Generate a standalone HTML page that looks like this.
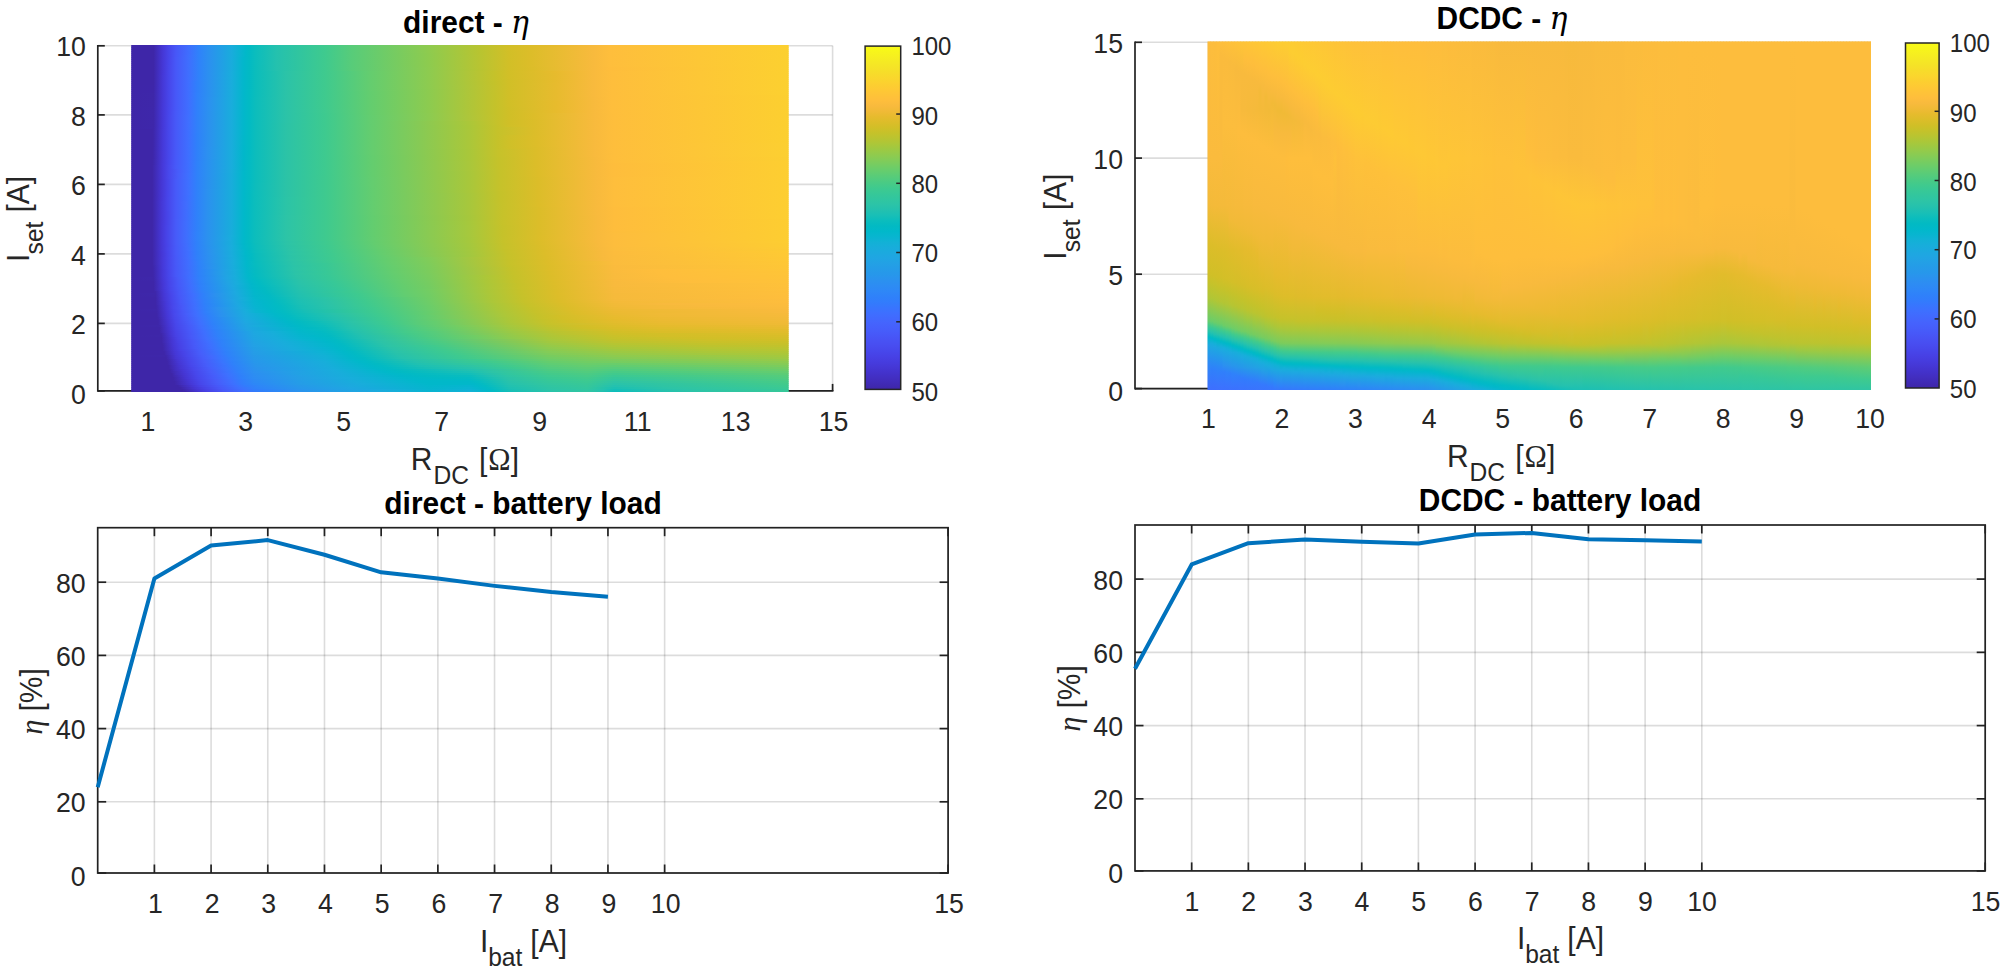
<!DOCTYPE html>
<html><head><meta charset="utf-8"><title>efficiency</title>
<style>html,body{margin:0;padding:0;background:#fff;overflow:hidden}svg{display:block}text{font-family:"Liberation Sans",Arial,Helvetica,sans-serif}.m{font-family:"DejaVu Serif","Liberation Serif",serif;font-style:italic;font-weight:normal}.s{font-family:"Liberation Serif","DejaVu Serif",serif}.mi{font-family:"Liberation Serif","DejaVu Serif",serif;font-style:italic}</style></head>
<body><svg width="2007" height="974" viewBox="0 0 2007 974">
<rect width="2007" height="974" fill="#fff"/>
<defs><linearGradient id="g1"><stop offset="0" stop-color="#3e26a8"/><stop offset=".034" stop-color="#3e26a8"/><stop offset=".048" stop-color="#4537d6"/><stop offset=".057" stop-color="#4745e9"/><stop offset=".068" stop-color="#4757f7"/><stop offset=".087" stop-color="#3f6dfe"/><stop offset=".103" stop-color="#2f82fa"/><stop offset=".119" stop-color="#2b91ef"/><stop offset=".153" stop-color="#19acdc"/><stop offset=".174" stop-color="#01b8c9"/><stop offset=".18" stop-color="#02bac4"/><stop offset=".189" stop-color="#0bbdbd"/><stop offset=".221" stop-color="#24c1ae"/><stop offset=".295" stop-color="#3fca8e"/><stop offset=".336" stop-color="#58cc79"/><stop offset=".454" stop-color="#8fcb4e"/><stop offset=".53" stop-color="#b8c431"/><stop offset=".571" stop-color="#d0bf27"/><stop offset=".605" stop-color="#dcbd29"/><stop offset=".642" stop-color="#e6bb2d"/><stop offset=".703" stop-color="#f8ba3d"/><stop offset=".728" stop-color="#febe3c"/><stop offset="1" stop-color="#fcd030"/></linearGradient>
<linearGradient id="g2"><stop offset="0" stop-color="#3e26a8"/><stop offset=".034" stop-color="#3e26a8"/><stop offset=".048" stop-color="#4537d6"/><stop offset=".057" stop-color="#4745e9"/><stop offset=".068" stop-color="#4757f7"/><stop offset=".087" stop-color="#3f6dfe"/><stop offset=".103" stop-color="#2f82fa"/><stop offset=".119" stop-color="#2b91ef"/><stop offset=".153" stop-color="#19acdc"/><stop offset=".174" stop-color="#01b8c9"/><stop offset=".18" stop-color="#02bac3"/><stop offset=".189" stop-color="#0bbdbd"/><stop offset=".221" stop-color="#24c1ae"/><stop offset=".295" stop-color="#3fca8e"/><stop offset=".336" stop-color="#58cc79"/><stop offset=".454" stop-color="#8fcb4e"/><stop offset=".532" stop-color="#b9c430"/><stop offset=".575" stop-color="#d3bf27"/><stop offset=".607" stop-color="#dcbd29"/><stop offset=".703" stop-color="#f8ba3d"/><stop offset=".728" stop-color="#febe3c"/><stop offset="1" stop-color="#fcd030"/></linearGradient>
<linearGradient id="g3"><stop offset="0" stop-color="#3e26a8"/><stop offset=".034" stop-color="#3e26a8"/><stop offset=".048" stop-color="#4537d6"/><stop offset=".057" stop-color="#4745e9"/><stop offset=".068" stop-color="#4757f7"/><stop offset=".087" stop-color="#3f6dfe"/><stop offset=".103" stop-color="#2f82fa"/><stop offset=".119" stop-color="#2b91ef"/><stop offset=".153" stop-color="#19acdc"/><stop offset=".174" stop-color="#01b8c9"/><stop offset=".18" stop-color="#02bac3"/><stop offset=".189" stop-color="#0bbdbd"/><stop offset=".221" stop-color="#24c1ae"/><stop offset=".295" stop-color="#3fca8e"/><stop offset=".336" stop-color="#58cc79"/><stop offset=".454" stop-color="#8fcb4e"/><stop offset=".532" stop-color="#b9c430"/><stop offset=".575" stop-color="#d3bf27"/><stop offset=".607" stop-color="#dcbd29"/><stop offset=".703" stop-color="#f8ba3d"/><stop offset=".728" stop-color="#febe3c"/><stop offset="1" stop-color="#fcd030"/></linearGradient>
<linearGradient id="g4"><stop offset="0" stop-color="#3e26a8"/><stop offset=".034" stop-color="#3e26a8"/><stop offset=".048" stop-color="#4537d6"/><stop offset=".057" stop-color="#4745e9"/><stop offset=".068" stop-color="#4757f7"/><stop offset=".087" stop-color="#3f6dfe"/><stop offset=".103" stop-color="#2f82fa"/><stop offset=".119" stop-color="#2b91ef"/><stop offset=".153" stop-color="#19acdc"/><stop offset=".174" stop-color="#01b8c9"/><stop offset=".18" stop-color="#02bac3"/><stop offset=".189" stop-color="#0bbdbd"/><stop offset=".221" stop-color="#24c1ae"/><stop offset=".295" stop-color="#3fca8e"/><stop offset=".336" stop-color="#58cc79"/><stop offset=".454" stop-color="#8fcb4e"/><stop offset=".532" stop-color="#b9c430"/><stop offset=".575" stop-color="#d2bf27"/><stop offset=".607" stop-color="#dcbd29"/><stop offset=".703" stop-color="#f8ba3d"/><stop offset=".728" stop-color="#febe3c"/><stop offset="1" stop-color="#fcd030"/></linearGradient>
<linearGradient id="g5"><stop offset="0" stop-color="#3e26a8"/><stop offset=".034" stop-color="#3e26a8"/><stop offset=".048" stop-color="#4537d6"/><stop offset=".057" stop-color="#4745e9"/><stop offset=".068" stop-color="#4757f8"/><stop offset=".087" stop-color="#3f6dfe"/><stop offset=".103" stop-color="#2f82fa"/><stop offset=".119" stop-color="#2b91ef"/><stop offset=".153" stop-color="#19acdc"/><stop offset=".174" stop-color="#01b8c9"/><stop offset=".18" stop-color="#02bac3"/><stop offset=".189" stop-color="#0bbdbd"/><stop offset=".221" stop-color="#24c1ae"/><stop offset=".295" stop-color="#3fca8e"/><stop offset=".336" stop-color="#58cc79"/><stop offset=".454" stop-color="#8ecb4e"/><stop offset=".532" stop-color="#b9c430"/><stop offset=".575" stop-color="#d2bf27"/><stop offset=".607" stop-color="#dcbd29"/><stop offset=".703" stop-color="#f8ba3d"/><stop offset=".728" stop-color="#febe3c"/><stop offset="1" stop-color="#fcd030"/></linearGradient>
<linearGradient id="g6"><stop offset="0" stop-color="#3e26a8"/><stop offset=".034" stop-color="#3e26a8"/><stop offset=".048" stop-color="#4537d6"/><stop offset=".057" stop-color="#4745e9"/><stop offset=".068" stop-color="#4757f8"/><stop offset=".087" stop-color="#3f6efe"/><stop offset=".103" stop-color="#2f82fa"/><stop offset=".119" stop-color="#2b91ef"/><stop offset=".153" stop-color="#19acdc"/><stop offset=".174" stop-color="#01b8c9"/><stop offset=".18" stop-color="#02bac3"/><stop offset=".189" stop-color="#0bbdbd"/><stop offset=".221" stop-color="#24c1ae"/><stop offset=".295" stop-color="#3fca8e"/><stop offset=".336" stop-color="#58cc79"/><stop offset=".454" stop-color="#8ecb4e"/><stop offset=".532" stop-color="#b9c431"/><stop offset=".575" stop-color="#d2bf27"/><stop offset=".607" stop-color="#dcbd29"/><stop offset=".703" stop-color="#f8ba3d"/><stop offset=".728" stop-color="#febe3c"/><stop offset="1" stop-color="#fcd030"/></linearGradient>
<linearGradient id="g7"><stop offset="0" stop-color="#3e26a8"/><stop offset=".034" stop-color="#3e26a8"/><stop offset=".048" stop-color="#4537d6"/><stop offset=".057" stop-color="#4745e9"/><stop offset=".068" stop-color="#4758f8"/><stop offset=".087" stop-color="#3f6efe"/><stop offset=".103" stop-color="#2f82fa"/><stop offset=".119" stop-color="#2b91ef"/><stop offset=".153" stop-color="#19acdc"/><stop offset=".171" stop-color="#02b7cb"/><stop offset=".18" stop-color="#02bac3"/><stop offset=".189" stop-color="#0bbdbd"/><stop offset=".221" stop-color="#24c1ae"/><stop offset=".295" stop-color="#3fca8e"/><stop offset=".336" stop-color="#58cc79"/><stop offset=".454" stop-color="#8ecb4e"/><stop offset=".532" stop-color="#b9c431"/><stop offset=".575" stop-color="#d2bf27"/><stop offset=".607" stop-color="#dcbd29"/><stop offset=".703" stop-color="#f8ba3d"/><stop offset=".728" stop-color="#febe3c"/><stop offset="1" stop-color="#fcd030"/></linearGradient>
<linearGradient id="g8"><stop offset="0" stop-color="#3e26a8"/><stop offset=".034" stop-color="#3e26a8"/><stop offset=".048" stop-color="#4537d6"/><stop offset=".057" stop-color="#4745ea"/><stop offset=".068" stop-color="#4758f8"/><stop offset=".087" stop-color="#3f6efe"/><stop offset=".103" stop-color="#2f82fa"/><stop offset=".119" stop-color="#2b91ef"/><stop offset=".153" stop-color="#19acdc"/><stop offset=".171" stop-color="#02b7cb"/><stop offset=".18" stop-color="#02bac3"/><stop offset=".189" stop-color="#0bbdbd"/><stop offset=".221" stop-color="#24c1ae"/><stop offset=".295" stop-color="#3fca8e"/><stop offset=".336" stop-color="#58cc79"/><stop offset=".454" stop-color="#8ecb4e"/><stop offset=".532" stop-color="#b9c431"/><stop offset=".575" stop-color="#d2bf27"/><stop offset=".607" stop-color="#dcbd29"/><stop offset=".703" stop-color="#f8ba3d"/><stop offset=".728" stop-color="#febe3c"/><stop offset="1" stop-color="#fcd030"/></linearGradient>
<linearGradient id="g9"><stop offset="0" stop-color="#3e26a8"/><stop offset=".034" stop-color="#3e26a8"/><stop offset=".048" stop-color="#4537d6"/><stop offset=".057" stop-color="#4745ea"/><stop offset=".068" stop-color="#4758f8"/><stop offset=".087" stop-color="#3f6efe"/><stop offset=".103" stop-color="#2f82fa"/><stop offset=".119" stop-color="#2b91ef"/><stop offset=".153" stop-color="#19acdc"/><stop offset=".171" stop-color="#02b7cb"/><stop offset=".18" stop-color="#02bac3"/><stop offset=".189" stop-color="#0bbdbd"/><stop offset=".221" stop-color="#24c1ae"/><stop offset=".295" stop-color="#3fca8e"/><stop offset=".336" stop-color="#58cc79"/><stop offset=".454" stop-color="#8ecb4e"/><stop offset=".532" stop-color="#b9c431"/><stop offset=".575" stop-color="#d2bf27"/><stop offset=".607" stop-color="#dcbd29"/><stop offset=".703" stop-color="#f8ba3d"/><stop offset=".728" stop-color="#febe3c"/><stop offset="1" stop-color="#fcd030"/></linearGradient>
<linearGradient id="g10"><stop offset="0" stop-color="#3e26a8"/><stop offset=".034" stop-color="#3e26a8"/><stop offset=".048" stop-color="#4537d6"/><stop offset=".057" stop-color="#4745ea"/><stop offset=".068" stop-color="#4758f8"/><stop offset=".087" stop-color="#3f6efe"/><stop offset=".103" stop-color="#2f82fa"/><stop offset=".119" stop-color="#2b91ef"/><stop offset=".153" stop-color="#19acdc"/><stop offset=".171" stop-color="#02b7cb"/><stop offset=".18" stop-color="#02bac3"/><stop offset=".189" stop-color="#0bbdbd"/><stop offset=".221" stop-color="#24c1ae"/><stop offset=".295" stop-color="#3fca8e"/><stop offset=".336" stop-color="#58cc79"/><stop offset=".454" stop-color="#8ecb4e"/><stop offset=".532" stop-color="#b9c431"/><stop offset=".575" stop-color="#d2bf27"/><stop offset=".607" stop-color="#dcbd29"/><stop offset=".703" stop-color="#f8ba3d"/><stop offset=".728" stop-color="#febe3c"/><stop offset="1" stop-color="#fcd030"/></linearGradient>
<linearGradient id="g11"><stop offset="0" stop-color="#3e26a8"/><stop offset=".034" stop-color="#3e26a8"/><stop offset=".048" stop-color="#4537d6"/><stop offset=".057" stop-color="#4746ea"/><stop offset=".068" stop-color="#4758f8"/><stop offset=".087" stop-color="#3f6efe"/><stop offset=".103" stop-color="#2f82fa"/><stop offset=".119" stop-color="#2b91ef"/><stop offset=".153" stop-color="#19acdc"/><stop offset=".171" stop-color="#02b7cb"/><stop offset=".18" stop-color="#02bac3"/><stop offset=".189" stop-color="#0bbdbc"/><stop offset=".221" stop-color="#24c1ae"/><stop offset=".295" stop-color="#3fca8e"/><stop offset=".336" stop-color="#58cc79"/><stop offset=".454" stop-color="#8ecb4e"/><stop offset=".532" stop-color="#b9c431"/><stop offset=".575" stop-color="#d2bf27"/><stop offset=".607" stop-color="#dcbd29"/><stop offset=".703" stop-color="#f8ba3d"/><stop offset=".728" stop-color="#febe3c"/><stop offset="1" stop-color="#fcd030"/></linearGradient>
<linearGradient id="g12"><stop offset="0" stop-color="#3e26a8"/><stop offset=".034" stop-color="#3e26a8"/><stop offset=".048" stop-color="#4537d6"/><stop offset=".057" stop-color="#4746ea"/><stop offset=".068" stop-color="#4758f8"/><stop offset=".087" stop-color="#3f6efe"/><stop offset=".103" stop-color="#2f82fa"/><stop offset=".119" stop-color="#2b91ef"/><stop offset=".153" stop-color="#19acdc"/><stop offset=".171" stop-color="#02b7cb"/><stop offset=".18" stop-color="#02bac3"/><stop offset=".189" stop-color="#0bbdbc"/><stop offset=".221" stop-color="#24c1ae"/><stop offset=".295" stop-color="#3fca8e"/><stop offset=".336" stop-color="#58cc79"/><stop offset=".454" stop-color="#8ecb4f"/><stop offset=".532" stop-color="#b9c431"/><stop offset=".575" stop-color="#d2bf27"/><stop offset=".61" stop-color="#dcbd29"/><stop offset=".703" stop-color="#f8ba3d"/><stop offset=".728" stop-color="#febd3c"/><stop offset="1" stop-color="#fcd030"/></linearGradient>
<linearGradient id="g13"><stop offset="0" stop-color="#3e26a8"/><stop offset=".034" stop-color="#3e26a8"/><stop offset=".048" stop-color="#4537d6"/><stop offset=".057" stop-color="#4746ea"/><stop offset=".068" stop-color="#4758f8"/><stop offset=".087" stop-color="#3f6efe"/><stop offset=".103" stop-color="#2f82fa"/><stop offset=".119" stop-color="#2b91ef"/><stop offset=".153" stop-color="#19acdc"/><stop offset=".171" stop-color="#02b7cb"/><stop offset=".18" stop-color="#02bac3"/><stop offset=".189" stop-color="#0bbdbc"/><stop offset=".221" stop-color="#24c1ae"/><stop offset=".295" stop-color="#3fca8e"/><stop offset=".336" stop-color="#58cc79"/><stop offset=".454" stop-color="#8ecb4f"/><stop offset=".532" stop-color="#b8c431"/><stop offset=".575" stop-color="#d2bf27"/><stop offset=".61" stop-color="#dcbd29"/><stop offset=".703" stop-color="#f8ba3d"/><stop offset=".728" stop-color="#febd3c"/><stop offset="1" stop-color="#fcd030"/></linearGradient>
<linearGradient id="g14"><stop offset="0" stop-color="#3e26a8"/><stop offset=".034" stop-color="#3e26a8"/><stop offset=".048" stop-color="#4537d6"/><stop offset=".057" stop-color="#4746ea"/><stop offset=".068" stop-color="#4758f8"/><stop offset=".087" stop-color="#3f6efe"/><stop offset=".103" stop-color="#2f82fa"/><stop offset=".119" stop-color="#2b91ef"/><stop offset=".153" stop-color="#19addc"/><stop offset=".171" stop-color="#02b7cb"/><stop offset=".18" stop-color="#02bac3"/><stop offset=".189" stop-color="#0bbdbc"/><stop offset=".235" stop-color="#2bc3a8"/><stop offset=".295" stop-color="#3fca8e"/><stop offset=".363" stop-color="#64cd6f"/><stop offset=".454" stop-color="#8ecb4f"/><stop offset=".553" stop-color="#c5c22a"/><stop offset=".575" stop-color="#d2bf27"/><stop offset=".644" stop-color="#e7bb2d"/><stop offset=".703" stop-color="#f8ba3d"/><stop offset=".731" stop-color="#febe3c"/><stop offset="1" stop-color="#fcd030"/></linearGradient>
<linearGradient id="g15"><stop offset="0" stop-color="#3e26a8"/><stop offset=".034" stop-color="#3e26a8"/><stop offset=".048" stop-color="#4537d7"/><stop offset=".057" stop-color="#4746ea"/><stop offset=".068" stop-color="#4758f8"/><stop offset=".087" stop-color="#3f6efe"/><stop offset=".103" stop-color="#2f82fa"/><stop offset=".119" stop-color="#2b91ef"/><stop offset=".153" stop-color="#19addc"/><stop offset=".171" stop-color="#02b7cb"/><stop offset=".18" stop-color="#02bac3"/><stop offset=".189" stop-color="#0bbdbc"/><stop offset=".235" stop-color="#2bc3a8"/><stop offset=".295" stop-color="#3fca8e"/><stop offset=".363" stop-color="#64cd6f"/><stop offset=".454" stop-color="#8ecb4f"/><stop offset=".553" stop-color="#c5c22a"/><stop offset=".575" stop-color="#d2bf27"/><stop offset=".644" stop-color="#e6bb2d"/><stop offset=".703" stop-color="#f8ba3d"/><stop offset=".731" stop-color="#febe3c"/><stop offset="1" stop-color="#fcd030"/></linearGradient>
<linearGradient id="g16"><stop offset="0" stop-color="#3e26a8"/><stop offset=".034" stop-color="#3e26a8"/><stop offset=".048" stop-color="#4538d7"/><stop offset=".057" stop-color="#4746ea"/><stop offset=".068" stop-color="#4758f8"/><stop offset=".087" stop-color="#3f6efe"/><stop offset=".103" stop-color="#2f82fa"/><stop offset=".119" stop-color="#2b91ef"/><stop offset=".153" stop-color="#19addc"/><stop offset=".171" stop-color="#02b7cb"/><stop offset=".18" stop-color="#02bac3"/><stop offset=".189" stop-color="#0bbdbc"/><stop offset=".235" stop-color="#2bc3a8"/><stop offset=".295" stop-color="#3fca8e"/><stop offset=".363" stop-color="#64cd6f"/><stop offset=".454" stop-color="#8ecb4f"/><stop offset=".553" stop-color="#c5c22a"/><stop offset=".575" stop-color="#d2bf27"/><stop offset=".644" stop-color="#e6bb2d"/><stop offset=".703" stop-color="#f8ba3d"/><stop offset=".731" stop-color="#febe3c"/><stop offset="1" stop-color="#fcd030"/></linearGradient>
<linearGradient id="g17"><stop offset="0" stop-color="#3e26a8"/><stop offset=".034" stop-color="#3e26a8"/><stop offset=".048" stop-color="#4538d7"/><stop offset=".057" stop-color="#4746ea"/><stop offset=".068" stop-color="#4758f8"/><stop offset=".087" stop-color="#3f6eff"/><stop offset=".103" stop-color="#2f82fa"/><stop offset=".119" stop-color="#2b91ef"/><stop offset=".153" stop-color="#19addc"/><stop offset=".171" stop-color="#02b7cb"/><stop offset=".18" stop-color="#02bac3"/><stop offset=".189" stop-color="#0bbdbc"/><stop offset=".235" stop-color="#2bc3a8"/><stop offset=".295" stop-color="#3fca8e"/><stop offset=".363" stop-color="#64cd6f"/><stop offset=".454" stop-color="#8ecb4f"/><stop offset=".553" stop-color="#c5c22a"/><stop offset=".575" stop-color="#d2bf27"/><stop offset=".644" stop-color="#e6bb2d"/><stop offset=".703" stop-color="#f8ba3d"/><stop offset=".731" stop-color="#febe3c"/><stop offset="1" stop-color="#fcd030"/></linearGradient>
<linearGradient id="g18"><stop offset="0" stop-color="#3e26a8"/><stop offset=".034" stop-color="#3e26a8"/><stop offset=".048" stop-color="#4538d7"/><stop offset=".057" stop-color="#4746ea"/><stop offset=".068" stop-color="#4758f8"/><stop offset=".087" stop-color="#3f6eff"/><stop offset=".103" stop-color="#2f82fa"/><stop offset=".119" stop-color="#2b91ef"/><stop offset=".153" stop-color="#19addc"/><stop offset=".171" stop-color="#02b7cb"/><stop offset=".18" stop-color="#02bac3"/><stop offset=".189" stop-color="#0bbdbc"/><stop offset=".235" stop-color="#2bc3a8"/><stop offset=".295" stop-color="#3fca8e"/><stop offset=".363" stop-color="#64cd6f"/><stop offset=".454" stop-color="#8ecb4f"/><stop offset=".553" stop-color="#c5c22a"/><stop offset=".575" stop-color="#d1bf27"/><stop offset=".644" stop-color="#e6bb2d"/><stop offset=".703" stop-color="#f8ba3d"/><stop offset=".731" stop-color="#febe3c"/><stop offset="1" stop-color="#fcd030"/></linearGradient>
<linearGradient id="g19"><stop offset="0" stop-color="#3e26a8"/><stop offset=".034" stop-color="#3e26a8"/><stop offset=".048" stop-color="#4538d7"/><stop offset=".057" stop-color="#4746ea"/><stop offset=".068" stop-color="#4758f8"/><stop offset=".087" stop-color="#3f6eff"/><stop offset=".1" stop-color="#307ffb"/><stop offset=".119" stop-color="#2b91ef"/><stop offset=".153" stop-color="#19addc"/><stop offset=".171" stop-color="#02b7cb"/><stop offset=".18" stop-color="#02bac3"/><stop offset=".189" stop-color="#0bbdbc"/><stop offset=".235" stop-color="#2bc3a8"/><stop offset=".295" stop-color="#3fca8e"/><stop offset=".363" stop-color="#64cd6f"/><stop offset=".454" stop-color="#8ecb4f"/><stop offset=".553" stop-color="#c4c22a"/><stop offset=".575" stop-color="#d1bf27"/><stop offset=".644" stop-color="#e6bb2d"/><stop offset=".703" stop-color="#f8ba3d"/><stop offset=".731" stop-color="#febe3c"/><stop offset="1" stop-color="#fcd030"/></linearGradient>
<linearGradient id="g20"><stop offset="0" stop-color="#3e26a8"/><stop offset=".034" stop-color="#3e26a8"/><stop offset=".048" stop-color="#4538d7"/><stop offset=".057" stop-color="#4746ea"/><stop offset=".068" stop-color="#4758f8"/><stop offset=".087" stop-color="#3f6eff"/><stop offset=".1" stop-color="#307ffb"/><stop offset=".119" stop-color="#2b91ef"/><stop offset=".153" stop-color="#19addc"/><stop offset=".171" stop-color="#02b7cb"/><stop offset=".18" stop-color="#02bac3"/><stop offset=".189" stop-color="#0bbdbc"/><stop offset=".235" stop-color="#2bc3a8"/><stop offset=".295" stop-color="#3fca8e"/><stop offset=".363" stop-color="#64cd6f"/><stop offset=".454" stop-color="#8ecb4f"/><stop offset=".553" stop-color="#c4c22a"/><stop offset=".575" stop-color="#d1bf27"/><stop offset=".646" stop-color="#e7bb2e"/><stop offset=".703" stop-color="#f8ba3d"/><stop offset=".731" stop-color="#febe3c"/><stop offset="1" stop-color="#fcd030"/></linearGradient>
<linearGradient id="g21"><stop offset="0" stop-color="#3e26a8"/><stop offset=".034" stop-color="#3e26a9"/><stop offset=".048" stop-color="#4538d7"/><stop offset=".057" stop-color="#4746ea"/><stop offset=".068" stop-color="#4758f8"/><stop offset=".087" stop-color="#3f6eff"/><stop offset=".1" stop-color="#307ffb"/><stop offset=".119" stop-color="#2b91ef"/><stop offset=".153" stop-color="#19addc"/><stop offset=".171" stop-color="#02b7cb"/><stop offset=".18" stop-color="#02bac3"/><stop offset=".189" stop-color="#0bbdbc"/><stop offset=".235" stop-color="#2bc3a8"/><stop offset=".295" stop-color="#3fca8e"/><stop offset=".363" stop-color="#64cd6f"/><stop offset=".454" stop-color="#8ecb4f"/><stop offset=".553" stop-color="#c4c22b"/><stop offset=".575" stop-color="#d1bf27"/><stop offset=".646" stop-color="#e7bb2e"/><stop offset=".703" stop-color="#f8ba3d"/><stop offset=".731" stop-color="#febe3c"/><stop offset="1" stop-color="#fcd030"/></linearGradient>
<linearGradient id="g22"><stop offset="0" stop-color="#3e26a8"/><stop offset=".034" stop-color="#3e26a9"/><stop offset=".048" stop-color="#4538d7"/><stop offset=".057" stop-color="#4746ea"/><stop offset=".068" stop-color="#4758f8"/><stop offset=".087" stop-color="#3f6eff"/><stop offset=".1" stop-color="#307ffb"/><stop offset=".119" stop-color="#2b91ef"/><stop offset=".153" stop-color="#19addc"/><stop offset=".171" stop-color="#02b7cb"/><stop offset=".18" stop-color="#02bac3"/><stop offset=".189" stop-color="#0bbdbc"/><stop offset=".235" stop-color="#2bc3a8"/><stop offset=".295" stop-color="#3fca8e"/><stop offset=".363" stop-color="#64cd6f"/><stop offset=".454" stop-color="#8ecb4f"/><stop offset=".553" stop-color="#c4c22b"/><stop offset=".575" stop-color="#d1bf27"/><stop offset=".646" stop-color="#e7bb2e"/><stop offset=".703" stop-color="#f8ba3d"/><stop offset=".731" stop-color="#febe3c"/><stop offset="1" stop-color="#fcd030"/></linearGradient>
<linearGradient id="g23"><stop offset="0" stop-color="#3e26a8"/><stop offset=".034" stop-color="#3e26a9"/><stop offset=".048" stop-color="#4538d7"/><stop offset=".057" stop-color="#4746ea"/><stop offset=".068" stop-color="#4758f8"/><stop offset=".087" stop-color="#3f6eff"/><stop offset=".1" stop-color="#307ffb"/><stop offset=".119" stop-color="#2b91ef"/><stop offset=".153" stop-color="#19addc"/><stop offset=".171" stop-color="#02b7cb"/><stop offset=".18" stop-color="#02bbc3"/><stop offset=".189" stop-color="#0bbdbc"/><stop offset=".235" stop-color="#2bc3a8"/><stop offset=".295" stop-color="#3fca8e"/><stop offset=".363" stop-color="#64cd6f"/><stop offset=".454" stop-color="#8dcb4f"/><stop offset=".553" stop-color="#c4c22b"/><stop offset=".575" stop-color="#d1bf27"/><stop offset=".646" stop-color="#e7bb2e"/><stop offset=".703" stop-color="#f8ba3d"/><stop offset=".731" stop-color="#febe3c"/><stop offset="1" stop-color="#fcd030"/></linearGradient>
<linearGradient id="g24"><stop offset="0" stop-color="#3e26a8"/><stop offset=".034" stop-color="#3e26a9"/><stop offset=".048" stop-color="#4538d7"/><stop offset=".057" stop-color="#4746ea"/><stop offset=".068" stop-color="#4758f8"/><stop offset=".087" stop-color="#3f6eff"/><stop offset=".1" stop-color="#307ffb"/><stop offset=".119" stop-color="#2b91ef"/><stop offset=".153" stop-color="#19addc"/><stop offset=".171" stop-color="#02b7cb"/><stop offset=".18" stop-color="#02bbc3"/><stop offset=".189" stop-color="#0bbdbc"/><stop offset=".235" stop-color="#2bc3a8"/><stop offset=".295" stop-color="#3fca8e"/><stop offset=".363" stop-color="#63cd6f"/><stop offset=".454" stop-color="#8dcb4f"/><stop offset=".553" stop-color="#c4c22b"/><stop offset=".575" stop-color="#d1bf27"/><stop offset=".646" stop-color="#e7bb2e"/><stop offset=".703" stop-color="#f8ba3d"/><stop offset=".731" stop-color="#febe3c"/><stop offset="1" stop-color="#fcd030"/></linearGradient>
<linearGradient id="g25"><stop offset="0" stop-color="#3e26a8"/><stop offset=".034" stop-color="#3e27a9"/><stop offset=".048" stop-color="#4538d7"/><stop offset=".057" stop-color="#4746ea"/><stop offset=".068" stop-color="#4758f8"/><stop offset=".087" stop-color="#3f6eff"/><stop offset=".1" stop-color="#3080fb"/><stop offset=".119" stop-color="#2b91ef"/><stop offset=".153" stop-color="#19addc"/><stop offset=".171" stop-color="#02b7cb"/><stop offset=".18" stop-color="#02bbc3"/><stop offset=".189" stop-color="#0bbdbc"/><stop offset=".235" stop-color="#2bc3a8"/><stop offset=".295" stop-color="#3fca8e"/><stop offset=".363" stop-color="#63cd6f"/><stop offset=".454" stop-color="#8dcb4f"/><stop offset=".555" stop-color="#c5c22a"/><stop offset=".575" stop-color="#d1bf27"/><stop offset=".646" stop-color="#e7bb2e"/><stop offset=".703" stop-color="#f8ba3d"/><stop offset=".731" stop-color="#febe3c"/><stop offset="1" stop-color="#fcd030"/></linearGradient>
<linearGradient id="g26"><stop offset="0" stop-color="#3e26a8"/><stop offset=".034" stop-color="#3e27a9"/><stop offset=".048" stop-color="#4538d7"/><stop offset=".057" stop-color="#4746ea"/><stop offset=".068" stop-color="#4758f8"/><stop offset=".087" stop-color="#3f6eff"/><stop offset=".1" stop-color="#3080fb"/><stop offset=".119" stop-color="#2b91ef"/><stop offset=".153" stop-color="#19addc"/><stop offset=".171" stop-color="#02b7cb"/><stop offset=".18" stop-color="#02bbc3"/><stop offset=".189" stop-color="#0bbdbc"/><stop offset=".235" stop-color="#2bc3a8"/><stop offset=".295" stop-color="#3fca8e"/><stop offset=".363" stop-color="#63cd6f"/><stop offset=".454" stop-color="#8dcb4f"/><stop offset=".555" stop-color="#c5c22a"/><stop offset=".575" stop-color="#d1bf27"/><stop offset=".646" stop-color="#e7bb2e"/><stop offset=".703" stop-color="#f8ba3d"/><stop offset=".731" stop-color="#febe3c"/><stop offset="1" stop-color="#fccf30"/></linearGradient>
<linearGradient id="g27"><stop offset="0" stop-color="#3e26a8"/><stop offset=".034" stop-color="#3e27a9"/><stop offset=".048" stop-color="#4538d7"/><stop offset=".057" stop-color="#4746ea"/><stop offset=".068" stop-color="#4758f8"/><stop offset=".087" stop-color="#3f6eff"/><stop offset=".1" stop-color="#3080fb"/><stop offset=".119" stop-color="#2b92ef"/><stop offset=".153" stop-color="#19addc"/><stop offset=".171" stop-color="#02b7cb"/><stop offset=".18" stop-color="#02bbc3"/><stop offset=".189" stop-color="#0cbdbc"/><stop offset=".235" stop-color="#2bc3a8"/><stop offset=".295" stop-color="#3fca8e"/><stop offset=".363" stop-color="#63cd6f"/><stop offset=".454" stop-color="#8dcb4f"/><stop offset=".555" stop-color="#c5c22a"/><stop offset=".575" stop-color="#d1bf27"/><stop offset=".646" stop-color="#e7bb2e"/><stop offset=".705" stop-color="#f8ba3d"/><stop offset=".731" stop-color="#febe3c"/><stop offset="1" stop-color="#fccf30"/></linearGradient>
<linearGradient id="g28"><stop offset="0" stop-color="#3e26a8"/><stop offset=".034" stop-color="#3e27a9"/><stop offset=".048" stop-color="#4538d7"/><stop offset=".057" stop-color="#4746ea"/><stop offset=".068" stop-color="#4758f8"/><stop offset=".087" stop-color="#3f6eff"/><stop offset=".1" stop-color="#3080fb"/><stop offset=".119" stop-color="#2b92ef"/><stop offset=".153" stop-color="#19addc"/><stop offset=".171" stop-color="#02b7cb"/><stop offset=".18" stop-color="#02bbc3"/><stop offset=".189" stop-color="#0cbdbc"/><stop offset=".235" stop-color="#2bc3a8"/><stop offset=".295" stop-color="#3fca8e"/><stop offset=".363" stop-color="#63cd6f"/><stop offset=".454" stop-color="#8dcb4f"/><stop offset=".555" stop-color="#c5c22a"/><stop offset=".575" stop-color="#d1bf27"/><stop offset=".646" stop-color="#e7bb2e"/><stop offset=".705" stop-color="#f8ba3d"/><stop offset=".731" stop-color="#febe3c"/><stop offset="1" stop-color="#fccf30"/></linearGradient>
<linearGradient id="g29"><stop offset="0" stop-color="#3e26a8"/><stop offset=".034" stop-color="#3e27a9"/><stop offset=".048" stop-color="#4538d7"/><stop offset=".057" stop-color="#4746ea"/><stop offset=".068" stop-color="#4758f8"/><stop offset=".087" stop-color="#3f6eff"/><stop offset=".1" stop-color="#3080fb"/><stop offset=".119" stop-color="#2b92ef"/><stop offset=".153" stop-color="#19addc"/><stop offset=".171" stop-color="#02b7cb"/><stop offset=".18" stop-color="#02bbc3"/><stop offset=".189" stop-color="#0cbdbc"/><stop offset=".235" stop-color="#2bc3a8"/><stop offset=".295" stop-color="#3fca8e"/><stop offset=".363" stop-color="#63cd6f"/><stop offset=".454" stop-color="#8dcb4f"/><stop offset=".555" stop-color="#c5c22a"/><stop offset=".575" stop-color="#d1bf27"/><stop offset=".646" stop-color="#e7bb2d"/><stop offset=".705" stop-color="#f8ba3d"/><stop offset=".731" stop-color="#febe3c"/><stop offset="1" stop-color="#fccf30"/></linearGradient>
<linearGradient id="g30"><stop offset="0" stop-color="#3e26a8"/><stop offset=".034" stop-color="#3e27a9"/><stop offset=".048" stop-color="#4538d8"/><stop offset=".057" stop-color="#4746ea"/><stop offset=".068" stop-color="#4758f8"/><stop offset=".087" stop-color="#3f6eff"/><stop offset=".1" stop-color="#3080fb"/><stop offset=".119" stop-color="#2b92ef"/><stop offset=".153" stop-color="#19addc"/><stop offset=".171" stop-color="#02b7cb"/><stop offset=".18" stop-color="#02bbc3"/><stop offset=".189" stop-color="#0cbdbc"/><stop offset=".235" stop-color="#2bc3a8"/><stop offset=".295" stop-color="#3fca8e"/><stop offset=".363" stop-color="#63cd6f"/><stop offset=".454" stop-color="#8dcb4f"/><stop offset=".555" stop-color="#c5c22a"/><stop offset=".575" stop-color="#d1bf27"/><stop offset=".646" stop-color="#e7bb2d"/><stop offset=".705" stop-color="#f8ba3d"/><stop offset=".731" stop-color="#febe3c"/><stop offset="1" stop-color="#fccf30"/></linearGradient>
<linearGradient id="g31"><stop offset="0" stop-color="#3e26a8"/><stop offset=".034" stop-color="#3e27a9"/><stop offset=".048" stop-color="#4538d8"/><stop offset=".057" stop-color="#4746ea"/><stop offset=".068" stop-color="#4758f8"/><stop offset=".087" stop-color="#3f6eff"/><stop offset=".1" stop-color="#3080fb"/><stop offset=".119" stop-color="#2b92ef"/><stop offset=".153" stop-color="#19addc"/><stop offset=".171" stop-color="#02b7cb"/><stop offset=".18" stop-color="#02bbc3"/><stop offset=".189" stop-color="#0cbdbc"/><stop offset=".235" stop-color="#2bc3a8"/><stop offset=".295" stop-color="#3fca8e"/><stop offset=".363" stop-color="#63cd6f"/><stop offset=".454" stop-color="#8dcb4f"/><stop offset=".555" stop-color="#c5c22a"/><stop offset=".575" stop-color="#d1bf27"/><stop offset=".646" stop-color="#e7bb2d"/><stop offset=".705" stop-color="#f8ba3d"/><stop offset=".731" stop-color="#febe3c"/><stop offset="1" stop-color="#fccf30"/></linearGradient>
<linearGradient id="g32"><stop offset="0" stop-color="#3e26a8"/><stop offset=".034" stop-color="#3e27aa"/><stop offset=".048" stop-color="#4538d8"/><stop offset=".057" stop-color="#4746eb"/><stop offset=".068" stop-color="#4758f8"/><stop offset=".087" stop-color="#3f6eff"/><stop offset=".1" stop-color="#3080fb"/><stop offset=".119" stop-color="#2b92ef"/><stop offset=".153" stop-color="#19addc"/><stop offset=".171" stop-color="#02b7cb"/><stop offset=".18" stop-color="#02bbc3"/><stop offset=".189" stop-color="#0cbdbc"/><stop offset=".235" stop-color="#2bc3a8"/><stop offset=".295" stop-color="#3fca8e"/><stop offset=".363" stop-color="#63cd6f"/><stop offset=".454" stop-color="#8dcb4f"/><stop offset=".555" stop-color="#c5c22a"/><stop offset=".575" stop-color="#d0bf27"/><stop offset=".646" stop-color="#e7bb2d"/><stop offset=".705" stop-color="#f8ba3d"/><stop offset=".731" stop-color="#febe3c"/><stop offset="1" stop-color="#fccf30"/></linearGradient>
<linearGradient id="g33"><stop offset="0" stop-color="#3e26a8"/><stop offset=".034" stop-color="#3e27aa"/><stop offset=".048" stop-color="#4538d8"/><stop offset=".057" stop-color="#4746eb"/><stop offset=".068" stop-color="#4758f8"/><stop offset=".087" stop-color="#3f6eff"/><stop offset=".1" stop-color="#3080fb"/><stop offset=".119" stop-color="#2b92ef"/><stop offset=".153" stop-color="#19addc"/><stop offset=".171" stop-color="#02b7cb"/><stop offset=".18" stop-color="#02bbc3"/><stop offset=".189" stop-color="#0cbdbc"/><stop offset=".235" stop-color="#2bc3a8"/><stop offset=".295" stop-color="#3fca8f"/><stop offset=".363" stop-color="#63cd6f"/><stop offset=".454" stop-color="#8dcb4f"/><stop offset=".555" stop-color="#c5c22a"/><stop offset=".575" stop-color="#d0bf27"/><stop offset=".646" stop-color="#e7bb2d"/><stop offset=".705" stop-color="#f8ba3d"/><stop offset=".731" stop-color="#febe3c"/><stop offset="1" stop-color="#fccf30"/></linearGradient>
<linearGradient id="g34"><stop offset="0" stop-color="#3e26a8"/><stop offset=".034" stop-color="#3e27aa"/><stop offset=".048" stop-color="#4538d8"/><stop offset=".057" stop-color="#4746eb"/><stop offset=".068" stop-color="#4759f8"/><stop offset=".087" stop-color="#3f6eff"/><stop offset=".1" stop-color="#3080fb"/><stop offset=".119" stop-color="#2b92ee"/><stop offset=".153" stop-color="#19addc"/><stop offset=".171" stop-color="#02b7cb"/><stop offset=".18" stop-color="#02bbc3"/><stop offset=".189" stop-color="#0cbdbc"/><stop offset=".235" stop-color="#2bc3a8"/><stop offset=".295" stop-color="#3fca8f"/><stop offset=".363" stop-color="#63cd6f"/><stop offset=".454" stop-color="#8dcb4f"/><stop offset=".555" stop-color="#c5c22a"/><stop offset=".575" stop-color="#d0bf27"/><stop offset=".646" stop-color="#e7bb2d"/><stop offset=".705" stop-color="#f8ba3d"/><stop offset=".731" stop-color="#febe3c"/><stop offset="1" stop-color="#fccf30"/></linearGradient>
<linearGradient id="g35"><stop offset="0" stop-color="#3e26a8"/><stop offset=".034" stop-color="#3e27aa"/><stop offset=".048" stop-color="#4538d8"/><stop offset=".057" stop-color="#4746eb"/><stop offset=".068" stop-color="#4759f8"/><stop offset=".087" stop-color="#3f6eff"/><stop offset=".1" stop-color="#3080fb"/><stop offset=".119" stop-color="#2b92ee"/><stop offset=".153" stop-color="#19addc"/><stop offset=".171" stop-color="#02b7cb"/><stop offset=".18" stop-color="#02bbc3"/><stop offset=".189" stop-color="#0cbdbc"/><stop offset=".235" stop-color="#2bc3a8"/><stop offset=".295" stop-color="#3eca8f"/><stop offset=".363" stop-color="#63cd6f"/><stop offset=".454" stop-color="#8dcb50"/><stop offset=".555" stop-color="#c5c22a"/><stop offset=".575" stop-color="#d0bf27"/><stop offset=".614" stop-color="#ddbd29"/><stop offset=".705" stop-color="#f8ba3d"/><stop offset=".733" stop-color="#febe3c"/><stop offset="1" stop-color="#fccf30"/></linearGradient>
<linearGradient id="g36"><stop offset="0" stop-color="#3e26a8"/><stop offset=".034" stop-color="#3e27aa"/><stop offset=".048" stop-color="#4538d8"/><stop offset=".057" stop-color="#4747eb"/><stop offset=".068" stop-color="#4759f8"/><stop offset=".087" stop-color="#3f6fff"/><stop offset=".1" stop-color="#3080fa"/><stop offset=".119" stop-color="#2b92ee"/><stop offset=".153" stop-color="#19addc"/><stop offset=".171" stop-color="#02b7cb"/><stop offset=".18" stop-color="#02bbc3"/><stop offset=".189" stop-color="#0cbdbc"/><stop offset=".235" stop-color="#2bc3a8"/><stop offset=".295" stop-color="#3eca8f"/><stop offset=".363" stop-color="#63cd70"/><stop offset=".454" stop-color="#8dcb50"/><stop offset=".557" stop-color="#c6c22a"/><stop offset=".575" stop-color="#d0bf27"/><stop offset=".614" stop-color="#ddbd29"/><stop offset=".705" stop-color="#f8ba3d"/><stop offset=".733" stop-color="#febe3c"/><stop offset="1" stop-color="#fccf30"/></linearGradient>
<linearGradient id="g37"><stop offset="0" stop-color="#3e26a8"/><stop offset=".034" stop-color="#3e27aa"/><stop offset=".048" stop-color="#4538d8"/><stop offset=".057" stop-color="#4747eb"/><stop offset=".068" stop-color="#4759f8"/><stop offset=".087" stop-color="#3f6fff"/><stop offset=".1" stop-color="#3080fa"/><stop offset=".119" stop-color="#2b92ee"/><stop offset=".153" stop-color="#19addc"/><stop offset=".171" stop-color="#02b7cb"/><stop offset=".18" stop-color="#02bbc3"/><stop offset=".189" stop-color="#0cbdbc"/><stop offset=".235" stop-color="#2bc3a8"/><stop offset=".295" stop-color="#3eca8f"/><stop offset=".363" stop-color="#63cd70"/><stop offset=".454" stop-color="#8dcb50"/><stop offset=".557" stop-color="#c6c22a"/><stop offset=".575" stop-color="#d0bf27"/><stop offset=".614" stop-color="#ddbd29"/><stop offset=".705" stop-color="#f8ba3d"/><stop offset=".733" stop-color="#febe3c"/><stop offset="1" stop-color="#fccf30"/></linearGradient>
<linearGradient id="g38"><stop offset="0" stop-color="#3e26a8"/><stop offset=".034" stop-color="#3e27aa"/><stop offset=".048" stop-color="#4538d8"/><stop offset=".057" stop-color="#4747eb"/><stop offset=".068" stop-color="#4759f8"/><stop offset=".087" stop-color="#3f6fff"/><stop offset=".1" stop-color="#3080fa"/><stop offset=".119" stop-color="#2b92ee"/><stop offset=".153" stop-color="#19addc"/><stop offset=".171" stop-color="#02b7cb"/><stop offset=".18" stop-color="#02bbc3"/><stop offset=".189" stop-color="#0cbdbc"/><stop offset=".235" stop-color="#2bc3a8"/><stop offset=".295" stop-color="#3eca8f"/><stop offset=".363" stop-color="#63cd70"/><stop offset=".454" stop-color="#8dcb50"/><stop offset=".557" stop-color="#c6c22a"/><stop offset=".575" stop-color="#d0bf27"/><stop offset=".614" stop-color="#dcbd29"/><stop offset=".705" stop-color="#f8ba3d"/><stop offset=".733" stop-color="#febe3c"/><stop offset="1" stop-color="#fccf30"/></linearGradient>
<linearGradient id="g39"><stop offset="0" stop-color="#3e26a8"/><stop offset=".034" stop-color="#3e27aa"/><stop offset=".048" stop-color="#4538d8"/><stop offset=".057" stop-color="#4747eb"/><stop offset=".068" stop-color="#4759f8"/><stop offset=".087" stop-color="#3f6fff"/><stop offset=".1" stop-color="#3080fa"/><stop offset=".119" stop-color="#2b92ee"/><stop offset=".153" stop-color="#19addc"/><stop offset=".171" stop-color="#02b7cb"/><stop offset=".18" stop-color="#02bbc3"/><stop offset=".189" stop-color="#0cbdbc"/><stop offset=".235" stop-color="#2bc3a8"/><stop offset=".295" stop-color="#3eca8f"/><stop offset=".363" stop-color="#63cd70"/><stop offset=".514" stop-color="#abc739"/><stop offset=".557" stop-color="#c6c22a"/><stop offset=".575" stop-color="#d0bf27"/><stop offset=".614" stop-color="#dcbd29"/><stop offset=".705" stop-color="#f8ba3d"/><stop offset=".733" stop-color="#febe3c"/><stop offset="1" stop-color="#fccf30"/></linearGradient>
<linearGradient id="g40"><stop offset="0" stop-color="#3e26a8"/><stop offset=".034" stop-color="#3e27aa"/><stop offset=".048" stop-color="#4538d8"/><stop offset=".057" stop-color="#4747eb"/><stop offset=".068" stop-color="#4759f8"/><stop offset=".087" stop-color="#3f6fff"/><stop offset=".1" stop-color="#3080fa"/><stop offset=".119" stop-color="#2b92ee"/><stop offset=".153" stop-color="#19addc"/><stop offset=".171" stop-color="#02b7cb"/><stop offset=".18" stop-color="#02bbc3"/><stop offset=".189" stop-color="#0cbdbc"/><stop offset=".235" stop-color="#2bc3a7"/><stop offset=".295" stop-color="#3eca8f"/><stop offset=".363" stop-color="#63cd70"/><stop offset=".514" stop-color="#abc739"/><stop offset=".557" stop-color="#c6c22a"/><stop offset=".575" stop-color="#d0bf27"/><stop offset=".614" stop-color="#dcbd29"/><stop offset=".705" stop-color="#f8ba3d"/><stop offset=".733" stop-color="#febe3c"/><stop offset="1" stop-color="#fccf30"/></linearGradient>
<linearGradient id="g41"><stop offset="0" stop-color="#3e26a8"/><stop offset=".034" stop-color="#3e27aa"/><stop offset=".048" stop-color="#4538d8"/><stop offset=".057" stop-color="#4747eb"/><stop offset=".068" stop-color="#4759f8"/><stop offset=".087" stop-color="#3f6fff"/><stop offset=".1" stop-color="#3080fa"/><stop offset=".119" stop-color="#2b92ee"/><stop offset=".153" stop-color="#19addc"/><stop offset=".171" stop-color="#02b7cb"/><stop offset=".18" stop-color="#02bbc3"/><stop offset=".189" stop-color="#0cbdbc"/><stop offset=".235" stop-color="#2bc3a7"/><stop offset=".295" stop-color="#3eca8f"/><stop offset=".363" stop-color="#63cd70"/><stop offset=".514" stop-color="#aac739"/><stop offset=".557" stop-color="#c5c22a"/><stop offset=".575" stop-color="#d0c027"/><stop offset=".614" stop-color="#dcbd29"/><stop offset=".705" stop-color="#f8ba3d"/><stop offset=".733" stop-color="#febe3c"/><stop offset="1" stop-color="#fccf30"/></linearGradient>
<linearGradient id="g42"><stop offset="0" stop-color="#3e26a8"/><stop offset=".034" stop-color="#3e27ab"/><stop offset=".048" stop-color="#4538d8"/><stop offset=".057" stop-color="#4747eb"/><stop offset=".068" stop-color="#4759f8"/><stop offset=".087" stop-color="#3f6fff"/><stop offset=".1" stop-color="#3080fa"/><stop offset=".119" stop-color="#2b92ee"/><stop offset=".153" stop-color="#19addc"/><stop offset=".171" stop-color="#02b7cb"/><stop offset=".18" stop-color="#02bbc3"/><stop offset=".189" stop-color="#0cbdbc"/><stop offset=".235" stop-color="#2bc3a7"/><stop offset=".295" stop-color="#3eca8f"/><stop offset=".365" stop-color="#64cd6f"/><stop offset=".514" stop-color="#aac739"/><stop offset=".557" stop-color="#c5c22a"/><stop offset=".614" stop-color="#dcbd29"/><stop offset=".705" stop-color="#f8ba3d"/><stop offset=".733" stop-color="#febe3c"/><stop offset="1" stop-color="#fccf30"/></linearGradient>
<linearGradient id="g43"><stop offset="0" stop-color="#3e26a8"/><stop offset=".032" stop-color="#3e26a8"/><stop offset=".034" stop-color="#3e27ab"/><stop offset=".048" stop-color="#4539d8"/><stop offset=".057" stop-color="#4747eb"/><stop offset=".068" stop-color="#4759f8"/><stop offset=".087" stop-color="#3e6fff"/><stop offset=".1" stop-color="#3080fa"/><stop offset=".119" stop-color="#2b92ee"/><stop offset=".153" stop-color="#19addc"/><stop offset=".171" stop-color="#02b7cb"/><stop offset=".18" stop-color="#02bbc3"/><stop offset=".189" stop-color="#0cbdbc"/><stop offset=".235" stop-color="#2bc3a7"/><stop offset=".295" stop-color="#3eca8f"/><stop offset=".365" stop-color="#64cd6f"/><stop offset=".514" stop-color="#aac73a"/><stop offset=".557" stop-color="#c5c22a"/><stop offset=".614" stop-color="#dcbd29"/><stop offset=".705" stop-color="#f8ba3d"/><stop offset=".733" stop-color="#febe3c"/><stop offset="1" stop-color="#fccf30"/></linearGradient>
<linearGradient id="g44"><stop offset="0" stop-color="#3e26a8"/><stop offset=".032" stop-color="#3e26a8"/><stop offset=".034" stop-color="#3e27ab"/><stop offset=".048" stop-color="#4539d8"/><stop offset=".057" stop-color="#4747eb"/><stop offset=".068" stop-color="#4759f8"/><stop offset=".087" stop-color="#3e6fff"/><stop offset=".1" stop-color="#3080fa"/><stop offset=".119" stop-color="#2b92ee"/><stop offset=".153" stop-color="#19addc"/><stop offset=".171" stop-color="#02b7cb"/><stop offset=".18" stop-color="#02bbc3"/><stop offset=".189" stop-color="#0cbdbc"/><stop offset=".235" stop-color="#2bc3a7"/><stop offset=".295" stop-color="#3eca8f"/><stop offset=".365" stop-color="#64cd6f"/><stop offset=".514" stop-color="#aac73a"/><stop offset=".557" stop-color="#c5c22a"/><stop offset=".614" stop-color="#dcbd29"/><stop offset=".705" stop-color="#f8ba3d"/><stop offset=".733" stop-color="#febe3c"/><stop offset="1" stop-color="#fccf30"/></linearGradient>
<linearGradient id="g45"><stop offset="0" stop-color="#3e26a8"/><stop offset=".032" stop-color="#3e26a8"/><stop offset=".034" stop-color="#3e27ab"/><stop offset=".048" stop-color="#4539d9"/><stop offset=".057" stop-color="#4747eb"/><stop offset=".068" stop-color="#4759f8"/><stop offset=".087" stop-color="#3e6fff"/><stop offset=".1" stop-color="#2f80fa"/><stop offset=".119" stop-color="#2b92ee"/><stop offset=".153" stop-color="#19addc"/><stop offset=".171" stop-color="#02b7cb"/><stop offset=".18" stop-color="#02bbc3"/><stop offset=".189" stop-color="#0cbdbc"/><stop offset=".235" stop-color="#2bc3a7"/><stop offset=".295" stop-color="#3eca8f"/><stop offset=".365" stop-color="#64cd6f"/><stop offset=".514" stop-color="#aac73a"/><stop offset=".557" stop-color="#c5c22a"/><stop offset=".614" stop-color="#dcbd29"/><stop offset=".705" stop-color="#f8ba3d"/><stop offset=".733" stop-color="#febe3c"/><stop offset="1" stop-color="#fccf30"/></linearGradient>
<linearGradient id="g46"><stop offset="0" stop-color="#3e26a8"/><stop offset=".032" stop-color="#3e26a8"/><stop offset=".034" stop-color="#3e27ab"/><stop offset=".048" stop-color="#4539d9"/><stop offset=".057" stop-color="#4747eb"/><stop offset=".068" stop-color="#4759f8"/><stop offset=".087" stop-color="#3e6fff"/><stop offset=".1" stop-color="#2f80fa"/><stop offset=".119" stop-color="#2b92ee"/><stop offset=".153" stop-color="#19addc"/><stop offset=".171" stop-color="#02b7ca"/><stop offset=".18" stop-color="#02bbc3"/><stop offset=".189" stop-color="#0cbdbc"/><stop offset=".235" stop-color="#2bc3a7"/><stop offset=".295" stop-color="#3eca8f"/><stop offset=".365" stop-color="#64cd6f"/><stop offset=".514" stop-color="#aac73a"/><stop offset=".557" stop-color="#c5c22a"/><stop offset=".575" stop-color="#cfc028"/><stop offset=".616" stop-color="#ddbd29"/><stop offset=".705" stop-color="#f8ba3d"/><stop offset=".733" stop-color="#febe3c"/><stop offset="1" stop-color="#fccf30"/></linearGradient>
<linearGradient id="g47"><stop offset="0" stop-color="#3e26a8"/><stop offset=".032" stop-color="#3e26a8"/><stop offset=".034" stop-color="#3e27ab"/><stop offset=".048" stop-color="#4539d9"/><stop offset=".057" stop-color="#4747eb"/><stop offset=".068" stop-color="#4759f8"/><stop offset=".087" stop-color="#3e6fff"/><stop offset=".1" stop-color="#2f80fa"/><stop offset=".119" stop-color="#2b92ee"/><stop offset=".153" stop-color="#19addc"/><stop offset=".171" stop-color="#02b7ca"/><stop offset=".18" stop-color="#02bbc3"/><stop offset=".189" stop-color="#0cbdbc"/><stop offset=".235" stop-color="#2bc3a7"/><stop offset=".295" stop-color="#3eca8f"/><stop offset=".365" stop-color="#64cd6f"/><stop offset=".514" stop-color="#aac73a"/><stop offset=".557" stop-color="#c5c22a"/><stop offset=".575" stop-color="#cfc028"/><stop offset=".616" stop-color="#ddbd29"/><stop offset=".705" stop-color="#f8ba3d"/><stop offset=".733" stop-color="#febe3c"/><stop offset="1" stop-color="#fccf30"/></linearGradient>
<linearGradient id="g48"><stop offset="0" stop-color="#3e26a8"/><stop offset=".032" stop-color="#3e26a8"/><stop offset=".034" stop-color="#3e27ab"/><stop offset=".048" stop-color="#4539d9"/><stop offset=".057" stop-color="#4747eb"/><stop offset=".068" stop-color="#4759f8"/><stop offset=".087" stop-color="#3e6fff"/><stop offset=".1" stop-color="#2f80fa"/><stop offset=".119" stop-color="#2b92ee"/><stop offset=".153" stop-color="#19addc"/><stop offset=".171" stop-color="#02b7ca"/><stop offset=".18" stop-color="#02bbc3"/><stop offset=".189" stop-color="#0cbdbc"/><stop offset=".235" stop-color="#2bc3a7"/><stop offset=".295" stop-color="#3eca8f"/><stop offset=".365" stop-color="#64cd6f"/><stop offset=".514" stop-color="#aac73a"/><stop offset=".557" stop-color="#c5c22a"/><stop offset=".575" stop-color="#cfc028"/><stop offset=".616" stop-color="#ddbd29"/><stop offset=".705" stop-color="#f8ba3d"/><stop offset=".733" stop-color="#febe3c"/><stop offset="1" stop-color="#fccf30"/></linearGradient>
<linearGradient id="g49"><stop offset="0" stop-color="#3e26a8"/><stop offset=".032" stop-color="#3e26a8"/><stop offset=".034" stop-color="#3e27ab"/><stop offset=".048" stop-color="#4539d9"/><stop offset=".057" stop-color="#4747eb"/><stop offset=".068" stop-color="#4759f8"/><stop offset=".087" stop-color="#3e6fff"/><stop offset=".1" stop-color="#2f80fa"/><stop offset=".119" stop-color="#2b92ee"/><stop offset=".153" stop-color="#19addc"/><stop offset=".171" stop-color="#02b7ca"/><stop offset=".18" stop-color="#02bbc3"/><stop offset=".189" stop-color="#0cbdbc"/><stop offset=".235" stop-color="#2bc3a7"/><stop offset=".295" stop-color="#3eca8f"/><stop offset=".365" stop-color="#64cd6f"/><stop offset=".514" stop-color="#aac73a"/><stop offset=".557" stop-color="#c5c22a"/><stop offset=".575" stop-color="#cfc028"/><stop offset=".616" stop-color="#ddbd29"/><stop offset=".705" stop-color="#f8ba3d"/><stop offset=".733" stop-color="#febe3c"/><stop offset="1" stop-color="#fccf30"/></linearGradient>
<linearGradient id="g50"><stop offset="0" stop-color="#3e26a8"/><stop offset=".032" stop-color="#3e26a8"/><stop offset=".034" stop-color="#3e27ab"/><stop offset=".048" stop-color="#4539d9"/><stop offset=".057" stop-color="#4747eb"/><stop offset=".068" stop-color="#4759f8"/><stop offset=".087" stop-color="#3e6fff"/><stop offset=".1" stop-color="#2f80fa"/><stop offset=".119" stop-color="#2b92ee"/><stop offset=".153" stop-color="#19addc"/><stop offset=".171" stop-color="#02b7ca"/><stop offset=".18" stop-color="#02bbc3"/><stop offset=".189" stop-color="#0cbdbc"/><stop offset=".235" stop-color="#2bc3a7"/><stop offset=".295" stop-color="#3eca8f"/><stop offset=".365" stop-color="#64cd6f"/><stop offset=".514" stop-color="#aac73a"/><stop offset=".557" stop-color="#c5c22a"/><stop offset=".575" stop-color="#cfc028"/><stop offset=".616" stop-color="#ddbd29"/><stop offset=".705" stop-color="#f8ba3d"/><stop offset=".733" stop-color="#febe3c"/><stop offset="1" stop-color="#fccf31"/></linearGradient>
<linearGradient id="g51"><stop offset="0" stop-color="#3e26a8"/><stop offset=".032" stop-color="#3e26a8"/><stop offset=".034" stop-color="#3e27ab"/><stop offset=".048" stop-color="#4539d9"/><stop offset=".057" stop-color="#4747eb"/><stop offset=".068" stop-color="#4759f8"/><stop offset=".087" stop-color="#3e6fff"/><stop offset=".1" stop-color="#2f80fa"/><stop offset=".119" stop-color="#2b92ee"/><stop offset=".153" stop-color="#19addc"/><stop offset=".171" stop-color="#01b7ca"/><stop offset=".18" stop-color="#02bbc3"/><stop offset=".189" stop-color="#0cbdbc"/><stop offset=".235" stop-color="#2bc3a7"/><stop offset=".295" stop-color="#3eca8f"/><stop offset=".365" stop-color="#64cd6f"/><stop offset=".514" stop-color="#aac73a"/><stop offset=".557" stop-color="#c5c22a"/><stop offset=".575" stop-color="#cfc028"/><stop offset=".616" stop-color="#ddbd29"/><stop offset=".705" stop-color="#f8ba3d"/><stop offset=".733" stop-color="#febe3c"/><stop offset="1" stop-color="#fccf31"/></linearGradient>
<linearGradient id="g52"><stop offset="0" stop-color="#3e26a8"/><stop offset=".032" stop-color="#3e26a8"/><stop offset=".034" stop-color="#3e27ac"/><stop offset=".048" stop-color="#4539d9"/><stop offset=".057" stop-color="#4747eb"/><stop offset=".068" stop-color="#4759f8"/><stop offset=".087" stop-color="#3e6fff"/><stop offset=".1" stop-color="#2f80fa"/><stop offset=".116" stop-color="#2c90f0"/><stop offset=".153" stop-color="#19addc"/><stop offset=".171" stop-color="#01b7ca"/><stop offset=".18" stop-color="#02bbc3"/><stop offset=".189" stop-color="#0cbdbc"/><stop offset=".235" stop-color="#2bc3a7"/><stop offset=".295" stop-color="#3eca8f"/><stop offset=".365" stop-color="#64cd6f"/><stop offset=".514" stop-color="#aac73a"/><stop offset=".557" stop-color="#c5c22a"/><stop offset=".575" stop-color="#cfc028"/><stop offset=".616" stop-color="#dcbd29"/><stop offset=".705" stop-color="#f8ba3d"/><stop offset=".733" stop-color="#febe3c"/><stop offset="1" stop-color="#fccf31"/></linearGradient>
<linearGradient id="g53"><stop offset="0" stop-color="#3e26a8"/><stop offset=".032" stop-color="#3e26a8"/><stop offset=".034" stop-color="#3e27ac"/><stop offset=".048" stop-color="#4539d9"/><stop offset=".057" stop-color="#4747eb"/><stop offset=".068" stop-color="#4759f8"/><stop offset=".087" stop-color="#3e6fff"/><stop offset=".1" stop-color="#2f80fa"/><stop offset=".116" stop-color="#2c90f0"/><stop offset=".153" stop-color="#19addc"/><stop offset=".171" stop-color="#01b7ca"/><stop offset=".18" stop-color="#02bbc3"/><stop offset=".189" stop-color="#0cbdbc"/><stop offset=".235" stop-color="#2bc3a7"/><stop offset=".295" stop-color="#3eca8f"/><stop offset=".365" stop-color="#64cd6f"/><stop offset=".514" stop-color="#a9c73a"/><stop offset=".559" stop-color="#c6c22a"/><stop offset=".616" stop-color="#dcbd29"/><stop offset=".705" stop-color="#f8ba3d"/><stop offset=".733" stop-color="#febe3c"/><stop offset="1" stop-color="#fccf31"/></linearGradient>
<linearGradient id="g54"><stop offset="0" stop-color="#3e26a8"/><stop offset=".032" stop-color="#3e26a8"/><stop offset=".034" stop-color="#3e27ac"/><stop offset=".048" stop-color="#4639d9"/><stop offset=".057" stop-color="#4747eb"/><stop offset=".068" stop-color="#4759f8"/><stop offset=".087" stop-color="#3e6fff"/><stop offset=".1" stop-color="#2f80fa"/><stop offset=".116" stop-color="#2c90f0"/><stop offset=".153" stop-color="#19addc"/><stop offset=".171" stop-color="#01b7ca"/><stop offset=".18" stop-color="#02bbc3"/><stop offset=".189" stop-color="#0cbdbc"/><stop offset=".235" stop-color="#2bc3a7"/><stop offset=".295" stop-color="#3eca8f"/><stop offset=".365" stop-color="#64cd6f"/><stop offset=".514" stop-color="#a9c73a"/><stop offset=".559" stop-color="#c6c22a"/><stop offset=".616" stop-color="#dcbd29"/><stop offset=".705" stop-color="#f8ba3d"/><stop offset=".733" stop-color="#febe3c"/><stop offset="1" stop-color="#fccf31"/></linearGradient>
<linearGradient id="g55"><stop offset="0" stop-color="#3e26a8"/><stop offset=".032" stop-color="#3e26a8"/><stop offset=".034" stop-color="#3e27ac"/><stop offset=".048" stop-color="#4639d9"/><stop offset=".057" stop-color="#4747eb"/><stop offset=".068" stop-color="#4759f8"/><stop offset=".087" stop-color="#3e6fff"/><stop offset=".1" stop-color="#2f80fa"/><stop offset=".116" stop-color="#2c90f0"/><stop offset=".153" stop-color="#19addc"/><stop offset=".171" stop-color="#01b7ca"/><stop offset=".18" stop-color="#02bbc3"/><stop offset=".189" stop-color="#0cbdbc"/><stop offset=".235" stop-color="#2bc3a7"/><stop offset=".295" stop-color="#3eca8f"/><stop offset=".365" stop-color="#64cd6f"/><stop offset=".514" stop-color="#a9c73a"/><stop offset=".559" stop-color="#c6c22a"/><stop offset=".616" stop-color="#dcbd29"/><stop offset=".705" stop-color="#f8ba3d"/><stop offset=".735" stop-color="#febe3c"/><stop offset="1" stop-color="#fccf31"/></linearGradient>
<linearGradient id="g56"><stop offset="0" stop-color="#3e26a8"/><stop offset=".032" stop-color="#3e26a8"/><stop offset=".034" stop-color="#3e27ac"/><stop offset=".048" stop-color="#4639d9"/><stop offset=".057" stop-color="#4747eb"/><stop offset=".068" stop-color="#4759f9"/><stop offset=".087" stop-color="#3e6fff"/><stop offset=".1" stop-color="#2f80fa"/><stop offset=".116" stop-color="#2c90f0"/><stop offset=".153" stop-color="#19addc"/><stop offset=".171" stop-color="#01b7ca"/><stop offset=".18" stop-color="#03bbc3"/><stop offset=".189" stop-color="#0cbdbc"/><stop offset=".235" stop-color="#2bc3a7"/><stop offset=".295" stop-color="#3eca8f"/><stop offset=".365" stop-color="#63cd6f"/><stop offset=".514" stop-color="#a9c73a"/><stop offset=".559" stop-color="#c6c22a"/><stop offset=".616" stop-color="#dcbd29"/><stop offset=".705" stop-color="#f8ba3d"/><stop offset=".733" stop-color="#febe3c"/><stop offset="1" stop-color="#fccf31"/></linearGradient>
<linearGradient id="g57"><stop offset="0" stop-color="#3e26a8"/><stop offset=".032" stop-color="#3e26a8"/><stop offset=".034" stop-color="#3e27ac"/><stop offset=".048" stop-color="#4639d9"/><stop offset=".057" stop-color="#4747eb"/><stop offset=".068" stop-color="#4759f9"/><stop offset=".087" stop-color="#3e6fff"/><stop offset=".1" stop-color="#2f80fa"/><stop offset=".116" stop-color="#2c90f0"/><stop offset=".153" stop-color="#19addc"/><stop offset=".171" stop-color="#01b7ca"/><stop offset=".18" stop-color="#03bbc3"/><stop offset=".189" stop-color="#0cbdbc"/><stop offset=".235" stop-color="#2bc3a7"/><stop offset=".295" stop-color="#3eca8f"/><stop offset=".365" stop-color="#63cd6f"/><stop offset=".514" stop-color="#a9c73a"/><stop offset=".559" stop-color="#c5c22a"/><stop offset=".616" stop-color="#dcbd29"/><stop offset=".708" stop-color="#f8ba3d"/><stop offset=".733" stop-color="#febe3c"/><stop offset="1" stop-color="#fcce31"/></linearGradient>
<linearGradient id="g58"><stop offset="0" stop-color="#3e26a8"/><stop offset=".032" stop-color="#3e26a8"/><stop offset=".034" stop-color="#3e28ac"/><stop offset=".048" stop-color="#4639d9"/><stop offset=".057" stop-color="#4747ec"/><stop offset=".068" stop-color="#4759f9"/><stop offset=".087" stop-color="#3e6fff"/><stop offset=".1" stop-color="#2f80fa"/><stop offset=".116" stop-color="#2b90f0"/><stop offset=".153" stop-color="#19addc"/><stop offset=".171" stop-color="#01b7ca"/><stop offset=".18" stop-color="#03bbc3"/><stop offset=".189" stop-color="#0cbdbc"/><stop offset=".235" stop-color="#2bc3a7"/><stop offset=".295" stop-color="#3eca8f"/><stop offset=".365" stop-color="#63cd6f"/><stop offset=".514" stop-color="#a9c73a"/><stop offset=".559" stop-color="#c5c22a"/><stop offset=".616" stop-color="#dcbd29"/><stop offset=".708" stop-color="#f8ba3d"/><stop offset=".733" stop-color="#febe3c"/><stop offset="1" stop-color="#fcce31"/></linearGradient>
<linearGradient id="g59"><stop offset="0" stop-color="#3e26a8"/><stop offset=".032" stop-color="#3e26a8"/><stop offset=".034" stop-color="#3e28ac"/><stop offset=".048" stop-color="#4639d9"/><stop offset=".057" stop-color="#4747ec"/><stop offset=".068" stop-color="#4759f9"/><stop offset=".087" stop-color="#3e6fff"/><stop offset=".1" stop-color="#2f81fa"/><stop offset=".116" stop-color="#2b90f0"/><stop offset=".153" stop-color="#19addc"/><stop offset=".171" stop-color="#01b7ca"/><stop offset=".18" stop-color="#03bbc3"/><stop offset=".189" stop-color="#0cbdbc"/><stop offset=".235" stop-color="#2bc3a7"/><stop offset=".295" stop-color="#3eca8f"/><stop offset=".365" stop-color="#63cd6f"/><stop offset=".514" stop-color="#a9c73b"/><stop offset=".559" stop-color="#c5c22a"/><stop offset=".616" stop-color="#dcbd29"/><stop offset=".708" stop-color="#f8ba3d"/><stop offset=".733" stop-color="#febe3c"/><stop offset="1" stop-color="#fdce31"/></linearGradient>
<linearGradient id="g60"><stop offset="0" stop-color="#3e26a8"/><stop offset=".032" stop-color="#3e26a8"/><stop offset=".034" stop-color="#3e28ac"/><stop offset=".048" stop-color="#4639da"/><stop offset=".057" stop-color="#4747ec"/><stop offset=".068" stop-color="#4759f9"/><stop offset=".087" stop-color="#3e6fff"/><stop offset=".1" stop-color="#2f81fa"/><stop offset=".116" stop-color="#2b90f0"/><stop offset=".153" stop-color="#19addc"/><stop offset=".171" stop-color="#01b7ca"/><stop offset=".18" stop-color="#03bbc3"/><stop offset=".189" stop-color="#0cbdbc"/><stop offset=".235" stop-color="#2bc3a7"/><stop offset=".295" stop-color="#3eca8f"/><stop offset=".365" stop-color="#63cd6f"/><stop offset=".514" stop-color="#a9c73b"/><stop offset=".559" stop-color="#c5c22a"/><stop offset=".616" stop-color="#dcbd29"/><stop offset=".708" stop-color="#f8ba3d"/><stop offset=".733" stop-color="#febd3c"/><stop offset="1" stop-color="#fdce31"/></linearGradient>
<linearGradient id="g61"><stop offset="0" stop-color="#3e26a8"/><stop offset=".032" stop-color="#3e26a8"/><stop offset=".048" stop-color="#4639da"/><stop offset=".057" stop-color="#4848ec"/><stop offset=".068" stop-color="#475af9"/><stop offset=".087" stop-color="#3e6fff"/><stop offset=".1" stop-color="#2f81fa"/><stop offset=".116" stop-color="#2b90f0"/><stop offset=".153" stop-color="#19addc"/><stop offset=".171" stop-color="#01b7ca"/><stop offset=".18" stop-color="#03bbc3"/><stop offset=".189" stop-color="#0cbdbc"/><stop offset=".235" stop-color="#2bc3a7"/><stop offset=".295" stop-color="#3eca8f"/><stop offset=".365" stop-color="#63cd6f"/><stop offset=".514" stop-color="#a9c73b"/><stop offset=".559" stop-color="#c5c22a"/><stop offset=".616" stop-color="#dcbd29"/><stop offset=".708" stop-color="#f8ba3d"/><stop offset=".733" stop-color="#febd3c"/><stop offset="1" stop-color="#fdce31"/></linearGradient>
<linearGradient id="g62"><stop offset="0" stop-color="#3e26a8"/><stop offset=".032" stop-color="#3e26a8"/><stop offset=".048" stop-color="#4639da"/><stop offset=".057" stop-color="#4848ec"/><stop offset=".068" stop-color="#475af9"/><stop offset=".087" stop-color="#3e6fff"/><stop offset=".1" stop-color="#2f81fa"/><stop offset=".116" stop-color="#2b90f0"/><stop offset=".153" stop-color="#19addc"/><stop offset=".171" stop-color="#01b7ca"/><stop offset=".18" stop-color="#03bbc3"/><stop offset=".189" stop-color="#0cbdbc"/><stop offset=".235" stop-color="#2bc3a7"/><stop offset=".295" stop-color="#3eca8f"/><stop offset=".365" stop-color="#63cd6f"/><stop offset=".514" stop-color="#a9c73b"/><stop offset=".559" stop-color="#c5c22a"/><stop offset=".616" stop-color="#dcbd29"/><stop offset=".708" stop-color="#f8ba3d"/><stop offset=".733" stop-color="#febd3c"/><stop offset="1" stop-color="#fdce31"/></linearGradient>
<linearGradient id="g63"><stop offset="0" stop-color="#3e26a8"/><stop offset=".032" stop-color="#3e26a8"/><stop offset=".048" stop-color="#4639da"/><stop offset=".057" stop-color="#4848ec"/><stop offset=".071" stop-color="#475cfa"/><stop offset=".087" stop-color="#3e6fff"/><stop offset=".1" stop-color="#2f81fa"/><stop offset=".116" stop-color="#2b90f0"/><stop offset=".153" stop-color="#19addb"/><stop offset=".171" stop-color="#01b7ca"/><stop offset=".18" stop-color="#03bbc3"/><stop offset=".189" stop-color="#0cbdbc"/><stop offset=".235" stop-color="#2bc3a7"/><stop offset=".295" stop-color="#3eca8f"/><stop offset=".365" stop-color="#63cd6f"/><stop offset=".514" stop-color="#a9c73b"/><stop offset=".562" stop-color="#c6c22a"/><stop offset=".619" stop-color="#ddbd29"/><stop offset=".708" stop-color="#f8ba3d"/><stop offset=".733" stop-color="#febd3c"/><stop offset="1" stop-color="#fdce31"/></linearGradient>
<linearGradient id="g64"><stop offset="0" stop-color="#3e26a8"/><stop offset=".032" stop-color="#3e26a8"/><stop offset=".048" stop-color="#4639da"/><stop offset=".057" stop-color="#4848ec"/><stop offset=".071" stop-color="#475cfa"/><stop offset=".087" stop-color="#3e6fff"/><stop offset=".1" stop-color="#2f81fa"/><stop offset=".116" stop-color="#2b90f0"/><stop offset=".153" stop-color="#19addb"/><stop offset=".171" stop-color="#01b8ca"/><stop offset=".18" stop-color="#03bbc3"/><stop offset=".189" stop-color="#0cbdbc"/><stop offset=".235" stop-color="#2bc3a7"/><stop offset=".295" stop-color="#3eca8f"/><stop offset=".365" stop-color="#63cd6f"/><stop offset=".514" stop-color="#a8c73b"/><stop offset=".562" stop-color="#c6c22a"/><stop offset=".619" stop-color="#ddbd29"/><stop offset=".708" stop-color="#f8ba3d"/><stop offset=".733" stop-color="#febd3c"/><stop offset="1" stop-color="#fdce31"/></linearGradient>
<linearGradient id="g65"><stop offset="0" stop-color="#3e26a8"/><stop offset=".032" stop-color="#3e26a8"/><stop offset=".048" stop-color="#4639da"/><stop offset=".057" stop-color="#4848ec"/><stop offset=".071" stop-color="#475dfa"/><stop offset=".087" stop-color="#3e70ff"/><stop offset=".1" stop-color="#2f81fa"/><stop offset=".116" stop-color="#2b90f0"/><stop offset=".153" stop-color="#18addb"/><stop offset=".171" stop-color="#01b8ca"/><stop offset=".18" stop-color="#03bbc3"/><stop offset=".189" stop-color="#0cbdbc"/><stop offset=".235" stop-color="#2bc3a7"/><stop offset=".295" stop-color="#3eca8f"/><stop offset=".365" stop-color="#63cd6f"/><stop offset=".514" stop-color="#a8c73b"/><stop offset=".562" stop-color="#c6c22a"/><stop offset=".619" stop-color="#ddbd29"/><stop offset=".708" stop-color="#f8ba3d"/><stop offset=".733" stop-color="#febd3c"/><stop offset="1" stop-color="#fdce31"/></linearGradient>
<linearGradient id="g66"><stop offset="0" stop-color="#3e26a8"/><stop offset=".032" stop-color="#3e26a8"/><stop offset=".048" stop-color="#4639da"/><stop offset=".057" stop-color="#4848ec"/><stop offset=".071" stop-color="#475dfa"/><stop offset=".087" stop-color="#3e70ff"/><stop offset=".1" stop-color="#2f81fa"/><stop offset=".116" stop-color="#2b90f0"/><stop offset=".153" stop-color="#18addb"/><stop offset=".171" stop-color="#01b8ca"/><stop offset=".18" stop-color="#03bbc3"/><stop offset=".189" stop-color="#0cbdbc"/><stop offset=".235" stop-color="#2bc3a7"/><stop offset=".297" stop-color="#3fca8e"/><stop offset=".365" stop-color="#63cd6f"/><stop offset=".514" stop-color="#a8c73b"/><stop offset=".562" stop-color="#c6c22a"/><stop offset=".619" stop-color="#ddbd29"/><stop offset=".708" stop-color="#f8ba3d"/><stop offset=".733" stop-color="#febd3c"/><stop offset="1" stop-color="#fdce31"/></linearGradient>
<linearGradient id="g67"><stop offset="0" stop-color="#3e26a8"/><stop offset=".032" stop-color="#3e26a8"/><stop offset=".048" stop-color="#4639da"/><stop offset=".057" stop-color="#4848ec"/><stop offset=".071" stop-color="#475dfa"/><stop offset=".087" stop-color="#3e70ff"/><stop offset=".1" stop-color="#2f81fa"/><stop offset=".116" stop-color="#2b90ef"/><stop offset=".153" stop-color="#18addb"/><stop offset=".171" stop-color="#01b8ca"/><stop offset=".18" stop-color="#03bbc3"/><stop offset=".189" stop-color="#0cbdbc"/><stop offset=".235" stop-color="#2bc3a7"/><stop offset=".297" stop-color="#3fca8e"/><stop offset=".365" stop-color="#63cd70"/><stop offset=".514" stop-color="#a8c73b"/><stop offset=".562" stop-color="#c6c22a"/><stop offset=".619" stop-color="#dcbd29"/><stop offset=".708" stop-color="#f8ba3d"/><stop offset=".735" stop-color="#febe3c"/><stop offset="1" stop-color="#fdce31"/></linearGradient>
<linearGradient id="g68"><stop offset="0" stop-color="#3e26a8"/><stop offset=".032" stop-color="#3e26a8"/><stop offset=".046" stop-color="#4536d4"/><stop offset=".055" stop-color="#4744e8"/><stop offset=".068" stop-color="#475af9"/><stop offset=".087" stop-color="#3e70ff"/><stop offset=".1" stop-color="#2f81fa"/><stop offset=".116" stop-color="#2b90ef"/><stop offset=".153" stop-color="#18addb"/><stop offset=".171" stop-color="#01b8ca"/><stop offset=".18" stop-color="#03bbc3"/><stop offset=".189" stop-color="#0cbdbc"/><stop offset=".235" stop-color="#2bc3a7"/><stop offset=".297" stop-color="#3fca8e"/><stop offset=".365" stop-color="#63cd70"/><stop offset=".514" stop-color="#a8c73b"/><stop offset=".562" stop-color="#c6c22a"/><stop offset=".619" stop-color="#dcbd29"/><stop offset=".708" stop-color="#f8ba3d"/><stop offset=".735" stop-color="#febe3c"/><stop offset="1" stop-color="#fdce31"/></linearGradient>
<linearGradient id="g69"><stop offset="0" stop-color="#3e26a8"/><stop offset=".032" stop-color="#3e26a8"/><stop offset=".046" stop-color="#4536d4"/><stop offset=".055" stop-color="#4744e8"/><stop offset=".068" stop-color="#475af9"/><stop offset=".087" stop-color="#3e70ff"/><stop offset=".1" stop-color="#2f81fa"/><stop offset=".116" stop-color="#2b90ef"/><stop offset=".153" stop-color="#18addb"/><stop offset=".171" stop-color="#01b8ca"/><stop offset=".18" stop-color="#03bbc3"/><stop offset=".189" stop-color="#0cbdbc"/><stop offset=".235" stop-color="#2bc3a7"/><stop offset=".297" stop-color="#3fca8e"/><stop offset=".365" stop-color="#63cd70"/><stop offset=".514" stop-color="#a8c73b"/><stop offset=".562" stop-color="#c6c22a"/><stop offset=".619" stop-color="#dcbd29"/><stop offset=".708" stop-color="#f8ba3d"/><stop offset=".735" stop-color="#febe3c"/><stop offset="1" stop-color="#fdce31"/></linearGradient>
<linearGradient id="g70"><stop offset="0" stop-color="#3e26a8"/><stop offset=".032" stop-color="#3e26a8"/><stop offset=".046" stop-color="#4536d4"/><stop offset=".055" stop-color="#4744e8"/><stop offset=".068" stop-color="#475af9"/><stop offset=".087" stop-color="#3e70ff"/><stop offset=".1" stop-color="#2f81fa"/><stop offset=".116" stop-color="#2b90ef"/><stop offset=".153" stop-color="#18addb"/><stop offset=".171" stop-color="#01b8ca"/><stop offset=".18" stop-color="#03bbc3"/><stop offset=".189" stop-color="#0dbdbc"/><stop offset=".235" stop-color="#2bc3a7"/><stop offset=".297" stop-color="#3fca8e"/><stop offset=".365" stop-color="#63cd70"/><stop offset=".514" stop-color="#a8c73b"/><stop offset=".562" stop-color="#c6c22a"/><stop offset=".619" stop-color="#dcbd29"/><stop offset=".708" stop-color="#f8ba3d"/><stop offset=".735" stop-color="#febe3c"/><stop offset="1" stop-color="#fdce31"/></linearGradient>
<linearGradient id="g71"><stop offset="0" stop-color="#3e26a8"/><stop offset=".032" stop-color="#3e26a8"/><stop offset=".046" stop-color="#4536d4"/><stop offset=".055" stop-color="#4744e8"/><stop offset=".068" stop-color="#475af9"/><stop offset=".087" stop-color="#3e70ff"/><stop offset=".1" stop-color="#2f81fa"/><stop offset=".116" stop-color="#2b90ef"/><stop offset=".153" stop-color="#18addb"/><stop offset=".171" stop-color="#01b8ca"/><stop offset=".18" stop-color="#03bbc3"/><stop offset=".189" stop-color="#0dbdbc"/><stop offset=".235" stop-color="#2bc3a7"/><stop offset=".297" stop-color="#3fca8e"/><stop offset=".365" stop-color="#63cd70"/><stop offset=".514" stop-color="#a8c73b"/><stop offset=".562" stop-color="#c6c22a"/><stop offset=".619" stop-color="#dcbd29"/><stop offset=".708" stop-color="#f8ba3d"/><stop offset=".735" stop-color="#febe3c"/><stop offset="1" stop-color="#fdce31"/></linearGradient>
<linearGradient id="g72"><stop offset="0" stop-color="#3e26a8"/><stop offset=".032" stop-color="#3e26a8"/><stop offset=".046" stop-color="#4536d4"/><stop offset=".055" stop-color="#4744e8"/><stop offset=".068" stop-color="#475af9"/><stop offset=".087" stop-color="#3e70ff"/><stop offset=".1" stop-color="#2f81fa"/><stop offset=".116" stop-color="#2b90ef"/><stop offset=".153" stop-color="#18addb"/><stop offset=".171" stop-color="#01b8ca"/><stop offset=".18" stop-color="#03bbc3"/><stop offset=".189" stop-color="#0dbdbc"/><stop offset=".235" stop-color="#2bc3a7"/><stop offset=".297" stop-color="#3fca8e"/><stop offset=".368" stop-color="#64cd6f"/><stop offset=".514" stop-color="#a8c73b"/><stop offset=".562" stop-color="#c6c22a"/><stop offset=".619" stop-color="#dcbd29"/><stop offset=".708" stop-color="#f8ba3d"/><stop offset=".735" stop-color="#febe3c"/><stop offset="1" stop-color="#fdce31"/></linearGradient>
<linearGradient id="g73"><stop offset="0" stop-color="#3e26a8"/><stop offset=".032" stop-color="#3e26a8"/><stop offset=".046" stop-color="#4536d4"/><stop offset=".055" stop-color="#4744e8"/><stop offset=".068" stop-color="#475af9"/><stop offset=".087" stop-color="#3e70ff"/><stop offset=".1" stop-color="#2f81fa"/><stop offset=".116" stop-color="#2b91ef"/><stop offset=".153" stop-color="#18addb"/><stop offset=".171" stop-color="#01b8ca"/><stop offset=".18" stop-color="#03bbc3"/><stop offset=".189" stop-color="#0dbdbc"/><stop offset=".235" stop-color="#2bc3a7"/><stop offset=".297" stop-color="#3fca8e"/><stop offset=".368" stop-color="#64cd6f"/><stop offset=".514" stop-color="#a8c73b"/><stop offset=".562" stop-color="#c6c22a"/><stop offset=".619" stop-color="#dcbd29"/><stop offset=".708" stop-color="#f8ba3d"/><stop offset=".735" stop-color="#febe3c"/><stop offset="1" stop-color="#fdce31"/></linearGradient>
<linearGradient id="g74"><stop offset="0" stop-color="#3e26a8"/><stop offset=".032" stop-color="#3e26a8"/><stop offset=".046" stop-color="#4536d4"/><stop offset=".055" stop-color="#4744e9"/><stop offset=".068" stop-color="#475af9"/><stop offset=".087" stop-color="#3e70ff"/><stop offset=".1" stop-color="#2f81fa"/><stop offset=".116" stop-color="#2b91ef"/><stop offset=".153" stop-color="#18addb"/><stop offset=".171" stop-color="#01b8ca"/><stop offset=".18" stop-color="#03bbc3"/><stop offset=".187" stop-color="#0bbdbd"/><stop offset=".235" stop-color="#2bc3a7"/><stop offset=".297" stop-color="#3fca8e"/><stop offset=".368" stop-color="#64cd6f"/><stop offset=".514" stop-color="#a8c73b"/><stop offset=".562" stop-color="#c5c22a"/><stop offset=".619" stop-color="#dcbd29"/><stop offset=".708" stop-color="#f8ba3d"/><stop offset=".735" stop-color="#febe3c"/><stop offset="1" stop-color="#fdce31"/></linearGradient>
<linearGradient id="g75"><stop offset="0" stop-color="#3e26a8"/><stop offset=".032" stop-color="#3e26a8"/><stop offset=".046" stop-color="#4536d4"/><stop offset=".055" stop-color="#4744e9"/><stop offset=".068" stop-color="#475af9"/><stop offset=".087" stop-color="#3e70ff"/><stop offset=".1" stop-color="#2f81fa"/><stop offset=".116" stop-color="#2b91ef"/><stop offset=".153" stop-color="#18addb"/><stop offset=".171" stop-color="#01b8ca"/><stop offset=".18" stop-color="#03bbc2"/><stop offset=".187" stop-color="#0bbdbd"/><stop offset=".235" stop-color="#2bc3a7"/><stop offset=".297" stop-color="#3fca8e"/><stop offset=".368" stop-color="#64cd6f"/><stop offset=".514" stop-color="#a7c73c"/><stop offset=".562" stop-color="#c5c22a"/><stop offset=".619" stop-color="#dcbd29"/><stop offset=".708" stop-color="#f8ba3d"/><stop offset=".735" stop-color="#febe3c"/><stop offset="1" stop-color="#fdce31"/></linearGradient>
<linearGradient id="g76"><stop offset="0" stop-color="#3e26a8"/><stop offset=".032" stop-color="#3e26a8"/><stop offset=".046" stop-color="#4536d4"/><stop offset=".055" stop-color="#4744e9"/><stop offset=".068" stop-color="#475af9"/><stop offset=".087" stop-color="#3d70ff"/><stop offset=".1" stop-color="#2f81fa"/><stop offset=".116" stop-color="#2b91ef"/><stop offset=".153" stop-color="#18addb"/><stop offset=".171" stop-color="#01b8ca"/><stop offset=".18" stop-color="#03bbc2"/><stop offset=".187" stop-color="#0bbdbd"/><stop offset=".235" stop-color="#2bc3a7"/><stop offset=".297" stop-color="#3fca8e"/><stop offset=".368" stop-color="#64cd6f"/><stop offset=".514" stop-color="#a7c73c"/><stop offset=".562" stop-color="#c5c22a"/><stop offset=".619" stop-color="#dcbd29"/><stop offset=".708" stop-color="#f8ba3d"/><stop offset=".735" stop-color="#febe3c"/><stop offset="1" stop-color="#fdce31"/></linearGradient>
<linearGradient id="g77"><stop offset="0" stop-color="#3e26a8"/><stop offset=".032" stop-color="#3e26a8"/><stop offset=".046" stop-color="#4536d5"/><stop offset=".055" stop-color="#4745e9"/><stop offset=".068" stop-color="#475af9"/><stop offset=".087" stop-color="#3d70ff"/><stop offset=".1" stop-color="#2f81fa"/><stop offset=".116" stop-color="#2b91ef"/><stop offset=".153" stop-color="#18addb"/><stop offset=".171" stop-color="#01b8ca"/><stop offset=".18" stop-color="#03bbc2"/><stop offset=".187" stop-color="#0bbdbd"/><stop offset=".235" stop-color="#2bc4a7"/><stop offset=".297" stop-color="#3fca8e"/><stop offset=".368" stop-color="#64cd6f"/><stop offset=".514" stop-color="#a7c73c"/><stop offset=".562" stop-color="#c5c22a"/><stop offset=".619" stop-color="#dcbd29"/><stop offset=".708" stop-color="#f8ba3d"/><stop offset=".735" stop-color="#febe3c"/><stop offset="1" stop-color="#fdce31"/></linearGradient>
<linearGradient id="g78"><stop offset="0" stop-color="#3e26a8"/><stop offset=".032" stop-color="#3e26a8"/><stop offset=".046" stop-color="#4536d5"/><stop offset=".055" stop-color="#4745e9"/><stop offset=".068" stop-color="#475af9"/><stop offset=".087" stop-color="#3d70ff"/><stop offset=".1" stop-color="#2f81fa"/><stop offset=".116" stop-color="#2b91ef"/><stop offset=".153" stop-color="#18addb"/><stop offset=".171" stop-color="#01b8ca"/><stop offset=".18" stop-color="#03bbc2"/><stop offset=".187" stop-color="#0bbdbd"/><stop offset=".235" stop-color="#2bc4a7"/><stop offset=".297" stop-color="#3fca8e"/><stop offset=".368" stop-color="#64cd6f"/><stop offset=".514" stop-color="#a7c73c"/><stop offset=".562" stop-color="#c5c22a"/><stop offset=".619" stop-color="#dcbd29"/><stop offset=".708" stop-color="#f8ba3d"/><stop offset=".735" stop-color="#febe3c"/><stop offset="1" stop-color="#fdce31"/></linearGradient>
<linearGradient id="g79"><stop offset="0" stop-color="#3e26a8"/><stop offset=".032" stop-color="#3e26a8"/><stop offset=".046" stop-color="#4537d5"/><stop offset=".055" stop-color="#4745e9"/><stop offset=".068" stop-color="#475af9"/><stop offset=".084" stop-color="#406dfe"/><stop offset=".1" stop-color="#2f81fa"/><stop offset=".116" stop-color="#2b91ef"/><stop offset=".153" stop-color="#18addb"/><stop offset=".171" stop-color="#01b8ca"/><stop offset=".18" stop-color="#03bbc2"/><stop offset=".187" stop-color="#0bbdbd"/><stop offset=".235" stop-color="#2bc4a7"/><stop offset=".297" stop-color="#3fca8e"/><stop offset=".368" stop-color="#64cd6f"/><stop offset=".514" stop-color="#a7c73c"/><stop offset=".562" stop-color="#c5c22a"/><stop offset=".619" stop-color="#dcbd29"/><stop offset=".708" stop-color="#f8ba3d"/><stop offset=".735" stop-color="#febe3c"/><stop offset="1" stop-color="#fdce31"/></linearGradient>
<linearGradient id="g80"><stop offset="0" stop-color="#3e26a8"/><stop offset=".032" stop-color="#3e26a8"/><stop offset=".046" stop-color="#4537d5"/><stop offset=".055" stop-color="#4745e9"/><stop offset=".068" stop-color="#475af9"/><stop offset=".084" stop-color="#406dfe"/><stop offset=".1" stop-color="#2f81fa"/><stop offset=".116" stop-color="#2b91ef"/><stop offset=".153" stop-color="#18addb"/><stop offset=".171" stop-color="#01b8ca"/><stop offset=".18" stop-color="#03bbc2"/><stop offset=".187" stop-color="#0bbdbd"/><stop offset=".235" stop-color="#2bc4a7"/><stop offset=".297" stop-color="#3fca8e"/><stop offset=".368" stop-color="#64cd6f"/><stop offset=".514" stop-color="#a7c73c"/><stop offset=".564" stop-color="#c6c22a"/><stop offset=".621" stop-color="#ddbd29"/><stop offset=".708" stop-color="#f8ba3d"/><stop offset=".735" stop-color="#febe3c"/><stop offset="1" stop-color="#fdce31"/></linearGradient>
<linearGradient id="g81"><stop offset="0" stop-color="#3e26a8"/><stop offset=".032" stop-color="#3e26a8"/><stop offset=".046" stop-color="#4537d5"/><stop offset=".055" stop-color="#4745e9"/><stop offset=".068" stop-color="#475af9"/><stop offset=".084" stop-color="#406dfe"/><stop offset=".1" stop-color="#2f81fa"/><stop offset=".116" stop-color="#2b91ef"/><stop offset=".153" stop-color="#18addb"/><stop offset=".171" stop-color="#01b8ca"/><stop offset=".18" stop-color="#03bbc2"/><stop offset=".187" stop-color="#0bbdbd"/><stop offset=".235" stop-color="#2bc4a7"/><stop offset=".297" stop-color="#3fca8e"/><stop offset=".368" stop-color="#64cd6f"/><stop offset=".514" stop-color="#a7c73c"/><stop offset=".564" stop-color="#c6c22a"/><stop offset=".621" stop-color="#ddbd29"/><stop offset=".708" stop-color="#f8ba3d"/><stop offset=".735" stop-color="#febe3c"/><stop offset="1" stop-color="#fdce31"/></linearGradient>
<linearGradient id="g82"><stop offset="0" stop-color="#3e26a8"/><stop offset=".032" stop-color="#3e26a8"/><stop offset=".046" stop-color="#4537d5"/><stop offset=".055" stop-color="#4745e9"/><stop offset=".068" stop-color="#475af9"/><stop offset=".084" stop-color="#406dfe"/><stop offset=".1" stop-color="#2f81fa"/><stop offset=".116" stop-color="#2b91ef"/><stop offset=".153" stop-color="#18addb"/><stop offset=".171" stop-color="#01b8ca"/><stop offset=".178" stop-color="#02bac4"/><stop offset=".187" stop-color="#0bbdbd"/><stop offset=".235" stop-color="#2bc4a7"/><stop offset=".297" stop-color="#3fca8e"/><stop offset=".368" stop-color="#64cd6f"/><stop offset=".514" stop-color="#a7c73c"/><stop offset=".564" stop-color="#c6c22a"/><stop offset=".621" stop-color="#dcbd29"/><stop offset=".708" stop-color="#f8ba3d"/><stop offset=".735" stop-color="#febd3c"/><stop offset="1" stop-color="#fdce31"/></linearGradient>
<linearGradient id="g83"><stop offset="0" stop-color="#3e26a8"/><stop offset=".032" stop-color="#3e26a8"/><stop offset=".046" stop-color="#4537d5"/><stop offset=".055" stop-color="#4745e9"/><stop offset=".068" stop-color="#475af9"/><stop offset=".084" stop-color="#3f6dfe"/><stop offset=".1" stop-color="#2f81fa"/><stop offset=".116" stop-color="#2b91ef"/><stop offset=".153" stop-color="#18addb"/><stop offset=".171" stop-color="#01b8ca"/><stop offset=".178" stop-color="#02bac4"/><stop offset=".187" stop-color="#0bbdbd"/><stop offset=".235" stop-color="#2bc4a7"/><stop offset=".297" stop-color="#3fca8e"/><stop offset=".368" stop-color="#64cd6f"/><stop offset=".514" stop-color="#a7c73c"/><stop offset=".564" stop-color="#c6c22a"/><stop offset=".621" stop-color="#dcbd29"/><stop offset=".708" stop-color="#f8ba3d"/><stop offset=".735" stop-color="#febd3c"/><stop offset="1" stop-color="#fdce31"/></linearGradient>
<linearGradient id="g84"><stop offset="0" stop-color="#3e26a8"/><stop offset=".032" stop-color="#3e26a8"/><stop offset=".046" stop-color="#4537d5"/><stop offset=".053" stop-color="#4741e5"/><stop offset=".068" stop-color="#475af9"/><stop offset=".084" stop-color="#3f6dfe"/><stop offset=".1" stop-color="#2f81fa"/><stop offset=".116" stop-color="#2b91ef"/><stop offset=".153" stop-color="#18addb"/><stop offset=".171" stop-color="#01b8ca"/><stop offset=".178" stop-color="#02bac4"/><stop offset=".187" stop-color="#0bbdbd"/><stop offset=".235" stop-color="#2bc4a7"/><stop offset=".297" stop-color="#3fca8e"/><stop offset=".368" stop-color="#64cd6f"/><stop offset=".514" stop-color="#a7c73c"/><stop offset=".564" stop-color="#c6c22a"/><stop offset=".621" stop-color="#dcbd29"/><stop offset=".708" stop-color="#f8ba3d"/><stop offset=".735" stop-color="#febd3c"/><stop offset="1" stop-color="#fdce31"/></linearGradient>
<linearGradient id="g85"><stop offset="0" stop-color="#3e26a8"/><stop offset=".032" stop-color="#3e26a8"/><stop offset=".046" stop-color="#4537d5"/><stop offset=".053" stop-color="#4741e5"/><stop offset=".068" stop-color="#475af9"/><stop offset=".084" stop-color="#3f6dfe"/><stop offset=".1" stop-color="#2f81fa"/><stop offset=".116" stop-color="#2b91ef"/><stop offset=".153" stop-color="#18addb"/><stop offset=".171" stop-color="#01b8ca"/><stop offset=".178" stop-color="#02bac4"/><stop offset=".187" stop-color="#0bbdbd"/><stop offset=".235" stop-color="#2bc4a7"/><stop offset=".297" stop-color="#3fca8e"/><stop offset=".368" stop-color="#64cd6f"/><stop offset=".514" stop-color="#a7c73c"/><stop offset=".564" stop-color="#c6c22a"/><stop offset=".621" stop-color="#dcbd29"/><stop offset=".708" stop-color="#f8ba3d"/><stop offset=".735" stop-color="#febd3c"/><stop offset="1" stop-color="#fdce31"/></linearGradient>
<linearGradient id="g86"><stop offset="0" stop-color="#3e26a8"/><stop offset=".032" stop-color="#3e26a8"/><stop offset=".046" stop-color="#4537d5"/><stop offset=".053" stop-color="#4741e5"/><stop offset=".068" stop-color="#475af9"/><stop offset=".084" stop-color="#3f6dfe"/><stop offset=".1" stop-color="#2f81fa"/><stop offset=".116" stop-color="#2b91ef"/><stop offset=".153" stop-color="#18addb"/><stop offset=".171" stop-color="#01b8ca"/><stop offset=".178" stop-color="#02bac4"/><stop offset=".187" stop-color="#0bbdbd"/><stop offset=".235" stop-color="#2cc4a7"/><stop offset=".297" stop-color="#3fca8e"/><stop offset=".368" stop-color="#63cd6f"/><stop offset=".514" stop-color="#a6c73c"/><stop offset=".564" stop-color="#c6c22a"/><stop offset=".621" stop-color="#dcbd29"/><stop offset=".71" stop-color="#f8ba3d"/><stop offset=".735" stop-color="#febd3c"/><stop offset="1" stop-color="#fdce31"/></linearGradient>
<linearGradient id="g87"><stop offset="0" stop-color="#3e26a8"/><stop offset=".032" stop-color="#3e26a8"/><stop offset=".046" stop-color="#4537d5"/><stop offset=".053" stop-color="#4741e5"/><stop offset=".068" stop-color="#475af9"/><stop offset=".084" stop-color="#3f6dfe"/><stop offset=".1" stop-color="#2f81fa"/><stop offset=".116" stop-color="#2b91ef"/><stop offset=".153" stop-color="#18addb"/><stop offset=".171" stop-color="#01b8ca"/><stop offset=".178" stop-color="#02bac4"/><stop offset=".187" stop-color="#0bbdbd"/><stop offset=".235" stop-color="#2cc4a7"/><stop offset=".297" stop-color="#3fca8e"/><stop offset=".368" stop-color="#63cd6f"/><stop offset=".514" stop-color="#a6c73c"/><stop offset=".564" stop-color="#c6c22a"/><stop offset=".621" stop-color="#dcbd29"/><stop offset=".71" stop-color="#f8ba3d"/><stop offset=".735" stop-color="#febd3c"/><stop offset="1" stop-color="#fdce31"/></linearGradient>
<linearGradient id="g88"><stop offset="0" stop-color="#3e26a8"/><stop offset=".032" stop-color="#3e26a8"/><stop offset=".046" stop-color="#4537d5"/><stop offset=".053" stop-color="#4741e5"/><stop offset=".068" stop-color="#475bf9"/><stop offset=".084" stop-color="#3f6dfe"/><stop offset=".1" stop-color="#2f81fa"/><stop offset=".116" stop-color="#2b91ef"/><stop offset=".153" stop-color="#18addb"/><stop offset=".171" stop-color="#01b8ca"/><stop offset=".178" stop-color="#02bac4"/><stop offset=".187" stop-color="#0bbdbd"/><stop offset=".235" stop-color="#2cc4a7"/><stop offset=".297" stop-color="#3fca8e"/><stop offset=".368" stop-color="#63cd6f"/><stop offset=".514" stop-color="#a6c73c"/><stop offset=".564" stop-color="#c6c22a"/><stop offset=".621" stop-color="#dcbd29"/><stop offset=".71" stop-color="#f8ba3d"/><stop offset=".735" stop-color="#febd3c"/><stop offset="1" stop-color="#fdcd31"/></linearGradient>
<linearGradient id="g89"><stop offset="0" stop-color="#3e26a8"/><stop offset=".032" stop-color="#3e26a8"/><stop offset=".046" stop-color="#4537d5"/><stop offset=".053" stop-color="#4741e5"/><stop offset=".068" stop-color="#475bf9"/><stop offset=".084" stop-color="#3f6efe"/><stop offset=".1" stop-color="#2f81fa"/><stop offset=".116" stop-color="#2b91ef"/><stop offset=".153" stop-color="#18addb"/><stop offset=".171" stop-color="#01b8ca"/><stop offset=".178" stop-color="#02bac4"/><stop offset=".187" stop-color="#0bbdbd"/><stop offset=".235" stop-color="#2cc4a7"/><stop offset=".297" stop-color="#3fca8e"/><stop offset=".368" stop-color="#63cd6f"/><stop offset=".514" stop-color="#a6c83c"/><stop offset=".564" stop-color="#c6c22a"/><stop offset=".621" stop-color="#dcbd29"/><stop offset=".71" stop-color="#f8ba3d"/><stop offset=".735" stop-color="#febd3c"/><stop offset="1" stop-color="#fdcd31"/></linearGradient>
<linearGradient id="g90"><stop offset="0" stop-color="#3e26a8"/><stop offset=".032" stop-color="#3e26a8"/><stop offset=".046" stop-color="#4537d6"/><stop offset=".053" stop-color="#4741e5"/><stop offset=".068" stop-color="#475bf9"/><stop offset=".084" stop-color="#3f6efe"/><stop offset=".1" stop-color="#2f81fa"/><stop offset=".116" stop-color="#2b91ef"/><stop offset=".153" stop-color="#18addb"/><stop offset=".171" stop-color="#01b8ca"/><stop offset=".178" stop-color="#02bac4"/><stop offset=".187" stop-color="#0bbdbd"/><stop offset=".235" stop-color="#2cc4a7"/><stop offset=".297" stop-color="#3fca8e"/><stop offset=".368" stop-color="#63cd6f"/><stop offset=".514" stop-color="#a6c83c"/><stop offset=".564" stop-color="#c6c22a"/><stop offset=".621" stop-color="#dcbd29"/><stop offset=".71" stop-color="#f8ba3d"/><stop offset=".735" stop-color="#febd3c"/><stop offset="1" stop-color="#fdcd31"/></linearGradient>
<linearGradient id="g91"><stop offset="0" stop-color="#3e26a8"/><stop offset=".032" stop-color="#3e26a8"/><stop offset=".046" stop-color="#4537d6"/><stop offset=".053" stop-color="#4742e6"/><stop offset=".068" stop-color="#475bf9"/><stop offset=".084" stop-color="#3f6efe"/><stop offset=".1" stop-color="#2f81fa"/><stop offset=".116" stop-color="#2b91ef"/><stop offset=".153" stop-color="#18addb"/><stop offset=".171" stop-color="#01b8ca"/><stop offset=".178" stop-color="#02bac4"/><stop offset=".187" stop-color="#0bbdbd"/><stop offset=".235" stop-color="#2cc4a7"/><stop offset=".297" stop-color="#3fca8e"/><stop offset=".368" stop-color="#63cd6f"/><stop offset=".514" stop-color="#a6c83d"/><stop offset=".564" stop-color="#c5c22a"/><stop offset=".621" stop-color="#dcbd29"/><stop offset=".71" stop-color="#f8ba3d"/><stop offset=".735" stop-color="#febd3c"/><stop offset="1" stop-color="#fdcd31"/></linearGradient>
<linearGradient id="g92"><stop offset="0" stop-color="#3e26a8"/><stop offset=".032" stop-color="#3e26a8"/><stop offset=".046" stop-color="#4537d6"/><stop offset=".053" stop-color="#4742e6"/><stop offset=".068" stop-color="#475bf9"/><stop offset=".084" stop-color="#3f6efe"/><stop offset=".1" stop-color="#2f81fa"/><stop offset=".116" stop-color="#2b91ef"/><stop offset=".153" stop-color="#18addb"/><stop offset=".171" stop-color="#01b8ca"/><stop offset=".178" stop-color="#02bac4"/><stop offset=".187" stop-color="#0bbdbd"/><stop offset=".235" stop-color="#2cc4a7"/><stop offset=".297" stop-color="#3fca8e"/><stop offset=".368" stop-color="#63cd6f"/><stop offset=".514" stop-color="#a6c83d"/><stop offset=".564" stop-color="#c5c22a"/><stop offset=".621" stop-color="#dcbd29"/><stop offset=".71" stop-color="#f8ba3d"/><stop offset=".735" stop-color="#febd3c"/><stop offset="1" stop-color="#fdcd31"/></linearGradient>
<linearGradient id="g93"><stop offset="0" stop-color="#3e26a8"/><stop offset=".032" stop-color="#3e26a8"/><stop offset=".046" stop-color="#4537d6"/><stop offset=".053" stop-color="#4742e6"/><stop offset=".068" stop-color="#475bf9"/><stop offset=".084" stop-color="#3f6efe"/><stop offset=".1" stop-color="#2f81fa"/><stop offset=".116" stop-color="#2b91ef"/><stop offset=".153" stop-color="#18addb"/><stop offset=".171" stop-color="#01b8ca"/><stop offset=".178" stop-color="#02bac4"/><stop offset=".187" stop-color="#0bbdbd"/><stop offset=".235" stop-color="#2cc4a7"/><stop offset=".297" stop-color="#3fca8e"/><stop offset=".368" stop-color="#63cd6f"/><stop offset=".514" stop-color="#a6c83d"/><stop offset=".564" stop-color="#c5c22a"/><stop offset=".621" stop-color="#dcbd29"/><stop offset=".71" stop-color="#f8ba3d"/><stop offset=".735" stop-color="#febd3c"/><stop offset="1" stop-color="#fdcd31"/></linearGradient>
<linearGradient id="g94"><stop offset="0" stop-color="#3e26a8"/><stop offset=".032" stop-color="#3e26a8"/><stop offset=".046" stop-color="#4537d6"/><stop offset=".053" stop-color="#4742e6"/><stop offset=".068" stop-color="#475bf9"/><stop offset=".084" stop-color="#3f6efe"/><stop offset=".1" stop-color="#2f82fa"/><stop offset=".116" stop-color="#2b91ef"/><stop offset=".153" stop-color="#18addb"/><stop offset=".171" stop-color="#01b8ca"/><stop offset=".178" stop-color="#02bac4"/><stop offset=".187" stop-color="#0bbdbd"/><stop offset=".235" stop-color="#2cc4a7"/><stop offset=".297" stop-color="#3fca8e"/><stop offset=".368" stop-color="#63cd6f"/><stop offset=".514" stop-color="#a6c83d"/><stop offset=".564" stop-color="#c5c22a"/><stop offset=".621" stop-color="#dcbd29"/><stop offset=".71" stop-color="#f8ba3d"/><stop offset=".735" stop-color="#fdbd3c"/><stop offset="1" stop-color="#fdcd31"/></linearGradient>
<linearGradient id="g95"><stop offset="0" stop-color="#3e26a8"/><stop offset=".032" stop-color="#3e26a8"/><stop offset=".046" stop-color="#4537d6"/><stop offset=".053" stop-color="#4742e6"/><stop offset=".068" stop-color="#475bf9"/><stop offset=".084" stop-color="#3f6efe"/><stop offset=".1" stop-color="#2f82fa"/><stop offset=".116" stop-color="#2b91ef"/><stop offset=".153" stop-color="#18addb"/><stop offset=".171" stop-color="#01b8ca"/><stop offset=".178" stop-color="#02bac4"/><stop offset=".187" stop-color="#0bbdbd"/><stop offset=".235" stop-color="#2cc4a7"/><stop offset=".297" stop-color="#3fca8e"/><stop offset=".368" stop-color="#63cd6f"/><stop offset=".514" stop-color="#a6c83d"/><stop offset=".564" stop-color="#c5c22a"/><stop offset=".621" stop-color="#dcbd29"/><stop offset=".71" stop-color="#f8ba3d"/><stop offset=".735" stop-color="#fdbd3d"/><stop offset="1" stop-color="#fdcd31"/></linearGradient>
<linearGradient id="g96"><stop offset="0" stop-color="#3e26a8"/><stop offset=".032" stop-color="#3e26a8"/><stop offset=".046" stop-color="#4537d6"/><stop offset=".053" stop-color="#4742e6"/><stop offset=".068" stop-color="#475bf9"/><stop offset=".084" stop-color="#3f6efe"/><stop offset=".1" stop-color="#2f82fa"/><stop offset=".116" stop-color="#2b91ef"/><stop offset=".153" stop-color="#18aedb"/><stop offset=".171" stop-color="#01b8ca"/><stop offset=".178" stop-color="#02bac4"/><stop offset=".187" stop-color="#0bbdbd"/><stop offset=".235" stop-color="#2cc4a7"/><stop offset=".297" stop-color="#3fca8e"/><stop offset=".368" stop-color="#63cd6f"/><stop offset=".514" stop-color="#a6c83d"/><stop offset=".564" stop-color="#c5c22a"/><stop offset=".623" stop-color="#ddbd29"/><stop offset=".71" stop-color="#f8ba3d"/><stop offset=".735" stop-color="#fdbd3d"/><stop offset="1" stop-color="#fdcd31"/></linearGradient>
<linearGradient id="g97"><stop offset="0" stop-color="#3e26a8"/><stop offset=".032" stop-color="#3e26a8"/><stop offset=".046" stop-color="#4537d6"/><stop offset=".053" stop-color="#4742e6"/><stop offset=".068" stop-color="#475bf9"/><stop offset=".084" stop-color="#3f6efe"/><stop offset=".1" stop-color="#2f82fa"/><stop offset=".116" stop-color="#2b91ef"/><stop offset=".151" stop-color="#1aacdd"/><stop offset=".171" stop-color="#01b8ca"/><stop offset=".178" stop-color="#02bac4"/><stop offset=".187" stop-color="#0bbdbd"/><stop offset=".235" stop-color="#2cc4a7"/><stop offset=".297" stop-color="#3fca8e"/><stop offset=".368" stop-color="#63cd70"/><stop offset=".514" stop-color="#a5c83d"/><stop offset=".566" stop-color="#c6c22a"/><stop offset=".623" stop-color="#ddbd29"/><stop offset=".71" stop-color="#f8ba3d"/><stop offset=".735" stop-color="#fdbd3d"/><stop offset="1" stop-color="#fdcd31"/></linearGradient>
<linearGradient id="g98"><stop offset="0" stop-color="#3e26a8"/><stop offset=".032" stop-color="#3e26a8"/><stop offset=".046" stop-color="#4537d6"/><stop offset=".053" stop-color="#4742e6"/><stop offset=".068" stop-color="#475bf9"/><stop offset=".084" stop-color="#3f6efe"/><stop offset=".1" stop-color="#2f82fa"/><stop offset=".116" stop-color="#2b91ef"/><stop offset=".151" stop-color="#1aacdd"/><stop offset=".171" stop-color="#01b8ca"/><stop offset=".178" stop-color="#02bac4"/><stop offset=".187" stop-color="#0bbdbd"/><stop offset=".235" stop-color="#2cc4a7"/><stop offset=".297" stop-color="#3fca8e"/><stop offset=".368" stop-color="#63cd70"/><stop offset=".514" stop-color="#a5c83d"/><stop offset=".566" stop-color="#c6c22a"/><stop offset=".623" stop-color="#ddbd29"/><stop offset=".71" stop-color="#f8ba3d"/><stop offset=".735" stop-color="#fdbd3d"/><stop offset="1" stop-color="#fdcd31"/></linearGradient>
<linearGradient id="g99"><stop offset="0" stop-color="#3e26a8"/><stop offset=".032" stop-color="#3e26a8"/><stop offset=".046" stop-color="#4537d6"/><stop offset=".053" stop-color="#4742e6"/><stop offset=".068" stop-color="#475bf9"/><stop offset=".084" stop-color="#3f6efe"/><stop offset=".1" stop-color="#2f81fa"/><stop offset=".116" stop-color="#2b91ef"/><stop offset=".153" stop-color="#18addb"/><stop offset=".171" stop-color="#01b8ca"/><stop offset=".18" stop-color="#03bbc2"/><stop offset=".187" stop-color="#0bbdbd"/><stop offset=".235" stop-color="#2bc3a8"/><stop offset=".297" stop-color="#3eca8f"/><stop offset=".37" stop-color="#63cd6f"/><stop offset=".514" stop-color="#a5c83d"/><stop offset=".566" stop-color="#c6c22a"/><stop offset=".623" stop-color="#dcbd29"/><stop offset=".71" stop-color="#f8ba3d"/><stop offset=".735" stop-color="#fdbd3d"/><stop offset="1" stop-color="#fdcd32"/></linearGradient>
<linearGradient id="g100"><stop offset="0" stop-color="#3e26a8"/><stop offset=".032" stop-color="#3e26a8"/><stop offset=".046" stop-color="#4537d6"/><stop offset=".053" stop-color="#4741e6"/><stop offset=".068" stop-color="#475bf9"/><stop offset=".084" stop-color="#3f6dfe"/><stop offset=".1" stop-color="#2f81fa"/><stop offset=".116" stop-color="#2b91ef"/><stop offset=".153" stop-color="#18addb"/><stop offset=".171" stop-color="#01b7ca"/><stop offset=".18" stop-color="#02bbc3"/><stop offset=".189" stop-color="#0cbdbc"/><stop offset=".237" stop-color="#2cc4a7"/><stop offset=".299" stop-color="#3fca8e"/><stop offset=".372" stop-color="#64cd6f"/><stop offset=".514" stop-color="#a4c83e"/><stop offset=".566" stop-color="#c5c22a"/><stop offset=".623" stop-color="#dcbd29"/><stop offset=".712" stop-color="#f8ba3d"/><stop offset=".735" stop-color="#fdbd3d"/><stop offset="1" stop-color="#fdcc32"/></linearGradient>
<linearGradient id="g101"><stop offset="0" stop-color="#3e26a8"/><stop offset=".032" stop-color="#3e26a8"/><stop offset=".046" stop-color="#4537d5"/><stop offset=".053" stop-color="#4741e5"/><stop offset=".068" stop-color="#475af9"/><stop offset=".084" stop-color="#406dfe"/><stop offset=".1" stop-color="#2f81fa"/><stop offset=".116" stop-color="#2b90ef"/><stop offset=".153" stop-color="#19addc"/><stop offset=".171" stop-color="#02b7cb"/><stop offset=".18" stop-color="#02bbc3"/><stop offset=".189" stop-color="#0bbdbd"/><stop offset=".237" stop-color="#2bc3a7"/><stop offset=".299" stop-color="#3eca8f"/><stop offset=".374" stop-color="#64cd6f"/><stop offset=".514" stop-color="#a4c83e"/><stop offset=".568" stop-color="#c6c22a"/><stop offset=".626" stop-color="#dcbd29"/><stop offset=".712" stop-color="#f8ba3d"/><stop offset=".735" stop-color="#fdbd3d"/><stop offset="1" stop-color="#fdcc32"/></linearGradient>
<linearGradient id="g102"><stop offset="0" stop-color="#3e26a8"/><stop offset=".032" stop-color="#3e26a8"/><stop offset=".046" stop-color="#4537d5"/><stop offset=".055" stop-color="#4745e9"/><stop offset=".068" stop-color="#475af9"/><stop offset=".087" stop-color="#3e70ff"/><stop offset=".1" stop-color="#2f81fa"/><stop offset=".116" stop-color="#2b90f0"/><stop offset=".153" stop-color="#19addc"/><stop offset=".171" stop-color="#02b7cb"/><stop offset=".18" stop-color="#02bac4"/><stop offset=".189" stop-color="#0bbdbd"/><stop offset=".237" stop-color="#2bc3a8"/><stop offset=".301" stop-color="#3fca8e"/><stop offset=".374" stop-color="#63cd70"/><stop offset=".514" stop-color="#a3c83e"/><stop offset=".568" stop-color="#c6c22a"/><stop offset=".626" stop-color="#dcbd29"/><stop offset=".715" stop-color="#f8ba3d"/><stop offset=".735" stop-color="#fcbd3d"/><stop offset="1" stop-color="#fdcb33"/></linearGradient>
<linearGradient id="g103"><stop offset="0" stop-color="#3e26a8"/><stop offset=".032" stop-color="#3e26a8"/><stop offset=".046" stop-color="#4537d5"/><stop offset=".055" stop-color="#4745e9"/><stop offset=".068" stop-color="#475af9"/><stop offset=".087" stop-color="#3e70ff"/><stop offset=".1" stop-color="#2f81fa"/><stop offset=".119" stop-color="#2b92ee"/><stop offset=".153" stop-color="#19addc"/><stop offset=".174" stop-color="#01b8c9"/><stop offset=".18" stop-color="#02bac4"/><stop offset=".189" stop-color="#0abdbd"/><stop offset=".24" stop-color="#2cc4a7"/><stop offset=".301" stop-color="#3eca8f"/><stop offset=".377" stop-color="#63cd6f"/><stop offset=".514" stop-color="#a3c83f"/><stop offset=".568" stop-color="#c5c22a"/><stop offset=".628" stop-color="#dcbd29"/><stop offset=".715" stop-color="#f8ba3d"/><stop offset=".735" stop-color="#fcbd3d"/><stop offset="1" stop-color="#fdca33"/></linearGradient>
<linearGradient id="g104"><stop offset="0" stop-color="#3e26a8"/><stop offset=".032" stop-color="#3e26a8"/><stop offset=".046" stop-color="#4536d5"/><stop offset=".055" stop-color="#4744e9"/><stop offset=".068" stop-color="#475af9"/><stop offset=".087" stop-color="#3e6fff"/><stop offset=".1" stop-color="#2f80fa"/><stop offset=".119" stop-color="#2b92ee"/><stop offset=".153" stop-color="#19acdc"/><stop offset=".174" stop-color="#01b8ca"/><stop offset=".18" stop-color="#02bac4"/><stop offset=".189" stop-color="#0abdbe"/><stop offset=".24" stop-color="#2bc3a8"/><stop offset=".304" stop-color="#3fca8e"/><stop offset=".379" stop-color="#63cd6f"/><stop offset=".514" stop-color="#a2c83f"/><stop offset=".571" stop-color="#c6c22a"/><stop offset=".628" stop-color="#dcbd29"/><stop offset=".717" stop-color="#f8ba3d"/><stop offset=".735" stop-color="#fcbc3d"/><stop offset="1" stop-color="#feca33"/></linearGradient>
<linearGradient id="g105"><stop offset="0" stop-color="#3e26a8"/><stop offset=".032" stop-color="#3e26a8"/><stop offset=".046" stop-color="#4536d4"/><stop offset=".055" stop-color="#4744e8"/><stop offset=".068" stop-color="#475af9"/><stop offset=".087" stop-color="#3e6fff"/><stop offset=".1" stop-color="#2f80fa"/><stop offset=".119" stop-color="#2b92ef"/><stop offset=".153" stop-color="#19acdc"/><stop offset=".174" stop-color="#01b8ca"/><stop offset=".183" stop-color="#02bbc3"/><stop offset=".189" stop-color="#09bcbe"/><stop offset=".242" stop-color="#2cc4a7"/><stop offset=".304" stop-color="#3eca8f"/><stop offset=".381" stop-color="#64cd6f"/><stop offset=".514" stop-color="#a2c840"/><stop offset=".571" stop-color="#c5c22a"/><stop offset=".63" stop-color="#ddbd29"/><stop offset=".717" stop-color="#f8ba3d"/><stop offset=".735" stop-color="#fcbc3d"/><stop offset="1" stop-color="#fec934"/></linearGradient>
<linearGradient id="g106"><stop offset="0" stop-color="#3e26a8"/><stop offset=".032" stop-color="#3e26a8"/><stop offset=".046" stop-color="#4536d4"/><stop offset=".055" stop-color="#4744e8"/><stop offset=".068" stop-color="#4759f9"/><stop offset=".087" stop-color="#3e6fff"/><stop offset=".1" stop-color="#3080fa"/><stop offset=".119" stop-color="#2b91ef"/><stop offset=".153" stop-color="#1aacdd"/><stop offset=".174" stop-color="#01b7ca"/><stop offset=".183" stop-color="#02bbc3"/><stop offset=".189" stop-color="#09bcbe"/><stop offset=".242" stop-color="#2bc3a7"/><stop offset=".306" stop-color="#3fca8e"/><stop offset=".384" stop-color="#64cd6f"/><stop offset=".514" stop-color="#a1c840"/><stop offset=".573" stop-color="#c6c22a"/><stop offset=".63" stop-color="#dcbd29"/><stop offset=".717" stop-color="#f8ba3d"/><stop offset=".735" stop-color="#fbbc3d"/><stop offset="1" stop-color="#fec934"/></linearGradient>
<linearGradient id="g107"><stop offset="0" stop-color="#3e26a8"/><stop offset=".032" stop-color="#3e26a8"/><stop offset=".048" stop-color="#4639da"/><stop offset=".057" stop-color="#4847ec"/><stop offset=".068" stop-color="#4759f8"/><stop offset=".087" stop-color="#3f6fff"/><stop offset=".1" stop-color="#3080fb"/><stop offset=".119" stop-color="#2b91ef"/><stop offset=".155" stop-color="#18addb"/><stop offset=".174" stop-color="#02b7cb"/><stop offset=".183" stop-color="#02bac3"/><stop offset=".189" stop-color="#08bcbf"/><stop offset=".242" stop-color="#2bc3a8"/><stop offset=".306" stop-color="#3eca8f"/><stop offset=".384" stop-color="#63cd70"/><stop offset=".454" stop-color="#82cc58"/><stop offset=".573" stop-color="#c6c22a"/><stop offset=".63" stop-color="#dcbd29"/><stop offset=".719" stop-color="#f8ba3d"/><stop offset=".735" stop-color="#fbbc3d"/><stop offset="1" stop-color="#fec834"/></linearGradient>
<linearGradient id="g108"><stop offset="0" stop-color="#3e26a8"/><stop offset=".032" stop-color="#3e26a8"/><stop offset=".048" stop-color="#4639da"/><stop offset=".057" stop-color="#4747eb"/><stop offset=".068" stop-color="#4759f8"/><stop offset=".087" stop-color="#3f6eff"/><stop offset=".1" stop-color="#307ffb"/><stop offset=".119" stop-color="#2b91ef"/><stop offset=".155" stop-color="#19addc"/><stop offset=".174" stop-color="#02b7cb"/><stop offset=".183" stop-color="#02bac4"/><stop offset=".189" stop-color="#08bcbf"/><stop offset=".244" stop-color="#2cc4a7"/><stop offset=".308" stop-color="#3fca8e"/><stop offset=".386" stop-color="#63cd6f"/><stop offset=".454" stop-color="#81cc59"/><stop offset=".573" stop-color="#c5c22a"/><stop offset=".632" stop-color="#dcbd29"/><stop offset=".719" stop-color="#f8ba3d"/><stop offset=".735" stop-color="#fbbc3d"/><stop offset="1" stop-color="#fec835"/></linearGradient>
<linearGradient id="g109"><stop offset="0" stop-color="#3e26a8"/><stop offset=".032" stop-color="#3e26a8"/><stop offset=".048" stop-color="#4639d9"/><stop offset=".057" stop-color="#4747eb"/><stop offset=".068" stop-color="#4759f8"/><stop offset=".087" stop-color="#3f6eff"/><stop offset=".103" stop-color="#2f82fa"/><stop offset=".119" stop-color="#2b91ef"/><stop offset=".155" stop-color="#19addc"/><stop offset=".176" stop-color="#01b8ca"/><stop offset=".189" stop-color="#07bcbf"/><stop offset=".244" stop-color="#2bc3a8"/><stop offset=".308" stop-color="#3eca8f"/><stop offset=".388" stop-color="#64cd6f"/><stop offset=".454" stop-color="#80cc59"/><stop offset=".575" stop-color="#c6c22a"/><stop offset=".632" stop-color="#dcbd29"/><stop offset=".735" stop-color="#fbbc3d"/><stop offset="1" stop-color="#fec735"/></linearGradient>
<linearGradient id="g110"><stop offset="0" stop-color="#3e26a8"/><stop offset=".032" stop-color="#3e26a8"/><stop offset=".048" stop-color="#4639d9"/><stop offset=".057" stop-color="#4747eb"/><stop offset=".068" stop-color="#4759f8"/><stop offset=".087" stop-color="#3f6eff"/><stop offset=".103" stop-color="#2f82fa"/><stop offset=".119" stop-color="#2b90ef"/><stop offset=".155" stop-color="#19addc"/><stop offset=".176" stop-color="#01b8ca"/><stop offset=".189" stop-color="#07bcc0"/><stop offset=".247" stop-color="#2cc4a7"/><stop offset=".295" stop-color="#38c896"/><stop offset=".39" stop-color="#64cd6f"/><stop offset=".454" stop-color="#7fcc5a"/><stop offset=".575" stop-color="#c6c22a"/><stop offset=".635" stop-color="#ddbd29"/><stop offset=".735" stop-color="#fbbc3d"/><stop offset="1" stop-color="#fec736"/></linearGradient>
<linearGradient id="g111"><stop offset="0" stop-color="#3e26a8"/><stop offset=".032" stop-color="#3e26a8"/><stop offset=".034" stop-color="#3e28ac"/><stop offset=".048" stop-color="#4539d9"/><stop offset=".057" stop-color="#4747eb"/><stop offset=".068" stop-color="#4758f8"/><stop offset=".087" stop-color="#3f6efe"/><stop offset=".103" stop-color="#2f81fa"/><stop offset=".119" stop-color="#2b90f0"/><stop offset=".155" stop-color="#19acdc"/><stop offset=".176" stop-color="#01b8ca"/><stop offset=".189" stop-color="#06bcc0"/><stop offset=".247" stop-color="#2bc3a8"/><stop offset=".295" stop-color="#38c896"/><stop offset=".39" stop-color="#63cd70"/><stop offset=".454" stop-color="#7ecc5b"/><stop offset=".575" stop-color="#c5c22a"/><stop offset=".635" stop-color="#dcbd29"/><stop offset=".735" stop-color="#fabb3d"/><stop offset="1" stop-color="#fec636"/></linearGradient>
<linearGradient id="g112"><stop offset="0" stop-color="#3e26a8"/><stop offset=".032" stop-color="#3e26a8"/><stop offset=".034" stop-color="#3e27ac"/><stop offset=".048" stop-color="#4539d9"/><stop offset=".057" stop-color="#4747eb"/><stop offset=".068" stop-color="#4758f8"/><stop offset=".087" stop-color="#3f6efe"/><stop offset=".103" stop-color="#2f81fa"/><stop offset=".119" stop-color="#2c90f0"/><stop offset=".155" stop-color="#19acdc"/><stop offset=".176" stop-color="#02b7cb"/><stop offset=".189" stop-color="#06bbc1"/><stop offset=".249" stop-color="#2cc4a7"/><stop offset=".295" stop-color="#37c897"/><stop offset=".393" stop-color="#63cd6f"/><stop offset=".454" stop-color="#7dcc5b"/><stop offset=".578" stop-color="#c5c22a"/><stop offset=".635" stop-color="#dcbd29"/><stop offset=".735" stop-color="#fabb3d"/><stop offset="1" stop-color="#fec636"/></linearGradient>
<linearGradient id="g113"><stop offset="0" stop-color="#3e26a8"/><stop offset=".032" stop-color="#3e26a8"/><stop offset=".034" stop-color="#3e27ac"/><stop offset=".048" stop-color="#4538d8"/><stop offset=".057" stop-color="#4746eb"/><stop offset=".068" stop-color="#4758f8"/><stop offset=".087" stop-color="#3f6dfe"/><stop offset=".103" stop-color="#2f81fa"/><stop offset=".144" stop-color="#20a4e3"/><stop offset=".158" stop-color="#18aedb"/><stop offset=".176" stop-color="#02b7cb"/><stop offset=".189" stop-color="#05bbc1"/><stop offset=".249" stop-color="#2cc4a7"/><stop offset=".297" stop-color="#38c896"/><stop offset=".395" stop-color="#63cd6f"/><stop offset=".454" stop-color="#7ccc5c"/><stop offset=".578" stop-color="#c5c22a"/><stop offset=".637" stop-color="#ddbd29"/><stop offset=".735" stop-color="#fabb3d"/><stop offset=".797" stop-color="#febe3c"/><stop offset="1" stop-color="#fec537"/></linearGradient>
<linearGradient id="g114"><stop offset="0" stop-color="#3e26a8"/><stop offset=".032" stop-color="#3e26a8"/><stop offset=".034" stop-color="#3e27ab"/><stop offset=".048" stop-color="#4538d8"/><stop offset=".057" stop-color="#4746ea"/><stop offset=".068" stop-color="#4758f8"/><stop offset=".087" stop-color="#406dfe"/><stop offset=".103" stop-color="#2f81fa"/><stop offset=".139" stop-color="#23a0e5"/><stop offset=".158" stop-color="#18addb"/><stop offset=".176" stop-color="#02b7cb"/><stop offset=".189" stop-color="#05bbc1"/><stop offset=".249" stop-color="#2bc3a8"/><stop offset=".297" stop-color="#37c897"/><stop offset=".397" stop-color="#64cd6f"/><stop offset=".454" stop-color="#7ccc5c"/><stop offset=".58" stop-color="#c5c22a"/><stop offset=".637" stop-color="#dcbd29"/><stop offset=".735" stop-color="#fabb3d"/><stop offset=".801" stop-color="#febe3c"/><stop offset="1" stop-color="#fec437"/></linearGradient>
<linearGradient id="g115"><stop offset="0" stop-color="#3e26a8"/><stop offset=".032" stop-color="#3e26a8"/><stop offset=".034" stop-color="#3e27ab"/><stop offset=".048" stop-color="#4538d8"/><stop offset=".057" stop-color="#4746ea"/><stop offset=".068" stop-color="#4758f8"/><stop offset=".087" stop-color="#406dfe"/><stop offset=".103" stop-color="#2f81fa"/><stop offset=".139" stop-color="#23a0e5"/><stop offset=".158" stop-color="#18addb"/><stop offset=".178" stop-color="#01b8ca"/><stop offset=".189" stop-color="#04bbc2"/><stop offset=".251" stop-color="#2cc4a7"/><stop offset=".299" stop-color="#38c896"/><stop offset=".397" stop-color="#63cd70"/><stop offset=".454" stop-color="#7bcc5d"/><stop offset=".58" stop-color="#c5c22a"/><stop offset=".639" stop-color="#ddbd29"/><stop offset=".735" stop-color="#f9bb3d"/><stop offset=".806" stop-color="#febe3c"/><stop offset="1" stop-color="#fec438"/></linearGradient>
<linearGradient id="g116"><stop offset="0" stop-color="#3e26a8"/><stop offset=".032" stop-color="#3e26a8"/><stop offset=".034" stop-color="#3e27ab"/><stop offset=".048" stop-color="#4538d8"/><stop offset=".057" stop-color="#4746ea"/><stop offset=".068" stop-color="#4758f8"/><stop offset=".089" stop-color="#3e6fff"/><stop offset=".103" stop-color="#2f80fa"/><stop offset=".146" stop-color="#20a5e2"/><stop offset=".158" stop-color="#19addc"/><stop offset=".178" stop-color="#01b8ca"/><stop offset=".189" stop-color="#04bbc2"/><stop offset=".251" stop-color="#2bc3a8"/><stop offset=".299" stop-color="#37c897"/><stop offset=".4" stop-color="#63cd6f"/><stop offset=".454" stop-color="#7acc5e"/><stop offset=".539" stop-color="#acc738"/><stop offset=".582" stop-color="#c5c22a"/><stop offset=".639" stop-color="#dcbd29"/><stop offset=".735" stop-color="#f9bb3d"/><stop offset=".813" stop-color="#febe3c"/><stop offset="1" stop-color="#fec338"/></linearGradient>
<linearGradient id="g117"><stop offset="0" stop-color="#3e26a8"/><stop offset=".034" stop-color="#3e27aa"/><stop offset=".048" stop-color="#4538d7"/><stop offset=".057" stop-color="#4745ea"/><stop offset=".071" stop-color="#475af9"/><stop offset=".089" stop-color="#3e6fff"/><stop offset=".103" stop-color="#3080fb"/><stop offset=".146" stop-color="#20a5e3"/><stop offset=".16" stop-color="#17aeda"/><stop offset=".178" stop-color="#02b7cb"/><stop offset=".189" stop-color="#02bbc3"/><stop offset=".253" stop-color="#2bc3a7"/><stop offset=".301" stop-color="#37c897"/><stop offset=".402" stop-color="#63cd6f"/><stop offset=".454" stop-color="#79cc5e"/><stop offset=".539" stop-color="#acc739"/><stop offset=".582" stop-color="#c5c22a"/><stop offset=".639" stop-color="#dcbd29"/><stop offset=".735" stop-color="#f9bb3d"/><stop offset=".824" stop-color="#febe3c"/><stop offset="1" stop-color="#fec338"/></linearGradient>
<linearGradient id="g118"><stop offset="0" stop-color="#3e26a8"/><stop offset=".034" stop-color="#3e27a9"/><stop offset=".048" stop-color="#4537d6"/><stop offset=".057" stop-color="#4745e9"/><stop offset=".071" stop-color="#4759f8"/><stop offset=".089" stop-color="#3f6eff"/><stop offset=".105" stop-color="#2f82fa"/><stop offset=".146" stop-color="#20a4e3"/><stop offset=".16" stop-color="#18addb"/><stop offset=".18" stop-color="#01b8ca"/><stop offset=".192" stop-color="#02bbc3"/><stop offset=".256" stop-color="#2bc3a8"/><stop offset=".306" stop-color="#38c896"/><stop offset=".404" stop-color="#63cd70"/><stop offset=".454" stop-color="#78cc5f"/><stop offset=".539" stop-color="#abc739"/><stop offset=".584" stop-color="#c5c22a"/><stop offset=".642" stop-color="#ddbd29"/><stop offset=".735" stop-color="#f9ba3d"/><stop offset=".836" stop-color="#febe3c"/><stop offset="1" stop-color="#fec239"/></linearGradient>
<linearGradient id="g119"><stop offset="0" stop-color="#3e26a8"/><stop offset=".034" stop-color="#3e26a8"/><stop offset=".048" stop-color="#4537d5"/><stop offset=".057" stop-color="#4744e8"/><stop offset=".071" stop-color="#4759f8"/><stop offset=".089" stop-color="#3f6efe"/><stop offset=".105" stop-color="#2f81fa"/><stop offset=".148" stop-color="#20a5e2"/><stop offset=".16" stop-color="#19addc"/><stop offset=".18" stop-color="#02b7cb"/><stop offset=".194" stop-color="#02bbc3"/><stop offset=".256" stop-color="#2ac3a9"/><stop offset=".308" stop-color="#37c897"/><stop offset=".406" stop-color="#63cd6f"/><stop offset=".454" stop-color="#77cc60"/><stop offset=".541" stop-color="#acc738"/><stop offset=".584" stop-color="#c5c22a"/><stop offset=".642" stop-color="#dcbd29"/><stop offset=".735" stop-color="#f8ba3d"/><stop offset=".847" stop-color="#febe3c"/><stop offset="1" stop-color="#fec239"/></linearGradient>
<linearGradient id="g120"><stop offset="0" stop-color="#3e26a8"/><stop offset=".034" stop-color="#3e26a8"/><stop offset=".048" stop-color="#4536d4"/><stop offset=".057" stop-color="#4744e8"/><stop offset=".071" stop-color="#4758f8"/><stop offset=".089" stop-color="#406dfe"/><stop offset=".105" stop-color="#2f80fa"/><stop offset=".148" stop-color="#20a4e3"/><stop offset=".162" stop-color="#18aedb"/><stop offset=".183" stop-color="#01b7ca"/><stop offset=".196" stop-color="#02bbc3"/><stop offset=".256" stop-color="#29c3aa"/><stop offset=".311" stop-color="#37c897"/><stop offset=".409" stop-color="#63cd6f"/><stop offset=".454" stop-color="#76cc60"/><stop offset=".541" stop-color="#abc739"/><stop offset=".587" stop-color="#c5c22a"/><stop offset=".644" stop-color="#ddbd29"/><stop offset=".735" stop-color="#f8ba3d"/><stop offset="1" stop-color="#fec13a"/></linearGradient>
<linearGradient id="g121"><stop offset="0" stop-color="#3e26a8"/><stop offset=".034" stop-color="#3e26a8"/><stop offset=".05" stop-color="#4639d9"/><stop offset=".059" stop-color="#4747eb"/><stop offset=".071" stop-color="#4758f8"/><stop offset=".091" stop-color="#3e6fff"/><stop offset=".105" stop-color="#3080fb"/><stop offset=".155" stop-color="#1da9e0"/><stop offset=".183" stop-color="#02b7cb"/><stop offset=".199" stop-color="#02bbc3"/><stop offset=".256" stop-color="#28c2ab"/><stop offset=".315" stop-color="#38c896"/><stop offset=".411" stop-color="#63cd6f"/><stop offset=".454" stop-color="#75cc61"/><stop offset=".541" stop-color="#abc739"/><stop offset=".587" stop-color="#c5c22a"/><stop offset=".644" stop-color="#dcbd29"/><stop offset=".735" stop-color="#f8ba3d"/><stop offset="1" stop-color="#fec13a"/></linearGradient>
<linearGradient id="g122"><stop offset="0" stop-color="#3e26a8"/><stop offset=".034" stop-color="#3e26a8"/><stop offset=".05" stop-color="#4539d9"/><stop offset=".059" stop-color="#4746ea"/><stop offset=".071" stop-color="#4757f7"/><stop offset=".091" stop-color="#3f6eff"/><stop offset=".107" stop-color="#2f81fa"/><stop offset=".155" stop-color="#1da8e0"/><stop offset=".185" stop-color="#01b7ca"/><stop offset=".201" stop-color="#02bac3"/><stop offset=".256" stop-color="#26c2ac"/><stop offset=".317" stop-color="#37c897"/><stop offset=".413" stop-color="#63cd6f"/><stop offset=".454" stop-color="#74cc62"/><stop offset=".543" stop-color="#acc739"/><stop offset=".589" stop-color="#c6c22a"/><stop offset=".644" stop-color="#dcbd29"/><stop offset=".735" stop-color="#f7ba3c"/><stop offset="1" stop-color="#fec03a"/></linearGradient>
<linearGradient id="g123"><stop offset="0" stop-color="#3e26a8"/><stop offset=".034" stop-color="#3e26a8"/><stop offset=".05" stop-color="#4538d8"/><stop offset=".059" stop-color="#4746ea"/><stop offset=".071" stop-color="#4756f7"/><stop offset=".091" stop-color="#3f6efe"/><stop offset=".107" stop-color="#2f81fa"/><stop offset=".158" stop-color="#1ca9df"/><stop offset=".187" stop-color="#01b8ca"/><stop offset=".203" stop-color="#02bac3"/><stop offset=".256" stop-color="#25c2ad"/><stop offset=".32" stop-color="#37c897"/><stop offset=".413" stop-color="#62cd70"/><stop offset=".454" stop-color="#74cd62"/><stop offset=".543" stop-color="#abc739"/><stop offset=".589" stop-color="#c5c22a"/><stop offset=".646" stop-color="#dcbd29"/><stop offset=".735" stop-color="#f7ba3c"/><stop offset="1" stop-color="#fec03b"/></linearGradient>
<linearGradient id="g124"><stop offset="0" stop-color="#3e26a8"/><stop offset=".034" stop-color="#3e26a8"/><stop offset=".037" stop-color="#3e27ab"/><stop offset=".05" stop-color="#4538d7"/><stop offset=".059" stop-color="#4745e9"/><stop offset=".073" stop-color="#4758f8"/><stop offset=".091" stop-color="#406dfe"/><stop offset=".107" stop-color="#3080fa"/><stop offset=".158" stop-color="#1da9e0"/><stop offset=".187" stop-color="#02b7cb"/><stop offset=".205" stop-color="#02bac3"/><stop offset=".256" stop-color="#24c1ae"/><stop offset=".342" stop-color="#3fca8e"/><stop offset=".413" stop-color="#62cd71"/><stop offset=".454" stop-color="#73cd63"/><stop offset=".543" stop-color="#abc739"/><stop offset=".591" stop-color="#c6c22a"/><stop offset=".646" stop-color="#dcbd29"/><stop offset=".735" stop-color="#f7ba3c"/><stop offset="1" stop-color="#febf3b"/></linearGradient>
<linearGradient id="g125"><stop offset="0" stop-color="#3e26a8"/><stop offset=".037" stop-color="#3e27aa"/><stop offset=".05" stop-color="#4537d6"/><stop offset=".062" stop-color="#4848ec"/><stop offset=".073" stop-color="#4758f8"/><stop offset=".094" stop-color="#3e6fff"/><stop offset=".11" stop-color="#2f81fa"/><stop offset=".128" stop-color="#2b91ef"/><stop offset=".16" stop-color="#1caadf"/><stop offset=".187" stop-color="#03b7cb"/><stop offset=".208" stop-color="#02bac3"/><stop offset=".256" stop-color="#22c1af"/><stop offset=".347" stop-color="#3fca8e"/><stop offset=".413" stop-color="#61cd72"/><stop offset=".454" stop-color="#72cd64"/><stop offset=".546" stop-color="#acc739"/><stop offset=".591" stop-color="#c5c22a"/><stop offset=".648" stop-color="#ddbd29"/><stop offset=".735" stop-color="#f6ba3b"/><stop offset="1" stop-color="#febf3c"/></linearGradient>
<linearGradient id="g126"><stop offset="0" stop-color="#3e26a8"/><stop offset=".037" stop-color="#3e27a9"/><stop offset=".05" stop-color="#4537d5"/><stop offset=".062" stop-color="#4747ec"/><stop offset=".073" stop-color="#4757f7"/><stop offset=".094" stop-color="#3f6eff"/><stop offset=".11" stop-color="#2f81fa"/><stop offset=".128" stop-color="#2b91ef"/><stop offset=".162" stop-color="#1baade"/><stop offset=".187" stop-color="#03b6cc"/><stop offset=".21" stop-color="#02bac4"/><stop offset=".256" stop-color="#21c1b0"/><stop offset=".349" stop-color="#3fca8e"/><stop offset=".413" stop-color="#60cd73"/><stop offset=".454" stop-color="#71cd64"/><stop offset=".546" stop-color="#abc739"/><stop offset=".594" stop-color="#c6c22a"/><stop offset=".648" stop-color="#dcbd29"/><stop offset=".735" stop-color="#f6ba3b"/><stop offset="1" stop-color="#febe3c"/></linearGradient>
<linearGradient id="g127"><stop offset="0" stop-color="#3e26a8"/><stop offset=".037" stop-color="#3e26a8"/><stop offset=".05" stop-color="#4536d4"/><stop offset=".062" stop-color="#4747eb"/><stop offset=".075" stop-color="#4759f8"/><stop offset=".094" stop-color="#3f6efe"/><stop offset=".107" stop-color="#317efb"/><stop offset=".142" stop-color="#259be8"/><stop offset=".167" stop-color="#19addc"/><stop offset=".189" stop-color="#03b7cc"/><stop offset=".212" stop-color="#02bac4"/><stop offset=".228" stop-color="#0abdbd"/><stop offset=".256" stop-color="#1fc0b1"/><stop offset=".295" stop-color="#2cc4a6"/><stop offset=".352" stop-color="#3fca8e"/><stop offset=".454" stop-color="#70cd65"/><stop offset=".546" stop-color="#abc739"/><stop offset=".594" stop-color="#c5c22a"/><stop offset=".648" stop-color="#dcbd29"/><stop offset=".735" stop-color="#f6ba3b"/><stop offset="1" stop-color="#febe3c"/></linearGradient>
<linearGradient id="g128"><stop offset="0" stop-color="#3e26a8"/><stop offset=".037" stop-color="#3e26a8"/><stop offset=".05" stop-color="#4536d3"/><stop offset=".062" stop-color="#4746eb"/><stop offset=".075" stop-color="#4758f8"/><stop offset=".096" stop-color="#3e70ff"/><stop offset=".112" stop-color="#2f81fa"/><stop offset=".155" stop-color="#20a5e3"/><stop offset=".174" stop-color="#13b0d7"/><stop offset=".185" stop-color="#07b5d0"/><stop offset=".196" stop-color="#02b7cb"/><stop offset=".215" stop-color="#02bac4"/><stop offset=".231" stop-color="#0abdbd"/><stop offset=".256" stop-color="#1dc0b3"/><stop offset=".295" stop-color="#2bc3a7"/><stop offset=".356" stop-color="#3fca8e"/><stop offset=".454" stop-color="#6fcd66"/><stop offset=".548" stop-color="#abc739"/><stop offset=".596" stop-color="#c6c22a"/><stop offset=".651" stop-color="#dcbd29"/><stop offset=".735" stop-color="#f5ba3b"/><stop offset="1" stop-color="#fdbd3d"/></linearGradient>
<linearGradient id="g129"><stop offset="0" stop-color="#3e26a8"/><stop offset=".037" stop-color="#3e26a8"/><stop offset=".053" stop-color="#4539d8"/><stop offset=".062" stop-color="#4746ea"/><stop offset=".075" stop-color="#4758f8"/><stop offset=".096" stop-color="#3e6fff"/><stop offset=".112" stop-color="#2f81fa"/><stop offset=".158" stop-color="#1fa6e2"/><stop offset=".187" stop-color="#06b5cf"/><stop offset=".199" stop-color="#02b7cb"/><stop offset=".217" stop-color="#02bac4"/><stop offset=".233" stop-color="#0abdbd"/><stop offset=".256" stop-color="#1cc0b4"/><stop offset=".297" stop-color="#2bc3a8"/><stop offset=".358" stop-color="#3fca8e"/><stop offset=".454" stop-color="#6ecd67"/><stop offset=".55" stop-color="#acc739"/><stop offset=".598" stop-color="#c6c22a"/><stop offset=".653" stop-color="#dcbd29"/><stop offset=".735" stop-color="#f4ba39"/><stop offset="1" stop-color="#fdbd3d"/></linearGradient>
<linearGradient id="g130"><stop offset="0" stop-color="#3e26a8"/><stop offset=".037" stop-color="#3e26a8"/><stop offset=".053" stop-color="#4538d8"/><stop offset=".062" stop-color="#4745e9"/><stop offset=".075" stop-color="#4757f7"/><stop offset=".096" stop-color="#3f6eff"/><stop offset=".112" stop-color="#2f80fa"/><stop offset=".162" stop-color="#1da8e0"/><stop offset=".187" stop-color="#07b5d0"/><stop offset=".203" stop-color="#01b8ca"/><stop offset=".221" stop-color="#02bbc3"/><stop offset=".237" stop-color="#0bbdbc"/><stop offset=".256" stop-color="#1ac0b5"/><stop offset=".299" stop-color="#2bc3a8"/><stop offset=".361" stop-color="#3fca8e"/><stop offset=".454" stop-color="#6dcd68"/><stop offset=".553" stop-color="#abc739"/><stop offset=".6" stop-color="#c5c22a"/><stop offset=".658" stop-color="#dcbd29"/><stop offset=".735" stop-color="#f2ba38"/><stop offset=".811" stop-color="#f8ba3d"/><stop offset="1" stop-color="#fcbc3d"/></linearGradient>
<linearGradient id="g131"><stop offset="0" stop-color="#3e26a8"/><stop offset=".037" stop-color="#3e26a8"/><stop offset=".039" stop-color="#3e27ac"/><stop offset=".053" stop-color="#4538d7"/><stop offset=".064" stop-color="#4848ec"/><stop offset=".078" stop-color="#4759f8"/><stop offset=".096" stop-color="#3f6efe"/><stop offset=".112" stop-color="#307ffb"/><stop offset=".164" stop-color="#1ca9e0"/><stop offset=".187" stop-color="#08b4d1"/><stop offset=".205" stop-color="#01b8ca"/><stop offset=".224" stop-color="#02bbc3"/><stop offset=".24" stop-color="#0bbdbc"/><stop offset=".258" stop-color="#19bfb5"/><stop offset=".299" stop-color="#2ac3a9"/><stop offset=".363" stop-color="#3fca8e"/><stop offset=".454" stop-color="#6bcd69"/><stop offset=".555" stop-color="#abc739"/><stop offset=".605" stop-color="#c6c22a"/><stop offset=".662" stop-color="#dcbd29"/><stop offset=".735" stop-color="#f1ba37"/><stop offset=".863" stop-color="#f8ba3d"/><stop offset="1" stop-color="#fbbc3d"/></linearGradient>
<linearGradient id="g132"><stop offset="0" stop-color="#3e26a8"/><stop offset=".037" stop-color="#3e26a8"/><stop offset=".039" stop-color="#3e27ab"/><stop offset=".053" stop-color="#4537d6"/><stop offset=".064" stop-color="#4848ec"/><stop offset=".078" stop-color="#4759f8"/><stop offset=".098" stop-color="#3e70ff"/><stop offset=".114" stop-color="#2f81fa"/><stop offset=".132" stop-color="#2b91ef"/><stop offset=".167" stop-color="#1caadf"/><stop offset=".189" stop-color="#08b4d1"/><stop offset=".208" stop-color="#01b8ca"/><stop offset=".226" stop-color="#02bbc3"/><stop offset=".242" stop-color="#0bbdbc"/><stop offset=".26" stop-color="#19bfb5"/><stop offset=".301" stop-color="#29c3a9"/><stop offset=".368" stop-color="#3fca8e"/><stop offset=".454" stop-color="#6acd6a"/><stop offset=".557" stop-color="#abc739"/><stop offset=".607" stop-color="#c5c22a"/><stop offset=".667" stop-color="#dcbd29"/><stop offset=".735" stop-color="#efba35"/><stop offset=".806" stop-color="#f5ba3a"/><stop offset="1" stop-color="#fabb3d"/></linearGradient>
<linearGradient id="g133"><stop offset="0" stop-color="#3e26a8"/><stop offset=".039" stop-color="#3e27aa"/><stop offset=".053" stop-color="#4537d5"/><stop offset=".064" stop-color="#4747eb"/><stop offset=".078" stop-color="#4758f8"/><stop offset=".098" stop-color="#3e6fff"/><stop offset=".114" stop-color="#2f80fa"/><stop offset=".132" stop-color="#2c90f0"/><stop offset=".174" stop-color="#18aedb"/><stop offset=".189" stop-color="#0ab4d1"/><stop offset=".21" stop-color="#01b8ca"/><stop offset=".228" stop-color="#02bbc3"/><stop offset=".244" stop-color="#0bbdbd"/><stop offset=".265" stop-color="#19bfb5"/><stop offset=".37" stop-color="#3fca8e"/><stop offset=".454" stop-color="#69cd6b"/><stop offset=".559" stop-color="#abc739"/><stop offset=".61" stop-color="#c5c22a"/><stop offset=".669" stop-color="#dcbd29"/><stop offset=".735" stop-color="#edba34"/><stop offset="1" stop-color="#f9ba3d"/></linearGradient>
<linearGradient id="g134"><stop offset="0" stop-color="#3e26a8"/><stop offset=".039" stop-color="#3e26a9"/><stop offset=".053" stop-color="#4536d4"/><stop offset=".064" stop-color="#4746eb"/><stop offset=".078" stop-color="#4757f7"/><stop offset=".098" stop-color="#3f6eff"/><stop offset=".114" stop-color="#3080fb"/><stop offset=".135" stop-color="#2b91ef"/><stop offset=".174" stop-color="#19addc"/><stop offset=".189" stop-color="#0bb3d2"/><stop offset=".212" stop-color="#01b8ca"/><stop offset=".231" stop-color="#02bbc3"/><stop offset=".247" stop-color="#0bbdbd"/><stop offset=".269" stop-color="#19bfb5"/><stop offset=".372" stop-color="#3fca8e"/><stop offset=".454" stop-color="#67cd6c"/><stop offset=".562" stop-color="#abc739"/><stop offset=".614" stop-color="#c6c22a"/><stop offset=".674" stop-color="#dcbd29"/><stop offset=".735" stop-color="#ecba32"/><stop offset="1" stop-color="#f8ba3d"/></linearGradient>
<linearGradient id="g135"><stop offset="0" stop-color="#3e26a8"/><stop offset=".039" stop-color="#3e26a8"/><stop offset=".055" stop-color="#4538d8"/><stop offset=".066" stop-color="#4849ed"/><stop offset=".084" stop-color="#465efb"/><stop offset=".1" stop-color="#3e70ff"/><stop offset=".116" stop-color="#2f80fa"/><stop offset=".135" stop-color="#2b90f0"/><stop offset=".174" stop-color="#1aacdd"/><stop offset=".217" stop-color="#01b8ca"/><stop offset=".235" stop-color="#02bbc3"/><stop offset=".251" stop-color="#0bbdbd"/><stop offset=".308" stop-color="#28c2ab"/><stop offset=".374" stop-color="#3eca8f"/><stop offset=".447" stop-color="#63cd6f"/><stop offset=".566" stop-color="#acc739"/><stop offset=".616" stop-color="#c5c22a"/><stop offset=".678" stop-color="#dcbd29"/><stop offset=".735" stop-color="#eaba31"/><stop offset=".806" stop-color="#f0ba36"/><stop offset="1" stop-color="#f6ba3b"/></linearGradient>
<linearGradient id="g136"><stop offset="0" stop-color="#3e26a8"/><stop offset=".039" stop-color="#3e26a8"/><stop offset=".055" stop-color="#4537d7"/><stop offset=".066" stop-color="#4848ec"/><stop offset=".082" stop-color="#475af9"/><stop offset=".1" stop-color="#3f6fff"/><stop offset=".119" stop-color="#2f81fa"/><stop offset=".137" stop-color="#2b91ef"/><stop offset=".174" stop-color="#1babde"/><stop offset=".221" stop-color="#01b8ca"/><stop offset=".24" stop-color="#02bbc3"/><stop offset=".253" stop-color="#0abdbe"/><stop offset=".308" stop-color="#25c2ad"/><stop offset=".379" stop-color="#3fca8e"/><stop offset=".452" stop-color="#64cd6f"/><stop offset=".568" stop-color="#acc739"/><stop offset=".619" stop-color="#c5c22a"/><stop offset=".651" stop-color="#d2bf27"/><stop offset=".735" stop-color="#e8bb2f"/><stop offset=".806" stop-color="#efba35"/><stop offset="1" stop-color="#f5ba3a"/></linearGradient>
<linearGradient id="g137"><stop offset="0" stop-color="#3e26a8"/><stop offset=".039" stop-color="#3e26a8"/><stop offset=".041" stop-color="#3e27ab"/><stop offset=".055" stop-color="#4537d5"/><stop offset=".066" stop-color="#4747eb"/><stop offset=".082" stop-color="#4759f8"/><stop offset=".103" stop-color="#3e70ff"/><stop offset=".119" stop-color="#3080fa"/><stop offset=".174" stop-color="#1caadf"/><stop offset=".226" stop-color="#01b7ca"/><stop offset=".244" stop-color="#02bbc3"/><stop offset=".253" stop-color="#07bcbf"/><stop offset=".311" stop-color="#24c1ae"/><stop offset=".384" stop-color="#3fca8e"/><stop offset=".447" stop-color="#61cd72"/><stop offset=".571" stop-color="#abc739"/><stop offset=".623" stop-color="#c6c22a"/><stop offset=".655" stop-color="#d2bf27"/><stop offset=".735" stop-color="#e7bb2d"/><stop offset=".806" stop-color="#edba33"/><stop offset="1" stop-color="#f3ba39"/></linearGradient>
<linearGradient id="g138"><stop offset="0" stop-color="#3e26a8"/><stop offset=".041" stop-color="#3e26a9"/><stop offset=".055" stop-color="#4536d3"/><stop offset=".066" stop-color="#4746ea"/><stop offset=".082" stop-color="#4758f8"/><stop offset=".103" stop-color="#3f6fff"/><stop offset=".121" stop-color="#2f81fa"/><stop offset=".174" stop-color="#1da9e0"/><stop offset=".231" stop-color="#01b7ca"/><stop offset=".253" stop-color="#04bbc1"/><stop offset=".313" stop-color="#23c1af"/><stop offset=".386" stop-color="#3fca8e"/><stop offset=".441" stop-color="#5dcc75"/><stop offset=".479" stop-color="#70cd65"/><stop offset=".573" stop-color="#abc739"/><stop offset=".626" stop-color="#c5c22a"/><stop offset=".66" stop-color="#d2bf27"/><stop offset=".735" stop-color="#e5bb2c"/><stop offset=".806" stop-color="#ecba32"/><stop offset="1" stop-color="#f2ba38"/></linearGradient>
<linearGradient id="g139"><stop offset="0" stop-color="#3e26a8"/><stop offset=".041" stop-color="#3e26a8"/><stop offset=".057" stop-color="#4538d7"/><stop offset=".068" stop-color="#4848ec"/><stop offset=".089" stop-color="#465efb"/><stop offset=".105" stop-color="#3e70ff"/><stop offset=".123" stop-color="#2f81fa"/><stop offset=".174" stop-color="#1ea8e1"/><stop offset=".235" stop-color="#01b7ca"/><stop offset=".253" stop-color="#02bac3"/><stop offset=".279" stop-color="#0bbdbc"/><stop offset=".313" stop-color="#1fc1b1"/><stop offset=".336" stop-color="#2cc4a7"/><stop offset=".388" stop-color="#3eca8f"/><stop offset=".436" stop-color="#59cc78"/><stop offset=".461" stop-color="#64cd6f"/><stop offset=".575" stop-color="#abc739"/><stop offset=".63" stop-color="#c6c22a"/><stop offset=".664" stop-color="#d2bf27"/><stop offset=".735" stop-color="#e3bc2c"/><stop offset=".806" stop-color="#eaba31"/><stop offset="1" stop-color="#f1ba36"/></linearGradient>
<linearGradient id="g140"><stop offset="0" stop-color="#3e26a8"/><stop offset=".041" stop-color="#3e26a8"/><stop offset=".057" stop-color="#4537d5"/><stop offset=".068" stop-color="#4747eb"/><stop offset=".089" stop-color="#465dfa"/><stop offset=".105" stop-color="#3f6fff"/><stop offset=".123" stop-color="#2f80fa"/><stop offset=".174" stop-color="#1fa6e1"/><stop offset=".24" stop-color="#01b7ca"/><stop offset=".256" stop-color="#02bac4"/><stop offset=".285" stop-color="#0bbdbd"/><stop offset=".313" stop-color="#1cc0b3"/><stop offset=".336" stop-color="#2ac3a9"/><stop offset=".393" stop-color="#3fca8e"/><stop offset=".436" stop-color="#58cc79"/><stop offset=".463" stop-color="#64cd6f"/><stop offset=".575" stop-color="#a8c73b"/><stop offset=".635" stop-color="#c6c22a"/><stop offset=".735" stop-color="#e0bc2b"/><stop offset=".806" stop-color="#e8bb2f"/><stop offset="1" stop-color="#efba35"/></linearGradient>
<linearGradient id="g141"><stop offset="0" stop-color="#3e26a8"/><stop offset=".043" stop-color="#3e27aa"/><stop offset=".057" stop-color="#4536d4"/><stop offset=".068" stop-color="#4746ea"/><stop offset=".087" stop-color="#4759f8"/><stop offset=".105" stop-color="#406dfe"/><stop offset=".126" stop-color="#2f81fa"/><stop offset=".174" stop-color="#1fa5e2"/><stop offset=".189" stop-color="#19acdc"/><stop offset=".244" stop-color="#01b7ca"/><stop offset=".256" stop-color="#01b9c6"/><stop offset=".292" stop-color="#0bbdbd"/><stop offset=".333" stop-color="#27c2ac"/><stop offset=".381" stop-color="#38c896"/><stop offset=".441" stop-color="#57cc7a"/><stop offset=".493" stop-color="#72cd64"/><stop offset=".575" stop-color="#a5c83e"/><stop offset=".635" stop-color="#c2c22c"/><stop offset=".683" stop-color="#d1bf27"/><stop offset=".735" stop-color="#ddbd29"/><stop offset=".806" stop-color="#e5bb2c"/><stop offset="1" stop-color="#ebba32"/></linearGradient>
<linearGradient id="g142"><stop offset="0" stop-color="#3e26a8"/><stop offset=".043" stop-color="#3e26a8"/><stop offset=".057" stop-color="#4435d2"/><stop offset=".068" stop-color="#4745e9"/><stop offset=".087" stop-color="#4758f8"/><stop offset=".107" stop-color="#3f6eff"/><stop offset=".128" stop-color="#2f82fa"/><stop offset=".176" stop-color="#1fa5e2"/><stop offset=".256" stop-color="#01b9c8"/><stop offset=".274" stop-color="#02bac3"/><stop offset=".295" stop-color="#09bcbe"/><stop offset=".333" stop-color="#24c2ae"/><stop offset=".384" stop-color="#37c897"/><stop offset=".445" stop-color="#56cc7b"/><stop offset=".498" stop-color="#71cd64"/><stop offset=".575" stop-color="#a1c840"/><stop offset=".635" stop-color="#bec32e"/><stop offset=".694" stop-color="#d1bf27"/><stop offset=".737" stop-color="#dabd28"/><stop offset=".806" stop-color="#e1bc2b"/><stop offset="1" stop-color="#e8bb2f"/></linearGradient>
<linearGradient id="g143"><stop offset="0" stop-color="#3e26a8"/><stop offset=".043" stop-color="#3e26a8"/><stop offset=".059" stop-color="#4537d6"/><stop offset=".068" stop-color="#4744e8"/><stop offset=".089" stop-color="#4759f9"/><stop offset=".11" stop-color="#3e6fff"/><stop offset=".128" stop-color="#2f80fa"/><stop offset=".178" stop-color="#1fa5e2"/><stop offset=".256" stop-color="#01b8ca"/><stop offset=".295" stop-color="#06bcc0"/><stop offset=".338" stop-color="#24c2ae"/><stop offset=".388" stop-color="#37c897"/><stop offset=".438" stop-color="#50cc7f"/><stop offset=".482" stop-color="#65cd6e"/><stop offset=".575" stop-color="#9dc943"/><stop offset=".635" stop-color="#bac430"/><stop offset=".671" stop-color="#c6c22a"/><stop offset=".735" stop-color="#d6be28"/><stop offset=".806" stop-color="#ddbd29"/><stop offset="1" stop-color="#e4bb2c"/></linearGradient>
<linearGradient id="g144"><stop offset="0" stop-color="#3e26a8"/><stop offset=".043" stop-color="#3e26a8"/><stop offset=".059" stop-color="#4536d4"/><stop offset=".068" stop-color="#4743e7"/><stop offset=".089" stop-color="#4758f8"/><stop offset=".11" stop-color="#3f6eff"/><stop offset=".13" stop-color="#2f81fa"/><stop offset=".187" stop-color="#1da8e0"/><stop offset=".217" stop-color="#15afd9"/><stop offset=".256" stop-color="#03b7cb"/><stop offset=".288" stop-color="#02bac4"/><stop offset=".308" stop-color="#0abdbd"/><stop offset=".342" stop-color="#24c1ae"/><stop offset=".42" stop-color="#45cb89"/><stop offset=".461" stop-color="#57cc7a"/><stop offset=".575" stop-color="#99c946"/><stop offset=".642" stop-color="#b8c431"/><stop offset=".735" stop-color="#d2bf27"/><stop offset=".806" stop-color="#dabd28"/><stop offset="1" stop-color="#e1bc2b"/></linearGradient>
<linearGradient id="g145"><stop offset="0" stop-color="#3e26a8"/><stop offset=".043" stop-color="#3e26a8"/><stop offset=".046" stop-color="#3e27ab"/><stop offset=".059" stop-color="#4536d3"/><stop offset=".068" stop-color="#4742e6"/><stop offset=".089" stop-color="#4757f7"/><stop offset=".112" stop-color="#3e6fff"/><stop offset=".13" stop-color="#3080fa"/><stop offset=".187" stop-color="#1ea7e1"/><stop offset=".217" stop-color="#17aeda"/><stop offset=".256" stop-color="#04b6cd"/><stop offset=".295" stop-color="#02bac4"/><stop offset=".315" stop-color="#0cbdbc"/><stop offset=".347" stop-color="#24c1ae"/><stop offset=".42" stop-color="#42ca8b"/><stop offset=".466" stop-color="#57cc7a"/><stop offset=".591" stop-color="#9dc943"/><stop offset=".655" stop-color="#b9c431"/><stop offset=".735" stop-color="#cec028"/><stop offset=".763" stop-color="#d1bf27"/><stop offset="1" stop-color="#ddbd29"/></linearGradient>
<linearGradient id="g146"><stop offset="0" stop-color="#3e26a8"/><stop offset=".046" stop-color="#3e27a9"/><stop offset=".059" stop-color="#4435d1"/><stop offset=".068" stop-color="#4741e5"/><stop offset=".091" stop-color="#4759f8"/><stop offset=".112" stop-color="#3f6efe"/><stop offset=".132" stop-color="#2f81fa"/><stop offset=".187" stop-color="#1fa6e1"/><stop offset=".217" stop-color="#18addb"/><stop offset=".256" stop-color="#06b5cf"/><stop offset=".276" stop-color="#01b8ca"/><stop offset=".301" stop-color="#02bac3"/><stop offset=".352" stop-color="#24c1ae"/><stop offset=".443" stop-color="#4acb84"/><stop offset=".523" stop-color="#71cd64"/><stop offset=".575" stop-color="#91ca4c"/><stop offset=".635" stop-color="#aec637"/><stop offset=".735" stop-color="#cac129"/><stop offset=".806" stop-color="#d2bf27"/><stop offset="1" stop-color="#d9bd28"/></linearGradient>
<linearGradient id="g147"><stop offset="0" stop-color="#3e26a8"/><stop offset=".046" stop-color="#3e26a8"/><stop offset=".062" stop-color="#4537d6"/><stop offset=".071" stop-color="#4743e7"/><stop offset=".091" stop-color="#4758f8"/><stop offset=".114" stop-color="#3f6fff"/><stop offset=".135" stop-color="#2f82fa"/><stop offset=".187" stop-color="#1fa5e2"/><stop offset=".221" stop-color="#18addb"/><stop offset=".258" stop-color="#07b5d0"/><stop offset=".285" stop-color="#01b8ca"/><stop offset=".306" stop-color="#02bac4"/><stop offset=".356" stop-color="#24c1ae"/><stop offset=".45" stop-color="#4acb84"/><stop offset=".53" stop-color="#72cd64"/><stop offset=".575" stop-color="#8dcb4f"/><stop offset=".639" stop-color="#abc739"/><stop offset=".735" stop-color="#c6c22a"/><stop offset=".861" stop-color="#d1bf27"/><stop offset="1" stop-color="#d5be28"/></linearGradient>
<linearGradient id="g148"><stop offset="0" stop-color="#3e26a8"/><stop offset=".046" stop-color="#3e26a8"/><stop offset=".062" stop-color="#4536d4"/><stop offset=".071" stop-color="#4742e6"/><stop offset=".094" stop-color="#4759f8"/><stop offset=".116" stop-color="#3e70ff"/><stop offset=".135" stop-color="#2f80fa"/><stop offset=".187" stop-color="#20a4e3"/><stop offset=".226" stop-color="#18addb"/><stop offset=".265" stop-color="#08b5d0"/><stop offset=".292" stop-color="#01b8ca"/><stop offset=".311" stop-color="#02bac4"/><stop offset=".374" stop-color="#2bc3a8"/><stop offset=".457" stop-color="#4acb85"/><stop offset=".635" stop-color="#a6c83d"/><stop offset=".735" stop-color="#c2c22c"/><stop offset=".879" stop-color="#cec028"/><stop offset="1" stop-color="#d1bf27"/></linearGradient>
<linearGradient id="g149"><stop offset="0" stop-color="#3e26a8"/><stop offset=".046" stop-color="#3e26a8"/><stop offset=".062" stop-color="#4536d3"/><stop offset=".071" stop-color="#4741e5"/><stop offset=".094" stop-color="#4758f8"/><stop offset=".116" stop-color="#3f6eff"/><stop offset=".137" stop-color="#2f81fa"/><stop offset=".187" stop-color="#21a3e3"/><stop offset=".231" stop-color="#18addb"/><stop offset=".297" stop-color="#01b7ca"/><stop offset=".315" stop-color="#02bac4"/><stop offset=".379" stop-color="#2bc3a8"/><stop offset=".466" stop-color="#4acb84"/><stop offset=".635" stop-color="#a1c840"/><stop offset=".735" stop-color="#bdc32f"/><stop offset=".879" stop-color="#c9c129"/><stop offset="1" stop-color="#ccc028"/></linearGradient>
<linearGradient id="g150"><stop offset="0" stop-color="#3e26a8"/><stop offset=".046" stop-color="#3e26a8"/><stop offset=".048" stop-color="#3e27aa"/><stop offset=".064" stop-color="#4538d7"/><stop offset=".073" stop-color="#4742e6"/><stop offset=".096" stop-color="#475af9"/><stop offset=".119" stop-color="#3e6fff"/><stop offset=".137" stop-color="#3080fa"/><stop offset=".187" stop-color="#22a2e4"/><stop offset=".235" stop-color="#18addb"/><stop offset=".304" stop-color="#01b8ca"/><stop offset=".32" stop-color="#02bac4"/><stop offset=".384" stop-color="#2bc3a8"/><stop offset=".475" stop-color="#4acb84"/><stop offset=".635" stop-color="#9bc945"/><stop offset=".735" stop-color="#b6c532"/><stop offset=".879" stop-color="#c3c22b"/><stop offset="1" stop-color="#c7c12a"/></linearGradient>
<linearGradient id="g151"><stop offset="0" stop-color="#3e26a8"/><stop offset=".048" stop-color="#3e26a9"/><stop offset=".064" stop-color="#4537d6"/><stop offset=".073" stop-color="#4741e5"/><stop offset=".096" stop-color="#4759f8"/><stop offset=".119" stop-color="#3f6eff"/><stop offset=".139" stop-color="#2f81fa"/><stop offset=".187" stop-color="#23a1e5"/><stop offset=".24" stop-color="#18addb"/><stop offset=".308" stop-color="#01b8ca"/><stop offset=".324" stop-color="#02bac4"/><stop offset=".39" stop-color="#2cc4a7"/><stop offset=".459" stop-color="#3fca8e"/><stop offset=".635" stop-color="#95ca49"/><stop offset=".735" stop-color="#b0c636"/><stop offset=".879" stop-color="#bdc32e"/><stop offset="1" stop-color="#c2c22c"/></linearGradient>
<linearGradient id="g152"><stop offset="0" stop-color="#3e26a8"/><stop offset=".048" stop-color="#3e26a8"/><stop offset=".064" stop-color="#4536d4"/><stop offset=".073" stop-color="#4741e4"/><stop offset=".096" stop-color="#4758f8"/><stop offset=".121" stop-color="#3e6fff"/><stop offset=".142" stop-color="#2f81fa"/><stop offset=".187" stop-color="#239fe5"/><stop offset=".244" stop-color="#18addb"/><stop offset=".292" stop-color="#08b4d1"/><stop offset=".313" stop-color="#01b8ca"/><stop offset=".329" stop-color="#02bac4"/><stop offset=".395" stop-color="#2bc3a8"/><stop offset=".468" stop-color="#3fca8e"/><stop offset=".635" stop-color="#8fcb4e"/><stop offset=".735" stop-color="#a9c73a"/><stop offset=".879" stop-color="#b7c532"/><stop offset="1" stop-color="#bcc42f"/></linearGradient>
<linearGradient id="g153"><stop offset="0" stop-color="#3e26a8"/><stop offset=".048" stop-color="#3e26a8"/><stop offset=".066" stop-color="#4538d7"/><stop offset=".075" stop-color="#4741e6"/><stop offset=".103" stop-color="#465dfa"/><stop offset=".128" stop-color="#3a74fe"/><stop offset=".144" stop-color="#2f82fa"/><stop offset=".187" stop-color="#249ee6"/><stop offset=".249" stop-color="#18addb"/><stop offset=".292" stop-color="#0bb3d2"/><stop offset=".317" stop-color="#01b8ca"/><stop offset=".333" stop-color="#02bac3"/><stop offset=".4" stop-color="#2bc3a8"/><stop offset=".477" stop-color="#3fca8e"/><stop offset=".635" stop-color="#89cb52"/><stop offset=".735" stop-color="#a2c83f"/><stop offset=".879" stop-color="#b1c635"/><stop offset="1" stop-color="#b7c532"/></linearGradient>
<linearGradient id="g154"><stop offset="0" stop-color="#3e26a8"/><stop offset=".05" stop-color="#3e26a9"/><stop offset=".066" stop-color="#4537d5"/><stop offset=".078" stop-color="#4742e6"/><stop offset=".105" stop-color="#465efb"/><stop offset=".13" stop-color="#3974fe"/><stop offset=".144" stop-color="#2f80fa"/><stop offset=".187" stop-color="#259de7"/><stop offset=".292" stop-color="#0db3d4"/><stop offset=".322" stop-color="#01b8ca"/><stop offset=".338" stop-color="#02bac4"/><stop offset=".402" stop-color="#29c3aa"/><stop offset=".484" stop-color="#3fca8e"/><stop offset=".635" stop-color="#84cc57"/><stop offset=".735" stop-color="#9bc944"/><stop offset=".881" stop-color="#abc739"/><stop offset="1" stop-color="#b1c635"/></linearGradient>
<linearGradient id="g155"><stop offset="0" stop-color="#3e26a8"/><stop offset=".05" stop-color="#3e26a8"/><stop offset=".068" stop-color="#4538d8"/><stop offset=".08" stop-color="#4743e7"/><stop offset=".105" stop-color="#475dfa"/><stop offset=".132" stop-color="#3975fe"/><stop offset=".146" stop-color="#2f81fa"/><stop offset=".187" stop-color="#259ce7"/><stop offset=".292" stop-color="#10b2d5"/><stop offset=".326" stop-color="#01b8ca"/><stop offset=".342" stop-color="#02bac4"/><stop offset=".404" stop-color="#27c2ab"/><stop offset=".493" stop-color="#3fca8e"/><stop offset=".635" stop-color="#7ecc5b"/><stop offset=".735" stop-color="#94ca4a"/><stop offset=".881" stop-color="#a4c83e"/><stop offset="1" stop-color="#abc739"/></linearGradient>
<linearGradient id="g156"><stop offset="0" stop-color="#3e26a8"/><stop offset=".053" stop-color="#3e27aa"/><stop offset=".068" stop-color="#4537d5"/><stop offset=".084" stop-color="#4746eb"/><stop offset=".107" stop-color="#465dfa"/><stop offset=".121" stop-color="#4269fe"/><stop offset=".135" stop-color="#3875fe"/><stop offset=".148" stop-color="#2f81fa"/><stop offset=".187" stop-color="#269ae8"/><stop offset=".295" stop-color="#12b1d6"/><stop offset=".331" stop-color="#01b8ca"/><stop offset=".347" stop-color="#02bac4"/><stop offset=".409" stop-color="#27c2ac"/><stop offset=".502" stop-color="#3fca8e"/><stop offset=".635" stop-color="#77cc5f"/><stop offset=".735" stop-color="#8dcb4f"/><stop offset="1" stop-color="#a5c83d"/></linearGradient>
<linearGradient id="g157"><stop offset="0" stop-color="#3e26a8"/><stop offset=".053" stop-color="#3e26a8"/><stop offset=".068" stop-color="#4536d3"/><stop offset=".087" stop-color="#4747eb"/><stop offset=".11" stop-color="#465efb"/><stop offset=".123" stop-color="#4269fe"/><stop offset=".137" stop-color="#3876fe"/><stop offset=".151" stop-color="#2f81fa"/><stop offset=".187" stop-color="#2699e9"/><stop offset=".295" stop-color="#13b0d7"/><stop offset=".333" stop-color="#02b7ca"/><stop offset=".354" stop-color="#02bac3"/><stop offset=".411" stop-color="#25c2ae"/><stop offset=".509" stop-color="#3fca8e"/><stop offset=".635" stop-color="#71cd64"/><stop offset=".735" stop-color="#86cb55"/><stop offset="1" stop-color="#9fc942"/></linearGradient>
<linearGradient id="g158"><stop offset="0" stop-color="#3e26a8"/><stop offset=".053" stop-color="#3e26a8"/><stop offset=".055" stop-color="#3e27aa"/><stop offset=".071" stop-color="#4537d5"/><stop offset=".087" stop-color="#4746ea"/><stop offset=".11" stop-color="#475cfa"/><stop offset=".137" stop-color="#3974fe"/><stop offset=".153" stop-color="#2f82fa"/><stop offset=".187" stop-color="#2798ea"/><stop offset=".295" stop-color="#15afd9"/><stop offset=".34" stop-color="#01b8ca"/><stop offset=".358" stop-color="#02bac4"/><stop offset=".418" stop-color="#23c1af"/><stop offset=".53" stop-color="#3fca8e"/><stop offset=".635" stop-color="#6bcd69"/><stop offset=".696" stop-color="#78cc5f"/><stop offset="1" stop-color="#97ca48"/></linearGradient>
<linearGradient id="g159"><stop offset="0" stop-color="#3e26a8"/><stop offset=".055" stop-color="#3e26a8"/><stop offset=".071" stop-color="#4536d2"/><stop offset=".089" stop-color="#4747eb"/><stop offset=".112" stop-color="#475dfa"/><stop offset=".139" stop-color="#3975fe"/><stop offset=".153" stop-color="#2f80fa"/><stop offset=".187" stop-color="#2797eb"/><stop offset=".295" stop-color="#17aeda"/><stop offset=".347" stop-color="#01b8ca"/><stop offset=".365" stop-color="#02bac4"/><stop offset=".432" stop-color="#24c1ae"/><stop offset=".546" stop-color="#3fca8e"/><stop offset=".635" stop-color="#64cd6e"/><stop offset=".694" stop-color="#71cd64"/><stop offset="1" stop-color="#8ecb4e"/></linearGradient>
<linearGradient id="g160"><stop offset="0" stop-color="#3e26a8"/><stop offset=".055" stop-color="#3e26a8"/><stop offset=".073" stop-color="#4536d4"/><stop offset=".091" stop-color="#4848ec"/><stop offset=".114" stop-color="#465dfa"/><stop offset=".142" stop-color="#3975fe"/><stop offset=".155" stop-color="#2f81fa"/><stop offset=".189" stop-color="#2896eb"/><stop offset=".295" stop-color="#18addb"/><stop offset=".354" stop-color="#01b8ca"/><stop offset=".374" stop-color="#02bac3"/><stop offset=".436" stop-color="#20c1b1"/><stop offset=".539" stop-color="#38c897"/><stop offset=".635" stop-color="#5ecd74"/><stop offset=".694" stop-color="#6acd6a"/><stop offset=".735" stop-color="#69cd6b"/><stop offset="1" stop-color="#86cb55"/></linearGradient>
<linearGradient id="g161"><stop offset="0" stop-color="#3e26a8"/><stop offset=".057" stop-color="#3e26a8"/><stop offset=".071" stop-color="#4433cd"/><stop offset=".091" stop-color="#4746eb"/><stop offset=".116" stop-color="#465efb"/><stop offset=".144" stop-color="#3875fe"/><stop offset=".158" stop-color="#2f81fa"/><stop offset=".189" stop-color="#2995ec"/><stop offset=".299" stop-color="#18addb"/><stop offset=".361" stop-color="#01b8ca"/><stop offset=".381" stop-color="#02bac4"/><stop offset=".441" stop-color="#1cc0b4"/><stop offset=".516" stop-color="#2ec4a4"/><stop offset=".573" stop-color="#3fca8e"/><stop offset=".635" stop-color="#59cc79"/><stop offset=".694" stop-color="#64cd6f"/><stop offset=".735" stop-color="#60cd72"/><stop offset="1" stop-color="#7dcc5b"/></linearGradient>
<linearGradient id="g162"><stop offset="0" stop-color="#3e26a8"/><stop offset=".057" stop-color="#3e26a8"/><stop offset=".075" stop-color="#4536d3"/><stop offset=".094" stop-color="#4747eb"/><stop offset=".119" stop-color="#465efb"/><stop offset=".144" stop-color="#3a74fe"/><stop offset=".16" stop-color="#2f81fa"/><stop offset=".189" stop-color="#2a93ed"/><stop offset=".304" stop-color="#18addb"/><stop offset=".368" stop-color="#01b8ca"/><stop offset=".39" stop-color="#02bac4"/><stop offset=".45" stop-color="#19bfb5"/><stop offset=".514" stop-color="#28c3aa"/><stop offset=".587" stop-color="#3fca8e"/><stop offset=".635" stop-color="#53cc7e"/><stop offset=".694" stop-color="#5ecc74"/><stop offset=".735" stop-color="#58cc7a"/><stop offset="1" stop-color="#74cc62"/></linearGradient>
<linearGradient id="g163"><stop offset="0" stop-color="#3e26a8"/><stop offset=".059" stop-color="#3e26a8"/><stop offset=".068" stop-color="#422fc2"/><stop offset=".078" stop-color="#4536d4"/><stop offset=".096" stop-color="#4848ec"/><stop offset=".119" stop-color="#475cfa"/><stop offset=".146" stop-color="#3a74fe"/><stop offset=".162" stop-color="#2f81fa"/><stop offset=".187" stop-color="#2b91ef"/><stop offset=".205" stop-color="#2797eb"/><stop offset=".308" stop-color="#19addc"/><stop offset=".377" stop-color="#01b8ca"/><stop offset=".402" stop-color="#02bac3"/><stop offset=".514" stop-color="#22c1b0"/><stop offset=".635" stop-color="#4dcb82"/><stop offset=".694" stop-color="#58cc79"/><stop offset=".735" stop-color="#4fcc80"/><stop offset="1" stop-color="#6ccd68"/></linearGradient>
<linearGradient id="g164"><stop offset="0" stop-color="#3e26a8"/><stop offset=".059" stop-color="#3e26a8"/><stop offset=".08" stop-color="#4537d5"/><stop offset=".096" stop-color="#4746ea"/><stop offset=".121" stop-color="#475dfa"/><stop offset=".148" stop-color="#3974fe"/><stop offset=".164" stop-color="#2f82fa"/><stop offset=".187" stop-color="#2c90f0"/><stop offset=".247" stop-color="#23a0e5"/><stop offset=".315" stop-color="#18addb"/><stop offset=".386" stop-color="#01b8ca"/><stop offset=".413" stop-color="#02bac3"/><stop offset=".514" stop-color="#1ac0b5"/><stop offset=".548" stop-color="#2cc4a7"/><stop offset=".635" stop-color="#47cb87"/><stop offset=".694" stop-color="#52cc7e"/><stop offset=".735" stop-color="#47cb87"/><stop offset="1" stop-color="#64cd6f"/></linearGradient>
<linearGradient id="g165"><stop offset="0" stop-color="#3e26a8"/><stop offset=".062" stop-color="#3e26a8"/><stop offset=".068" stop-color="#412dbb"/><stop offset=".08" stop-color="#4535d2"/><stop offset=".098" stop-color="#4747eb"/><stop offset=".123" stop-color="#465dfa"/><stop offset=".146" stop-color="#3d71ff"/><stop offset=".164" stop-color="#3080fa"/><stop offset=".187" stop-color="#2c8ef1"/><stop offset=".253" stop-color="#22a1e4"/><stop offset=".32" stop-color="#18addb"/><stop offset=".397" stop-color="#01b8ca"/><stop offset=".429" stop-color="#02bac4"/><stop offset=".514" stop-color="#11beba"/><stop offset=".541" stop-color="#24c1ae"/><stop offset=".573" stop-color="#31c6a0"/><stop offset=".635" stop-color="#42ca8b"/><stop offset=".694" stop-color="#4ccb83"/><stop offset=".735" stop-color="#40ca8d"/><stop offset="1" stop-color="#5ccc75"/></linearGradient>
<linearGradient id="g166"><stop offset="0" stop-color="#3e26a8"/><stop offset=".062" stop-color="#3e26a8"/><stop offset=".082" stop-color="#4536d3"/><stop offset=".1" stop-color="#4747ec"/><stop offset=".126" stop-color="#465dfb"/><stop offset=".148" stop-color="#3d71ff"/><stop offset=".167" stop-color="#2f80fa"/><stop offset=".187" stop-color="#2d8df2"/><stop offset=".256" stop-color="#23a0e5"/><stop offset=".324" stop-color="#18addb"/><stop offset=".409" stop-color="#01b7ca"/><stop offset=".447" stop-color="#02bac3"/><stop offset=".514" stop-color="#09bcbe"/><stop offset=".55" stop-color="#24c1af"/><stop offset=".573" stop-color="#2ec5a4"/><stop offset=".635" stop-color="#3eca90"/><stop offset=".694" stop-color="#47cb87"/><stop offset=".735" stop-color="#3ac994"/><stop offset="1" stop-color="#55cc7b"/></linearGradient>
<linearGradient id="g167"><stop offset="0" stop-color="#3e26a8"/><stop offset=".064" stop-color="#3e26a8"/><stop offset=".084" stop-color="#4536d5"/><stop offset=".1" stop-color="#4746ea"/><stop offset=".121" stop-color="#4758f8"/><stop offset=".148" stop-color="#3e6fff"/><stop offset=".169" stop-color="#2f81fa"/><stop offset=".187" stop-color="#2d8cf3"/><stop offset=".256" stop-color="#249fe5"/><stop offset=".329" stop-color="#19addc"/><stop offset=".42" stop-color="#01b8ca"/><stop offset=".475" stop-color="#02bac3"/><stop offset=".514" stop-color="#04bbc2"/><stop offset=".571" stop-color="#2bc3a8"/><stop offset=".635" stop-color="#3ac993"/><stop offset=".694" stop-color="#42ca8b"/><stop offset=".735" stop-color="#35c79a"/><stop offset="1" stop-color="#50cc7f"/></linearGradient>
<linearGradient id="g168"><stop offset="0" stop-color="#3e26a8"/><stop offset=".064" stop-color="#3e26a8"/><stop offset=".087" stop-color="#4537d6"/><stop offset=".103" stop-color="#4747eb"/><stop offset=".128" stop-color="#475cfa"/><stop offset=".151" stop-color="#3e6fff"/><stop offset=".167" stop-color="#317dfc"/><stop offset=".187" stop-color="#2d8af4"/><stop offset=".256" stop-color="#249ee6"/><stop offset=".336" stop-color="#18addb"/><stop offset=".432" stop-color="#01b8ca"/><stop offset=".514" stop-color="#01bac5"/><stop offset=".532" stop-color="#0abdbd"/><stop offset=".575" stop-color="#2bc3a8"/><stop offset=".635" stop-color="#37c897"/><stop offset=".694" stop-color="#3eca8f"/><stop offset=".735" stop-color="#32c69f"/><stop offset="1" stop-color="#4bcb84"/></linearGradient>
<linearGradient id="g169"><stop offset="0" stop-color="#3e26a8"/><stop offset=".066" stop-color="#3e26a8"/><stop offset=".089" stop-color="#4538d7"/><stop offset=".105" stop-color="#4747eb"/><stop offset=".13" stop-color="#475dfa"/><stop offset=".153" stop-color="#3e70ff"/><stop offset=".167" stop-color="#327cfc"/><stop offset=".187" stop-color="#2d89f5"/><stop offset=".256" stop-color="#249de7"/><stop offset=".342" stop-color="#18addb"/><stop offset=".441" stop-color="#01b8ca"/><stop offset=".514" stop-color="#01b8c8"/><stop offset=".527" stop-color="#03bbc3"/><stop offset=".575" stop-color="#28c2ab"/><stop offset=".635" stop-color="#35c79a"/><stop offset=".694" stop-color="#3bc992"/><stop offset=".735" stop-color="#2ec4a5"/><stop offset="1" stop-color="#46cb87"/></linearGradient>
<linearGradient id="g170"><stop offset="0" stop-color="#3e26a8"/><stop offset=".066" stop-color="#3e26a8"/><stop offset=".089" stop-color="#4536d4"/><stop offset=".105" stop-color="#4746ea"/><stop offset=".132" stop-color="#465dfa"/><stop offset=".155" stop-color="#3d70ff"/><stop offset=".169" stop-color="#327cfc"/><stop offset=".187" stop-color="#2d87f7"/><stop offset=".256" stop-color="#259ce7"/><stop offset=".352" stop-color="#18addb"/><stop offset=".452" stop-color="#01b8ca"/><stop offset=".521" stop-color="#01b8c9"/><stop offset=".534" stop-color="#03bbc2"/><stop offset=".575" stop-color="#25c2ae"/><stop offset=".635" stop-color="#33c69e"/><stop offset=".694" stop-color="#38c896"/><stop offset=".735" stop-color="#29c3aa"/><stop offset="1" stop-color="#42ca8b"/></linearGradient>
<linearGradient id="g171"><stop offset="0" stop-color="#3e26a8"/><stop offset=".071" stop-color="#3e26a8"/><stop offset=".094" stop-color="#4537d6"/><stop offset=".105" stop-color="#4742e6"/><stop offset=".13" stop-color="#4757f8"/><stop offset=".16" stop-color="#3d70ff"/><stop offset=".174" stop-color="#327cfc"/><stop offset=".194" stop-color="#2e86f7"/><stop offset=".256" stop-color="#2699e9"/><stop offset=".333" stop-color="#1ca9df"/><stop offset=".454" stop-color="#03b7cc"/><stop offset=".514" stop-color="#06b5cf"/><stop offset=".525" stop-color="#01b8ca"/><stop offset=".539" stop-color="#02bbc3"/><stop offset=".575" stop-color="#21c1b0"/><stop offset=".635" stop-color="#30c5a1"/><stop offset=".694" stop-color="#36c799"/><stop offset=".735" stop-color="#24c1af"/><stop offset=".806" stop-color="#2ec4a4"/><stop offset="1" stop-color="#3eca8f"/></linearGradient>
<linearGradient id="g172"><stop offset="0" stop-color="#3e26a8"/><stop offset=".075" stop-color="#3e26a8"/><stop offset=".096" stop-color="#4536d3"/><stop offset=".11" stop-color="#4742e6"/><stop offset=".135" stop-color="#4758f8"/><stop offset=".164" stop-color="#3d70ff"/><stop offset=".189" stop-color="#2f82fa"/><stop offset=".256" stop-color="#2797eb"/><stop offset=".333" stop-color="#1ea7e1"/><stop offset=".454" stop-color="#05b6cd"/><stop offset=".514" stop-color="#0ab4d2"/><stop offset=".532" stop-color="#01b8ca"/><stop offset=".546" stop-color="#03bbc3"/><stop offset=".575" stop-color="#1dc0b3"/><stop offset=".635" stop-color="#2ec4a4"/><stop offset=".694" stop-color="#33c79c"/><stop offset=".735" stop-color="#1cc0b3"/><stop offset=".817" stop-color="#2cc4a7"/><stop offset="1" stop-color="#3bc993"/></linearGradient>
<linearGradient id="g173"><stop offset="0" stop-color="#3e26a8"/><stop offset=".078" stop-color="#3e26a8"/><stop offset=".1" stop-color="#4536d4"/><stop offset=".114" stop-color="#4742e6"/><stop offset=".139" stop-color="#4758f8"/><stop offset=".169" stop-color="#3d70ff"/><stop offset=".185" stop-color="#327cfc"/><stop offset=".199" stop-color="#2f81fa"/><stop offset=".256" stop-color="#2994ed"/><stop offset=".333" stop-color="#1fa5e2"/><stop offset=".386" stop-color="#18addb"/><stop offset=".454" stop-color="#07b5cf"/><stop offset=".514" stop-color="#0fb2d5"/><stop offset=".539" stop-color="#01b8c9"/><stop offset=".55" stop-color="#02bbc3"/><stop offset=".575" stop-color="#19bfb5"/><stop offset=".635" stop-color="#2cc4a7"/><stop offset=".694" stop-color="#31c6a0"/><stop offset=".717" stop-color="#25c2ae"/><stop offset=".735" stop-color="#13beb8"/><stop offset=".795" stop-color="#24c1ae"/><stop offset=".845" stop-color="#2cc4a7"/><stop offset="1" stop-color="#37c897"/></linearGradient>
<linearGradient id="g174"><stop offset="0" stop-color="#3e26a8"/><stop offset=".082" stop-color="#3e26a9"/><stop offset=".103" stop-color="#4536d3"/><stop offset=".116" stop-color="#4741e5"/><stop offset=".144" stop-color="#4759f8"/><stop offset=".171" stop-color="#3e6fff"/><stop offset=".189" stop-color="#327bfc"/><stop offset=".205" stop-color="#2f81fa"/><stop offset=".256" stop-color="#2a92ee"/><stop offset=".336" stop-color="#20a4e3"/><stop offset=".393" stop-color="#18addb"/><stop offset=".454" stop-color="#08b4d1"/><stop offset=".514" stop-color="#13b1d7"/><stop offset=".543" stop-color="#01b8c9"/><stop offset=".555" stop-color="#03bbc3"/><stop offset=".582" stop-color="#18bfb6"/><stop offset=".653" stop-color="#2cc4a7"/><stop offset=".694" stop-color="#30c5a2"/><stop offset=".715" stop-color="#23c1af"/><stop offset=".735" stop-color="#0cbdbc"/><stop offset=".813" stop-color="#24c1ae"/><stop offset=".881" stop-color="#2ec4a5"/><stop offset="1" stop-color="#36c799"/></linearGradient>
<linearGradient id="g175" x2="0" y2="1"><stop offset="0.0000" stop-color="#f9fb15"/><stop offset="0.0159" stop-color="#f7f51b"/><stop offset="0.0317" stop-color="#f6ef20"/><stop offset="0.0476" stop-color="#f5e924"/><stop offset="0.0635" stop-color="#f5e327"/><stop offset="0.0794" stop-color="#f7dc2a"/><stop offset="0.0952" stop-color="#fad62d"/><stop offset="0.1111" stop-color="#fccf30"/><stop offset="0.1270" stop-color="#fec934"/><stop offset="0.1429" stop-color="#fec338"/><stop offset="0.1587" stop-color="#febe3c"/><stop offset="0.1746" stop-color="#f8ba3d"/><stop offset="0.1905" stop-color="#f0ba36"/><stop offset="0.2063" stop-color="#e6bb2d"/><stop offset="0.2222" stop-color="#dcbd29"/><stop offset="0.2381" stop-color="#d1bf27"/><stop offset="0.2540" stop-color="#c5c22a"/><stop offset="0.2698" stop-color="#b9c431"/><stop offset="0.2857" stop-color="#abc739"/><stop offset="0.3016" stop-color="#9dc943"/><stop offset="0.3175" stop-color="#8fcb4e"/><stop offset="0.3333" stop-color="#81cc59"/><stop offset="0.3492" stop-color="#72cd64"/><stop offset="0.3651" stop-color="#64cd6f"/><stop offset="0.3810" stop-color="#57cc7a"/><stop offset="0.3968" stop-color="#4acb84"/><stop offset="0.4127" stop-color="#3fca8e"/><stop offset="0.4286" stop-color="#37c897"/><stop offset="0.4444" stop-color="#31c69f"/><stop offset="0.4603" stop-color="#2cc4a7"/><stop offset="0.4762" stop-color="#24c1ae"/><stop offset="0.4921" stop-color="#19bfb6"/><stop offset="0.5079" stop-color="#0bbdbd"/><stop offset="0.5238" stop-color="#02bac3"/><stop offset="0.5397" stop-color="#01b8ca"/><stop offset="0.5556" stop-color="#08b5d0"/><stop offset="0.5714" stop-color="#12b1d6"/><stop offset="0.5873" stop-color="#18addb"/><stop offset="0.6032" stop-color="#1ca9df"/><stop offset="0.6190" stop-color="#20a5e3"/><stop offset="0.6349" stop-color="#23a0e5"/><stop offset="0.6508" stop-color="#259be8"/><stop offset="0.6667" stop-color="#2797eb"/><stop offset="0.6825" stop-color="#2b91ef"/><stop offset="0.6984" stop-color="#2d8cf3"/><stop offset="0.7143" stop-color="#2e87f7"/><stop offset="0.7302" stop-color="#2f81fa"/><stop offset="0.7460" stop-color="#327cfc"/><stop offset="0.7619" stop-color="#3875fe"/><stop offset="0.7778" stop-color="#3e6fff"/><stop offset="0.7937" stop-color="#4269fe"/><stop offset="0.8095" stop-color="#4563fd"/><stop offset="0.8254" stop-color="#465efb"/><stop offset="0.8413" stop-color="#4758f8"/><stop offset="0.8571" stop-color="#4852f4"/><stop offset="0.8730" stop-color="#484df0"/><stop offset="0.8889" stop-color="#4747eb"/><stop offset="0.9048" stop-color="#4741e5"/><stop offset="0.9206" stop-color="#463cde"/><stop offset="0.9365" stop-color="#4537d5"/><stop offset="0.9524" stop-color="#4332cb"/><stop offset="0.9683" stop-color="#422ec0"/><stop offset="0.9841" stop-color="#402ab4"/><stop offset="1.0000" stop-color="#3e26a8"/></linearGradient>
<linearGradient id="g176" x2="0" y2="1"><stop offset="0" stop-color="#fcbc3d"/><stop offset=".332" stop-color="#fabb3d"/><stop offset=".466" stop-color="#f3ba39"/><stop offset=".578" stop-color="#ddbd29"/><stop offset=".668" stop-color="#d0bf27"/><stop offset=".694" stop-color="#c4c22b"/><stop offset=".737" stop-color="#aec637"/><stop offset=".802" stop-color="#67cd6c"/><stop offset=".815" stop-color="#43ca8b"/><stop offset=".832" stop-color="#27c2ab"/><stop offset=".845" stop-color="#06bcc0"/><stop offset=".849" stop-color="#01b9c7"/><stop offset=".871" stop-color="#1da9e0"/><stop offset=".927" stop-color="#2e87f7"/><stop offset="1" stop-color="#3f6fff"/></linearGradient>
<linearGradient id="g177" x2="0" y2="1"><stop offset="0" stop-color="#fdbd3d"/><stop offset=".336" stop-color="#fabb3d"/><stop offset=".47" stop-color="#f3ba39"/><stop offset=".586" stop-color="#dcbd29"/><stop offset=".668" stop-color="#d1bf27"/><stop offset=".694" stop-color="#c6c22a"/><stop offset=".737" stop-color="#b1c635"/><stop offset=".802" stop-color="#6ccd68"/><stop offset=".819" stop-color="#3fca8e"/><stop offset=".836" stop-color="#25c2ae"/><stop offset=".849" stop-color="#03bbc2"/><stop offset=".853" stop-color="#01b8c9"/><stop offset=".866" stop-color="#17aeda"/><stop offset=".879" stop-color="#1fa6e2"/><stop offset=".94" stop-color="#2f80fa"/><stop offset="1" stop-color="#3e6fff"/></linearGradient>
<linearGradient id="g178" x2="0" y2="1"><stop offset="0" stop-color="#fdbd3c"/><stop offset=".336" stop-color="#fabb3d"/><stop offset=".47" stop-color="#f4ba39"/><stop offset=".591" stop-color="#dcbd29"/><stop offset=".672" stop-color="#d1bf27"/><stop offset=".698" stop-color="#c6c22a"/><stop offset=".741" stop-color="#b1c635"/><stop offset=".806" stop-color="#6bcd69"/><stop offset=".823" stop-color="#3dc991"/><stop offset=".841" stop-color="#22c1b0"/><stop offset=".853" stop-color="#02bac4"/><stop offset=".858" stop-color="#02b7cb"/><stop offset=".866" stop-color="#12b1d6"/><stop offset=".875" stop-color="#1caadf"/><stop offset=".94" stop-color="#2f81fa"/><stop offset="1" stop-color="#3e6fff"/></linearGradient>
<linearGradient id="g179" x2="0" y2="1"><stop offset="0" stop-color="#febe3c"/><stop offset=".336" stop-color="#fabb3d"/><stop offset=".47" stop-color="#f4ba39"/><stop offset=".595" stop-color="#dcbd29"/><stop offset=".677" stop-color="#d1bf27"/><stop offset=".703" stop-color="#c6c22a"/><stop offset=".746" stop-color="#b0c636"/><stop offset=".806" stop-color="#6ecd66"/><stop offset=".81" stop-color="#68cd6b"/><stop offset=".823" stop-color="#43ca8a"/><stop offset=".841" stop-color="#28c2ab"/><stop offset=".853" stop-color="#07bcc0"/><stop offset=".858" stop-color="#01b9c6"/><stop offset=".879" stop-color="#1ca9df"/><stop offset=".94" stop-color="#2e83f9"/><stop offset="1" stop-color="#3e70ff"/></linearGradient>
<linearGradient id="g180" x2="0" y2="1"><stop offset="0" stop-color="#febf3c"/><stop offset=".039" stop-color="#fabb3d"/><stop offset=".336" stop-color="#fabb3d"/><stop offset=".47" stop-color="#f4ba3a"/><stop offset=".599" stop-color="#dcbd29"/><stop offset=".677" stop-color="#d2bf27"/><stop offset=".707" stop-color="#c6c22a"/><stop offset=".746" stop-color="#b4c534"/><stop offset=".81" stop-color="#6dcd67"/><stop offset=".828" stop-color="#40ca8d"/><stop offset=".845" stop-color="#25c2ad"/><stop offset=".858" stop-color="#04bbc2"/><stop offset=".862" stop-color="#01b8c8"/><stop offset=".875" stop-color="#16afd9"/><stop offset=".884" stop-color="#1da9e0"/><stop offset=".948" stop-color="#307ffb"/><stop offset="1" stop-color="#3e70ff"/></linearGradient>
<linearGradient id="g181" x2="0" y2="1"><stop offset="0" stop-color="#febf3b"/><stop offset=".047" stop-color="#fabb3d"/><stop offset=".233" stop-color="#fcbd3d"/><stop offset=".47" stop-color="#f4ba3a"/><stop offset=".603" stop-color="#dcbd29"/><stop offset=".681" stop-color="#d3bf27"/><stop offset=".711" stop-color="#c5c22a"/><stop offset=".75" stop-color="#b3c534"/><stop offset=".815" stop-color="#6ccd68"/><stop offset=".832" stop-color="#3dc990"/><stop offset=".849" stop-color="#22c1b0"/><stop offset=".862" stop-color="#02bac4"/><stop offset=".866" stop-color="#01b7ca"/><stop offset=".879" stop-color="#18aedb"/><stop offset=".884" stop-color="#1babde"/><stop offset=".931" stop-color="#2c8ff1"/><stop offset=".948" stop-color="#307ffb"/><stop offset="1" stop-color="#3d70ff"/></linearGradient>
<linearGradient id="g182" x2="0" y2="1"><stop offset="0" stop-color="#fec03b"/><stop offset=".052" stop-color="#fabb3d"/><stop offset=".237" stop-color="#fcbd3d"/><stop offset=".47" stop-color="#f5ba3a"/><stop offset=".603" stop-color="#ddbd29"/><stop offset=".681" stop-color="#d4bf27"/><stop offset=".716" stop-color="#c5c22a"/><stop offset=".754" stop-color="#b2c635"/><stop offset=".815" stop-color="#70cd65"/><stop offset=".819" stop-color="#69cd6b"/><stop offset=".832" stop-color="#44cb8a"/><stop offset=".849" stop-color="#28c3ab"/><stop offset=".862" stop-color="#07bcbf"/><stop offset=".866" stop-color="#01b9c6"/><stop offset=".871" stop-color="#03b7cc"/><stop offset=".879" stop-color="#13b0d7"/><stop offset=".888" stop-color="#1baade"/><stop offset=".931" stop-color="#2b91ef"/><stop offset=".948" stop-color="#2f82fa"/><stop offset="1" stop-color="#3d70ff"/></linearGradient>
<linearGradient id="g183" x2="0" y2="1"><stop offset="0" stop-color="#fec13a"/><stop offset=".06" stop-color="#f9bb3d"/><stop offset=".241" stop-color="#fcbd3d"/><stop offset=".47" stop-color="#f5ba3a"/><stop offset=".509" stop-color="#f2ba38"/><stop offset=".599" stop-color="#dfbc2a"/><stop offset=".685" stop-color="#d4bf28"/><stop offset=".72" stop-color="#c5c22a"/><stop offset=".754" stop-color="#b6c533"/><stop offset=".819" stop-color="#6fcd66"/><stop offset=".836" stop-color="#40ca8d"/><stop offset=".853" stop-color="#26c2ad"/><stop offset=".866" stop-color="#04bbc1"/><stop offset=".871" stop-color="#01b9c8"/><stop offset=".884" stop-color="#15afd9"/><stop offset=".892" stop-color="#1caadf"/><stop offset=".931" stop-color="#2a93ed"/><stop offset=".953" stop-color="#307ffb"/><stop offset="1" stop-color="#3d71ff"/></linearGradient>
<linearGradient id="g184" x2="0" y2="1"><stop offset="0" stop-color="#fec139"/><stop offset=".069" stop-color="#f9bb3d"/><stop offset=".246" stop-color="#fcbd3d"/><stop offset=".47" stop-color="#f5ba3b"/><stop offset=".513" stop-color="#f2ba38"/><stop offset=".599" stop-color="#e0bc2a"/><stop offset=".69" stop-color="#d4bf28"/><stop offset=".724" stop-color="#c5c22a"/><stop offset=".759" stop-color="#b5c533"/><stop offset=".823" stop-color="#6ecd67"/><stop offset=".841" stop-color="#3eca90"/><stop offset=".858" stop-color="#23c1af"/><stop offset=".871" stop-color="#02bac3"/><stop offset=".875" stop-color="#01b8ca"/><stop offset=".892" stop-color="#1aabdd"/><stop offset=".931" stop-color="#2895ec"/><stop offset=".953" stop-color="#2f82fa"/><stop offset="1" stop-color="#3c71ff"/></linearGradient>
<linearGradient id="g185" x2="0" y2="1"><stop offset="0" stop-color="#fec239"/><stop offset=".078" stop-color="#f8ba3d"/><stop offset=".254" stop-color="#fcbd3d"/><stop offset=".47" stop-color="#f6ba3b"/><stop offset=".517" stop-color="#f2ba38"/><stop offset=".599" stop-color="#e1bc2b"/><stop offset=".69" stop-color="#d5be28"/><stop offset=".728" stop-color="#c5c22a"/><stop offset=".759" stop-color="#b8c431"/><stop offset=".823" stop-color="#72cd64"/><stop offset=".828" stop-color="#6acd6a"/><stop offset=".841" stop-color="#44cb89"/><stop offset=".858" stop-color="#28c3aa"/><stop offset=".871" stop-color="#08bcbf"/><stop offset=".875" stop-color="#01bac5"/><stop offset=".879" stop-color="#02b7cb"/><stop offset=".892" stop-color="#18addb"/><stop offset=".935" stop-color="#2994ed"/><stop offset=".957" stop-color="#3080fb"/><stop offset="1" stop-color="#3c71ff"/></linearGradient>
<linearGradient id="g186" x2="0" y2="1"><stop offset="0" stop-color="#fec338"/><stop offset=".086" stop-color="#f8ba3d"/><stop offset=".259" stop-color="#fdbd3d"/><stop offset=".47" stop-color="#f6ba3b"/><stop offset=".526" stop-color="#f1ba37"/><stop offset=".599" stop-color="#e2bc2b"/><stop offset=".694" stop-color="#d5be28"/><stop offset=".733" stop-color="#c5c22a"/><stop offset=".763" stop-color="#b8c431"/><stop offset=".828" stop-color="#71cd64"/><stop offset=".845" stop-color="#41ca8c"/><stop offset=".862" stop-color="#26c2ad"/><stop offset=".875" stop-color="#05bbc1"/><stop offset=".879" stop-color="#01b9c7"/><stop offset=".884" stop-color="#04b6cd"/><stop offset=".892" stop-color="#14b0d8"/><stop offset=".901" stop-color="#1baade"/><stop offset=".935" stop-color="#2796eb"/><stop offset=".961" stop-color="#317efb"/><stop offset="1" stop-color="#3c72ff"/></linearGradient>
<linearGradient id="g187" x2="0" y2="1"><stop offset="0" stop-color="#fec438"/><stop offset=".091" stop-color="#f8ba3d"/><stop offset=".198" stop-color="#f7ba3c"/><stop offset=".263" stop-color="#fdbd3d"/><stop offset=".47" stop-color="#f6ba3b"/><stop offset=".53" stop-color="#f1ba37"/><stop offset=".599" stop-color="#e3bb2c"/><stop offset=".668" stop-color="#dbbd29"/><stop offset=".698" stop-color="#d5be28"/><stop offset=".737" stop-color="#c5c22a"/><stop offset=".767" stop-color="#b7c532"/><stop offset=".828" stop-color="#75cc62"/><stop offset=".832" stop-color="#6fcd66"/><stop offset=".849" stop-color="#3eca8f"/><stop offset=".866" stop-color="#23c1af"/><stop offset=".879" stop-color="#03bbc2"/><stop offset=".884" stop-color="#01b8c9"/><stop offset=".897" stop-color="#16afd9"/><stop offset=".905" stop-color="#1caadf"/><stop offset=".935" stop-color="#2698ea"/><stop offset=".966" stop-color="#327cfc"/><stop offset="1" stop-color="#3b72ff"/></linearGradient>
<linearGradient id="g188" x2="0" y2="1"><stop offset="0" stop-color="#fec437"/><stop offset=".052" stop-color="#febe3c"/><stop offset=".095" stop-color="#f8ba3d"/><stop offset=".198" stop-color="#f7ba3c"/><stop offset=".267" stop-color="#fdbd3d"/><stop offset=".47" stop-color="#f7ba3c"/><stop offset=".534" stop-color="#f1ba37"/><stop offset=".591" stop-color="#e6bb2d"/><stop offset=".668" stop-color="#dcbd29"/><stop offset=".703" stop-color="#d5be28"/><stop offset=".741" stop-color="#c5c22a"/><stop offset=".767" stop-color="#bac430"/><stop offset=".793" stop-color="#a0c841"/><stop offset=".832" stop-color="#73cd62"/><stop offset=".849" stop-color="#45cb89"/><stop offset=".866" stop-color="#29c3aa"/><stop offset=".884" stop-color="#02bac4"/><stop offset=".888" stop-color="#01b7ca"/><stop offset=".901" stop-color="#17aedb"/><stop offset=".935" stop-color="#269ae8"/><stop offset=".961" stop-color="#2f82f9"/><stop offset=".97" stop-color="#327bfc"/><stop offset="1" stop-color="#3b72fe"/></linearGradient>
<linearGradient id="g189" x2="0" y2="1"><stop offset="0" stop-color="#fec537"/><stop offset=".056" stop-color="#febe3c"/><stop offset=".099" stop-color="#f8ba3d"/><stop offset=".198" stop-color="#f6ba3b"/><stop offset=".276" stop-color="#fdbd3d"/><stop offset=".47" stop-color="#f7ba3c"/><stop offset=".539" stop-color="#f1ba37"/><stop offset=".595" stop-color="#e6bb2d"/><stop offset=".672" stop-color="#dcbd29"/><stop offset=".703" stop-color="#d7be28"/><stop offset=".746" stop-color="#c5c22a"/><stop offset=".772" stop-color="#bac430"/><stop offset=".797" stop-color="#9fc941"/><stop offset=".836" stop-color="#72cd63"/><stop offset=".853" stop-color="#41ca8c"/><stop offset=".871" stop-color="#27c2ac"/><stop offset=".884" stop-color="#07bcc0"/><stop offset=".888" stop-color="#01b9c6"/><stop offset=".892" stop-color="#03b7cc"/><stop offset=".905" stop-color="#18addb"/><stop offset=".935" stop-color="#259ce7"/><stop offset=".97" stop-color="#327cfc"/><stop offset="1" stop-color="#3b73fe"/></linearGradient>
<linearGradient id="g190" x2="0" y2="1"><stop offset="0" stop-color="#fec636"/><stop offset=".06" stop-color="#febe3c"/><stop offset=".108" stop-color="#f8ba3d"/><stop offset=".203" stop-color="#f6ba3b"/><stop offset=".28" stop-color="#fdbd3d"/><stop offset=".47" stop-color="#f7ba3c"/><stop offset=".543" stop-color="#f1ba37"/><stop offset=".599" stop-color="#e6bb2d"/><stop offset=".677" stop-color="#ddbd29"/><stop offset=".707" stop-color="#d7be28"/><stop offset=".75" stop-color="#c5c22a"/><stop offset=".776" stop-color="#b9c431"/><stop offset=".836" stop-color="#76cc60"/><stop offset=".841" stop-color="#6fcd66"/><stop offset=".858" stop-color="#3eca8f"/><stop offset=".875" stop-color="#24c2ae"/><stop offset=".888" stop-color="#04bbc2"/><stop offset=".892" stop-color="#01b9c8"/><stop offset=".909" stop-color="#19addc"/><stop offset=".935" stop-color="#249ee6"/><stop offset=".974" stop-color="#337bfd"/><stop offset="1" stop-color="#3a73fe"/></linearGradient>
<linearGradient id="g191" x2="0" y2="1"><stop offset="0" stop-color="#fec736"/><stop offset=".069" stop-color="#febd3c"/><stop offset=".112" stop-color="#f8ba3d"/><stop offset=".203" stop-color="#f5ba3b"/><stop offset=".284" stop-color="#fdbd3d"/><stop offset=".47" stop-color="#f8ba3d"/><stop offset=".552" stop-color="#f1ba37"/><stop offset=".603" stop-color="#e7bb2e"/><stop offset=".685" stop-color="#dcbd29"/><stop offset=".711" stop-color="#d7be28"/><stop offset=".754" stop-color="#c5c22a"/><stop offset=".776" stop-color="#bcc42f"/><stop offset=".802" stop-color="#a2c83f"/><stop offset=".841" stop-color="#75cc61"/><stop offset=".858" stop-color="#45cb88"/><stop offset=".879" stop-color="#22c1b0"/><stop offset=".892" stop-color="#02bac3"/><stop offset=".897" stop-color="#01b8ca"/><stop offset=".909" stop-color="#16aeda"/><stop offset=".914" stop-color="#19acdc"/><stop offset=".935" stop-color="#23a0e5"/><stop offset=".974" stop-color="#327cfc"/><stop offset="1" stop-color="#3a73fe"/></linearGradient>
<linearGradient id="g192" x2="0" y2="1"><stop offset="0" stop-color="#fec735"/><stop offset=".073" stop-color="#febe3c"/><stop offset=".116" stop-color="#f8ba3d"/><stop offset=".198" stop-color="#f5ba3a"/><stop offset=".289" stop-color="#fdbd3d"/><stop offset=".47" stop-color="#f8ba3d"/><stop offset=".556" stop-color="#f1ba37"/><stop offset=".612" stop-color="#e7bb2d"/><stop offset=".69" stop-color="#dcbd29"/><stop offset=".711" stop-color="#d8be28"/><stop offset=".759" stop-color="#c5c22a"/><stop offset=".78" stop-color="#bbc42f"/><stop offset=".806" stop-color="#a1c840"/><stop offset=".845" stop-color="#74cc62"/><stop offset=".862" stop-color="#42ca8b"/><stop offset=".879" stop-color="#28c2ab"/><stop offset=".892" stop-color="#08bcbf"/><stop offset=".897" stop-color="#01bac5"/><stop offset=".901" stop-color="#02b7cb"/><stop offset=".909" stop-color="#12b1d7"/><stop offset=".918" stop-color="#1aacdd"/><stop offset=".935" stop-color="#22a2e4"/><stop offset=".978" stop-color="#347afd"/><stop offset="1" stop-color="#3a74fe"/></linearGradient>
<linearGradient id="g193" x2="0" y2="1"><stop offset="0" stop-color="#fec835"/><stop offset=".078" stop-color="#febe3c"/><stop offset=".121" stop-color="#f8ba3d"/><stop offset=".142" stop-color="#f4ba39"/><stop offset=".198" stop-color="#f4ba39"/><stop offset=".297" stop-color="#fdbd3d"/><stop offset=".47" stop-color="#f8ba3d"/><stop offset=".56" stop-color="#f1ba37"/><stop offset=".668" stop-color="#e1bc2b"/><stop offset=".716" stop-color="#d8be28"/><stop offset=".763" stop-color="#c5c22a"/><stop offset=".784" stop-color="#bbc430"/><stop offset=".845" stop-color="#78cc5f"/><stop offset=".849" stop-color="#70cd65"/><stop offset=".866" stop-color="#3fca8e"/><stop offset=".884" stop-color="#25c2ad"/><stop offset=".897" stop-color="#05bbc1"/><stop offset=".901" stop-color="#01b9c7"/><stop offset=".918" stop-color="#18aedb"/><stop offset=".935" stop-color="#20a4e3"/><stop offset=".983" stop-color="#3579fd"/><stop offset="1" stop-color="#3a74fe"/></linearGradient>
<linearGradient id="g194" x2="0" y2="1"><stop offset="0" stop-color="#fec934"/><stop offset=".082" stop-color="#febe3c"/><stop offset=".129" stop-color="#f7ba3d"/><stop offset=".203" stop-color="#f4ba39"/><stop offset=".302" stop-color="#fdbd3d"/><stop offset=".474" stop-color="#f8ba3d"/><stop offset=".565" stop-color="#f1ba37"/><stop offset=".668" stop-color="#e2bc2b"/><stop offset=".716" stop-color="#d9bd28"/><stop offset=".767" stop-color="#c5c22a"/><stop offset=".789" stop-color="#bac430"/><stop offset=".849" stop-color="#77cc60"/><stop offset=".866" stop-color="#46cb88"/><stop offset=".888" stop-color="#23c1af"/><stop offset=".901" stop-color="#03bbc3"/><stop offset=".905" stop-color="#01b8c9"/><stop offset=".922" stop-color="#19addc"/><stop offset=".944" stop-color="#249fe6"/><stop offset=".983" stop-color="#347afd"/><stop offset="1" stop-color="#3974fe"/></linearGradient>
<linearGradient id="g195" x2="0" y2="1"><stop offset="0" stop-color="#fec934"/><stop offset=".086" stop-color="#febe3c"/><stop offset=".134" stop-color="#f8ba3d"/><stop offset=".159" stop-color="#f3ba38"/><stop offset=".203" stop-color="#f3ba39"/><stop offset=".306" stop-color="#fdbd3d"/><stop offset=".478" stop-color="#f8ba3d"/><stop offset=".573" stop-color="#f0ba36"/><stop offset=".703" stop-color="#ddbd29"/><stop offset=".776" stop-color="#c4c22b"/><stop offset=".789" stop-color="#bdc32e"/><stop offset=".806" stop-color="#acc738"/><stop offset=".853" stop-color="#75cc61"/><stop offset=".871" stop-color="#43ca8b"/><stop offset=".888" stop-color="#29c3aa"/><stop offset=".905" stop-color="#02bac4"/><stop offset=".909" stop-color="#02b7ca"/><stop offset=".918" stop-color="#11b1d6"/><stop offset=".927" stop-color="#19addc"/><stop offset=".953" stop-color="#2699e9"/><stop offset=".987" stop-color="#3578fd"/><stop offset="1" stop-color="#3975fe"/></linearGradient>
<linearGradient id="g196" x2="0" y2="1"><stop offset="0" stop-color="#feca33"/><stop offset=".095" stop-color="#febe3c"/><stop offset=".138" stop-color="#f8ba3d"/><stop offset=".198" stop-color="#f2ba38"/><stop offset=".31" stop-color="#fdbd3d"/><stop offset=".483" stop-color="#f8ba3d"/><stop offset=".578" stop-color="#f0ba36"/><stop offset=".711" stop-color="#dcbd29"/><stop offset=".78" stop-color="#c4c22b"/><stop offset=".789" stop-color="#c0c32d"/><stop offset=".81" stop-color="#abc739"/><stop offset=".853" stop-color="#7acc5e"/><stop offset=".875" stop-color="#40ca8d"/><stop offset=".892" stop-color="#26c2ac"/><stop offset=".905" stop-color="#07bcc0"/><stop offset=".909" stop-color="#01b9c6"/><stop offset=".914" stop-color="#03b7cc"/><stop offset=".922" stop-color="#13b0d7"/><stop offset=".931" stop-color="#1aacdd"/><stop offset=".978" stop-color="#2e83f9"/><stop offset=".991" stop-color="#3678fe"/><stop offset="1" stop-color="#3975fe"/></linearGradient>
<linearGradient id="g197" x2="0" y2="1"><stop offset="0" stop-color="#fdcb33"/><stop offset=".099" stop-color="#febe3c"/><stop offset=".142" stop-color="#f8ba3d"/><stop offset=".177" stop-color="#f2ba37"/><stop offset=".319" stop-color="#fdbd3d"/><stop offset=".487" stop-color="#f8ba3d"/><stop offset=".582" stop-color="#f0ba36"/><stop offset=".716" stop-color="#dcbd29"/><stop offset=".784" stop-color="#c4c22b"/><stop offset=".793" stop-color="#c0c32d"/><stop offset=".815" stop-color="#aac73a"/><stop offset=".858" stop-color="#79cc5f"/><stop offset=".879" stop-color="#3dca90"/><stop offset=".897" stop-color="#24c2ae"/><stop offset=".909" stop-color="#04bbc2"/><stop offset=".914" stop-color="#01b9c8"/><stop offset=".927" stop-color="#14b0d8"/><stop offset=".94" stop-color="#1da8e0"/><stop offset=".991" stop-color="#3578fd"/><stop offset="1" stop-color="#3875fe"/></linearGradient>
<linearGradient id="g198" x2="0" y2="1"><stop offset="0" stop-color="#fdcc32"/><stop offset=".103" stop-color="#febe3c"/><stop offset=".147" stop-color="#f8ba3d"/><stop offset=".185" stop-color="#f1ba37"/><stop offset=".259" stop-color="#f8ba3d"/><stop offset=".323" stop-color="#fdbd3d"/><stop offset=".491" stop-color="#f8ba3d"/><stop offset=".668" stop-color="#e6bb2d"/><stop offset=".728" stop-color="#dbbd29"/><stop offset=".789" stop-color="#c4c22b"/><stop offset=".815" stop-color="#aec637"/><stop offset=".858" stop-color="#7dcc5c"/><stop offset=".862" stop-color="#76cc61"/><stop offset=".879" stop-color="#44cb89"/><stop offset=".901" stop-color="#22c1b0"/><stop offset=".914" stop-color="#02bac3"/><stop offset=".918" stop-color="#01b8ca"/><stop offset=".927" stop-color="#10b2d5"/><stop offset=".944" stop-color="#1fa6e1"/><stop offset=".983" stop-color="#2e84f9"/><stop offset="1" stop-color="#3876fe"/></linearGradient>
<linearGradient id="g199" x2="0" y2="1"><stop offset="0" stop-color="#fdcd32"/><stop offset=".108" stop-color="#febe3c"/><stop offset=".155" stop-color="#f8ba3d"/><stop offset=".198" stop-color="#f1ba36"/><stop offset=".263" stop-color="#f8ba3d"/><stop offset=".328" stop-color="#fdbd3d"/><stop offset=".496" stop-color="#f8ba3d"/><stop offset=".672" stop-color="#e6bb2d"/><stop offset=".728" stop-color="#dcbd29"/><stop offset=".793" stop-color="#c4c22a"/><stop offset=".819" stop-color="#adc738"/><stop offset=".862" stop-color="#7ccc5c"/><stop offset=".884" stop-color="#41ca8c"/><stop offset=".901" stop-color="#28c2ab"/><stop offset=".914" stop-color="#08bcbf"/><stop offset=".918" stop-color="#01bac5"/><stop offset=".922" stop-color="#02b7cb"/><stop offset=".931" stop-color="#12b1d6"/><stop offset=".944" stop-color="#1da8e0"/><stop offset="1" stop-color="#3876fe"/></linearGradient>
<linearGradient id="g200" x2="0" y2="1"><stop offset="0" stop-color="#fdcd31"/><stop offset=".112" stop-color="#febe3c"/><stop offset=".159" stop-color="#f8ba3d"/><stop offset=".198" stop-color="#f0ba36"/><stop offset=".267" stop-color="#f8ba3d"/><stop offset=".332" stop-color="#fdbd3d"/><stop offset=".496" stop-color="#f8ba3d"/><stop offset=".677" stop-color="#e6bb2d"/><stop offset=".733" stop-color="#dcbd29"/><stop offset=".797" stop-color="#c5c22a"/><stop offset=".823" stop-color="#acc739"/><stop offset=".866" stop-color="#7acc5d"/><stop offset=".888" stop-color="#3fca8f"/><stop offset=".905" stop-color="#25c2ad"/><stop offset=".918" stop-color="#05bbc1"/><stop offset=".922" stop-color="#01b9c7"/><stop offset=".944" stop-color="#1caadf"/><stop offset=".974" stop-color="#2b90f0"/><stop offset=".991" stop-color="#3080fb"/><stop offset="1" stop-color="#3776fe"/></linearGradient>
<linearGradient id="g201" x2="0" y2="1"><stop offset="0" stop-color="#fdcd31"/><stop offset=".121" stop-color="#febe3c"/><stop offset=".164" stop-color="#f8ba3d"/><stop offset=".207" stop-color="#f1ba36"/><stop offset=".267" stop-color="#f8ba3d"/><stop offset=".336" stop-color="#fdbd3d"/><stop offset=".5" stop-color="#f8ba3d"/><stop offset=".681" stop-color="#e6bb2d"/><stop offset=".733" stop-color="#ddbd29"/><stop offset=".797" stop-color="#c5c22a"/><stop offset=".823" stop-color="#adc638"/><stop offset=".866" stop-color="#7ccc5c"/><stop offset=".888" stop-color="#42ca8c"/><stop offset=".905" stop-color="#28c2ab"/><stop offset=".918" stop-color="#08bcbf"/><stop offset=".922" stop-color="#01bac5"/><stop offset=".927" stop-color="#02b7cb"/><stop offset=".935" stop-color="#12b1d6"/><stop offset=".944" stop-color="#1babde"/><stop offset="1" stop-color="#3677fe"/></linearGradient>
<linearGradient id="g202" x2="0" y2="1"><stop offset="0" stop-color="#fdcd32"/><stop offset=".129" stop-color="#febe3c"/><stop offset=".172" stop-color="#f8ba3d"/><stop offset=".211" stop-color="#f1ba37"/><stop offset=".267" stop-color="#f8ba3d"/><stop offset=".336" stop-color="#febd3c"/><stop offset=".504" stop-color="#f8ba3d"/><stop offset=".681" stop-color="#e6bb2d"/><stop offset=".733" stop-color="#ddbd29"/><stop offset=".797" stop-color="#c6c22a"/><stop offset=".828" stop-color="#a9c73b"/><stop offset=".866" stop-color="#7dcc5c"/><stop offset=".888" stop-color="#43ca8b"/><stop offset=".905" stop-color="#29c3aa"/><stop offset=".922" stop-color="#02bac4"/><stop offset=".927" stop-color="#02b7cb"/><stop offset=".94" stop-color="#17aeda"/><stop offset=".948" stop-color="#1da8e0"/><stop offset="1" stop-color="#3678fd"/></linearGradient>
<linearGradient id="g203" x2="0" y2="1"><stop offset="0" stop-color="#fdcc32"/><stop offset=".026" stop-color="#fdcd31"/><stop offset=".138" stop-color="#febe3c"/><stop offset=".181" stop-color="#f8ba3d"/><stop offset=".216" stop-color="#f2ba38"/><stop offset=".267" stop-color="#f8ba3d"/><stop offset=".336" stop-color="#febe3c"/><stop offset=".509" stop-color="#f8ba3d"/><stop offset=".603" stop-color="#f0ba36"/><stop offset=".733" stop-color="#debd29"/><stop offset=".797" stop-color="#c6c22a"/><stop offset=".828" stop-color="#a9c73a"/><stop offset=".866" stop-color="#7dcc5b"/><stop offset=".888" stop-color="#44cb8a"/><stop offset=".909" stop-color="#21c1b0"/><stop offset=".922" stop-color="#02bac4"/><stop offset=".927" stop-color="#01b8ca"/><stop offset=".94" stop-color="#16afd9"/><stop offset=".948" stop-color="#1da8e0"/><stop offset="1" stop-color="#3578fd"/></linearGradient>
<linearGradient id="g204" x2="0" y2="1"><stop offset="0" stop-color="#fdcc32"/><stop offset=".034" stop-color="#fdcd32"/><stop offset=".142" stop-color="#febe3c"/><stop offset=".19" stop-color="#f8ba3d"/><stop offset=".224" stop-color="#f3ba39"/><stop offset=".336" stop-color="#febe3c"/><stop offset=".513" stop-color="#f8ba3d"/><stop offset=".603" stop-color="#f1ba37"/><stop offset=".733" stop-color="#debd29"/><stop offset=".797" stop-color="#c6c22a"/><stop offset=".828" stop-color="#aac73a"/><stop offset=".866" stop-color="#7ecc5b"/><stop offset=".888" stop-color="#45cb89"/><stop offset=".909" stop-color="#22c1b0"/><stop offset=".922" stop-color="#02bbc3"/><stop offset=".927" stop-color="#01b8c9"/><stop offset=".94" stop-color="#15afd9"/><stop offset=".948" stop-color="#1da9e0"/><stop offset="1" stop-color="#3579fd"/></linearGradient>
<linearGradient id="g205" x2="0" y2="1"><stop offset="0" stop-color="#fdcb33"/><stop offset=".039" stop-color="#fdcd31"/><stop offset=".151" stop-color="#febe3c"/><stop offset=".198" stop-color="#f8ba3d"/><stop offset=".228" stop-color="#f4ba3a"/><stop offset=".336" stop-color="#febe3c"/><stop offset=".522" stop-color="#f8ba3d"/><stop offset=".603" stop-color="#f1ba37"/><stop offset=".733" stop-color="#debc2a"/><stop offset=".802" stop-color="#c4c22b"/><stop offset=".828" stop-color="#aac73a"/><stop offset=".866" stop-color="#7ecc5b"/><stop offset=".892" stop-color="#3dc991"/><stop offset=".909" stop-color="#23c1af"/><stop offset=".922" stop-color="#03bbc2"/><stop offset=".927" stop-color="#01b8c9"/><stop offset=".948" stop-color="#1da9e0"/><stop offset="1" stop-color="#3479fd"/></linearGradient>
<linearGradient id="g206" x2="0" y2="1"><stop offset="0" stop-color="#fdca33"/><stop offset=".047" stop-color="#fdcd31"/><stop offset=".159" stop-color="#febe3c"/><stop offset=".203" stop-color="#f8ba3d"/><stop offset=".233" stop-color="#f5ba3a"/><stop offset=".336" stop-color="#febe3c"/><stop offset=".526" stop-color="#f8ba3d"/><stop offset=".603" stop-color="#f1ba37"/><stop offset=".733" stop-color="#dfbc2a"/><stop offset=".802" stop-color="#c5c22a"/><stop offset=".828" stop-color="#aac739"/><stop offset=".866" stop-color="#7ecc5a"/><stop offset=".892" stop-color="#3dca90"/><stop offset=".909" stop-color="#24c2ae"/><stop offset=".922" stop-color="#04bbc2"/><stop offset=".927" stop-color="#01b9c8"/><stop offset=".931" stop-color="#05b6ce"/><stop offset=".94" stop-color="#14b0d8"/><stop offset=".948" stop-color="#1ca9df"/><stop offset="1" stop-color="#347afd"/></linearGradient>
<linearGradient id="g207" x2="0" y2="1"><stop offset="0" stop-color="#feca33"/><stop offset=".056" stop-color="#fdcd31"/><stop offset=".168" stop-color="#febe3c"/><stop offset=".216" stop-color="#f8ba3d"/><stop offset=".237" stop-color="#f6ba3b"/><stop offset=".336" stop-color="#febe3c"/><stop offset=".53" stop-color="#f8ba3d"/><stop offset=".733" stop-color="#dfbc2a"/><stop offset=".802" stop-color="#c5c22a"/><stop offset=".828" stop-color="#abc739"/><stop offset=".866" stop-color="#7fcc5a"/><stop offset=".892" stop-color="#3eca8f"/><stop offset=".909" stop-color="#25c2ad"/><stop offset=".922" stop-color="#05bbc1"/><stop offset=".927" stop-color="#01b9c7"/><stop offset=".948" stop-color="#1caadf"/><stop offset="1" stop-color="#337afd"/></linearGradient>
<linearGradient id="g208" x2="0" y2="1"><stop offset="0" stop-color="#fec934"/><stop offset=".065" stop-color="#fdcd32"/><stop offset=".177" stop-color="#febe3c"/><stop offset=".228" stop-color="#f8ba3d"/><stop offset=".336" stop-color="#febe3c"/><stop offset=".534" stop-color="#f8ba3d"/><stop offset=".733" stop-color="#dfbc2a"/><stop offset=".802" stop-color="#c5c22a"/><stop offset=".828" stop-color="#abc739"/><stop offset=".866" stop-color="#7fcc5a"/><stop offset=".892" stop-color="#3fca8e"/><stop offset=".909" stop-color="#26c2ad"/><stop offset=".922" stop-color="#06bcc0"/><stop offset=".927" stop-color="#01b9c7"/><stop offset=".931" stop-color="#04b6cd"/><stop offset=".944" stop-color="#18aedb"/><stop offset=".953" stop-color="#1ea7e1"/><stop offset="1" stop-color="#337bfd"/></linearGradient>
<linearGradient id="g209" x2="0" y2="1"><stop offset="0" stop-color="#fec934"/><stop offset=".073" stop-color="#fdcd32"/><stop offset=".181" stop-color="#febe3c"/><stop offset=".241" stop-color="#f8ba3d"/><stop offset=".336" stop-color="#febe3c"/><stop offset=".539" stop-color="#f8ba3d"/><stop offset=".733" stop-color="#e0bc2a"/><stop offset=".802" stop-color="#c5c22a"/><stop offset=".828" stop-color="#acc739"/><stop offset=".866" stop-color="#80cc59"/><stop offset=".892" stop-color="#40ca8d"/><stop offset=".909" stop-color="#27c2ac"/><stop offset=".922" stop-color="#07bcc0"/><stop offset=".927" stop-color="#01b9c6"/><stop offset=".931" stop-color="#03b7cc"/><stop offset=".944" stop-color="#17aedb"/><stop offset=".953" stop-color="#1ea7e1"/><stop offset="1" stop-color="#327bfc"/></linearGradient>
<linearGradient id="g210" x2="0" y2="1"><stop offset="0" stop-color="#fec834"/><stop offset=".082" stop-color="#fdcd32"/><stop offset=".19" stop-color="#febe3c"/><stop offset=".254" stop-color="#f8ba3d"/><stop offset=".336" stop-color="#febe3c"/><stop offset=".543" stop-color="#f8ba3d"/><stop offset=".733" stop-color="#e0bc2a"/><stop offset=".802" stop-color="#c6c22a"/><stop offset=".828" stop-color="#acc738"/><stop offset=".866" stop-color="#80cc59"/><stop offset=".892" stop-color="#41ca8c"/><stop offset=".909" stop-color="#28c2ab"/><stop offset=".922" stop-color="#08bcbf"/><stop offset=".927" stop-color="#01bac5"/><stop offset=".931" stop-color="#02b7cb"/><stop offset=".944" stop-color="#17aeda"/><stop offset=".953" stop-color="#1ea7e1"/><stop offset="1" stop-color="#327cfc"/></linearGradient>
<linearGradient id="g211" x2="0" y2="1"><stop offset="0" stop-color="#fec835"/><stop offset=".086" stop-color="#fdcd32"/><stop offset=".198" stop-color="#febe3c"/><stop offset=".259" stop-color="#f9bb3d"/><stop offset=".375" stop-color="#febe3c"/><stop offset=".547" stop-color="#f8ba3d"/><stop offset=".733" stop-color="#e1bc2b"/><stop offset=".802" stop-color="#c6c22a"/><stop offset=".828" stop-color="#acc738"/><stop offset=".866" stop-color="#81cc59"/><stop offset=".892" stop-color="#41ca8c"/><stop offset=".909" stop-color="#28c3aa"/><stop offset=".927" stop-color="#02bac4"/><stop offset=".931" stop-color="#02b7cb"/><stop offset=".944" stop-color="#16afd9"/><stop offset=".953" stop-color="#1da8e0"/><stop offset="1" stop-color="#327cfc"/></linearGradient>
<linearGradient id="g212" x2="0" y2="1"><stop offset="0" stop-color="#fec735"/><stop offset=".095" stop-color="#fdcd32"/><stop offset=".211" stop-color="#febe3c"/><stop offset=".263" stop-color="#fabb3d"/><stop offset=".379" stop-color="#febe3c"/><stop offset=".552" stop-color="#f8ba3d"/><stop offset=".733" stop-color="#e1bc2b"/><stop offset=".772" stop-color="#d2bf27"/><stop offset=".802" stop-color="#c6c22a"/><stop offset=".832" stop-color="#a8c73b"/><stop offset=".866" stop-color="#81cc58"/><stop offset=".892" stop-color="#42ca8c"/><stop offset=".909" stop-color="#29c3a9"/><stop offset=".927" stop-color="#02bac4"/><stop offset=".931" stop-color="#01b8ca"/><stop offset=".944" stop-color="#15afd9"/><stop offset=".953" stop-color="#1da8e0"/><stop offset="1" stop-color="#317dfc"/></linearGradient>
<linearGradient id="g213" x2="0" y2="1"><stop offset="0" stop-color="#fec736"/><stop offset=".103" stop-color="#fdcd32"/><stop offset=".267" stop-color="#fabb3d"/><stop offset=".384" stop-color="#febe3c"/><stop offset=".556" stop-color="#f8ba3d"/><stop offset=".733" stop-color="#e1bc2b"/><stop offset=".772" stop-color="#d2bf27"/><stop offset=".802" stop-color="#c6c22a"/><stop offset=".832" stop-color="#a9c73b"/><stop offset=".866" stop-color="#82cc58"/><stop offset=".892" stop-color="#42ca8b"/><stop offset=".914" stop-color="#22c1b0"/><stop offset=".927" stop-color="#02bbc3"/><stop offset=".931" stop-color="#01b8c9"/><stop offset=".944" stop-color="#15afd8"/><stop offset=".957" stop-color="#1fa5e2"/><stop offset="1" stop-color="#317dfc"/></linearGradient>
<linearGradient id="g214" x2="0" y2="1"><stop offset="0" stop-color="#fec636"/><stop offset=".112" stop-color="#fdcd32"/><stop offset=".276" stop-color="#fbbc3d"/><stop offset=".392" stop-color="#febe3c"/><stop offset=".56" stop-color="#f8ba3d"/><stop offset=".733" stop-color="#e2bc2b"/><stop offset=".772" stop-color="#d2bf27"/><stop offset=".802" stop-color="#c7c12a"/><stop offset=".832" stop-color="#a9c73b"/><stop offset=".866" stop-color="#82cc58"/><stop offset=".892" stop-color="#42ca8b"/><stop offset=".914" stop-color="#23c1af"/><stop offset=".927" stop-color="#03bbc2"/><stop offset=".931" stop-color="#01b8c9"/><stop offset=".948" stop-color="#19addc"/><stop offset=".961" stop-color="#22a2e4"/><stop offset="1" stop-color="#317dfb"/></linearGradient>
<linearGradient id="g215" x2="0" y2="1"><stop offset="0" stop-color="#fec636"/><stop offset=".121" stop-color="#fdcd32"/><stop offset=".28" stop-color="#fbbc3d"/><stop offset=".397" stop-color="#febe3c"/><stop offset=".565" stop-color="#f8ba3d"/><stop offset=".733" stop-color="#e2bc2b"/><stop offset=".776" stop-color="#d1bf27"/><stop offset=".802" stop-color="#c7c12a"/><stop offset=".832" stop-color="#a9c73a"/><stop offset=".866" stop-color="#83cc57"/><stop offset=".892" stop-color="#43ca8b"/><stop offset=".914" stop-color="#24c1ae"/><stop offset=".927" stop-color="#04bbc2"/><stop offset=".931" stop-color="#01b9c8"/><stop offset=".935" stop-color="#05b6ce"/><stop offset=".953" stop-color="#1caadf"/><stop offset="1" stop-color="#317efb"/></linearGradient>
<linearGradient id="g216" x2="0" y2="1"><stop offset="0" stop-color="#fec537"/><stop offset=".129" stop-color="#fdcd32"/><stop offset=".284" stop-color="#fcbc3d"/><stop offset=".401" stop-color="#febe3c"/><stop offset=".569" stop-color="#f8ba3d"/><stop offset=".733" stop-color="#e2bc2b"/><stop offset=".776" stop-color="#d1bf27"/><stop offset=".802" stop-color="#c7c12a"/><stop offset=".832" stop-color="#a9c73a"/><stop offset=".866" stop-color="#83cc57"/><stop offset=".892" stop-color="#43ca8a"/><stop offset=".914" stop-color="#25c2ad"/><stop offset=".927" stop-color="#05bbc1"/><stop offset=".931" stop-color="#01b9c7"/><stop offset=".948" stop-color="#18aedb"/><stop offset=".957" stop-color="#1ea7e1"/><stop offset="1" stop-color="#307efb"/></linearGradient>
<linearGradient id="g217" x2="0" y2="1"><stop offset="0" stop-color="#fec537"/><stop offset=".138" stop-color="#fdcc32"/><stop offset=".289" stop-color="#fdbd3d"/><stop offset=".409" stop-color="#febe3c"/><stop offset=".573" stop-color="#f8ba3d"/><stop offset=".733" stop-color="#e3bc2c"/><stop offset=".776" stop-color="#d2bf27"/><stop offset=".802" stop-color="#c7c12a"/><stop offset=".832" stop-color="#aac73a"/><stop offset=".866" stop-color="#83cc57"/><stop offset=".892" stop-color="#43ca8a"/><stop offset=".914" stop-color="#26c2ad"/><stop offset=".927" stop-color="#06bcc0"/><stop offset=".931" stop-color="#01b9c7"/><stop offset=".957" stop-color="#1ea7e1"/><stop offset="1" stop-color="#307ffb"/></linearGradient>
<linearGradient id="g218" x2="0" y2="1"><stop offset="0" stop-color="#fec437"/><stop offset=".147" stop-color="#fdcc32"/><stop offset=".297" stop-color="#fdbd3d"/><stop offset=".336" stop-color="#fec03b"/><stop offset=".578" stop-color="#f8ba3d"/><stop offset=".733" stop-color="#e3bc2c"/><stop offset=".776" stop-color="#d2bf27"/><stop offset=".802" stop-color="#c7c129"/><stop offset=".832" stop-color="#aac73a"/><stop offset=".866" stop-color="#84cc56"/><stop offset=".892" stop-color="#44cb8a"/><stop offset=".914" stop-color="#26c2ac"/><stop offset=".927" stop-color="#07bcc0"/><stop offset=".931" stop-color="#01b9c6"/><stop offset=".935" stop-color="#03b7cc"/><stop offset=".948" stop-color="#17aeda"/><stop offset=".957" stop-color="#1ea7e1"/><stop offset="1" stop-color="#307ffb"/></linearGradient>
<linearGradient id="g219" x2="0" y2="1"><stop offset="0" stop-color="#fec438"/><stop offset=".155" stop-color="#fdcc32"/><stop offset=".302" stop-color="#febd3c"/><stop offset=".582" stop-color="#f8ba3d"/><stop offset=".733" stop-color="#e3bb2c"/><stop offset=".776" stop-color="#d2bf27"/><stop offset=".802" stop-color="#c8c129"/><stop offset=".832" stop-color="#aac73a"/><stop offset=".866" stop-color="#84cb56"/><stop offset=".892" stop-color="#44cb8a"/><stop offset=".914" stop-color="#27c2ac"/><stop offset=".927" stop-color="#08bcbf"/><stop offset=".931" stop-color="#01bac5"/><stop offset=".935" stop-color="#02b7cb"/><stop offset=".948" stop-color="#16afd9"/><stop offset=".957" stop-color="#1da8e0"/><stop offset="1" stop-color="#3080fb"/></linearGradient>
<linearGradient id="g220" x2="0" y2="1"><stop offset="0" stop-color="#fec338"/><stop offset=".159" stop-color="#fdcc32"/><stop offset=".306" stop-color="#febe3c"/><stop offset=".586" stop-color="#f8ba3d"/><stop offset=".733" stop-color="#e4bb2c"/><stop offset=".78" stop-color="#d1bf27"/><stop offset=".802" stop-color="#c8c129"/><stop offset=".832" stop-color="#abc739"/><stop offset=".866" stop-color="#85cb56"/><stop offset=".892" stop-color="#44cb89"/><stop offset=".914" stop-color="#27c2ac"/><stop offset=".931" stop-color="#02bac5"/><stop offset=".935" stop-color="#02b7ca"/><stop offset=".948" stop-color="#15afd9"/><stop offset=".957" stop-color="#1da8e0"/><stop offset=".983" stop-color="#2b91ef"/><stop offset="1" stop-color="#2f80fa"/></linearGradient>
<linearGradient id="g221" x2="0" y2="1"><stop offset="0" stop-color="#fec339"/><stop offset=".168" stop-color="#fdcc32"/><stop offset=".315" stop-color="#febf3c"/><stop offset=".591" stop-color="#f8ba3d"/><stop offset=".733" stop-color="#e4bb2c"/><stop offset=".78" stop-color="#d1bf27"/><stop offset=".802" stop-color="#c8c129"/><stop offset=".832" stop-color="#abc739"/><stop offset=".866" stop-color="#85cb55"/><stop offset=".892" stop-color="#45cb89"/><stop offset=".914" stop-color="#27c2ac"/><stop offset=".931" stop-color="#02bac4"/><stop offset=".935" stop-color="#01b8ca"/><stop offset=".957" stop-color="#1da9e0"/><stop offset=".983" stop-color="#2b92ef"/><stop offset="1" stop-color="#2f81fa"/></linearGradient>
<linearGradient id="g222" x2="0" y2="1"><stop offset="0" stop-color="#fec239"/><stop offset=".177" stop-color="#fdcc32"/><stop offset=".319" stop-color="#febf3b"/><stop offset=".595" stop-color="#f8ba3d"/><stop offset=".733" stop-color="#e5bb2c"/><stop offset=".802" stop-color="#c8c129"/><stop offset=".832" stop-color="#abc739"/><stop offset=".866" stop-color="#86cb55"/><stop offset=".892" stop-color="#45cb89"/><stop offset=".914" stop-color="#27c2ab"/><stop offset=".931" stop-color="#02bac3"/><stop offset=".935" stop-color="#01b8c9"/><stop offset=".953" stop-color="#19addc"/><stop offset=".961" stop-color="#1fa6e2"/><stop offset="1" stop-color="#2f81fa"/></linearGradient>
<linearGradient id="g223" x2="0" y2="1"><stop offset="0" stop-color="#fec239"/><stop offset=".185" stop-color="#fdcc32"/><stop offset=".323" stop-color="#fec03b"/><stop offset=".599" stop-color="#f8ba3d"/><stop offset=".733" stop-color="#e5bb2d"/><stop offset=".802" stop-color="#c9c129"/><stop offset=".832" stop-color="#abc739"/><stop offset=".866" stop-color="#86cb55"/><stop offset=".892" stop-color="#45cb88"/><stop offset=".914" stop-color="#28c2ab"/><stop offset=".931" stop-color="#03bbc3"/><stop offset=".935" stop-color="#01b8c8"/><stop offset=".953" stop-color="#18addb"/><stop offset=".966" stop-color="#21a2e4"/><stop offset="1" stop-color="#2f82fa"/></linearGradient>
<linearGradient id="g224" x2="0" y2="1"><stop offset="0" stop-color="#fec13a"/><stop offset=".194" stop-color="#fdcc32"/><stop offset=".328" stop-color="#fec03a"/><stop offset=".599" stop-color="#f8ba3d"/><stop offset=".733" stop-color="#e5bb2d"/><stop offset=".802" stop-color="#c9c129"/><stop offset=".832" stop-color="#acc739"/><stop offset=".866" stop-color="#87cb54"/><stop offset=".892" stop-color="#46cb88"/><stop offset=".914" stop-color="#28c2ab"/><stop offset=".931" stop-color="#04bbc2"/><stop offset=".94" stop-color="#04b6cd"/><stop offset=".953" stop-color="#18aedb"/><stop offset=".966" stop-color="#21a3e3"/><stop offset="1" stop-color="#2f82fa"/></linearGradient>
<linearGradient id="g225" x2="0" y2="1"><stop offset="0" stop-color="#fec13a"/><stop offset=".203" stop-color="#fdcc32"/><stop offset=".336" stop-color="#fec13a"/><stop offset=".603" stop-color="#f8ba3d"/><stop offset=".733" stop-color="#e6bb2d"/><stop offset=".802" stop-color="#c9c129"/><stop offset=".832" stop-color="#acc738"/><stop offset=".866" stop-color="#87cb54"/><stop offset=".892" stop-color="#46cb88"/><stop offset=".901" stop-color="#37c897"/><stop offset=".914" stop-color="#28c3ab"/><stop offset=".931" stop-color="#04bbc2"/><stop offset=".94" stop-color="#04b6cc"/><stop offset=".953" stop-color="#17aeda"/><stop offset=".966" stop-color="#21a3e3"/><stop offset="1" stop-color="#2f82f9"/></linearGradient>
<linearGradient id="g226" x2="0" y2="1"><stop offset="0" stop-color="#fec13a"/><stop offset=".207" stop-color="#fdcc32"/><stop offset=".341" stop-color="#fec13a"/><stop offset=".603" stop-color="#f8ba3d"/><stop offset=".733" stop-color="#e6bb2d"/><stop offset=".802" stop-color="#cac129"/><stop offset=".832" stop-color="#adc638"/><stop offset=".866" stop-color="#88cb53"/><stop offset=".897" stop-color="#3eca8f"/><stop offset=".914" stop-color="#29c3aa"/><stop offset=".931" stop-color="#05bbc1"/><stop offset=".94" stop-color="#03b7cc"/><stop offset=".957" stop-color="#1babde"/><stop offset=".987" stop-color="#2c90f0"/><stop offset="1" stop-color="#2e83f9"/></linearGradient>
<linearGradient id="g227" x2="0" y2="1"><stop offset="0" stop-color="#fec03a"/><stop offset=".211" stop-color="#fdcb32"/><stop offset=".345" stop-color="#fec13a"/><stop offset=".603" stop-color="#f8ba3d"/><stop offset=".733" stop-color="#e6bb2d"/><stop offset=".802" stop-color="#cac129"/><stop offset=".832" stop-color="#adc638"/><stop offset=".866" stop-color="#88cb53"/><stop offset=".897" stop-color="#3fca8e"/><stop offset=".914" stop-color="#29c3a9"/><stop offset=".931" stop-color="#05bbc1"/><stop offset=".935" stop-color="#01b9c6"/><stop offset=".94" stop-color="#02b7cb"/><stop offset=".953" stop-color="#16afd9"/><stop offset=".961" stop-color="#1da8e0"/><stop offset="1" stop-color="#2e84f9"/></linearGradient>
<linearGradient id="g228" x2="0" y2="1"><stop offset="0" stop-color="#fec03a"/><stop offset=".22" stop-color="#fdcb33"/><stop offset=".353" stop-color="#fec03a"/><stop offset=".603" stop-color="#f9ba3d"/><stop offset=".733" stop-color="#e7bb2e"/><stop offset=".802" stop-color="#cac129"/><stop offset=".832" stop-color="#aec637"/><stop offset=".866" stop-color="#89cb52"/><stop offset=".897" stop-color="#40ca8d"/><stop offset=".918" stop-color="#23c1af"/><stop offset=".931" stop-color="#06bcc0"/><stop offset=".935" stop-color="#01bac6"/><stop offset=".94" stop-color="#02b7cb"/><stop offset=".953" stop-color="#15afd9"/><stop offset=".961" stop-color="#1da8e0"/><stop offset="1" stop-color="#2e84f8"/></linearGradient>
<linearGradient id="g229" x2="0" y2="1"><stop offset="0" stop-color="#fec03b"/><stop offset=".224" stop-color="#fdcb33"/><stop offset=".358" stop-color="#fec03a"/><stop offset=".599" stop-color="#f9bb3d"/><stop offset=".733" stop-color="#e7bb2e"/><stop offset=".802" stop-color="#cbc129"/><stop offset=".832" stop-color="#aec637"/><stop offset=".866" stop-color="#8acb52"/><stop offset=".897" stop-color="#40ca8d"/><stop offset=".918" stop-color="#24c1ae"/><stop offset=".931" stop-color="#07bcc0"/><stop offset=".935" stop-color="#01bac5"/><stop offset=".94" stop-color="#01b8ca"/><stop offset=".961" stop-color="#1da9e0"/><stop offset="1" stop-color="#2e85f8"/></linearGradient>
<linearGradient id="g230" x2="0" y2="1"><stop offset="0" stop-color="#fec03b"/><stop offset=".228" stop-color="#fdcb33"/><stop offset=".362" stop-color="#fec03a"/><stop offset=".599" stop-color="#f9bb3d"/><stop offset=".733" stop-color="#e7bb2e"/><stop offset=".763" stop-color="#dcbd29"/><stop offset=".802" stop-color="#cbc129"/><stop offset=".832" stop-color="#afc637"/><stop offset=".866" stop-color="#8acb51"/><stop offset=".897" stop-color="#41ca8c"/><stop offset=".918" stop-color="#25c2ae"/><stop offset=".935" stop-color="#02bac5"/><stop offset=".94" stop-color="#01b8ca"/><stop offset=".961" stop-color="#1ca9df"/><stop offset="1" stop-color="#2e85f8"/></linearGradient>
<linearGradient id="g231" x2="0" y2="1"><stop offset="0" stop-color="#fec03b"/><stop offset=".233" stop-color="#fdcb33"/><stop offset=".366" stop-color="#fec03a"/><stop offset=".599" stop-color="#f9bb3d"/><stop offset=".733" stop-color="#e8bb2e"/><stop offset=".763" stop-color="#dcbd29"/><stop offset=".802" stop-color="#cbc029"/><stop offset=".836" stop-color="#abc739"/><stop offset=".866" stop-color="#8bcb51"/><stop offset=".897" stop-color="#42ca8b"/><stop offset=".918" stop-color="#25c2ad"/><stop offset=".935" stop-color="#02bac4"/><stop offset=".944" stop-color="#05b6ce"/><stop offset=".961" stop-color="#1caadf"/><stop offset="1" stop-color="#2e86f7"/></linearGradient>
<linearGradient id="g232" x2="0" y2="1"><stop offset="0" stop-color="#fec03b"/><stop offset=".241" stop-color="#fdcb33"/><stop offset=".375" stop-color="#fec03a"/><stop offset=".599" stop-color="#f9bb3d"/><stop offset=".733" stop-color="#e8bb2f"/><stop offset=".763" stop-color="#ddbd29"/><stop offset=".802" stop-color="#ccc028"/><stop offset=".836" stop-color="#acc738"/><stop offset=".866" stop-color="#8ccb50"/><stop offset=".897" stop-color="#43ca8a"/><stop offset=".918" stop-color="#26c2ad"/><stop offset=".935" stop-color="#02bac4"/><stop offset=".944" stop-color="#05b6ce"/><stop offset=".957" stop-color="#18aedb"/><stop offset=".966" stop-color="#1ea7e1"/><stop offset="1" stop-color="#2e86f7"/></linearGradient>
<linearGradient id="g233" x2="0" y2="1"><stop offset="0" stop-color="#fec03b"/><stop offset=".246" stop-color="#fdca33"/><stop offset=".379" stop-color="#fec03a"/><stop offset=".599" stop-color="#fabb3d"/><stop offset=".733" stop-color="#e8bb2f"/><stop offset=".767" stop-color="#dbbd29"/><stop offset=".802" stop-color="#ccc028"/><stop offset=".828" stop-color="#b5c533"/><stop offset=".866" stop-color="#8ccb50"/><stop offset=".897" stop-color="#44cb8a"/><stop offset=".918" stop-color="#26c2ac"/><stop offset=".935" stop-color="#02bbc3"/><stop offset=".944" stop-color="#04b6cd"/><stop offset=".957" stop-color="#17aeda"/><stop offset=".966" stop-color="#1ea7e1"/><stop offset="1" stop-color="#2e87f7"/></linearGradient>
<linearGradient id="g234" x2="0" y2="1"><stop offset="0" stop-color="#febf3b"/><stop offset=".25" stop-color="#feca33"/><stop offset=".384" stop-color="#fec03a"/><stop offset=".599" stop-color="#fabb3d"/><stop offset=".733" stop-color="#e9bb2f"/><stop offset=".767" stop-color="#dbbd29"/><stop offset=".802" stop-color="#cdc028"/><stop offset=".828" stop-color="#b6c532"/><stop offset=".866" stop-color="#8dcb4f"/><stop offset=".897" stop-color="#45cb89"/><stop offset=".918" stop-color="#27c2ac"/><stop offset=".935" stop-color="#03bbc3"/><stop offset=".944" stop-color="#04b6cd"/><stop offset=".957" stop-color="#17aeda"/><stop offset=".966" stop-color="#1ea8e1"/><stop offset="1" stop-color="#2d87f6"/></linearGradient>
<linearGradient id="g235" x2="0" y2="1"><stop offset="0" stop-color="#febf3b"/><stop offset=".254" stop-color="#feca33"/><stop offset=".388" stop-color="#fec03a"/><stop offset=".599" stop-color="#fabb3d"/><stop offset=".733" stop-color="#e9bb30"/><stop offset=".767" stop-color="#dcbd29"/><stop offset=".802" stop-color="#cdc028"/><stop offset=".828" stop-color="#b6c532"/><stop offset=".866" stop-color="#8ecb4f"/><stop offset=".897" stop-color="#46cb88"/><stop offset=".918" stop-color="#28c2ab"/><stop offset=".935" stop-color="#04bbc2"/><stop offset=".944" stop-color="#03b7cc"/><stop offset=".961" stop-color="#1aabdd"/><stop offset="1" stop-color="#2d88f6"/></linearGradient>
<linearGradient id="g236" x2="0" y2="1"><stop offset="0" stop-color="#febf3b"/><stop offset=".263" stop-color="#feca33"/><stop offset=".397" stop-color="#fec03b"/><stop offset=".599" stop-color="#fabb3d"/><stop offset=".733" stop-color="#e9bb30"/><stop offset=".767" stop-color="#dcbd29"/><stop offset=".802" stop-color="#cdc028"/><stop offset=".832" stop-color="#b3c534"/><stop offset=".866" stop-color="#8ecb4e"/><stop offset=".897" stop-color="#46cb88"/><stop offset=".918" stop-color="#28c3aa"/><stop offset=".935" stop-color="#04bbc1"/><stop offset=".944" stop-color="#03b7cc"/><stop offset=".961" stop-color="#1aacdd"/><stop offset="1" stop-color="#2d89f6"/></linearGradient>
<linearGradient id="g237" x2="0" y2="1"><stop offset="0" stop-color="#febf3b"/><stop offset=".267" stop-color="#feca33"/><stop offset=".401" stop-color="#fec03b"/><stop offset=".599" stop-color="#fabb3d"/><stop offset=".733" stop-color="#eabb30"/><stop offset=".767" stop-color="#dcbd29"/><stop offset=".802" stop-color="#cec028"/><stop offset=".832" stop-color="#b3c534"/><stop offset=".866" stop-color="#8fcb4e"/><stop offset=".901" stop-color="#3eca8f"/><stop offset=".918" stop-color="#29c3aa"/><stop offset=".935" stop-color="#05bbc1"/><stop offset=".94" stop-color="#01b9c6"/><stop offset=".944" stop-color="#02b7cb"/><stop offset=".961" stop-color="#19acdc"/><stop offset="1" stop-color="#2d89f5"/></linearGradient>
<linearGradient id="g238" x2="0" y2="1"><stop offset="0" stop-color="#febf3c"/><stop offset=".272" stop-color="#fec934"/><stop offset=".405" stop-color="#fec03b"/><stop offset=".599" stop-color="#fabb3d"/><stop offset=".733" stop-color="#eaba31"/><stop offset=".767" stop-color="#ddbd29"/><stop offset=".802" stop-color="#cec028"/><stop offset=".836" stop-color="#b0c636"/><stop offset=".866" stop-color="#90ca4d"/><stop offset=".901" stop-color="#3fca8e"/><stop offset=".918" stop-color="#29c3a9"/><stop offset=".935" stop-color="#06bcc0"/><stop offset=".94" stop-color="#01b9c6"/><stop offset=".944" stop-color="#02b7cb"/><stop offset=".966" stop-color="#1ca9df"/><stop offset="1" stop-color="#2d8af5"/></linearGradient>
<linearGradient id="g239" x2="0" y2="1"><stop offset="0" stop-color="#febf3c"/><stop offset=".28" stop-color="#fec934"/><stop offset=".414" stop-color="#fec03b"/><stop offset=".599" stop-color="#fabc3d"/><stop offset=".733" stop-color="#eaba31"/><stop offset=".772" stop-color="#dbbd29"/><stop offset=".802" stop-color="#cec028"/><stop offset=".836" stop-color="#b0c636"/><stop offset=".866" stop-color="#90ca4d"/><stop offset=".901" stop-color="#3fca8e"/><stop offset=".922" stop-color="#23c1af"/><stop offset=".935" stop-color="#06bcc0"/><stop offset=".94" stop-color="#01bac5"/><stop offset=".944" stop-color="#01b8ca"/><stop offset=".966" stop-color="#1caadf"/><stop offset="1" stop-color="#2d8af4"/></linearGradient>
<linearGradient id="g240" x2="0" y2="1"><stop offset="0" stop-color="#febe3c"/><stop offset=".284" stop-color="#fec934"/><stop offset=".418" stop-color="#fec03b"/><stop offset=".599" stop-color="#fbbc3d"/><stop offset=".733" stop-color="#ebba31"/><stop offset=".772" stop-color="#dcbd29"/><stop offset=".802" stop-color="#cfc028"/><stop offset=".828" stop-color="#b8c431"/><stop offset=".866" stop-color="#91ca4c"/><stop offset=".901" stop-color="#40ca8d"/><stop offset=".922" stop-color="#24c1ae"/><stop offset=".935" stop-color="#07bcbf"/><stop offset=".94" stop-color="#02bac5"/><stop offset=".944" stop-color="#01b8ca"/><stop offset=".966" stop-color="#1caadf"/><stop offset="1" stop-color="#2d8bf4"/></linearGradient>
<linearGradient id="g241" x2="0" y2="1"><stop offset="0" stop-color="#febe3c"/><stop offset=".289" stop-color="#fec934"/><stop offset=".422" stop-color="#fec03b"/><stop offset=".599" stop-color="#fbbc3d"/><stop offset=".733" stop-color="#ebba31"/><stop offset=".772" stop-color="#dcbd29"/><stop offset=".802" stop-color="#cfc028"/><stop offset=".828" stop-color="#b9c431"/><stop offset=".866" stop-color="#92ca4c"/><stop offset=".901" stop-color="#40ca8d"/><stop offset=".922" stop-color="#25c2ae"/><stop offset=".94" stop-color="#02bac4"/><stop offset=".944" stop-color="#01b8c9"/><stop offset=".966" stop-color="#1baade"/><stop offset="1" stop-color="#2d8bf3"/></linearGradient>
<linearGradient id="g242" x2="0" y2="1"><stop offset="0" stop-color="#febe3c"/><stop offset=".293" stop-color="#fec934"/><stop offset=".427" stop-color="#fec03b"/><stop offset=".599" stop-color="#fbbc3d"/><stop offset=".634" stop-color="#f8ba3d"/><stop offset=".733" stop-color="#ebba32"/><stop offset=".772" stop-color="#ddbd29"/><stop offset=".802" stop-color="#cfc028"/><stop offset=".828" stop-color="#b9c430"/><stop offset=".866" stop-color="#92ca4b"/><stop offset=".901" stop-color="#41ca8c"/><stop offset=".922" stop-color="#25c2ad"/><stop offset=".94" stop-color="#02bac4"/><stop offset=".948" stop-color="#05b6ce"/><stop offset=".966" stop-color="#1babde"/><stop offset="1" stop-color="#2d8cf3"/></linearGradient>
<linearGradient id="g243" x2="0" y2="1"><stop offset="0" stop-color="#febe3c"/><stop offset=".302" stop-color="#fec834"/><stop offset=".435" stop-color="#fec03b"/><stop offset=".599" stop-color="#fbbc3d"/><stop offset=".634" stop-color="#f8ba3d"/><stop offset=".733" stop-color="#ecba32"/><stop offset=".772" stop-color="#ddbd29"/><stop offset=".802" stop-color="#d0bf27"/><stop offset=".832" stop-color="#b6c533"/><stop offset=".866" stop-color="#93ca4b"/><stop offset=".901" stop-color="#41ca8c"/><stop offset=".922" stop-color="#26c2ac"/><stop offset=".94" stop-color="#02bbc3"/><stop offset=".948" stop-color="#04b6cd"/><stop offset=".966" stop-color="#1babde"/><stop offset="1" stop-color="#2d8cf3"/></linearGradient>
<linearGradient id="g244" x2="0" y2="1"><stop offset="0" stop-color="#febe3c"/><stop offset=".306" stop-color="#fec834"/><stop offset=".44" stop-color="#fec03b"/><stop offset=".599" stop-color="#fbbc3d"/><stop offset=".638" stop-color="#f8ba3d"/><stop offset=".733" stop-color="#ecba32"/><stop offset=".802" stop-color="#d0bf27"/><stop offset=".832" stop-color="#b6c532"/><stop offset=".866" stop-color="#94ca4a"/><stop offset=".901" stop-color="#42ca8c"/><stop offset=".922" stop-color="#27c2ac"/><stop offset=".94" stop-color="#03bbc3"/><stop offset=".948" stop-color="#04b6cd"/><stop offset=".966" stop-color="#1aabdd"/><stop offset="1" stop-color="#2d8df2"/></linearGradient>
<linearGradient id="g245" x2="0" y2="1"><stop offset="0" stop-color="#febe3c"/><stop offset=".31" stop-color="#fec835"/><stop offset=".444" stop-color="#fec03b"/><stop offset=".599" stop-color="#fbbc3d"/><stop offset=".638" stop-color="#f8ba3d"/><stop offset=".733" stop-color="#ecba33"/><stop offset=".802" stop-color="#d1bf27"/><stop offset=".832" stop-color="#b7c532"/><stop offset=".866" stop-color="#94ca4a"/><stop offset=".901" stop-color="#42ca8b"/><stop offset=".922" stop-color="#27c2ab"/><stop offset=".94" stop-color="#04bbc2"/><stop offset=".948" stop-color="#03b7cc"/><stop offset=".966" stop-color="#1aabdd"/><stop offset="1" stop-color="#2c8ef2"/></linearGradient>
<linearGradient id="g246" x2="0" y2="1"><stop offset="0" stop-color="#febe3c"/><stop offset=".315" stop-color="#fec835"/><stop offset=".599" stop-color="#fcbc3d"/><stop offset=".642" stop-color="#f8ba3d"/><stop offset=".733" stop-color="#edba33"/><stop offset=".802" stop-color="#d1bf27"/><stop offset=".832" stop-color="#b7c532"/><stop offset=".866" stop-color="#95ca49"/><stop offset=".901" stop-color="#43ca8b"/><stop offset=".922" stop-color="#28c2ab"/><stop offset=".94" stop-color="#04bbc1"/><stop offset=".948" stop-color="#03b7cc"/><stop offset=".966" stop-color="#1aacdd"/><stop offset="1" stop-color="#2c8ef1"/></linearGradient>
<linearGradient id="g247" x2="0" y2="1"><stop offset="0" stop-color="#febd3c"/><stop offset=".323" stop-color="#fec835"/><stop offset=".599" stop-color="#fcbc3d"/><stop offset=".642" stop-color="#f8ba3d"/><stop offset=".733" stop-color="#edba33"/><stop offset=".802" stop-color="#d1bf27"/><stop offset=".832" stop-color="#b7c532"/><stop offset=".866" stop-color="#96ca49"/><stop offset=".901" stop-color="#43ca8a"/><stop offset=".922" stop-color="#28c3ab"/><stop offset=".94" stop-color="#05bbc1"/><stop offset=".948" stop-color="#02b7cb"/><stop offset=".966" stop-color="#1aacdd"/><stop offset="1" stop-color="#2c8ff1"/></linearGradient>
<linearGradient id="g248" x2="0" y2="1"><stop offset="0" stop-color="#febd3c"/><stop offset=".328" stop-color="#fec835"/><stop offset=".599" stop-color="#fcbc3d"/><stop offset=".642" stop-color="#f8ba3d"/><stop offset=".733" stop-color="#edba34"/><stop offset=".776" stop-color="#ddbd29"/><stop offset=".806" stop-color="#cec028"/><stop offset=".832" stop-color="#b8c431"/><stop offset=".866" stop-color="#96ca48"/><stop offset=".901" stop-color="#44cb8a"/><stop offset=".922" stop-color="#28c3aa"/><stop offset=".94" stop-color="#06bcc0"/><stop offset=".944" stop-color="#01b9c6"/><stop offset=".948" stop-color="#02b7cb"/><stop offset=".966" stop-color="#19acdc"/><stop offset="1" stop-color="#2c8ff0"/></linearGradient>
<linearGradient id="g249" x2="0" y2="1"><stop offset="0" stop-color="#fdbd3d"/><stop offset=".332" stop-color="#fec735"/><stop offset=".599" stop-color="#fcbc3d"/><stop offset=".647" stop-color="#f8ba3d"/><stop offset=".733" stop-color="#eeba34"/><stop offset=".776" stop-color="#ddbd29"/><stop offset=".806" stop-color="#cec028"/><stop offset=".832" stop-color="#b8c431"/><stop offset=".866" stop-color="#97ca48"/><stop offset=".901" stop-color="#44cb89"/><stop offset=".927" stop-color="#22c1b0"/><stop offset=".94" stop-color="#06bcc0"/><stop offset=".944" stop-color="#01bac5"/><stop offset=".948" stop-color="#01b8ca"/><stop offset=".966" stop-color="#19addc"/><stop offset="1" stop-color="#2c90f0"/></linearGradient>
<linearGradient id="g250" x2="0" y2="1"><stop offset="0" stop-color="#fdbd3d"/><stop offset=".336" stop-color="#fec735"/><stop offset=".603" stop-color="#fcbc3d"/><stop offset=".647" stop-color="#f8ba3d"/><stop offset=".733" stop-color="#eeba34"/><stop offset=".78" stop-color="#dcbd29"/><stop offset=".806" stop-color="#cfc028"/><stop offset=".832" stop-color="#b9c430"/><stop offset=".866" stop-color="#98c947"/><stop offset=".901" stop-color="#46cb88"/><stop offset=".927" stop-color="#24c1af"/><stop offset=".944" stop-color="#02bac3"/><stop offset=".953" stop-color="#05b6cd"/><stop offset=".97" stop-color="#1babde"/><stop offset="1" stop-color="#2b91ef"/></linearGradient>
<linearGradient id="g251" x2="0" y2="1"><stop offset="0" stop-color="#fdbd3d"/><stop offset=".341" stop-color="#fec735"/><stop offset=".603" stop-color="#fcbc3d"/><stop offset=".651" stop-color="#f8ba3d"/><stop offset=".737" stop-color="#edba34"/><stop offset=".806" stop-color="#d1bf27"/><stop offset=".832" stop-color="#bac430"/><stop offset=".866" stop-color="#9ac946"/><stop offset=".888" stop-color="#66cd6d"/><stop offset=".905" stop-color="#40ca8d"/><stop offset=".927" stop-color="#25c2ad"/><stop offset=".944" stop-color="#05bbc1"/><stop offset=".953" stop-color="#02b7cb"/><stop offset=".97" stop-color="#19acdd"/><stop offset="1" stop-color="#2a93ee"/></linearGradient>
<linearGradient id="g252" x2="0" y2="1"><stop offset="0" stop-color="#fdbd3d"/><stop offset=".349" stop-color="#fec736"/><stop offset=".608" stop-color="#fcbc3d"/><stop offset=".655" stop-color="#f8ba3d"/><stop offset=".737" stop-color="#eeba34"/><stop offset=".78" stop-color="#debd29"/><stop offset=".81" stop-color="#cec028"/><stop offset=".836" stop-color="#b8c431"/><stop offset=".866" stop-color="#9bc944"/><stop offset=".875" stop-color="#8bcb51"/><stop offset=".905" stop-color="#42ca8b"/><stop offset=".927" stop-color="#27c2ac"/><stop offset=".948" stop-color="#02bac4"/><stop offset=".957" stop-color="#05b6ce"/><stop offset=".97" stop-color="#18aedb"/><stop offset="1" stop-color="#2995ec"/></linearGradient>
<linearGradient id="g253" x2="0" y2="1"><stop offset="0" stop-color="#fdbd3d"/><stop offset=".353" stop-color="#fec636"/><stop offset=".608" stop-color="#fcbd3d"/><stop offset=".655" stop-color="#f8ba3d"/><stop offset=".737" stop-color="#eeba34"/><stop offset=".784" stop-color="#ddbd29"/><stop offset=".81" stop-color="#cfc028"/><stop offset=".836" stop-color="#b9c430"/><stop offset=".866" stop-color="#9cc943"/><stop offset=".875" stop-color="#8ccb50"/><stop offset=".905" stop-color="#44cb89"/><stop offset=".931" stop-color="#22c1b0"/><stop offset=".948" stop-color="#04bbc1"/><stop offset=".957" stop-color="#03b7cb"/><stop offset=".974" stop-color="#1aacdd"/><stop offset="1" stop-color="#2796eb"/></linearGradient>
<linearGradient id="g254" x2="0" y2="1"><stop offset="0" stop-color="#fcbd3d"/><stop offset=".358" stop-color="#fec636"/><stop offset=".612" stop-color="#fcbc3d"/><stop offset=".659" stop-color="#f8ba3d"/><stop offset=".737" stop-color="#eeba34"/><stop offset=".784" stop-color="#ddbd29"/><stop offset=".815" stop-color="#cdc028"/><stop offset=".836" stop-color="#bbc430"/><stop offset=".866" stop-color="#9ec942"/><stop offset=".879" stop-color="#85cb55"/><stop offset=".909" stop-color="#3eca8f"/><stop offset=".931" stop-color="#24c1ae"/><stop offset=".953" stop-color="#02bac4"/><stop offset=".961" stop-color="#05b6ce"/><stop offset=".974" stop-color="#18addb"/><stop offset="1" stop-color="#2798ea"/></linearGradient>
<linearGradient id="g255" x2="0" y2="1"><stop offset="0" stop-color="#fcbd3d"/><stop offset=".362" stop-color="#fec636"/><stop offset=".616" stop-color="#fcbc3d"/><stop offset=".659" stop-color="#f8ba3d"/><stop offset=".737" stop-color="#efba35"/><stop offset=".789" stop-color="#dcbd29"/><stop offset=".815" stop-color="#cec028"/><stop offset=".841" stop-color="#b8c431"/><stop offset=".866" stop-color="#9fc941"/><stop offset=".884" stop-color="#7dcc5b"/><stop offset=".909" stop-color="#40ca8d"/><stop offset=".931" stop-color="#26c2ad"/><stop offset=".953" stop-color="#04bbc2"/><stop offset=".961" stop-color="#03b7cc"/><stop offset=".978" stop-color="#1aacdd"/><stop offset="1" stop-color="#269ae9"/></linearGradient>
<linearGradient id="g256" x2="0" y2="1"><stop offset="0" stop-color="#fcbc3d"/><stop offset=".336" stop-color="#fec636"/><stop offset=".616" stop-color="#fcbd3d"/><stop offset=".664" stop-color="#f8ba3d"/><stop offset=".737" stop-color="#efba35"/><stop offset=".789" stop-color="#ddbd29"/><stop offset=".819" stop-color="#ccc028"/><stop offset=".866" stop-color="#a1c840"/><stop offset=".884" stop-color="#7fcc5a"/><stop offset=".909" stop-color="#43ca8b"/><stop offset=".931" stop-color="#27c2ab"/><stop offset=".957" stop-color="#02bac4"/><stop offset=".961" stop-color="#01b8ca"/><stop offset=".978" stop-color="#18addb"/><stop offset="1" stop-color="#259ce7"/></linearGradient>
<linearGradient id="g257" x2="0" y2="1"><stop offset="0" stop-color="#fcbc3d"/><stop offset=".336" stop-color="#fec537"/><stop offset=".621" stop-color="#fcbc3d"/><stop offset=".668" stop-color="#f8ba3d"/><stop offset=".737" stop-color="#efba35"/><stop offset=".793" stop-color="#dcbd29"/><stop offset=".819" stop-color="#cdc028"/><stop offset=".841" stop-color="#bbc430"/><stop offset=".866" stop-color="#a2c83f"/><stop offset=".888" stop-color="#77cc60"/><stop offset=".914" stop-color="#3dc990"/><stop offset=".935" stop-color="#23c1af"/><stop offset=".957" stop-color="#03bbc2"/><stop offset=".966" stop-color="#03b7cc"/><stop offset=".978" stop-color="#16afda"/><stop offset="1" stop-color="#249de6"/></linearGradient>
<linearGradient id="g258" x2="0" y2="1"><stop offset="0" stop-color="#fcbc3d"/><stop offset=".336" stop-color="#fec537"/><stop offset=".625" stop-color="#fcbc3d"/><stop offset=".668" stop-color="#f8ba3d"/><stop offset=".737" stop-color="#f0ba36"/><stop offset=".793" stop-color="#dcbd29"/><stop offset=".823" stop-color="#cbc129"/><stop offset=".866" stop-color="#a4c83e"/><stop offset=".892" stop-color="#6fcd66"/><stop offset=".914" stop-color="#3fca8e"/><stop offset=".935" stop-color="#25c2ad"/><stop offset=".961" stop-color="#02bac5"/><stop offset=".966" stop-color="#01b8ca"/><stop offset=".983" stop-color="#19addc"/><stop offset="1" stop-color="#249fe5"/></linearGradient>
<linearGradient id="g259" x2="0" y2="1"><stop offset="0" stop-color="#fbbc3d"/><stop offset=".336" stop-color="#fec537"/><stop offset=".625" stop-color="#fcbc3d"/><stop offset=".672" stop-color="#f8ba3d"/><stop offset=".741" stop-color="#efba35"/><stop offset=".797" stop-color="#dbbd29"/><stop offset=".828" stop-color="#c8c129"/><stop offset=".866" stop-color="#a5c83d"/><stop offset=".892" stop-color="#71cd64"/><stop offset=".914" stop-color="#41ca8c"/><stop offset=".935" stop-color="#27c2ac"/><stop offset=".961" stop-color="#03bbc2"/><stop offset=".97" stop-color="#04b6cd"/><stop offset=".983" stop-color="#17aeda"/><stop offset="1" stop-color="#23a1e4"/></linearGradient>
<linearGradient id="g260" x2="0" y2="1"><stop offset="0" stop-color="#fbbc3d"/><stop offset=".336" stop-color="#fec437"/><stop offset=".629" stop-color="#fcbc3d"/><stop offset=".677" stop-color="#f8ba3d"/><stop offset=".741" stop-color="#efba35"/><stop offset=".797" stop-color="#dcbd29"/><stop offset=".828" stop-color="#c9c129"/><stop offset=".866" stop-color="#a7c73c"/><stop offset=".897" stop-color="#6acd6a"/><stop offset=".914" stop-color="#43ca8a"/><stop offset=".935" stop-color="#28c3aa"/><stop offset=".961" stop-color="#05bbc1"/><stop offset=".97" stop-color="#01b7ca"/><stop offset=".987" stop-color="#19addc"/><stop offset="1" stop-color="#21a2e4"/></linearGradient>
<linearGradient id="g261" x2="0" y2="1"><stop offset="0" stop-color="#fbbc3d"/><stop offset=".336" stop-color="#fec437"/><stop offset=".634" stop-color="#fcbc3d"/><stop offset=".677" stop-color="#f8ba3d"/><stop offset=".763" stop-color="#eaba30"/><stop offset=".802" stop-color="#dbbd28"/><stop offset=".832" stop-color="#c7c12a"/><stop offset=".866" stop-color="#a8c73b"/><stop offset=".897" stop-color="#6ccd69"/><stop offset=".918" stop-color="#3dca90"/><stop offset=".935" stop-color="#2ac3a9"/><stop offset=".966" stop-color="#02bbc3"/><stop offset=".974" stop-color="#04b6cd"/><stop offset=".987" stop-color="#17aeda"/><stop offset="1" stop-color="#20a4e3"/></linearGradient>
<linearGradient id="g262" x2="0" y2="1"><stop offset="0" stop-color="#fbbc3d"/><stop offset=".336" stop-color="#fec438"/><stop offset=".634" stop-color="#fcbc3d"/><stop offset=".681" stop-color="#f8ba3d"/><stop offset=".767" stop-color="#e9bb30"/><stop offset=".802" stop-color="#dbbd29"/><stop offset=".832" stop-color="#c8c129"/><stop offset=".866" stop-color="#a9c73a"/><stop offset=".897" stop-color="#6dcd67"/><stop offset=".918" stop-color="#3fca8e"/><stop offset=".935" stop-color="#2cc4a7"/><stop offset=".966" stop-color="#04bbc2"/><stop offset=".974" stop-color="#02b7cb"/><stop offset=".987" stop-color="#15b0d8"/><stop offset="1" stop-color="#1fa6e2"/></linearGradient>
<linearGradient id="g263" x2="0" y2="1"><stop offset="0" stop-color="#fbbc3d"/><stop offset=".336" stop-color="#fec438"/><stop offset=".638" stop-color="#fcbc3d"/><stop offset=".685" stop-color="#f8ba3d"/><stop offset=".772" stop-color="#e8bb2f"/><stop offset=".819" stop-color="#d1bf27"/><stop offset=".836" stop-color="#c6c22a"/><stop offset=".866" stop-color="#abc739"/><stop offset=".897" stop-color="#6ecd66"/><stop offset=".918" stop-color="#41ca8c"/><stop offset=".935" stop-color="#2dc4a6"/><stop offset=".944" stop-color="#25c2ae"/><stop offset=".966" stop-color="#06bcc0"/><stop offset=".974" stop-color="#01b8c8"/><stop offset=".991" stop-color="#17aeda"/><stop offset="1" stop-color="#1ea7e1"/></linearGradient>
<linearGradient id="g264" x2="0" y2="1"><stop offset="0" stop-color="#fabb3d"/><stop offset=".336" stop-color="#fec338"/><stop offset=".638" stop-color="#fcbd3d"/><stop offset=".685" stop-color="#f8ba3d"/><stop offset=".772" stop-color="#e9bb2f"/><stop offset=".802" stop-color="#ddbd29"/><stop offset=".836" stop-color="#c7c12a"/><stop offset=".866" stop-color="#acc738"/><stop offset=".897" stop-color="#70cd65"/><stop offset=".922" stop-color="#3cc991"/><stop offset=".935" stop-color="#2ec4a4"/><stop offset=".948" stop-color="#22c1b0"/><stop offset=".97" stop-color="#03bbc2"/><stop offset=".978" stop-color="#02b7cb"/><stop offset="1" stop-color="#1da9e0"/></linearGradient>
<linearGradient id="g265" x2="0" y2="1"><stop offset="0" stop-color="#fabb3d"/><stop offset=".336" stop-color="#fec338"/><stop offset=".608" stop-color="#febe3c"/><stop offset=".685" stop-color="#f8ba3d"/><stop offset=".737" stop-color="#f2ba38"/><stop offset=".78" stop-color="#e6bb2d"/><stop offset=".823" stop-color="#d0bf27"/><stop offset=".841" stop-color="#c5c22a"/><stop offset=".866" stop-color="#aec637"/><stop offset=".897" stop-color="#71cd64"/><stop offset=".922" stop-color="#3eca8f"/><stop offset=".935" stop-color="#2fc5a3"/><stop offset=".948" stop-color="#24c1af"/><stop offset=".97" stop-color="#05bbc1"/><stop offset=".978" stop-color="#01b8c9"/><stop offset="1" stop-color="#1babde"/></linearGradient>
<linearGradient id="g266" x2="0" y2="1"><stop offset="0" stop-color="#fabb3d"/><stop offset=".336" stop-color="#fec338"/><stop offset=".608" stop-color="#febe3c"/><stop offset=".69" stop-color="#f8ba3d"/><stop offset=".737" stop-color="#f2ba38"/><stop offset=".78" stop-color="#e7bb2e"/><stop offset=".823" stop-color="#d1bf27"/><stop offset=".841" stop-color="#c5c22a"/><stop offset=".866" stop-color="#afc637"/><stop offset=".897" stop-color="#73cd63"/><stop offset=".922" stop-color="#40ca8d"/><stop offset=".935" stop-color="#30c5a1"/><stop offset=".948" stop-color="#25c2ad"/><stop offset=".974" stop-color="#02bbc3"/><stop offset=".983" stop-color="#02b7cb"/><stop offset="1" stop-color="#1aacdd"/></linearGradient>
<linearGradient id="g267" x2="0" y2="1"><stop offset="0" stop-color="#fabb3d"/><stop offset=".336" stop-color="#fec339"/><stop offset=".612" stop-color="#febe3c"/><stop offset=".694" stop-color="#f8ba3d"/><stop offset=".737" stop-color="#f2ba38"/><stop offset=".784" stop-color="#e6bb2d"/><stop offset=".823" stop-color="#d2bf27"/><stop offset=".845" stop-color="#c3c22b"/><stop offset=".866" stop-color="#b0c636"/><stop offset=".897" stop-color="#74cc62"/><stop offset=".927" stop-color="#3bc993"/><stop offset=".935" stop-color="#31c69f"/><stop offset=".953" stop-color="#23c1af"/><stop offset=".974" stop-color="#04bbc2"/><stop offset=".983" stop-color="#01b8c9"/><stop offset="1" stop-color="#18addb"/></linearGradient>
<linearGradient id="g268" x2="0" y2="1"><stop offset="0" stop-color="#fabb3d"/><stop offset=".336" stop-color="#fec239"/><stop offset=".616" stop-color="#febe3c"/><stop offset=".694" stop-color="#f8ba3d"/><stop offset=".737" stop-color="#f3ba38"/><stop offset=".784" stop-color="#e7bb2d"/><stop offset=".823" stop-color="#d2bf27"/><stop offset=".845" stop-color="#c4c22b"/><stop offset=".866" stop-color="#b2c635"/><stop offset=".901" stop-color="#6dcd67"/><stop offset=".931" stop-color="#37c898"/><stop offset=".953" stop-color="#25c2ae"/><stop offset=".978" stop-color="#02bac4"/><stop offset=".987" stop-color="#03b7cc"/><stop offset="1" stop-color="#16afd9"/></linearGradient>
<linearGradient id="g269" x2="0" y2="1"><stop offset="0" stop-color="#f9bb3d"/><stop offset=".336" stop-color="#fec239"/><stop offset=".616" stop-color="#febe3c"/><stop offset=".698" stop-color="#f8ba3d"/><stop offset=".737" stop-color="#f3ba39"/><stop offset=".789" stop-color="#e6bb2d"/><stop offset=".823" stop-color="#d3bf27"/><stop offset=".845" stop-color="#c5c22a"/><stop offset=".866" stop-color="#b3c534"/><stop offset=".901" stop-color="#6fcd66"/><stop offset=".931" stop-color="#38c896"/><stop offset=".953" stop-color="#26c2ac"/><stop offset=".978" stop-color="#03bbc3"/><stop offset=".987" stop-color="#01b8ca"/><stop offset="1" stop-color="#13b0d7"/></linearGradient>
<linearGradient id="g270" x2="0" y2="1"><stop offset="0" stop-color="#f9bb3d"/><stop offset=".336" stop-color="#fec239"/><stop offset=".621" stop-color="#febe3c"/><stop offset=".737" stop-color="#f3ba39"/><stop offset=".793" stop-color="#e5bb2c"/><stop offset=".828" stop-color="#d1bf27"/><stop offset=".866" stop-color="#b4c533"/><stop offset=".901" stop-color="#70cd65"/><stop offset=".931" stop-color="#3ac994"/><stop offset=".957" stop-color="#23c1af"/><stop offset=".974" stop-color="#0abdbe"/><stop offset=".983" stop-color="#02bac5"/><stop offset=".991" stop-color="#03b7cc"/><stop offset="1" stop-color="#10b2d5"/></linearGradient>
<linearGradient id="g271" x2="0" y2="1"><stop offset="0" stop-color="#f9bb3d"/><stop offset=".336" stop-color="#fec139"/><stop offset=".625" stop-color="#febe3c"/><stop offset=".737" stop-color="#f4ba39"/><stop offset=".793" stop-color="#e5bb2d"/><stop offset=".828" stop-color="#d2bf27"/><stop offset=".866" stop-color="#b6c532"/><stop offset=".901" stop-color="#71cd64"/><stop offset=".931" stop-color="#3bc992"/><stop offset=".957" stop-color="#25c2ad"/><stop offset=".983" stop-color="#02bac3"/><stop offset=".991" stop-color="#01b7ca"/><stop offset="1" stop-color="#0db3d3"/></linearGradient>
<linearGradient id="g272" x2="0" y2="1"><stop offset="0" stop-color="#f9ba3d"/><stop offset=".336" stop-color="#fec13a"/><stop offset=".625" stop-color="#febe3c"/><stop offset=".737" stop-color="#f4ba39"/><stop offset=".802" stop-color="#e2bc2b"/><stop offset=".832" stop-color="#d0bf27"/><stop offset=".866" stop-color="#b7c532"/><stop offset=".901" stop-color="#73cd63"/><stop offset=".922" stop-color="#4acb84"/><stop offset=".935" stop-color="#37c897"/><stop offset=".957" stop-color="#27c2ac"/><stop offset=".983" stop-color="#04bbc2"/><stop offset=".991" stop-color="#01b8c9"/><stop offset="1" stop-color="#09b4d1"/></linearGradient>
<linearGradient id="g273" x2="0" y2="1"><stop offset="0" stop-color="#f8ba3d"/><stop offset=".336" stop-color="#fec13a"/><stop offset=".629" stop-color="#febe3c"/><stop offset=".737" stop-color="#f4ba3a"/><stop offset=".802" stop-color="#e3bc2c"/><stop offset=".832" stop-color="#d1bf27"/><stop offset=".866" stop-color="#b9c431"/><stop offset=".901" stop-color="#74cc62"/><stop offset=".931" stop-color="#3eca8f"/><stop offset=".961" stop-color="#24c2ae"/><stop offset=".987" stop-color="#02bac4"/><stop offset="1" stop-color="#06b5cf"/></linearGradient>
<linearGradient id="g274" x2="0" y2="1"><stop offset="0" stop-color="#f8ba3d"/><stop offset=".336" stop-color="#fec13a"/><stop offset=".629" stop-color="#febe3c"/><stop offset=".711" stop-color="#f8ba3d"/><stop offset=".754" stop-color="#f0ba36"/><stop offset=".802" stop-color="#e4bb2c"/><stop offset=".832" stop-color="#d1bf27"/><stop offset=".866" stop-color="#bac430"/><stop offset=".879" stop-color="#a2c83f"/><stop offset=".901" stop-color="#76cc61"/><stop offset=".931" stop-color="#3fca8e"/><stop offset=".961" stop-color="#26c2ad"/><stop offset=".987" stop-color="#02bbc3"/><stop offset="1" stop-color="#04b6cd"/></linearGradient>
<linearGradient id="g275" x2="0" y2="1"><stop offset="0" stop-color="#f8ba3d"/><stop offset=".345" stop-color="#fec13a"/><stop offset=".629" stop-color="#febe3c"/><stop offset=".711" stop-color="#f8ba3d"/><stop offset=".754" stop-color="#f0ba36"/><stop offset=".802" stop-color="#e4bb2c"/><stop offset=".832" stop-color="#d2bf27"/><stop offset=".866" stop-color="#bac430"/><stop offset=".879" stop-color="#a3c83f"/><stop offset=".901" stop-color="#76cc60"/><stop offset=".931" stop-color="#3fca8e"/><stop offset=".961" stop-color="#27c2ac"/><stop offset=".987" stop-color="#04bbc2"/><stop offset="1" stop-color="#03b7cc"/></linearGradient>
<linearGradient id="g276" x2="0" y2="1"><stop offset="0" stop-color="#f8ba3d"/><stop offset=".349" stop-color="#fec13a"/><stop offset=".625" stop-color="#febe3c"/><stop offset=".707" stop-color="#f8ba3d"/><stop offset=".754" stop-color="#f0ba36"/><stop offset=".806" stop-color="#e2bc2b"/><stop offset=".836" stop-color="#d0bf27"/><stop offset=".866" stop-color="#bbc430"/><stop offset=".901" stop-color="#77cc60"/><stop offset=".931" stop-color="#40ca8d"/><stop offset=".966" stop-color="#24c1ae"/><stop offset=".987" stop-color="#05bbc1"/><stop offset="1" stop-color="#02b7cb"/></linearGradient>
<linearGradient id="g277" x2="0" y2="1"><stop offset="0" stop-color="#f8ba3d"/><stop offset=".353" stop-color="#fec13a"/><stop offset=".621" stop-color="#febe3c"/><stop offset=".707" stop-color="#f8ba3d"/><stop offset=".759" stop-color="#efba35"/><stop offset=".81" stop-color="#e0bc2b"/><stop offset=".836" stop-color="#d0bf27"/><stop offset=".866" stop-color="#bbc42f"/><stop offset=".901" stop-color="#77cc60"/><stop offset=".931" stop-color="#40ca8d"/><stop offset=".966" stop-color="#25c2ad"/><stop offset=".991" stop-color="#02bac3"/><stop offset="1" stop-color="#01b7ca"/></linearGradient>
<linearGradient id="g278" x2="0" y2="1"><stop offset="0" stop-color="#f8ba3d"/><stop offset=".358" stop-color="#fec239"/><stop offset=".621" stop-color="#febe3c"/><stop offset=".707" stop-color="#f8ba3d"/><stop offset=".759" stop-color="#efba35"/><stop offset=".81" stop-color="#e0bc2b"/><stop offset=".836" stop-color="#d1bf27"/><stop offset=".866" stop-color="#bcc42f"/><stop offset=".901" stop-color="#77cc5f"/><stop offset=".931" stop-color="#40ca8d"/><stop offset=".961" stop-color="#2bc3a8"/><stop offset=".991" stop-color="#03bbc2"/><stop offset="1" stop-color="#01b8c9"/></linearGradient>
<linearGradient id="g279" x2="0" y2="1"><stop offset="0" stop-color="#f8ba3d"/><stop offset=".366" stop-color="#fec239"/><stop offset=".616" stop-color="#febe3c"/><stop offset=".703" stop-color="#f8ba3d"/><stop offset=".759" stop-color="#efba35"/><stop offset=".815" stop-color="#dfbc2a"/><stop offset=".836" stop-color="#d2bf27"/><stop offset=".866" stop-color="#bdc32f"/><stop offset=".875" stop-color="#adc638"/><stop offset=".901" stop-color="#78cc5f"/><stop offset=".931" stop-color="#40ca8d"/><stop offset=".961" stop-color="#2cc4a7"/><stop offset=".991" stop-color="#05bbc1"/><stop offset="1" stop-color="#01b8c8"/></linearGradient>
<linearGradient id="g280" x2="0" y2="1"><stop offset="0" stop-color="#f8ba3d"/><stop offset=".371" stop-color="#fec239"/><stop offset=".616" stop-color="#febe3c"/><stop offset=".703" stop-color="#f8ba3d"/><stop offset=".759" stop-color="#efba35"/><stop offset=".819" stop-color="#ddbd29"/><stop offset=".841" stop-color="#cfc028"/><stop offset=".866" stop-color="#bdc32e"/><stop offset=".879" stop-color="#a5c83d"/><stop offset=".901" stop-color="#78cc5f"/><stop offset=".931" stop-color="#41ca8c"/><stop offset=".966" stop-color="#29c3aa"/><stop offset=".987" stop-color="#0bbdbd"/><stop offset="1" stop-color="#01b9c7"/></linearGradient>
<linearGradient id="g281" x2="0" y2="1"><stop offset="0" stop-color="#f8ba3d"/><stop offset=".375" stop-color="#fec239"/><stop offset=".616" stop-color="#febe3c"/><stop offset=".698" stop-color="#f8ba3d"/><stop offset=".759" stop-color="#efba35"/><stop offset=".819" stop-color="#ddbd29"/><stop offset=".841" stop-color="#d0bf27"/><stop offset=".866" stop-color="#bec32e"/><stop offset=".879" stop-color="#a6c83d"/><stop offset=".901" stop-color="#79cc5f"/><stop offset=".931" stop-color="#41ca8c"/><stop offset=".966" stop-color="#2ac3a9"/><stop offset=".991" stop-color="#07bcbf"/><stop offset="1" stop-color="#01b9c6"/></linearGradient>
<linearGradient id="g282" x2="0" y2="1"><stop offset="0" stop-color="#f8ba3d"/><stop offset=".306" stop-color="#febe3c"/><stop offset=".379" stop-color="#fec239"/><stop offset=".616" stop-color="#febe3c"/><stop offset=".698" stop-color="#f8ba3d"/><stop offset=".759" stop-color="#efba35"/><stop offset=".823" stop-color="#dbbd29"/><stop offset=".841" stop-color="#d1bf27"/><stop offset=".866" stop-color="#bfc32d"/><stop offset=".879" stop-color="#a6c73c"/><stop offset=".901" stop-color="#79cc5e"/><stop offset=".931" stop-color="#41ca8c"/><stop offset=".966" stop-color="#2bc3a7"/><stop offset=".991" stop-color="#09bcbe"/><stop offset="1" stop-color="#01bac5"/></linearGradient>
<linearGradient id="g283" x2="0" y2="1"><stop offset="0" stop-color="#f8ba3d"/><stop offset=".319" stop-color="#febe3c"/><stop offset=".388" stop-color="#fec339"/><stop offset=".616" stop-color="#febe3c"/><stop offset=".698" stop-color="#f8ba3d"/><stop offset=".763" stop-color="#eeba34"/><stop offset=".823" stop-color="#dbbd29"/><stop offset=".841" stop-color="#d1bf27"/><stop offset=".866" stop-color="#bfc32d"/><stop offset=".879" stop-color="#a7c73c"/><stop offset=".901" stop-color="#79cc5e"/><stop offset=".931" stop-color="#42ca8c"/><stop offset=".97" stop-color="#28c3aa"/><stop offset="1" stop-color="#02bac4"/></linearGradient>
<linearGradient id="g284" x2="0" y2="1"><stop offset="0" stop-color="#f8ba3d"/><stop offset=".328" stop-color="#febe3c"/><stop offset=".392" stop-color="#fec338"/><stop offset=".616" stop-color="#febe3c"/><stop offset=".694" stop-color="#f8ba3d"/><stop offset=".763" stop-color="#eeba34"/><stop offset=".828" stop-color="#dabd28"/><stop offset=".866" stop-color="#c0c32d"/><stop offset=".879" stop-color="#a8c73b"/><stop offset=".901" stop-color="#7acc5e"/><stop offset=".931" stop-color="#42ca8b"/><stop offset=".97" stop-color="#2ac3a9"/><stop offset="1" stop-color="#02bbc3"/></linearGradient>
<linearGradient id="g285" x2="0" y2="1"><stop offset="0" stop-color="#f8ba3d"/><stop offset=".332" stop-color="#febd3c"/><stop offset=".397" stop-color="#fec338"/><stop offset=".616" stop-color="#febe3c"/><stop offset=".694" stop-color="#f8ba3d"/><stop offset=".767" stop-color="#edba33"/><stop offset=".832" stop-color="#d8be28"/><stop offset=".866" stop-color="#c1c32c"/><stop offset=".879" stop-color="#a9c73b"/><stop offset=".901" stop-color="#7acc5e"/><stop offset=".931" stop-color="#42ca8b"/><stop offset=".97" stop-color="#2bc3a8"/><stop offset="1" stop-color="#03bbc2"/></linearGradient>
<linearGradient id="g286" x2="0" y2="1"><stop offset="0" stop-color="#f8ba3d"/><stop offset=".332" stop-color="#fdbd3d"/><stop offset=".401" stop-color="#fec338"/><stop offset=".616" stop-color="#febe3c"/><stop offset=".69" stop-color="#f8ba3d"/><stop offset=".767" stop-color="#edba33"/><stop offset=".832" stop-color="#d8be28"/><stop offset=".866" stop-color="#c1c32c"/><stop offset=".879" stop-color="#a9c73a"/><stop offset=".901" stop-color="#7acc5d"/><stop offset=".931" stop-color="#42ca8b"/><stop offset=".97" stop-color="#2cc4a7"/><stop offset="1" stop-color="#05bbc1"/></linearGradient>
<linearGradient id="g287" x2="0" y2="1"><stop offset="0" stop-color="#f8ba3d"/><stop offset=".332" stop-color="#fdbd3d"/><stop offset=".409" stop-color="#fec338"/><stop offset=".616" stop-color="#febe3c"/><stop offset=".69" stop-color="#f8ba3d"/><stop offset=".772" stop-color="#ecba32"/><stop offset=".836" stop-color="#d6be28"/><stop offset=".866" stop-color="#c2c22c"/><stop offset=".879" stop-color="#aac73a"/><stop offset=".901" stop-color="#7bcc5d"/><stop offset=".931" stop-color="#43ca8b"/><stop offset=".974" stop-color="#29c3aa"/><stop offset="1" stop-color="#06bcc0"/></linearGradient>
<linearGradient id="g288" x2="0" y2="1"><stop offset="0" stop-color="#f8ba3d"/><stop offset=".332" stop-color="#fdbd3d"/><stop offset=".414" stop-color="#fec438"/><stop offset=".621" stop-color="#febe3c"/><stop offset=".69" stop-color="#f8ba3d"/><stop offset=".776" stop-color="#ebba31"/><stop offset=".836" stop-color="#d6be28"/><stop offset=".866" stop-color="#c3c22b"/><stop offset=".879" stop-color="#abc739"/><stop offset=".901" stop-color="#7ccc5c"/><stop offset=".931" stop-color="#43ca8a"/><stop offset=".944" stop-color="#38c896"/><stop offset=".974" stop-color="#2ac3a8"/><stop offset="1" stop-color="#08bcbf"/></linearGradient>
<linearGradient id="g289" x2="0" y2="1"><stop offset="0" stop-color="#f8ba3d"/><stop offset=".332" stop-color="#fcbd3d"/><stop offset=".418" stop-color="#fec438"/><stop offset=".621" stop-color="#febe3c"/><stop offset=".685" stop-color="#f8ba3d"/><stop offset=".776" stop-color="#ebba31"/><stop offset=".841" stop-color="#d4bf28"/><stop offset=".866" stop-color="#c3c22b"/><stop offset=".879" stop-color="#abc739"/><stop offset=".901" stop-color="#7dcc5c"/><stop offset=".931" stop-color="#43ca8a"/><stop offset=".944" stop-color="#39c895"/><stop offset=".974" stop-color="#2bc3a8"/><stop offset=".983" stop-color="#23c1af"/><stop offset="1" stop-color="#09bcbe"/></linearGradient>
<linearGradient id="g290" x2="0" y2="1"><stop offset="0" stop-color="#f8ba3d"/><stop offset=".332" stop-color="#fcbd3d"/><stop offset=".422" stop-color="#fec438"/><stop offset=".621" stop-color="#febe3c"/><stop offset=".685" stop-color="#f8ba3d"/><stop offset=".78" stop-color="#eabb30"/><stop offset=".845" stop-color="#d2bf27"/><stop offset=".866" stop-color="#c4c22b"/><stop offset=".884" stop-color="#a3c83f"/><stop offset=".909" stop-color="#6acd69"/><stop offset=".931" stop-color="#44ca8a"/><stop offset=".944" stop-color="#39c895"/><stop offset=".978" stop-color="#29c3aa"/><stop offset="1" stop-color="#0bbdbd"/></linearGradient>
<linearGradient id="g291" x2="0" y2="1"><stop offset="0" stop-color="#f8ba3d"/><stop offset=".332" stop-color="#fcbc3d"/><stop offset=".431" stop-color="#fec437"/><stop offset=".621" stop-color="#febe3c"/><stop offset=".685" stop-color="#f8ba3d"/><stop offset=".78" stop-color="#eabb30"/><stop offset=".823" stop-color="#dbbd29"/><stop offset=".866" stop-color="#c5c22a"/><stop offset=".884" stop-color="#a4c83e"/><stop offset=".914" stop-color="#62cd70"/><stop offset=".931" stop-color="#44cb8a"/><stop offset=".944" stop-color="#39c895"/><stop offset=".983" stop-color="#26c2ad"/><stop offset="1" stop-color="#0cbdbc"/></linearGradient>
<linearGradient id="g292" x2="0" y2="1"><stop offset="0" stop-color="#f8ba3d"/><stop offset=".332" stop-color="#fcbc3d"/><stop offset=".435" stop-color="#fec537"/><stop offset=".621" stop-color="#febe3c"/><stop offset=".681" stop-color="#f8ba3d"/><stop offset=".784" stop-color="#e9bb2f"/><stop offset=".823" stop-color="#dbbd29"/><stop offset=".866" stop-color="#c5c22a"/><stop offset=".884" stop-color="#a4c83e"/><stop offset=".914" stop-color="#63cd70"/><stop offset=".931" stop-color="#44cb89"/><stop offset=".944" stop-color="#39c995"/><stop offset=".983" stop-color="#27c2ac"/><stop offset="1" stop-color="#0fbebb"/></linearGradient>
<linearGradient id="g293" x2="0" y2="1"><stop offset="0" stop-color="#f8ba3d"/><stop offset=".332" stop-color="#fbbc3d"/><stop offset=".44" stop-color="#fec537"/><stop offset=".621" stop-color="#febe3c"/><stop offset=".681" stop-color="#f8ba3d"/><stop offset=".789" stop-color="#e7bb2e"/><stop offset=".845" stop-color="#d2bf27"/><stop offset=".866" stop-color="#c6c22a"/><stop offset=".884" stop-color="#a5c83d"/><stop offset=".914" stop-color="#64cd6f"/><stop offset=".931" stop-color="#44cb89"/><stop offset=".948" stop-color="#37c897"/><stop offset=".987" stop-color="#24c1ae"/><stop offset="1" stop-color="#11beba"/></linearGradient>
<linearGradient id="g294" x2="0" y2="1"><stop offset="0" stop-color="#f8ba3d"/><stop offset=".332" stop-color="#fbbc3d"/><stop offset=".448" stop-color="#fec537"/><stop offset=".621" stop-color="#febe3c"/><stop offset=".677" stop-color="#f8ba3d"/><stop offset=".789" stop-color="#e7bb2e"/><stop offset=".845" stop-color="#d2bf27"/><stop offset=".866" stop-color="#c6c12a"/><stop offset=".884" stop-color="#a6c83d"/><stop offset=".914" stop-color="#64cd6f"/><stop offset=".935" stop-color="#3fca8e"/><stop offset=".987" stop-color="#24c2ae"/><stop offset="1" stop-color="#13beb9"/></linearGradient>
<linearGradient id="g295" x2="0" y2="1"><stop offset="0" stop-color="#f7ba3d"/><stop offset=".332" stop-color="#fbbc3d"/><stop offset=".453" stop-color="#fec537"/><stop offset=".621" stop-color="#febe3c"/><stop offset=".677" stop-color="#f8ba3d"/><stop offset=".793" stop-color="#e6bb2d"/><stop offset=".845" stop-color="#d2bf27"/><stop offset=".866" stop-color="#c7c12a"/><stop offset=".884" stop-color="#a7c73c"/><stop offset=".914" stop-color="#65cd6e"/><stop offset=".935" stop-color="#3fca8e"/><stop offset=".987" stop-color="#25c2ae"/><stop offset="1" stop-color="#15bfb8"/></linearGradient>
<linearGradient id="g296" x2="0" y2="1"><stop offset="0" stop-color="#f7ba3c"/><stop offset=".332" stop-color="#fabb3d"/><stop offset=".457" stop-color="#fec537"/><stop offset=".621" stop-color="#febe3c"/><stop offset=".677" stop-color="#f8ba3d"/><stop offset=".793" stop-color="#e6bb2d"/><stop offset=".858" stop-color="#cdc028"/><stop offset=".871" stop-color="#c1c32c"/><stop offset=".884" stop-color="#a7c73c"/><stop offset=".905" stop-color="#78cc5f"/><stop offset=".927" stop-color="#4dcb82"/><stop offset=".935" stop-color="#3fca8e"/><stop offset=".987" stop-color="#25c2ae"/><stop offset="1" stop-color="#17bfb6"/></linearGradient>
<linearGradient id="g297" x2="0" y2="1"><stop offset="0" stop-color="#f7ba3c"/><stop offset=".332" stop-color="#fabb3d"/><stop offset=".461" stop-color="#fec636"/><stop offset=".625" stop-color="#febe3c"/><stop offset=".672" stop-color="#f8ba3d"/><stop offset=".797" stop-color="#e5bb2d"/><stop offset=".862" stop-color="#cbc129"/><stop offset=".871" stop-color="#c2c22c"/><stop offset=".884" stop-color="#a8c73b"/><stop offset=".905" stop-color="#79cc5e"/><stop offset=".935" stop-color="#40ca8d"/><stop offset=".987" stop-color="#25c2ad"/><stop offset="1" stop-color="#19bfb5"/></linearGradient>
<linearGradient id="g298" x2="0" y2="1"><stop offset="0" stop-color="#f7ba3c"/><stop offset=".332" stop-color="#fabb3d"/><stop offset=".466" stop-color="#fec636"/><stop offset=".625" stop-color="#febe3c"/><stop offset=".672" stop-color="#f8ba3d"/><stop offset=".797" stop-color="#e5bb2d"/><stop offset=".845" stop-color="#d2bf27"/><stop offset=".866" stop-color="#c9c129"/><stop offset=".871" stop-color="#c2c22c"/><stop offset=".884" stop-color="#a9c73b"/><stop offset=".905" stop-color="#7acc5e"/><stop offset=".935" stop-color="#40ca8d"/><stop offset=".978" stop-color="#2ac3a8"/><stop offset="1" stop-color="#1bc0b4"/></linearGradient>
<linearGradient id="g299" x2="0" y2="1"><stop offset="0" stop-color="#f7ba3d"/><stop offset=".336" stop-color="#fabb3d"/><stop offset=".47" stop-color="#fec636"/><stop offset=".621" stop-color="#febe3c"/><stop offset=".668" stop-color="#f8ba3d"/><stop offset=".802" stop-color="#e4bb2c"/><stop offset=".845" stop-color="#d2bf27"/><stop offset=".866" stop-color="#c9c129"/><stop offset=".871" stop-color="#c3c22b"/><stop offset=".884" stop-color="#a9c73a"/><stop offset=".905" stop-color="#7acc5d"/><stop offset=".935" stop-color="#40ca8d"/><stop offset=".978" stop-color="#2bc3a8"/><stop offset="1" stop-color="#1bc0b4"/></linearGradient>
<linearGradient id="g300" x2="0" y2="1"><stop offset="0" stop-color="#f8ba3d"/><stop offset=".341" stop-color="#fabb3d"/><stop offset=".47" stop-color="#fec537"/><stop offset=".621" stop-color="#febe3c"/><stop offset=".668" stop-color="#f8ba3d"/><stop offset=".802" stop-color="#e3bc2c"/><stop offset=".845" stop-color="#d2bf27"/><stop offset=".871" stop-color="#c3c22b"/><stop offset=".884" stop-color="#aac73a"/><stop offset=".905" stop-color="#7bcc5d"/><stop offset=".935" stop-color="#40ca8d"/><stop offset=".978" stop-color="#2bc3a8"/><stop offset="1" stop-color="#1cc0b4"/></linearGradient>
<linearGradient id="g301" x2="0" y2="1"><stop offset="0" stop-color="#f8ba3d"/><stop offset=".349" stop-color="#fbbc3d"/><stop offset=".47" stop-color="#fec537"/><stop offset=".621" stop-color="#febe3c"/><stop offset=".664" stop-color="#f8ba3d"/><stop offset=".802" stop-color="#e3bc2c"/><stop offset=".845" stop-color="#d2bf27"/><stop offset=".866" stop-color="#c8c129"/><stop offset=".871" stop-color="#c3c22b"/><stop offset=".884" stop-color="#aac73a"/><stop offset=".905" stop-color="#7bcc5d"/><stop offset=".935" stop-color="#41ca8c"/><stop offset="1" stop-color="#1cc0b3"/></linearGradient>
<linearGradient id="g302" x2="0" y2="1"><stop offset="0" stop-color="#f8ba3d"/><stop offset=".353" stop-color="#fbbc3d"/><stop offset=".47" stop-color="#fec537"/><stop offset=".616" stop-color="#febe3c"/><stop offset=".664" stop-color="#f8ba3d"/><stop offset=".802" stop-color="#e2bc2b"/><stop offset=".845" stop-color="#d1bf27"/><stop offset=".866" stop-color="#c8c129"/><stop offset=".871" stop-color="#c2c22c"/><stop offset=".884" stop-color="#aac73a"/><stop offset=".905" stop-color="#7ccc5c"/><stop offset=".935" stop-color="#41ca8c"/><stop offset="1" stop-color="#1cc0b3"/></linearGradient>
<linearGradient id="g303" x2="0" y2="1"><stop offset="0" stop-color="#f8ba3d"/><stop offset=".358" stop-color="#fbbc3d"/><stop offset=".47" stop-color="#fec537"/><stop offset=".616" stop-color="#febe3c"/><stop offset=".659" stop-color="#f8ba3d"/><stop offset=".802" stop-color="#e2bc2b"/><stop offset=".845" stop-color="#d1bf27"/><stop offset=".866" stop-color="#c7c129"/><stop offset=".871" stop-color="#c2c22c"/><stop offset=".888" stop-color="#a2c840"/><stop offset=".918" stop-color="#60cd72"/><stop offset=".935" stop-color="#41ca8c"/><stop offset="1" stop-color="#1dc0b3"/></linearGradient>
<linearGradient id="g304" x2="0" y2="1"><stop offset="0" stop-color="#f9ba3d"/><stop offset=".362" stop-color="#fbbc3d"/><stop offset=".47" stop-color="#fec537"/><stop offset=".612" stop-color="#febe3c"/><stop offset=".659" stop-color="#f8ba3d"/><stop offset=".802" stop-color="#e2bc2b"/><stop offset=".845" stop-color="#d1bf27"/><stop offset=".866" stop-color="#c7c12a"/><stop offset=".871" stop-color="#c2c32c"/><stop offset=".884" stop-color="#abc739"/><stop offset=".918" stop-color="#61cd72"/><stop offset=".935" stop-color="#42ca8c"/><stop offset="1" stop-color="#1dc0b3"/></linearGradient>
<linearGradient id="g305" x2="0" y2="1"><stop offset="0" stop-color="#f9bb3d"/><stop offset=".371" stop-color="#fcbc3d"/><stop offset=".47" stop-color="#fec437"/><stop offset=".612" stop-color="#febe3c"/><stop offset=".659" stop-color="#f8ba3d"/><stop offset=".802" stop-color="#e1bc2b"/><stop offset=".845" stop-color="#d0bf27"/><stop offset=".866" stop-color="#c7c12a"/><stop offset=".871" stop-color="#c1c32c"/><stop offset=".888" stop-color="#a2c83f"/><stop offset=".918" stop-color="#61cd71"/><stop offset=".935" stop-color="#42ca8b"/><stop offset="1" stop-color="#1ec0b2"/></linearGradient>
<linearGradient id="g306" x2="0" y2="1"><stop offset="0" stop-color="#f9bb3d"/><stop offset=".375" stop-color="#fcbc3d"/><stop offset=".47" stop-color="#fec437"/><stop offset=".608" stop-color="#febe3c"/><stop offset=".655" stop-color="#f8ba3d"/><stop offset=".802" stop-color="#e1bc2b"/><stop offset=".841" stop-color="#d2bf27"/><stop offset=".866" stop-color="#c7c12a"/><stop offset=".871" stop-color="#c1c32c"/><stop offset=".888" stop-color="#a3c83f"/><stop offset=".918" stop-color="#61cd71"/><stop offset=".935" stop-color="#42ca8b"/><stop offset="1" stop-color="#1ec0b2"/></linearGradient>
<linearGradient id="g307" x2="0" y2="1"><stop offset="0" stop-color="#f9bb3d"/><stop offset=".379" stop-color="#fcbd3d"/><stop offset=".47" stop-color="#fec438"/><stop offset=".608" stop-color="#febe3c"/><stop offset=".655" stop-color="#f8ba3d"/><stop offset=".802" stop-color="#e1bc2b"/><stop offset=".841" stop-color="#d2bf27"/><stop offset=".866" stop-color="#c6c22a"/><stop offset=".871" stop-color="#c1c32d"/><stop offset=".892" stop-color="#9ac945"/><stop offset=".918" stop-color="#62cd71"/><stop offset=".935" stop-color="#42ca8b"/><stop offset="1" stop-color="#1fc0b2"/></linearGradient>
<linearGradient id="g308" x2="0" y2="1"><stop offset="0" stop-color="#f9bb3d"/><stop offset=".384" stop-color="#fdbd3d"/><stop offset=".47" stop-color="#fec438"/><stop offset=".603" stop-color="#febe3c"/><stop offset=".651" stop-color="#f8ba3d"/><stop offset=".797" stop-color="#e1bc2b"/><stop offset=".841" stop-color="#d1bf27"/><stop offset=".866" stop-color="#c6c22a"/><stop offset=".871" stop-color="#c0c32d"/><stop offset=".892" stop-color="#9ac945"/><stop offset=".918" stop-color="#62cd71"/><stop offset=".935" stop-color="#43ca8b"/><stop offset="1" stop-color="#1fc1b1"/></linearGradient>
<linearGradient id="g309" x2="0" y2="1"><stop offset="0" stop-color="#f9bb3d"/><stop offset=".392" stop-color="#fdbd3d"/><stop offset=".47" stop-color="#fec338"/><stop offset=".599" stop-color="#febe3c"/><stop offset=".651" stop-color="#f8ba3d"/><stop offset=".797" stop-color="#e1bc2b"/><stop offset=".841" stop-color="#d1bf27"/><stop offset=".866" stop-color="#c6c22a"/><stop offset=".892" stop-color="#99c946"/><stop offset=".918" stop-color="#62cd70"/><stop offset=".935" stop-color="#43ca8a"/><stop offset="1" stop-color="#20c1b1"/></linearGradient>
<linearGradient id="g310" x2="0" y2="1"><stop offset="0" stop-color="#fabb3d"/><stop offset=".397" stop-color="#fdbd3d"/><stop offset=".47" stop-color="#fec338"/><stop offset=".595" stop-color="#febe3c"/><stop offset=".647" stop-color="#f8ba3d"/><stop offset=".797" stop-color="#e0bc2b"/><stop offset=".841" stop-color="#d1bf27"/><stop offset=".866" stop-color="#c5c22a"/><stop offset=".892" stop-color="#99c946"/><stop offset=".918" stop-color="#63cd70"/><stop offset=".935" stop-color="#43ca8a"/><stop offset="1" stop-color="#20c1b1"/></linearGradient>
<linearGradient id="g311" x2="0" y2="1"><stop offset="0" stop-color="#fabb3d"/><stop offset=".401" stop-color="#fdbd3d"/><stop offset=".47" stop-color="#fec338"/><stop offset=".586" stop-color="#febe3c"/><stop offset=".647" stop-color="#f8ba3d"/><stop offset=".797" stop-color="#e0bc2a"/><stop offset=".866" stop-color="#c5c22a"/><stop offset=".888" stop-color="#a1c840"/><stop offset=".914" stop-color="#6ccd68"/><stop offset=".935" stop-color="#44ca8a"/><stop offset="1" stop-color="#21c1b0"/></linearGradient>
<linearGradient id="g312" x2="0" y2="1"><stop offset="0" stop-color="#fabb3d"/><stop offset=".336" stop-color="#fcbc3d"/><stop offset=".47" stop-color="#fec338"/><stop offset=".582" stop-color="#febd3c"/><stop offset=".647" stop-color="#f8ba3d"/><stop offset=".797" stop-color="#e0bc2a"/><stop offset=".836" stop-color="#d2bf27"/><stop offset=".866" stop-color="#c5c22a"/><stop offset=".888" stop-color="#a0c841"/><stop offset=".914" stop-color="#6ccd68"/><stop offset=".935" stop-color="#44cb8a"/><stop offset="1" stop-color="#21c1b0"/></linearGradient>
<linearGradient id="g313" x2="0" y2="1"><stop offset="0" stop-color="#fabb3d"/><stop offset=".336" stop-color="#fcbc3d"/><stop offset=".47" stop-color="#fec339"/><stop offset=".573" stop-color="#febe3c"/><stop offset=".642" stop-color="#f8ba3d"/><stop offset=".797" stop-color="#dfbc2a"/><stop offset=".836" stop-color="#d2bf27"/><stop offset=".866" stop-color="#c4c22b"/><stop offset=".888" stop-color="#a0c841"/><stop offset=".914" stop-color="#6dcd68"/><stop offset=".935" stop-color="#44cb89"/><stop offset="1" stop-color="#22c1b0"/></linearGradient>
<linearGradient id="g314" x2="0" y2="1"><stop offset="0" stop-color="#fabb3d"/><stop offset=".336" stop-color="#fcbd3d"/><stop offset=".47" stop-color="#fec239"/><stop offset=".565" stop-color="#febe3c"/><stop offset=".642" stop-color="#f8ba3d"/><stop offset=".797" stop-color="#dfbc2a"/><stop offset=".836" stop-color="#d1bf27"/><stop offset=".866" stop-color="#c4c22b"/><stop offset=".888" stop-color="#a0c841"/><stop offset=".914" stop-color="#6dcd67"/><stop offset=".935" stop-color="#44cb89"/><stop offset="1" stop-color="#22c1b0"/></linearGradient>
<linearGradient id="g315" x2="0" y2="1"><stop offset="0" stop-color="#fbbc3d"/><stop offset=".336" stop-color="#fcbd3d"/><stop offset=".47" stop-color="#fec239"/><stop offset=".556" stop-color="#febe3c"/><stop offset=".638" stop-color="#f8ba3d"/><stop offset=".797" stop-color="#dfbc2a"/><stop offset=".836" stop-color="#d1bf27"/><stop offset=".866" stop-color="#c4c22b"/><stop offset=".888" stop-color="#9fc941"/><stop offset=".935" stop-color="#45cb89"/><stop offset="1" stop-color="#23c1af"/></linearGradient>
<linearGradient id="g316" x2="0" y2="1"><stop offset="0" stop-color="#fbbc3d"/><stop offset=".336" stop-color="#fcbd3d"/><stop offset=".47" stop-color="#fec239"/><stop offset=".552" stop-color="#febe3c"/><stop offset=".634" stop-color="#f8ba3d"/><stop offset=".797" stop-color="#debc2a"/><stop offset=".836" stop-color="#d0bf27"/><stop offset=".866" stop-color="#c3c22b"/><stop offset=".888" stop-color="#9fc942"/><stop offset=".935" stop-color="#45cb89"/><stop offset="1" stop-color="#23c1af"/></linearGradient>
<linearGradient id="g317" x2="0" y2="1"><stop offset="0" stop-color="#fbbc3d"/><stop offset=".336" stop-color="#fdbd3d"/><stop offset=".47" stop-color="#fec239"/><stop offset=".547" stop-color="#febe3c"/><stop offset=".634" stop-color="#f8ba3d"/><stop offset=".797" stop-color="#debd29"/><stop offset=".832" stop-color="#d2bf27"/><stop offset=".866" stop-color="#c3c22b"/><stop offset=".888" stop-color="#9fc942"/><stop offset=".935" stop-color="#45cb88"/><stop offset="1" stop-color="#23c1af"/></linearGradient>
<linearGradient id="g318" x2="0" y2="1"><stop offset="0" stop-color="#fbbc3d"/><stop offset=".336" stop-color="#fdbd3d"/><stop offset=".47" stop-color="#fec239"/><stop offset=".547" stop-color="#febd3c"/><stop offset=".629" stop-color="#f8ba3d"/><stop offset=".797" stop-color="#debd29"/><stop offset=".832" stop-color="#d1bf27"/><stop offset=".866" stop-color="#c3c22b"/><stop offset=".888" stop-color="#9ec942"/><stop offset=".935" stop-color="#46cb88"/><stop offset="1" stop-color="#24c1ae"/></linearGradient>
<linearGradient id="g319" x2="0" y2="1"><stop offset="0" stop-color="#fbbc3d"/><stop offset=".47" stop-color="#fec13a"/><stop offset=".543" stop-color="#febd3c"/><stop offset=".629" stop-color="#f8ba3d"/><stop offset=".797" stop-color="#ddbd29"/><stop offset=".832" stop-color="#d1bf27"/><stop offset=".866" stop-color="#c2c22c"/><stop offset=".888" stop-color="#9ec942"/><stop offset=".935" stop-color="#46cb88"/><stop offset="1" stop-color="#24c1ae"/></linearGradient>
<linearGradient id="g320" x2="0" y2="1"><stop offset="0" stop-color="#fbbc3d"/><stop offset=".47" stop-color="#fec13a"/><stop offset=".539" stop-color="#febe3c"/><stop offset=".625" stop-color="#f8ba3d"/><stop offset=".797" stop-color="#ddbd29"/><stop offset=".832" stop-color="#d0bf27"/><stop offset=".866" stop-color="#c2c22c"/><stop offset=".888" stop-color="#9ec943"/><stop offset=".935" stop-color="#46cb88"/><stop offset="1" stop-color="#25c2ae"/></linearGradient>
<linearGradient id="g321" x2="0" y2="1"><stop offset="0" stop-color="#fcbc3d"/><stop offset=".47" stop-color="#fec13a"/><stop offset=".534" stop-color="#febe3c"/><stop offset=".621" stop-color="#f8ba3d"/><stop offset=".797" stop-color="#dcbd29"/><stop offset=".866" stop-color="#c2c22c"/><stop offset=".888" stop-color="#9dc943"/><stop offset=".935" stop-color="#46cb87"/><stop offset="1" stop-color="#25c2ae"/></linearGradient>
<linearGradient id="g322" x2="0" y2="1"><stop offset="0" stop-color="#fcbc3d"/><stop offset=".47" stop-color="#fec13a"/><stop offset=".53" stop-color="#febe3c"/><stop offset=".621" stop-color="#f8ba3d"/><stop offset=".797" stop-color="#dcbd29"/><stop offset=".866" stop-color="#c1c32c"/><stop offset=".888" stop-color="#9dc943"/><stop offset=".935" stop-color="#47cb87"/><stop offset="1" stop-color="#25c2ad"/></linearGradient>
<linearGradient id="g323" x2="0" y2="1"><stop offset="0" stop-color="#fcbc3d"/><stop offset=".466" stop-color="#fec13a"/><stop offset=".526" stop-color="#febe3c"/><stop offset=".616" stop-color="#f8ba3d"/><stop offset=".797" stop-color="#dcbd29"/><stop offset=".828" stop-color="#d1bf27"/><stop offset=".866" stop-color="#c1c32c"/><stop offset=".884" stop-color="#a4c83e"/><stop offset=".918" stop-color="#63cd70"/><stop offset=".935" stop-color="#47cb87"/><stop offset=".957" stop-color="#39c895"/><stop offset="1" stop-color="#25c2ad"/></linearGradient>
<linearGradient id="g324" x2="0" y2="1"><stop offset="0" stop-color="#fcbc3d"/><stop offset=".466" stop-color="#fec03a"/><stop offset=".526" stop-color="#febe3c"/><stop offset=".612" stop-color="#f8ba3d"/><stop offset=".797" stop-color="#dbbd29"/><stop offset=".828" stop-color="#d0bf27"/><stop offset=".871" stop-color="#bbc42f"/><stop offset=".905" stop-color="#7bcc5d"/><stop offset=".935" stop-color="#47cb87"/><stop offset="1" stop-color="#26c2ad"/></linearGradient>
<linearGradient id="g325" x2="0" y2="1"><stop offset="0" stop-color="#fcbc3d"/><stop offset=".522" stop-color="#febe3c"/><stop offset=".608" stop-color="#f8ba3d"/><stop offset=".797" stop-color="#dbbd28"/><stop offset=".849" stop-color="#c6c22a"/><stop offset=".871" stop-color="#bac430"/><stop offset=".905" stop-color="#7bcc5d"/><stop offset=".935" stop-color="#47cb87"/><stop offset="1" stop-color="#26c2ad"/></linearGradient>
<linearGradient id="g326" x2="0" y2="1"><stop offset="0" stop-color="#fcbd3d"/><stop offset=".522" stop-color="#febe3c"/><stop offset=".608" stop-color="#f8ba3d"/><stop offset=".797" stop-color="#dabd28"/><stop offset=".849" stop-color="#c5c22a"/><stop offset=".871" stop-color="#b9c430"/><stop offset=".884" stop-color="#a3c83e"/><stop offset=".909" stop-color="#72cd64"/><stop offset=".935" stop-color="#46cb88"/><stop offset="1" stop-color="#26c2ac"/></linearGradient>
<linearGradient id="g327" x2="0" y2="1"><stop offset="0" stop-color="#fcbd3d"/><stop offset=".522" stop-color="#febd3c"/><stop offset=".608" stop-color="#f8ba3d"/><stop offset=".724" stop-color="#e6bb2d"/><stop offset=".797" stop-color="#dabd28"/><stop offset=".845" stop-color="#c6c22a"/><stop offset=".871" stop-color="#b8c431"/><stop offset=".884" stop-color="#a3c83f"/><stop offset=".909" stop-color="#71cd64"/><stop offset=".935" stop-color="#46cb88"/><stop offset="1" stop-color="#26c2ac"/></linearGradient>
<linearGradient id="g328" x2="0" y2="1"><stop offset="0" stop-color="#fcbd3d"/><stop offset=".517" stop-color="#febe3c"/><stop offset=".608" stop-color="#f8ba3d"/><stop offset=".716" stop-color="#e7bb2e"/><stop offset=".797" stop-color="#d9bd28"/><stop offset=".845" stop-color="#c5c22a"/><stop offset=".871" stop-color="#b7c532"/><stop offset=".884" stop-color="#a3c83f"/><stop offset=".909" stop-color="#71cd64"/><stop offset=".935" stop-color="#46cb88"/><stop offset="1" stop-color="#27c2ac"/></linearGradient>
<linearGradient id="g329" x2="0" y2="1"><stop offset="0" stop-color="#fcbd3d"/><stop offset=".517" stop-color="#febe3c"/><stop offset=".608" stop-color="#f8ba3d"/><stop offset=".711" stop-color="#e7bb2e"/><stop offset=".797" stop-color="#d9be28"/><stop offset=".866" stop-color="#bbc42f"/><stop offset=".884" stop-color="#a2c83f"/><stop offset=".918" stop-color="#61cd71"/><stop offset=".935" stop-color="#46cb88"/><stop offset="1" stop-color="#27c2ac"/></linearGradient>
<linearGradient id="g330" x2="0" y2="1"><stop offset="0" stop-color="#fcbd3d"/><stop offset=".517" stop-color="#febd3c"/><stop offset=".603" stop-color="#f9ba3d"/><stop offset=".707" stop-color="#e7bb2e"/><stop offset=".797" stop-color="#d8be28"/><stop offset=".841" stop-color="#c5c22a"/><stop offset=".866" stop-color="#bac430"/><stop offset=".888" stop-color="#9ac945"/><stop offset=".914" stop-color="#68cd6b"/><stop offset=".935" stop-color="#45cb89"/><stop offset="1" stop-color="#27c2ac"/></linearGradient>
<linearGradient id="g331" x2="0" y2="1"><stop offset="0" stop-color="#fcbd3d"/><stop offset=".513" stop-color="#febe3c"/><stop offset=".603" stop-color="#f9ba3d"/><stop offset=".703" stop-color="#e7bb2d"/><stop offset=".797" stop-color="#d8be28"/><stop offset=".836" stop-color="#c6c22a"/><stop offset=".866" stop-color="#b9c430"/><stop offset=".888" stop-color="#99c946"/><stop offset=".918" stop-color="#60cd72"/><stop offset=".935" stop-color="#45cb89"/><stop offset="1" stop-color="#27c2ab"/></linearGradient>
<linearGradient id="g332" x2="0" y2="1"><stop offset="0" stop-color="#fcbd3d"/><stop offset=".517" stop-color="#febd3c"/><stop offset=".603" stop-color="#f8ba3d"/><stop offset=".698" stop-color="#e7bb2d"/><stop offset=".797" stop-color="#d8be28"/><stop offset=".836" stop-color="#c5c22a"/><stop offset=".866" stop-color="#b8c431"/><stop offset=".892" stop-color="#91ca4c"/><stop offset=".914" stop-color="#67cd6c"/><stop offset=".935" stop-color="#45cb89"/><stop offset="1" stop-color="#27c2ab"/></linearGradient>
<linearGradient id="g333" x2="0" y2="1"><stop offset="0" stop-color="#fdbd3d"/><stop offset=".522" stop-color="#fdbd3d"/><stop offset=".603" stop-color="#f8ba3d"/><stop offset=".694" stop-color="#e6bb2d"/><stop offset=".797" stop-color="#d7be28"/><stop offset=".832" stop-color="#c6c22a"/><stop offset=".866" stop-color="#b7c532"/><stop offset=".892" stop-color="#90ca4d"/><stop offset=".918" stop-color="#60cd73"/><stop offset=".935" stop-color="#44cb89"/><stop offset="1" stop-color="#28c2ab"/></linearGradient>
<linearGradient id="g334" x2="0" y2="1"><stop offset="0" stop-color="#fdbd3d"/><stop offset=".526" stop-color="#fdbd3d"/><stop offset=".603" stop-color="#f8ba3d"/><stop offset=".69" stop-color="#e7bb2d"/><stop offset=".797" stop-color="#d7be28"/><stop offset=".866" stop-color="#b6c532"/><stop offset=".897" stop-color="#88cb53"/><stop offset=".935" stop-color="#44cb8a"/><stop offset="1" stop-color="#28c2ab"/></linearGradient>
<linearGradient id="g335" x2="0" y2="1"><stop offset="0" stop-color="#fdbd3d"/><stop offset=".534" stop-color="#fcbd3d"/><stop offset=".603" stop-color="#f8ba3d"/><stop offset=".685" stop-color="#e7bb2d"/><stop offset=".797" stop-color="#d6be28"/><stop offset=".828" stop-color="#c7c12a"/><stop offset=".866" stop-color="#b5c533"/><stop offset=".897" stop-color="#86cb54"/><stop offset=".935" stop-color="#44cb8a"/><stop offset="1" stop-color="#28c3ab"/></linearGradient>
<linearGradient id="g336" x2="0" y2="1"><stop offset="0" stop-color="#fdbd3d"/><stop offset=".539" stop-color="#fcbc3d"/><stop offset=".603" stop-color="#f8ba3d"/><stop offset=".681" stop-color="#e7bb2d"/><stop offset=".797" stop-color="#d6be28"/><stop offset=".828" stop-color="#c6c22a"/><stop offset=".866" stop-color="#b4c534"/><stop offset=".888" stop-color="#94ca4a"/><stop offset=".935" stop-color="#44ca8a"/><stop offset="1" stop-color="#28c3ab"/></linearGradient>
<linearGradient id="g337" x2="0" y2="1"><stop offset="0" stop-color="#fdbd3d"/><stop offset=".543" stop-color="#fcbc3d"/><stop offset=".603" stop-color="#f8ba3d"/><stop offset=".677" stop-color="#e7bb2d"/><stop offset=".797" stop-color="#d5be28"/><stop offset=".828" stop-color="#c6c22a"/><stop offset=".866" stop-color="#b3c534"/><stop offset=".905" stop-color="#76cc61"/><stop offset=".935" stop-color="#43ca8a"/><stop offset="1" stop-color="#28c3aa"/></linearGradient>
<linearGradient id="g338" x2="0" y2="1"><stop offset="0" stop-color="#fdbd3d"/><stop offset=".552" stop-color="#fbbc3d"/><stop offset=".603" stop-color="#f8ba3d"/><stop offset=".677" stop-color="#e6bb2d"/><stop offset=".797" stop-color="#d5be28"/><stop offset=".828" stop-color="#c5c22a"/><stop offset=".866" stop-color="#b2c635"/><stop offset=".905" stop-color="#75cc62"/><stop offset=".935" stop-color="#43ca8b"/><stop offset="1" stop-color="#29c3aa"/></linearGradient>
<linearGradient id="g339" x2="0" y2="1"><stop offset="0" stop-color="#fdbd3d"/><stop offset=".556" stop-color="#fbbc3d"/><stop offset=".603" stop-color="#f8ba3d"/><stop offset=".672" stop-color="#e6bb2d"/><stop offset=".797" stop-color="#d4bf28"/><stop offset=".828" stop-color="#c5c22a"/><stop offset=".866" stop-color="#b1c635"/><stop offset=".905" stop-color="#73cd62"/><stop offset=".935" stop-color="#43ca8b"/><stop offset="1" stop-color="#29c3aa"/></linearGradient>
<linearGradient id="g340" x2="0" y2="1"><stop offset="0" stop-color="#fdbd3d"/><stop offset=".478" stop-color="#febe3c"/><stop offset=".56" stop-color="#fabc3d"/><stop offset=".603" stop-color="#f8ba3d"/><stop offset=".668" stop-color="#e6bb2d"/><stop offset=".797" stop-color="#d4bf28"/><stop offset=".828" stop-color="#c4c22a"/><stop offset=".866" stop-color="#b0c636"/><stop offset=".905" stop-color="#72cd63"/><stop offset=".935" stop-color="#42ca8b"/><stop offset="1" stop-color="#29c3aa"/></linearGradient>
<linearGradient id="g341" x2="0" y2="1"><stop offset="0" stop-color="#fdbd3d"/><stop offset=".478" stop-color="#febe3c"/><stop offset=".569" stop-color="#fabb3d"/><stop offset=".603" stop-color="#f7ba3d"/><stop offset=".664" stop-color="#e6bb2d"/><stop offset=".797" stop-color="#d3bf27"/><stop offset=".823" stop-color="#c6c22a"/><stop offset=".866" stop-color="#afc637"/><stop offset=".905" stop-color="#71cd64"/><stop offset=".935" stop-color="#42ca8b"/><stop offset="1" stop-color="#29c3aa"/></linearGradient>
<linearGradient id="g342" x2="0" y2="1"><stop offset="0" stop-color="#fdbd3d"/><stop offset=".474" stop-color="#febe3c"/><stop offset=".573" stop-color="#fabb3d"/><stop offset=".603" stop-color="#f7ba3c"/><stop offset=".659" stop-color="#e6bb2d"/><stop offset=".797" stop-color="#d3bf27"/><stop offset=".823" stop-color="#c6c22a"/><stop offset=".866" stop-color="#aec637"/><stop offset=".905" stop-color="#70cd65"/><stop offset=".935" stop-color="#42ca8c"/><stop offset="1" stop-color="#29c3a9"/></linearGradient>
<linearGradient id="g343" x2="0" y2="1"><stop offset="0" stop-color="#fdbd3d"/><stop offset=".47" stop-color="#febe3c"/><stop offset=".578" stop-color="#f9bb3d"/><stop offset=".603" stop-color="#f7ba3c"/><stop offset=".659" stop-color="#e6bb2d"/><stop offset=".797" stop-color="#d3bf27"/><stop offset=".823" stop-color="#c5c22a"/><stop offset=".866" stop-color="#adc638"/><stop offset=".905" stop-color="#6fcd66"/><stop offset=".935" stop-color="#42ca8c"/><stop offset="1" stop-color="#2ac3a9"/></linearGradient>
<linearGradient id="g344" x2="0" y2="1"><stop offset="0" stop-color="#fdbd3d"/><stop offset=".47" stop-color="#febe3c"/><stop offset=".586" stop-color="#f9ba3d"/><stop offset=".603" stop-color="#f7ba3c"/><stop offset=".659" stop-color="#e5bb2d"/><stop offset=".797" stop-color="#d2bf27"/><stop offset=".823" stop-color="#c5c22a"/><stop offset=".866" stop-color="#acc739"/><stop offset=".901" stop-color="#75cc61"/><stop offset=".935" stop-color="#41ca8c"/><stop offset="1" stop-color="#2ac3a9"/></linearGradient>
<linearGradient id="g345" x2="0" y2="1"><stop offset="0" stop-color="#fdbd3d"/><stop offset=".47" stop-color="#febd3c"/><stop offset=".591" stop-color="#f8ba3d"/><stop offset=".664" stop-color="#e4bb2c"/><stop offset=".797" stop-color="#d2bf27"/><stop offset=".823" stop-color="#c4c22a"/><stop offset=".866" stop-color="#abc739"/><stop offset=".901" stop-color="#74cd62"/><stop offset=".935" stop-color="#41ca8c"/><stop offset="1" stop-color="#2ac3a9"/></linearGradient>
<linearGradient id="g346" x2="0" y2="1"><stop offset="0" stop-color="#fdbd3d"/><stop offset=".47" stop-color="#febd3c"/><stop offset=".595" stop-color="#f8ba3d"/><stop offset=".664" stop-color="#e3bc2c"/><stop offset=".797" stop-color="#d1bf27"/><stop offset=".823" stop-color="#c4c22b"/><stop offset=".866" stop-color="#aac73a"/><stop offset=".901" stop-color="#73cd63"/><stop offset=".935" stop-color="#41ca8d"/><stop offset="1" stop-color="#2ac3a9"/></linearGradient>
<linearGradient id="g347" x2="0" y2="1"><stop offset="0" stop-color="#fdbd3d"/><stop offset=".47" stop-color="#fdbd3d"/><stop offset=".591" stop-color="#f8ba3d"/><stop offset=".668" stop-color="#e2bc2b"/><stop offset=".802" stop-color="#d0c028"/><stop offset=".866" stop-color="#a9c73b"/><stop offset=".901" stop-color="#71cd64"/><stop offset=".935" stop-color="#40ca8d"/><stop offset="1" stop-color="#2ac3a8"/></linearGradient>
<linearGradient id="g348" x2="0" y2="1"><stop offset="0" stop-color="#fdbd3d"/><stop offset=".466" stop-color="#fdbd3d"/><stop offset=".591" stop-color="#f8ba3d"/><stop offset=".668" stop-color="#e2bc2b"/><stop offset=".802" stop-color="#d0c028"/><stop offset=".866" stop-color="#a9c73b"/><stop offset=".901" stop-color="#72cd64"/><stop offset=".935" stop-color="#41ca8d"/><stop offset="1" stop-color="#2ac3a8"/></linearGradient>
<linearGradient id="g349" x2="0" y2="1"><stop offset="0" stop-color="#fdbd3d"/><stop offset=".466" stop-color="#fdbd3d"/><stop offset=".595" stop-color="#f8ba3d"/><stop offset=".668" stop-color="#e3bc2c"/><stop offset=".802" stop-color="#d0bf27"/><stop offset=".823" stop-color="#c4c22b"/><stop offset=".866" stop-color="#aac73a"/><stop offset=".901" stop-color="#72cd63"/><stop offset=".935" stop-color="#41ca8c"/><stop offset="1" stop-color="#2bc3a8"/></linearGradient>
<linearGradient id="g350" x2="0" y2="1"><stop offset="0" stop-color="#fdbd3d"/><stop offset=".466" stop-color="#fdbd3d"/><stop offset=".595" stop-color="#f8ba3d"/><stop offset=".668" stop-color="#e4bb2c"/><stop offset=".802" stop-color="#d0bf27"/><stop offset=".823" stop-color="#c5c22a"/><stop offset=".866" stop-color="#aac73a"/><stop offset=".901" stop-color="#73cd63"/><stop offset=".935" stop-color="#42ca8c"/><stop offset="1" stop-color="#2bc3a8"/></linearGradient>
<linearGradient id="g351" x2="0" y2="1"><stop offset="0" stop-color="#fdbd3d"/><stop offset=".466" stop-color="#fdbd3d"/><stop offset=".599" stop-color="#f8ba3d"/><stop offset=".668" stop-color="#e5bb2c"/><stop offset=".802" stop-color="#d1bf27"/><stop offset=".823" stop-color="#c6c22a"/><stop offset=".866" stop-color="#abc739"/><stop offset=".901" stop-color="#74cc62"/><stop offset=".935" stop-color="#42ca8b"/><stop offset="1" stop-color="#2bc3a8"/></linearGradient>
<linearGradient id="g352" x2="0" y2="1"><stop offset="0" stop-color="#fdbd3d"/><stop offset=".466" stop-color="#fdbd3d"/><stop offset=".599" stop-color="#f8ba3d"/><stop offset=".668" stop-color="#e6bb2d"/><stop offset=".802" stop-color="#d1bf27"/><stop offset=".828" stop-color="#c4c22b"/><stop offset=".866" stop-color="#acc739"/><stop offset=".901" stop-color="#75cc62"/><stop offset=".935" stop-color="#43ca8b"/><stop offset="1" stop-color="#2bc3a8"/></linearGradient>
<linearGradient id="g353" x2="0" y2="1"><stop offset="0" stop-color="#fdbd3d"/><stop offset=".466" stop-color="#fdbd3d"/><stop offset=".599" stop-color="#f8ba3d"/><stop offset=".616" stop-color="#f7ba3c"/><stop offset=".668" stop-color="#e6bb2d"/><stop offset=".802" stop-color="#d1bf27"/><stop offset=".828" stop-color="#c4c22b"/><stop offset=".866" stop-color="#acc738"/><stop offset=".901" stop-color="#75cc61"/><stop offset=".935" stop-color="#43ca8a"/><stop offset=".961" stop-color="#37c898"/><stop offset="1" stop-color="#2bc3a7"/></linearGradient>
<linearGradient id="g354" x2="0" y2="1"><stop offset="0" stop-color="#fdbd3d"/><stop offset=".466" stop-color="#fdbd3d"/><stop offset=".603" stop-color="#f8ba3d"/><stop offset=".672" stop-color="#e6bb2d"/><stop offset=".802" stop-color="#d1bf27"/><stop offset=".828" stop-color="#c5c22a"/><stop offset=".866" stop-color="#adc638"/><stop offset=".905" stop-color="#6fcd66"/><stop offset=".935" stop-color="#44cb8a"/><stop offset=".961" stop-color="#37c897"/><stop offset="1" stop-color="#2cc4a7"/></linearGradient>
<linearGradient id="g355" x2="0" y2="1"><stop offset="0" stop-color="#fdbd3d"/><stop offset=".466" stop-color="#fdbd3d"/><stop offset=".603" stop-color="#f8ba3d"/><stop offset=".677" stop-color="#e6bb2d"/><stop offset=".802" stop-color="#d2bf27"/><stop offset=".828" stop-color="#c6c22a"/><stop offset=".866" stop-color="#aec637"/><stop offset=".905" stop-color="#70cd65"/><stop offset=".935" stop-color="#45cb89"/><stop offset=".961" stop-color="#37c897"/><stop offset="1" stop-color="#2cc4a7"/></linearGradient>
<linearGradient id="g356" x2="0" y2="1"><stop offset="0" stop-color="#fdbd3d"/><stop offset=".466" stop-color="#fdbd3d"/><stop offset=".603" stop-color="#f8ba3d"/><stop offset=".625" stop-color="#f6ba3c"/><stop offset=".681" stop-color="#e6bb2d"/><stop offset=".802" stop-color="#d2bf27"/><stop offset=".828" stop-color="#c6c22a"/><stop offset=".866" stop-color="#aec637"/><stop offset=".905" stop-color="#70cd65"/><stop offset=".935" stop-color="#45cb89"/><stop offset=".961" stop-color="#37c897"/><stop offset="1" stop-color="#2cc4a7"/></linearGradient>
<linearGradient id="g357" x2="0" y2="1"><stop offset="0" stop-color="#fdbd3d"/><stop offset=".466" stop-color="#fdbd3d"/><stop offset=".603" stop-color="#f8ba3d"/><stop offset=".629" stop-color="#f6ba3b"/><stop offset=".685" stop-color="#e6bb2d"/><stop offset=".802" stop-color="#d2bf27"/><stop offset=".832" stop-color="#c4c22b"/><stop offset=".866" stop-color="#afc636"/><stop offset=".905" stop-color="#71cd64"/><stop offset=".935" stop-color="#46cb88"/><stop offset=".961" stop-color="#37c897"/><stop offset="1" stop-color="#2cc4a7"/></linearGradient>
<linearGradient id="g358" x2="0" y2="1"><stop offset="0" stop-color="#fdbd3d"/><stop offset=".466" stop-color="#fdbd3d"/><stop offset=".603" stop-color="#f8ba3d"/><stop offset=".629" stop-color="#f6ba3c"/><stop offset=".69" stop-color="#e6bb2d"/><stop offset=".802" stop-color="#d3bf27"/><stop offset=".832" stop-color="#c5c22a"/><stop offset=".866" stop-color="#b0c636"/><stop offset=".905" stop-color="#72cd63"/><stop offset=".935" stop-color="#46cb88"/><stop offset=".961" stop-color="#38c896"/><stop offset="1" stop-color="#2cc4a6"/></linearGradient>
<linearGradient id="g359" x2="0" y2="1"><stop offset="0" stop-color="#fdbd3d"/><stop offset=".466" stop-color="#fdbd3d"/><stop offset=".634" stop-color="#f6ba3b"/><stop offset=".698" stop-color="#e5bb2d"/><stop offset=".802" stop-color="#d3bf27"/><stop offset=".832" stop-color="#c5c22a"/><stop offset=".866" stop-color="#b1c636"/><stop offset=".905" stop-color="#73cd63"/><stop offset=".935" stop-color="#47cb87"/><stop offset=".966" stop-color="#36c898"/><stop offset="1" stop-color="#2cc4a6"/></linearGradient>
<linearGradient id="g360" x2="0" y2="1"><stop offset="0" stop-color="#fdbd3d"/><stop offset=".47" stop-color="#fdbd3d"/><stop offset=".638" stop-color="#f5ba3b"/><stop offset=".694" stop-color="#e7bb2d"/><stop offset=".75" stop-color="#dcbd29"/><stop offset=".802" stop-color="#d3bf27"/><stop offset=".836" stop-color="#c4c22b"/><stop offset=".871" stop-color="#acc739"/><stop offset=".905" stop-color="#73cd62"/><stop offset=".935" stop-color="#47cb87"/><stop offset=".966" stop-color="#37c898"/><stop offset="1" stop-color="#2dc4a6"/></linearGradient>
<linearGradient id="g361" x2="0" y2="1"><stop offset="0" stop-color="#fdbd3d"/><stop offset=".466" stop-color="#fdbd3d"/><stop offset=".638" stop-color="#f6ba3b"/><stop offset=".698" stop-color="#e7bb2d"/><stop offset=".75" stop-color="#ddbd29"/><stop offset=".802" stop-color="#d3bf27"/><stop offset=".841" stop-color="#c2c22c"/><stop offset=".871" stop-color="#acc738"/><stop offset=".905" stop-color="#74cc62"/><stop offset=".935" stop-color="#48cb86"/><stop offset=".966" stop-color="#37c897"/><stop offset="1" stop-color="#2dc4a6"/></linearGradient>
<linearGradient id="g362" x2="0" y2="1"><stop offset="0" stop-color="#fdbd3d"/><stop offset=".47" stop-color="#fdbd3d"/><stop offset=".642" stop-color="#f6ba3b"/><stop offset=".703" stop-color="#e6bb2d"/><stop offset=".754" stop-color="#dcbd29"/><stop offset=".802" stop-color="#d4bf28"/><stop offset=".841" stop-color="#c2c22c"/><stop offset=".871" stop-color="#adc638"/><stop offset=".905" stop-color="#75cc61"/><stop offset=".935" stop-color="#49cb86"/><stop offset=".966" stop-color="#37c897"/><stop offset="1" stop-color="#2dc4a6"/></linearGradient>
<linearGradient id="g363" x2="0" y2="1"><stop offset="0" stop-color="#fdbd3d"/><stop offset=".466" stop-color="#fdbd3d"/><stop offset=".642" stop-color="#f6ba3b"/><stop offset=".707" stop-color="#e6bb2d"/><stop offset=".759" stop-color="#dcbd29"/><stop offset=".802" stop-color="#d4bf28"/><stop offset=".845" stop-color="#c0c32d"/><stop offset=".871" stop-color="#aec637"/><stop offset=".905" stop-color="#76cc61"/><stop offset=".935" stop-color="#49cb85"/><stop offset=".966" stop-color="#38c896"/><stop offset="1" stop-color="#2dc4a5"/></linearGradient>
<linearGradient id="g364" x2="0" y2="1"><stop offset="0" stop-color="#fdbd3d"/><stop offset=".47" stop-color="#fdbd3d"/><stop offset=".647" stop-color="#f6ba3b"/><stop offset=".711" stop-color="#e6bb2d"/><stop offset=".759" stop-color="#dcbd29"/><stop offset=".802" stop-color="#d4bf28"/><stop offset=".849" stop-color="#bec32e"/><stop offset=".871" stop-color="#afc637"/><stop offset=".905" stop-color="#77cc60"/><stop offset=".935" stop-color="#4acb85"/><stop offset=".966" stop-color="#38c896"/><stop offset="1" stop-color="#2dc4a5"/></linearGradient>
<linearGradient id="g365" x2="0" y2="1"><stop offset="0" stop-color="#fdbd3d"/><stop offset=".47" stop-color="#fdbd3d"/><stop offset=".651" stop-color="#f5ba3b"/><stop offset=".716" stop-color="#e6bb2d"/><stop offset=".763" stop-color="#dcbd29"/><stop offset=".802" stop-color="#d5be28"/><stop offset=".849" stop-color="#bfc32d"/><stop offset=".871" stop-color="#afc636"/><stop offset=".905" stop-color="#77cc60"/><stop offset=".935" stop-color="#4acb84"/><stop offset=".966" stop-color="#39c895"/><stop offset="1" stop-color="#2dc4a5"/></linearGradient>
<linearGradient id="g366" x2="0" y2="1"><stop offset="0" stop-color="#fdbd3d"/><stop offset=".47" stop-color="#fdbd3d"/><stop offset=".651" stop-color="#f6ba3b"/><stop offset=".716" stop-color="#e7bb2e"/><stop offset=".767" stop-color="#dcbd29"/><stop offset=".802" stop-color="#d5be28"/><stop offset=".853" stop-color="#bdc32e"/><stop offset=".871" stop-color="#b0c636"/><stop offset=".905" stop-color="#78cc5f"/><stop offset=".935" stop-color="#4bcb84"/><stop offset=".97" stop-color="#37c897"/><stop offset="1" stop-color="#2dc4a5"/></linearGradient>
<linearGradient id="g367" x2="0" y2="1"><stop offset="0" stop-color="#fdbd3d"/><stop offset=".47" stop-color="#fdbd3d"/><stop offset=".655" stop-color="#f5ba3b"/><stop offset=".767" stop-color="#dcbd29"/><stop offset=".802" stop-color="#d5be28"/><stop offset=".858" stop-color="#bbc42f"/><stop offset=".866" stop-color="#b6c532"/><stop offset=".875" stop-color="#aac73a"/><stop offset=".909" stop-color="#72cd64"/><stop offset=".935" stop-color="#4ccb83"/><stop offset=".97" stop-color="#37c897"/><stop offset="1" stop-color="#2ec4a5"/></linearGradient>
<linearGradient id="g368" x2="0" y2="1"><stop offset="0" stop-color="#fdbd3d"/><stop offset=".47" stop-color="#fdbd3d"/><stop offset=".659" stop-color="#f5ba3a"/><stop offset=".772" stop-color="#dcbd29"/><stop offset=".802" stop-color="#d5be28"/><stop offset=".858" stop-color="#bcc42f"/><stop offset=".866" stop-color="#b7c532"/><stop offset=".875" stop-color="#abc739"/><stop offset=".909" stop-color="#72cd63"/><stop offset=".935" stop-color="#4ccb83"/><stop offset=".97" stop-color="#38c896"/><stop offset="1" stop-color="#2ec4a4"/></linearGradient>
<linearGradient id="g369" x2="0" y2="1"><stop offset="0" stop-color="#fdbd3d"/><stop offset=".47" stop-color="#fdbd3d"/><stop offset=".659" stop-color="#f5ba3b"/><stop offset=".776" stop-color="#dbbd29"/><stop offset=".815" stop-color="#d0bf27"/><stop offset=".862" stop-color="#bac430"/><stop offset=".871" stop-color="#b2c635"/><stop offset=".884" stop-color="#9ec942"/><stop offset=".935" stop-color="#4dcc82"/><stop offset=".957" stop-color="#3eca8f"/><stop offset="1" stop-color="#2ec4a4"/></linearGradient>
<linearGradient id="g370" x2="0" y2="1"><stop offset="0" stop-color="#fdbd3d"/><stop offset=".591" stop-color="#fabb3d"/><stop offset=".659" stop-color="#f6ba3b"/><stop offset=".737" stop-color="#e6bb2d"/><stop offset=".815" stop-color="#d1bf27"/><stop offset=".866" stop-color="#b8c431"/><stop offset=".905" stop-color="#7bcc5d"/><stop offset=".935" stop-color="#4ecc82"/><stop offset=".957" stop-color="#3fca8e"/><stop offset="1" stop-color="#2ec4a4"/></linearGradient>
<linearGradient id="g371" x2="0" y2="1"><stop offset="0" stop-color="#fdbd3d"/><stop offset=".595" stop-color="#fabb3d"/><stop offset=".664" stop-color="#f5ba3b"/><stop offset=".737" stop-color="#e7bb2d"/><stop offset=".815" stop-color="#d1bf27"/><stop offset=".866" stop-color="#b9c431"/><stop offset=".905" stop-color="#7ccc5c"/><stop offset=".935" stop-color="#4ecc81"/><stop offset=".957" stop-color="#3fca8e"/><stop offset="1" stop-color="#2ec5a4"/></linearGradient>
<linearGradient id="g372" x2="0" y2="1"><stop offset="0" stop-color="#fdbd3d"/><stop offset=".47" stop-color="#fdbd3d"/><stop offset=".634" stop-color="#f8ba3d"/><stop offset=".698" stop-color="#efba35"/><stop offset=".815" stop-color="#d1bf27"/><stop offset=".866" stop-color="#b9c430"/><stop offset=".884" stop-color="#a0c841"/><stop offset=".935" stop-color="#4fcc81"/><stop offset=".961" stop-color="#3dca90"/><stop offset="1" stop-color="#2ec5a4"/></linearGradient>
<linearGradient id="g373" x2="0" y2="1"><stop offset="0" stop-color="#fdbd3d"/><stop offset=".474" stop-color="#fdbd3d"/><stop offset=".634" stop-color="#f8ba3d"/><stop offset=".703" stop-color="#efba35"/><stop offset=".815" stop-color="#d1bf27"/><stop offset=".866" stop-color="#bac430"/><stop offset=".884" stop-color="#a1c840"/><stop offset=".935" stop-color="#4fcc80"/><stop offset=".961" stop-color="#3dca90"/><stop offset="1" stop-color="#2ec5a4"/></linearGradient>
<linearGradient id="g374" x2="0" y2="1"><stop offset="0" stop-color="#fdbd3d"/><stop offset=".483" stop-color="#fdbd3d"/><stop offset=".638" stop-color="#f8ba3d"/><stop offset=".703" stop-color="#efba35"/><stop offset=".815" stop-color="#d2bf27"/><stop offset=".866" stop-color="#bac430"/><stop offset=".884" stop-color="#a1c840"/><stop offset=".935" stop-color="#50cc80"/><stop offset=".961" stop-color="#3eca90"/><stop offset="1" stop-color="#2ec5a3"/></linearGradient>
<linearGradient id="g375" x2="0" y2="1"><stop offset="0" stop-color="#fdbd3d"/><stop offset=".487" stop-color="#fdbd3d"/><stop offset=".642" stop-color="#f8ba3d"/><stop offset=".703" stop-color="#efba35"/><stop offset=".815" stop-color="#d2bf27"/><stop offset=".866" stop-color="#bac430"/><stop offset=".884" stop-color="#a2c83f"/><stop offset=".935" stop-color="#51cc7f"/><stop offset=".961" stop-color="#3eca8f"/><stop offset="1" stop-color="#2fc5a3"/></linearGradient>
<linearGradient id="g376" x2="0" y2="1"><stop offset="0" stop-color="#fdbd3d"/><stop offset=".491" stop-color="#fdbd3d"/><stop offset=".642" stop-color="#f8ba3d"/><stop offset=".707" stop-color="#efba35"/><stop offset=".815" stop-color="#d2bf27"/><stop offset=".866" stop-color="#bac430"/><stop offset=".888" stop-color="#9cc944"/><stop offset=".935" stop-color="#51cc7f"/><stop offset=".961" stop-color="#3eca8f"/><stop offset="1" stop-color="#2fc5a3"/></linearGradient>
<linearGradient id="g377" x2="0" y2="1"><stop offset="0" stop-color="#fdbd3d"/><stop offset=".496" stop-color="#fdbd3d"/><stop offset=".647" stop-color="#f8ba3d"/><stop offset=".707" stop-color="#efba35"/><stop offset=".815" stop-color="#d3bf27"/><stop offset=".866" stop-color="#bbc430"/><stop offset=".888" stop-color="#9dc943"/><stop offset=".935" stop-color="#52cc7e"/><stop offset=".961" stop-color="#3eca8f"/><stop offset="1" stop-color="#2fc5a3"/></linearGradient>
<linearGradient id="g378" x2="0" y2="1"><stop offset="0" stop-color="#fdbd3d"/><stop offset=".504" stop-color="#fdbd3d"/><stop offset=".647" stop-color="#f8ba3d"/><stop offset=".707" stop-color="#efba35"/><stop offset=".75" stop-color="#e6bb2d"/><stop offset=".819" stop-color="#d1bf27"/><stop offset=".866" stop-color="#bbc42f"/><stop offset=".888" stop-color="#9dc943"/><stop offset=".935" stop-color="#53cc7e"/><stop offset=".961" stop-color="#3eca8f"/><stop offset="1" stop-color="#2fc5a3"/></linearGradient>
<linearGradient id="g379" x2="0" y2="1"><stop offset="0" stop-color="#fdbd3d"/><stop offset=".509" stop-color="#fdbd3d"/><stop offset=".651" stop-color="#f8ba3d"/><stop offset=".711" stop-color="#efba35"/><stop offset=".819" stop-color="#d1bf27"/><stop offset=".866" stop-color="#bbc42f"/><stop offset=".888" stop-color="#9ec942"/><stop offset=".935" stop-color="#53cc7d"/><stop offset=".961" stop-color="#3eca8f"/><stop offset="1" stop-color="#2fc5a3"/></linearGradient>
<linearGradient id="g380" x2="0" y2="1"><stop offset="0" stop-color="#fdbd3d"/><stop offset=".513" stop-color="#fdbd3d"/><stop offset=".655" stop-color="#f8ba3d"/><stop offset=".711" stop-color="#efba35"/><stop offset=".819" stop-color="#d2bf27"/><stop offset=".866" stop-color="#bcc42f"/><stop offset=".888" stop-color="#9fc942"/><stop offset=".935" stop-color="#54cc7d"/><stop offset=".961" stop-color="#3eca8f"/><stop offset="1" stop-color="#2fc5a3"/></linearGradient>
<linearGradient id="g381" x2="0" y2="1"><stop offset="0" stop-color="#fdbd3d"/><stop offset=".517" stop-color="#fdbd3d"/><stop offset=".655" stop-color="#f8ba3d"/><stop offset=".711" stop-color="#f0ba36"/><stop offset=".754" stop-color="#e5bb2d"/><stop offset=".819" stop-color="#d2bf27"/><stop offset=".866" stop-color="#bcc42f"/><stop offset=".892" stop-color="#99c946"/><stop offset=".935" stop-color="#55cc7c"/><stop offset=".961" stop-color="#3eca8f"/><stop offset="1" stop-color="#2fc5a3"/></linearGradient>
<linearGradient id="g382" x2="0" y2="1"><stop offset="0" stop-color="#fdbd3d"/><stop offset=".526" stop-color="#fdbd3d"/><stop offset=".659" stop-color="#f8ba3d"/><stop offset=".716" stop-color="#efba35"/><stop offset=".819" stop-color="#d2bf27"/><stop offset=".866" stop-color="#bcc42f"/><stop offset=".892" stop-color="#99c946"/><stop offset=".935" stop-color="#55cc7b"/><stop offset=".961" stop-color="#3eca8f"/><stop offset="1" stop-color="#2fc5a3"/></linearGradient>
<linearGradient id="g383" x2="0" y2="1"><stop offset="0" stop-color="#fdbd3d"/><stop offset=".53" stop-color="#fdbd3d"/><stop offset=".664" stop-color="#f8ba3d"/><stop offset=".716" stop-color="#efba35"/><stop offset=".819" stop-color="#d2bf27"/><stop offset=".866" stop-color="#bdc32f"/><stop offset=".892" stop-color="#99c946"/><stop offset=".935" stop-color="#56cc7b"/><stop offset=".961" stop-color="#3fca8e"/><stop offset="1" stop-color="#2fc5a3"/></linearGradient>
<linearGradient id="g384" x2="0" y2="1"><stop offset="0" stop-color="#fdbd3d"/><stop offset=".534" stop-color="#fdbd3d"/><stop offset=".664" stop-color="#f8ba3d"/><stop offset=".72" stop-color="#efba35"/><stop offset=".819" stop-color="#d3bf27"/><stop offset=".866" stop-color="#bdc32e"/><stop offset=".892" stop-color="#9ac945"/><stop offset=".935" stop-color="#56cc7a"/><stop offset=".961" stop-color="#3fca8e"/><stop offset="1" stop-color="#2fc5a3"/></linearGradient>
<linearGradient id="g385" x2="0" y2="1"><stop offset="0" stop-color="#fdbd3d"/><stop offset=".539" stop-color="#fdbd3d"/><stop offset=".668" stop-color="#f8ba3d"/><stop offset=".72" stop-color="#efba35"/><stop offset=".823" stop-color="#d1bf27"/><stop offset=".866" stop-color="#bdc32e"/><stop offset=".892" stop-color="#9ac945"/><stop offset=".935" stop-color="#57cc7a"/><stop offset=".966" stop-color="#3dc990"/><stop offset="1" stop-color="#2fc5a3"/></linearGradient>
<linearGradient id="g386" x2="0" y2="1"><stop offset="0" stop-color="#fdbd3d"/><stop offset=".547" stop-color="#fdbd3d"/><stop offset=".668" stop-color="#f8ba3d"/><stop offset=".72" stop-color="#efba35"/><stop offset=".759" stop-color="#e6bb2d"/><stop offset=".823" stop-color="#d2bf27"/><stop offset=".866" stop-color="#bec32e"/><stop offset=".892" stop-color="#9bc945"/><stop offset=".935" stop-color="#58cc79"/><stop offset=".966" stop-color="#3dca90"/><stop offset="1" stop-color="#2fc5a3"/></linearGradient>
<linearGradient id="g387" x2="0" y2="1"><stop offset="0" stop-color="#fdbd3d"/><stop offset=".552" stop-color="#fdbd3d"/><stop offset=".668" stop-color="#f8ba3d"/><stop offset=".724" stop-color="#efba35"/><stop offset=".823" stop-color="#d2bf27"/><stop offset=".866" stop-color="#bec32e"/><stop offset=".892" stop-color="#9bc945"/><stop offset=".935" stop-color="#58cc79"/><stop offset=".966" stop-color="#3eca8f"/><stop offset="1" stop-color="#2fc5a2"/></linearGradient>
<linearGradient id="g388" x2="0" y2="1"><stop offset="0" stop-color="#fdbd3d"/><stop offset=".556" stop-color="#fdbd3d"/><stop offset=".672" stop-color="#f8ba3d"/><stop offset=".724" stop-color="#efba35"/><stop offset=".823" stop-color="#d2bf27"/><stop offset=".866" stop-color="#bec32e"/><stop offset=".892" stop-color="#9bc944"/><stop offset=".935" stop-color="#59cc78"/><stop offset=".966" stop-color="#3eca8f"/><stop offset="1" stop-color="#2fc5a2"/></linearGradient>
<linearGradient id="g389" x2="0" y2="1"><stop offset="0" stop-color="#fdbd3d"/><stop offset=".56" stop-color="#fdbd3d"/><stop offset=".672" stop-color="#f8ba3d"/><stop offset=".724" stop-color="#f0ba36"/><stop offset=".823" stop-color="#d2bf27"/><stop offset=".866" stop-color="#bfc32d"/><stop offset=".892" stop-color="#9cc944"/><stop offset=".935" stop-color="#5acc78"/><stop offset=".966" stop-color="#3fca8e"/><stop offset="1" stop-color="#2fc5a2"/></linearGradient>
<linearGradient id="g390" x2="0" y2="1"><stop offset="0" stop-color="#fdbd3d"/><stop offset=".569" stop-color="#fdbd3d"/><stop offset=".672" stop-color="#f8ba3d"/><stop offset=".728" stop-color="#efba35"/><stop offset=".823" stop-color="#d3bf27"/><stop offset=".866" stop-color="#bfc32d"/><stop offset=".892" stop-color="#9cc944"/><stop offset=".935" stop-color="#5acc77"/><stop offset=".966" stop-color="#3fca8e"/><stop offset="1" stop-color="#2fc5a2"/></linearGradient>
<linearGradient id="g391" x2="0" y2="1"><stop offset="0" stop-color="#fdbd3d"/><stop offset=".573" stop-color="#fdbd3d"/><stop offset=".677" stop-color="#f8ba3d"/><stop offset=".728" stop-color="#efba35"/><stop offset=".802" stop-color="#dcbd29"/><stop offset=".828" stop-color="#d1bf27"/><stop offset=".866" stop-color="#bfc32d"/><stop offset=".892" stop-color="#9cc943"/><stop offset=".935" stop-color="#5bcc76"/><stop offset=".966" stop-color="#40ca8d"/><stop offset="1" stop-color="#2fc5a2"/></linearGradient>
<linearGradient id="g392" x2="0" y2="1"><stop offset="0" stop-color="#fdbd3d"/><stop offset=".578" stop-color="#fdbd3d"/><stop offset=".677" stop-color="#f8ba3d"/><stop offset=".728" stop-color="#f0ba36"/><stop offset=".802" stop-color="#dcbd29"/><stop offset=".828" stop-color="#d1bf27"/><stop offset=".866" stop-color="#c0c32d"/><stop offset=".892" stop-color="#9dc943"/><stop offset=".935" stop-color="#5ccc76"/><stop offset=".966" stop-color="#40ca8d"/><stop offset="1" stop-color="#2fc5a2"/></linearGradient>
<linearGradient id="g393" x2="0" y2="1"><stop offset="0" stop-color="#fdbd3d"/><stop offset=".582" stop-color="#fdbd3d"/><stop offset=".677" stop-color="#f8ba3d"/><stop offset=".733" stop-color="#efba35"/><stop offset=".806" stop-color="#dbbd28"/><stop offset=".866" stop-color="#c0c32d"/><stop offset=".892" stop-color="#9dc943"/><stop offset=".935" stop-color="#5ccc75"/><stop offset=".97" stop-color="#3eca90"/><stop offset="1" stop-color="#30c5a2"/></linearGradient>
<linearGradient id="g394" x2="0" y2="1"><stop offset="0" stop-color="#fdbd3d"/><stop offset=".591" stop-color="#fdbd3d"/><stop offset=".681" stop-color="#f8ba3d"/><stop offset=".733" stop-color="#efba35"/><stop offset=".806" stop-color="#dbbd29"/><stop offset=".866" stop-color="#c0c32d"/><stop offset=".892" stop-color="#9dc943"/><stop offset=".935" stop-color="#5dcc75"/><stop offset=".97" stop-color="#3eca8f"/><stop offset="1" stop-color="#30c5a2"/></linearGradient>
<linearGradient id="g395" x2="0" y2="1"><stop offset="0" stop-color="#fdbd3d"/><stop offset=".595" stop-color="#fdbd3d"/><stop offset=".681" stop-color="#f8ba3d"/><stop offset=".733" stop-color="#f0ba36"/><stop offset=".806" stop-color="#dbbd29"/><stop offset=".866" stop-color="#c1c32c"/><stop offset=".892" stop-color="#9ec942"/><stop offset=".935" stop-color="#5ecc74"/><stop offset=".97" stop-color="#3eca8f"/><stop offset="1" stop-color="#30c5a2"/></linearGradient>
<linearGradient id="g396" x2="0" y2="1"><stop offset="0" stop-color="#fdbd3d"/><stop offset=".599" stop-color="#fdbd3d"/><stop offset=".681" stop-color="#f8ba3d"/><stop offset=".733" stop-color="#f0ba36"/><stop offset=".806" stop-color="#dcbd29"/><stop offset=".866" stop-color="#c1c32c"/><stop offset=".892" stop-color="#9ec942"/><stop offset=".935" stop-color="#5ecd74"/><stop offset=".97" stop-color="#3fca8e"/><stop offset="1" stop-color="#30c5a2"/></linearGradient>
<linearGradient id="g397" x2="0" y2="1"><stop offset="0" stop-color="#fdbd3d"/><stop offset=".599" stop-color="#fdbd3d"/><stop offset=".681" stop-color="#f8ba3d"/><stop offset=".733" stop-color="#f0ba36"/><stop offset=".806" stop-color="#dcbd29"/><stop offset=".866" stop-color="#c1c32c"/><stop offset=".892" stop-color="#9ec942"/><stop offset=".935" stop-color="#5fcd73"/><stop offset=".97" stop-color="#3fca8e"/><stop offset="1" stop-color="#30c5a2"/></linearGradient>
<linearGradient id="g398" x2="0" y2="1"><stop offset="0.0000" stop-color="#f9fb15"/><stop offset="0.0159" stop-color="#f7f51b"/><stop offset="0.0317" stop-color="#f6ef20"/><stop offset="0.0476" stop-color="#f5e924"/><stop offset="0.0635" stop-color="#f5e327"/><stop offset="0.0794" stop-color="#f7dc2a"/><stop offset="0.0952" stop-color="#fad62d"/><stop offset="0.1111" stop-color="#fccf30"/><stop offset="0.1270" stop-color="#fec934"/><stop offset="0.1429" stop-color="#fec338"/><stop offset="0.1587" stop-color="#febe3c"/><stop offset="0.1746" stop-color="#f8ba3d"/><stop offset="0.1905" stop-color="#f0ba36"/><stop offset="0.2063" stop-color="#e6bb2d"/><stop offset="0.2222" stop-color="#dcbd29"/><stop offset="0.2381" stop-color="#d1bf27"/><stop offset="0.2540" stop-color="#c5c22a"/><stop offset="0.2698" stop-color="#b9c431"/><stop offset="0.2857" stop-color="#abc739"/><stop offset="0.3016" stop-color="#9dc943"/><stop offset="0.3175" stop-color="#8fcb4e"/><stop offset="0.3333" stop-color="#81cc59"/><stop offset="0.3492" stop-color="#72cd64"/><stop offset="0.3651" stop-color="#64cd6f"/><stop offset="0.3810" stop-color="#57cc7a"/><stop offset="0.3968" stop-color="#4acb84"/><stop offset="0.4127" stop-color="#3fca8e"/><stop offset="0.4286" stop-color="#37c897"/><stop offset="0.4444" stop-color="#31c69f"/><stop offset="0.4603" stop-color="#2cc4a7"/><stop offset="0.4762" stop-color="#24c1ae"/><stop offset="0.4921" stop-color="#19bfb6"/><stop offset="0.5079" stop-color="#0bbdbd"/><stop offset="0.5238" stop-color="#02bac3"/><stop offset="0.5397" stop-color="#01b8ca"/><stop offset="0.5556" stop-color="#08b5d0"/><stop offset="0.5714" stop-color="#12b1d6"/><stop offset="0.5873" stop-color="#18addb"/><stop offset="0.6032" stop-color="#1ca9df"/><stop offset="0.6190" stop-color="#20a5e3"/><stop offset="0.6349" stop-color="#23a0e5"/><stop offset="0.6508" stop-color="#259be8"/><stop offset="0.6667" stop-color="#2797eb"/><stop offset="0.6825" stop-color="#2b91ef"/><stop offset="0.6984" stop-color="#2d8cf3"/><stop offset="0.7143" stop-color="#2e87f7"/><stop offset="0.7302" stop-color="#2f81fa"/><stop offset="0.7460" stop-color="#327cfc"/><stop offset="0.7619" stop-color="#3875fe"/><stop offset="0.7778" stop-color="#3e6fff"/><stop offset="0.7937" stop-color="#4269fe"/><stop offset="0.8095" stop-color="#4563fd"/><stop offset="0.8254" stop-color="#465efb"/><stop offset="0.8413" stop-color="#4758f8"/><stop offset="0.8571" stop-color="#4852f4"/><stop offset="0.8730" stop-color="#484df0"/><stop offset="0.8889" stop-color="#4747eb"/><stop offset="0.9048" stop-color="#4741e5"/><stop offset="0.9206" stop-color="#463cde"/><stop offset="0.9365" stop-color="#4537d5"/><stop offset="0.9524" stop-color="#4332cb"/><stop offset="0.9683" stop-color="#422ec0"/><stop offset="0.9841" stop-color="#402ab4"/><stop offset="1.0000" stop-color="#3e26a8"/></linearGradient></defs>
<line x1="146.79" y1="45.80" x2="146.79" y2="390.90" stroke="#262626" stroke-width="1.6" stroke-opacity=".16"/>
<line x1="244.76" y1="45.80" x2="244.76" y2="390.90" stroke="#262626" stroke-width="1.6" stroke-opacity=".16"/>
<line x1="342.73" y1="45.80" x2="342.73" y2="390.90" stroke="#262626" stroke-width="1.6" stroke-opacity=".16"/>
<line x1="440.71" y1="45.80" x2="440.71" y2="390.90" stroke="#262626" stroke-width="1.6" stroke-opacity=".16"/>
<line x1="538.68" y1="45.80" x2="538.68" y2="390.90" stroke="#262626" stroke-width="1.6" stroke-opacity=".16"/>
<line x1="636.65" y1="45.80" x2="636.65" y2="390.90" stroke="#262626" stroke-width="1.6" stroke-opacity=".16"/>
<line x1="734.63" y1="45.80" x2="734.63" y2="390.90" stroke="#262626" stroke-width="1.6" stroke-opacity=".16"/>
<line x1="832.60" y1="45.80" x2="832.60" y2="390.90" stroke="#262626" stroke-width="1.6" stroke-opacity=".16"/>
<line x1="97.80" y1="390.90" x2="832.60" y2="390.90" stroke="#262626" stroke-width="1.6" stroke-opacity=".16"/>
<line x1="97.80" y1="323.40" x2="832.60" y2="323.40" stroke="#262626" stroke-width="1.6" stroke-opacity=".16"/>
<line x1="97.80" y1="253.90" x2="832.60" y2="253.90" stroke="#262626" stroke-width="1.6" stroke-opacity=".16"/>
<line x1="97.80" y1="184.40" x2="832.60" y2="184.40" stroke="#262626" stroke-width="1.6" stroke-opacity=".16"/>
<line x1="97.80" y1="114.90" x2="832.60" y2="114.90" stroke="#262626" stroke-width="1.6" stroke-opacity=".16"/>
<line x1="97.80" y1="45.80" x2="832.60" y2="45.80" stroke="#262626" stroke-width="1.6" stroke-opacity=".16"/>
<line x1="97.80" y1="44.95" x2="97.80" y2="391.75" stroke="#222" stroke-width="1.7"/>
<line x1="97.80" y1="390.90" x2="833.45" y2="390.90" stroke="#222" stroke-width="1.7"/>
<line x1="832.60" y1="390.90" x2="832.60" y2="383.90" stroke="#222" stroke-width="1.7"/>
<line x1="97.80" y1="390.90" x2="104.80" y2="390.90" stroke="#222" stroke-width="1.7"/>
<line x1="97.80" y1="323.40" x2="104.80" y2="323.40" stroke="#222" stroke-width="1.7"/>
<line x1="97.80" y1="253.90" x2="104.80" y2="253.90" stroke="#222" stroke-width="1.7"/>
<line x1="97.80" y1="184.40" x2="104.80" y2="184.40" stroke="#222" stroke-width="1.7"/>
<line x1="97.80" y1="114.90" x2="104.80" y2="114.90" stroke="#222" stroke-width="1.7"/>
<line x1="97.80" y1="45.80" x2="104.80" y2="45.80" stroke="#222" stroke-width="1.7"/>
<rect x="131.20" y="45.00" width="657.50" height="2.50" fill="url(#g1)"/>
<rect x="131.20" y="47.00" width="657.50" height="2.50" fill="url(#g2)"/>
<rect x="131.20" y="49.00" width="657.50" height="2.50" fill="url(#g3)"/>
<rect x="131.20" y="51.00" width="657.50" height="2.50" fill="url(#g4)"/>
<rect x="131.20" y="53.00" width="657.50" height="2.50" fill="url(#g5)"/>
<rect x="131.20" y="55.00" width="657.50" height="2.50" fill="url(#g6)"/>
<rect x="131.20" y="57.00" width="657.50" height="2.50" fill="url(#g7)"/>
<rect x="131.20" y="59.00" width="657.50" height="2.50" fill="url(#g8)"/>
<rect x="131.20" y="61.00" width="657.50" height="2.50" fill="url(#g9)"/>
<rect x="131.20" y="63.00" width="657.50" height="2.50" fill="url(#g10)"/>
<rect x="131.20" y="65.00" width="657.50" height="2.50" fill="url(#g11)"/>
<rect x="131.20" y="67.00" width="657.50" height="2.50" fill="url(#g12)"/>
<rect x="131.20" y="69.00" width="657.50" height="2.50" fill="url(#g13)"/>
<rect x="131.20" y="71.00" width="657.50" height="2.50" fill="url(#g14)"/>
<rect x="131.20" y="73.00" width="657.50" height="2.50" fill="url(#g15)"/>
<rect x="131.20" y="75.00" width="657.50" height="2.50" fill="url(#g16)"/>
<rect x="131.20" y="77.00" width="657.50" height="2.50" fill="url(#g17)"/>
<rect x="131.20" y="79.00" width="657.50" height="2.50" fill="url(#g18)"/>
<rect x="131.20" y="81.00" width="657.50" height="2.50" fill="url(#g19)"/>
<rect x="131.20" y="83.00" width="657.50" height="2.50" fill="url(#g20)"/>
<rect x="131.20" y="85.00" width="657.50" height="2.50" fill="url(#g21)"/>
<rect x="131.20" y="87.00" width="657.50" height="2.50" fill="url(#g22)"/>
<rect x="131.20" y="89.00" width="657.50" height="2.50" fill="url(#g23)"/>
<rect x="131.20" y="91.00" width="657.50" height="2.50" fill="url(#g24)"/>
<rect x="131.20" y="93.00" width="657.50" height="2.50" fill="url(#g25)"/>
<rect x="131.20" y="95.00" width="657.50" height="2.50" fill="url(#g26)"/>
<rect x="131.20" y="97.00" width="657.50" height="2.50" fill="url(#g27)"/>
<rect x="131.20" y="99.00" width="657.50" height="2.50" fill="url(#g28)"/>
<rect x="131.20" y="101.00" width="657.50" height="2.50" fill="url(#g29)"/>
<rect x="131.20" y="103.00" width="657.50" height="2.50" fill="url(#g30)"/>
<rect x="131.20" y="105.00" width="657.50" height="2.50" fill="url(#g31)"/>
<rect x="131.20" y="107.00" width="657.50" height="2.50" fill="url(#g32)"/>
<rect x="131.20" y="109.00" width="657.50" height="2.50" fill="url(#g33)"/>
<rect x="131.20" y="111.00" width="657.50" height="2.50" fill="url(#g34)"/>
<rect x="131.20" y="113.00" width="657.50" height="2.50" fill="url(#g35)"/>
<rect x="131.20" y="115.00" width="657.50" height="2.50" fill="url(#g36)"/>
<rect x="131.20" y="117.00" width="657.50" height="2.50" fill="url(#g37)"/>
<rect x="131.20" y="119.00" width="657.50" height="2.50" fill="url(#g38)"/>
<rect x="131.20" y="121.00" width="657.50" height="2.50" fill="url(#g39)"/>
<rect x="131.20" y="123.00" width="657.50" height="2.50" fill="url(#g40)"/>
<rect x="131.20" y="125.00" width="657.50" height="2.50" fill="url(#g41)"/>
<rect x="131.20" y="127.00" width="657.50" height="2.50" fill="url(#g42)"/>
<rect x="131.20" y="129.00" width="657.50" height="2.50" fill="url(#g43)"/>
<rect x="131.20" y="131.00" width="657.50" height="2.50" fill="url(#g44)"/>
<rect x="131.20" y="133.00" width="657.50" height="2.50" fill="url(#g45)"/>
<rect x="131.20" y="135.00" width="657.50" height="2.50" fill="url(#g46)"/>
<rect x="131.20" y="137.00" width="657.50" height="2.50" fill="url(#g47)"/>
<rect x="131.20" y="139.00" width="657.50" height="2.50" fill="url(#g48)"/>
<rect x="131.20" y="141.00" width="657.50" height="2.50" fill="url(#g49)"/>
<rect x="131.20" y="143.00" width="657.50" height="2.50" fill="url(#g50)"/>
<rect x="131.20" y="145.00" width="657.50" height="2.50" fill="url(#g51)"/>
<rect x="131.20" y="147.00" width="657.50" height="2.50" fill="url(#g52)"/>
<rect x="131.20" y="149.00" width="657.50" height="2.50" fill="url(#g53)"/>
<rect x="131.20" y="151.00" width="657.50" height="2.50" fill="url(#g54)"/>
<rect x="131.20" y="153.00" width="657.50" height="2.50" fill="url(#g55)"/>
<rect x="131.20" y="155.00" width="657.50" height="2.50" fill="url(#g56)"/>
<rect x="131.20" y="157.00" width="657.50" height="2.50" fill="url(#g57)"/>
<rect x="131.20" y="159.00" width="657.50" height="2.50" fill="url(#g58)"/>
<rect x="131.20" y="161.00" width="657.50" height="2.50" fill="url(#g59)"/>
<rect x="131.20" y="163.00" width="657.50" height="2.50" fill="url(#g60)"/>
<rect x="131.20" y="165.00" width="657.50" height="2.50" fill="url(#g61)"/>
<rect x="131.20" y="167.00" width="657.50" height="2.50" fill="url(#g62)"/>
<rect x="131.20" y="169.00" width="657.50" height="2.50" fill="url(#g63)"/>
<rect x="131.20" y="171.00" width="657.50" height="2.50" fill="url(#g64)"/>
<rect x="131.20" y="173.00" width="657.50" height="2.50" fill="url(#g65)"/>
<rect x="131.20" y="175.00" width="657.50" height="2.50" fill="url(#g66)"/>
<rect x="131.20" y="177.00" width="657.50" height="2.50" fill="url(#g67)"/>
<rect x="131.20" y="179.00" width="657.50" height="2.50" fill="url(#g68)"/>
<rect x="131.20" y="181.00" width="657.50" height="2.50" fill="url(#g69)"/>
<rect x="131.20" y="183.00" width="657.50" height="2.50" fill="url(#g70)"/>
<rect x="131.20" y="185.00" width="657.50" height="2.50" fill="url(#g71)"/>
<rect x="131.20" y="187.00" width="657.50" height="2.50" fill="url(#g72)"/>
<rect x="131.20" y="189.00" width="657.50" height="2.50" fill="url(#g73)"/>
<rect x="131.20" y="191.00" width="657.50" height="2.50" fill="url(#g74)"/>
<rect x="131.20" y="193.00" width="657.50" height="2.50" fill="url(#g75)"/>
<rect x="131.20" y="195.00" width="657.50" height="2.50" fill="url(#g76)"/>
<rect x="131.20" y="197.00" width="657.50" height="2.50" fill="url(#g77)"/>
<rect x="131.20" y="199.00" width="657.50" height="2.50" fill="url(#g78)"/>
<rect x="131.20" y="201.00" width="657.50" height="2.50" fill="url(#g79)"/>
<rect x="131.20" y="203.00" width="657.50" height="2.50" fill="url(#g80)"/>
<rect x="131.20" y="205.00" width="657.50" height="2.50" fill="url(#g81)"/>
<rect x="131.20" y="207.00" width="657.50" height="2.50" fill="url(#g82)"/>
<rect x="131.20" y="209.00" width="657.50" height="2.50" fill="url(#g83)"/>
<rect x="131.20" y="211.00" width="657.50" height="2.50" fill="url(#g84)"/>
<rect x="131.20" y="213.00" width="657.50" height="2.50" fill="url(#g85)"/>
<rect x="131.20" y="215.00" width="657.50" height="2.50" fill="url(#g86)"/>
<rect x="131.20" y="217.00" width="657.50" height="2.50" fill="url(#g87)"/>
<rect x="131.20" y="219.00" width="657.50" height="2.50" fill="url(#g88)"/>
<rect x="131.20" y="221.00" width="657.50" height="2.50" fill="url(#g89)"/>
<rect x="131.20" y="223.00" width="657.50" height="2.50" fill="url(#g90)"/>
<rect x="131.20" y="225.00" width="657.50" height="2.50" fill="url(#g91)"/>
<rect x="131.20" y="227.00" width="657.50" height="2.50" fill="url(#g92)"/>
<rect x="131.20" y="229.00" width="657.50" height="2.50" fill="url(#g93)"/>
<rect x="131.20" y="231.00" width="657.50" height="2.50" fill="url(#g94)"/>
<rect x="131.20" y="233.00" width="657.50" height="2.50" fill="url(#g95)"/>
<rect x="131.20" y="235.00" width="657.50" height="2.50" fill="url(#g96)"/>
<rect x="131.20" y="237.00" width="657.50" height="2.50" fill="url(#g97)"/>
<rect x="131.20" y="239.00" width="657.50" height="2.50" fill="url(#g98)"/>
<rect x="131.20" y="241.00" width="657.50" height="2.50" fill="url(#g99)"/>
<rect x="131.20" y="243.00" width="657.50" height="2.50" fill="url(#g100)"/>
<rect x="131.20" y="245.00" width="657.50" height="2.50" fill="url(#g101)"/>
<rect x="131.20" y="247.00" width="657.50" height="2.50" fill="url(#g102)"/>
<rect x="131.20" y="249.00" width="657.50" height="2.50" fill="url(#g103)"/>
<rect x="131.20" y="251.00" width="657.50" height="2.50" fill="url(#g104)"/>
<rect x="131.20" y="253.00" width="657.50" height="2.50" fill="url(#g105)"/>
<rect x="131.20" y="255.00" width="657.50" height="2.50" fill="url(#g106)"/>
<rect x="131.20" y="257.00" width="657.50" height="2.50" fill="url(#g107)"/>
<rect x="131.20" y="259.00" width="657.50" height="2.50" fill="url(#g108)"/>
<rect x="131.20" y="261.00" width="657.50" height="2.50" fill="url(#g109)"/>
<rect x="131.20" y="263.00" width="657.50" height="2.50" fill="url(#g110)"/>
<rect x="131.20" y="265.00" width="657.50" height="2.50" fill="url(#g111)"/>
<rect x="131.20" y="267.00" width="657.50" height="2.50" fill="url(#g112)"/>
<rect x="131.20" y="269.00" width="657.50" height="2.50" fill="url(#g113)"/>
<rect x="131.20" y="271.00" width="657.50" height="2.50" fill="url(#g114)"/>
<rect x="131.20" y="273.00" width="657.50" height="2.50" fill="url(#g115)"/>
<rect x="131.20" y="275.00" width="657.50" height="2.50" fill="url(#g116)"/>
<rect x="131.20" y="277.00" width="657.50" height="2.50" fill="url(#g117)"/>
<rect x="131.20" y="279.00" width="657.50" height="2.50" fill="url(#g118)"/>
<rect x="131.20" y="281.00" width="657.50" height="2.50" fill="url(#g119)"/>
<rect x="131.20" y="283.00" width="657.50" height="2.50" fill="url(#g120)"/>
<rect x="131.20" y="285.00" width="657.50" height="2.50" fill="url(#g121)"/>
<rect x="131.20" y="287.00" width="657.50" height="2.50" fill="url(#g122)"/>
<rect x="131.20" y="289.00" width="657.50" height="2.50" fill="url(#g123)"/>
<rect x="131.20" y="291.00" width="657.50" height="2.50" fill="url(#g124)"/>
<rect x="131.20" y="293.00" width="657.50" height="2.50" fill="url(#g125)"/>
<rect x="131.20" y="295.00" width="657.50" height="2.50" fill="url(#g126)"/>
<rect x="131.20" y="297.00" width="657.50" height="2.50" fill="url(#g127)"/>
<rect x="131.20" y="299.00" width="657.50" height="2.50" fill="url(#g128)"/>
<rect x="131.20" y="301.00" width="657.50" height="2.50" fill="url(#g129)"/>
<rect x="131.20" y="303.00" width="657.50" height="2.50" fill="url(#g130)"/>
<rect x="131.20" y="305.00" width="657.50" height="2.50" fill="url(#g131)"/>
<rect x="131.20" y="307.00" width="657.50" height="2.50" fill="url(#g132)"/>
<rect x="131.20" y="309.00" width="657.50" height="2.50" fill="url(#g133)"/>
<rect x="131.20" y="311.00" width="657.50" height="2.50" fill="url(#g134)"/>
<rect x="131.20" y="313.00" width="657.50" height="2.50" fill="url(#g135)"/>
<rect x="131.20" y="315.00" width="657.50" height="2.50" fill="url(#g136)"/>
<rect x="131.20" y="317.00" width="657.50" height="2.50" fill="url(#g137)"/>
<rect x="131.20" y="319.00" width="657.50" height="2.50" fill="url(#g138)"/>
<rect x="131.20" y="321.00" width="657.50" height="2.50" fill="url(#g139)"/>
<rect x="131.20" y="323.00" width="657.50" height="2.50" fill="url(#g140)"/>
<rect x="131.20" y="325.00" width="657.50" height="2.50" fill="url(#g141)"/>
<rect x="131.20" y="327.00" width="657.50" height="2.50" fill="url(#g142)"/>
<rect x="131.20" y="329.00" width="657.50" height="2.50" fill="url(#g143)"/>
<rect x="131.20" y="331.00" width="657.50" height="2.50" fill="url(#g144)"/>
<rect x="131.20" y="333.00" width="657.50" height="2.50" fill="url(#g145)"/>
<rect x="131.20" y="335.00" width="657.50" height="2.50" fill="url(#g146)"/>
<rect x="131.20" y="337.00" width="657.50" height="2.50" fill="url(#g147)"/>
<rect x="131.20" y="339.00" width="657.50" height="2.50" fill="url(#g148)"/>
<rect x="131.20" y="341.00" width="657.50" height="2.50" fill="url(#g149)"/>
<rect x="131.20" y="343.00" width="657.50" height="2.50" fill="url(#g150)"/>
<rect x="131.20" y="345.00" width="657.50" height="2.50" fill="url(#g151)"/>
<rect x="131.20" y="347.00" width="657.50" height="2.50" fill="url(#g152)"/>
<rect x="131.20" y="349.00" width="657.50" height="2.50" fill="url(#g153)"/>
<rect x="131.20" y="351.00" width="657.50" height="2.50" fill="url(#g154)"/>
<rect x="131.20" y="353.00" width="657.50" height="2.50" fill="url(#g155)"/>
<rect x="131.20" y="355.00" width="657.50" height="2.50" fill="url(#g156)"/>
<rect x="131.20" y="357.00" width="657.50" height="2.50" fill="url(#g157)"/>
<rect x="131.20" y="359.00" width="657.50" height="2.50" fill="url(#g158)"/>
<rect x="131.20" y="361.00" width="657.50" height="2.50" fill="url(#g159)"/>
<rect x="131.20" y="363.00" width="657.50" height="2.50" fill="url(#g160)"/>
<rect x="131.20" y="365.00" width="657.50" height="2.50" fill="url(#g161)"/>
<rect x="131.20" y="367.00" width="657.50" height="2.50" fill="url(#g162)"/>
<rect x="131.20" y="369.00" width="657.50" height="2.50" fill="url(#g163)"/>
<rect x="131.20" y="371.00" width="657.50" height="2.50" fill="url(#g164)"/>
<rect x="131.20" y="373.00" width="657.50" height="2.50" fill="url(#g165)"/>
<rect x="131.20" y="375.00" width="657.50" height="2.50" fill="url(#g166)"/>
<rect x="131.20" y="377.00" width="657.50" height="2.50" fill="url(#g167)"/>
<rect x="131.20" y="379.00" width="657.50" height="2.50" fill="url(#g168)"/>
<rect x="131.20" y="381.00" width="657.50" height="2.50" fill="url(#g169)"/>
<rect x="131.20" y="383.00" width="657.50" height="2.50" fill="url(#g170)"/>
<rect x="131.20" y="385.00" width="657.50" height="2.50" fill="url(#g171)"/>
<rect x="131.20" y="387.00" width="657.50" height="2.50" fill="url(#g172)"/>
<rect x="131.20" y="389.00" width="657.50" height="2.50" fill="url(#g173)"/>
<rect x="131.20" y="391.00" width="657.50" height="1.00" fill="url(#g174)"/>
<text transform="translate(147.79 431.30) scale(1 1.06)" text-anchor="middle" font-size="26.67" font-weight="normal" fill="#262626">1</text>
<text transform="translate(245.76 431.30) scale(1 1.06)" text-anchor="middle" font-size="26.67" font-weight="normal" fill="#262626">3</text>
<text transform="translate(343.73 431.30) scale(1 1.06)" text-anchor="middle" font-size="26.67" font-weight="normal" fill="#262626">5</text>
<text transform="translate(441.71 431.30) scale(1 1.06)" text-anchor="middle" font-size="26.67" font-weight="normal" fill="#262626">7</text>
<text transform="translate(539.68 431.30) scale(1 1.06)" text-anchor="middle" font-size="26.67" font-weight="normal" fill="#262626">9</text>
<text transform="translate(637.65 431.30) scale(1 1.06)" text-anchor="middle" font-size="26.67" font-weight="normal" fill="#262626">11</text>
<text transform="translate(735.63 431.30) scale(1 1.06)" text-anchor="middle" font-size="26.67" font-weight="normal" fill="#262626">13</text>
<text transform="translate(833.60 431.30) scale(1 1.06)" text-anchor="middle" font-size="26.67" font-weight="normal" fill="#262626">15</text>
<text transform="translate(85.80 403.50) scale(1 1.06)" text-anchor="end" font-size="26.67" font-weight="normal" fill="#262626">0</text>
<text transform="translate(85.80 334.00) scale(1 1.06)" text-anchor="end" font-size="26.67" font-weight="normal" fill="#262626">2</text>
<text transform="translate(85.80 264.50) scale(1 1.06)" text-anchor="end" font-size="26.67" font-weight="normal" fill="#262626">4</text>
<text transform="translate(85.80 195.00) scale(1 1.06)" text-anchor="end" font-size="26.67" font-weight="normal" fill="#262626">6</text>
<text transform="translate(85.80 125.50) scale(1 1.06)" text-anchor="end" font-size="26.67" font-weight="normal" fill="#262626">8</text>
<text transform="translate(85.80 56.00) scale(1 1.06)" text-anchor="end" font-size="26.67" font-weight="normal" fill="#262626">10</text>
<text transform="translate(466.00 32.70) scale(1 1.06)" text-anchor="middle" font-size="29.90" font-weight="bold" fill="#000">direct - <tspan class="m">η</tspan></text>
<text transform="translate(410.80 470.40) scale(1 1.06)" fill="#262626"><tspan x="0.00" y="0.00" font-size="30.00">R</tspan><tspan x="22.60" y="13.02" font-size="24.60">DC </tspan><tspan x="68.20" y="0.00" font-size="30.00">[</tspan><tspan x="77.50" y="0.00" font-size="30.00" class="s">Ω</tspan><tspan x="100.00" y="0.00" font-size="30.00">]</tspan></text>
<g transform="translate(28.70,262.00) rotate(-90)">
<text transform="translate(0.00 0.00) scale(1 1.06)" fill="#262626"><tspan x="0.00" y="0.00" font-size="30.00">I</tspan><tspan x="7.60" y="13.02" font-size="24.60">set </tspan><tspan x="49.50" y="0.00" font-size="30.00">[A]</tspan></text>
</g>
<rect x="865.10" y="46.10" width="35.60" height="343.30" fill="url(#g175)" stroke="#262626" stroke-width="1.5"/>
<line x1="896.20" y1="114.05" x2="900.70" y2="114.05" stroke="#262626" stroke-width="1.5"/>
<line x1="896.20" y1="183.30" x2="900.70" y2="183.30" stroke="#262626" stroke-width="1.5"/>
<line x1="896.20" y1="252.50" x2="900.70" y2="252.50" stroke="#262626" stroke-width="1.5"/>
<line x1="896.20" y1="321.80" x2="900.70" y2="321.80" stroke="#262626" stroke-width="1.5"/>
<text transform="translate(911.40 55.00) scale(1 1.06)" text-anchor="start" font-size="24.00" font-weight="normal" fill="#262626">100</text>
<text transform="translate(911.40 124.60) scale(1 1.06)" text-anchor="start" font-size="24.00" font-weight="normal" fill="#262626">90</text>
<text transform="translate(911.40 193.40) scale(1 1.06)" text-anchor="start" font-size="24.00" font-weight="normal" fill="#262626">80</text>
<text transform="translate(911.40 262.20) scale(1 1.06)" text-anchor="start" font-size="24.00" font-weight="normal" fill="#262626">70</text>
<text transform="translate(911.40 331.00) scale(1 1.06)" text-anchor="start" font-size="24.00" font-weight="normal" fill="#262626">60</text>
<text transform="translate(911.40 400.80) scale(1 1.06)" text-anchor="start" font-size="24.00" font-weight="normal" fill="#262626">50</text>
<line x1="1208.51" y1="42.30" x2="1208.51" y2="388.60" stroke="#262626" stroke-width="1.6" stroke-opacity=".16"/>
<line x1="1282.02" y1="42.30" x2="1282.02" y2="388.60" stroke="#262626" stroke-width="1.6" stroke-opacity=".16"/>
<line x1="1355.53" y1="42.30" x2="1355.53" y2="388.60" stroke="#262626" stroke-width="1.6" stroke-opacity=".16"/>
<line x1="1429.04" y1="42.30" x2="1429.04" y2="388.60" stroke="#262626" stroke-width="1.6" stroke-opacity=".16"/>
<line x1="1502.55" y1="42.30" x2="1502.55" y2="388.60" stroke="#262626" stroke-width="1.6" stroke-opacity=".16"/>
<line x1="1576.06" y1="42.30" x2="1576.06" y2="388.60" stroke="#262626" stroke-width="1.6" stroke-opacity=".16"/>
<line x1="1649.57" y1="42.30" x2="1649.57" y2="388.60" stroke="#262626" stroke-width="1.6" stroke-opacity=".16"/>
<line x1="1723.08" y1="42.30" x2="1723.08" y2="388.60" stroke="#262626" stroke-width="1.6" stroke-opacity=".16"/>
<line x1="1796.59" y1="42.30" x2="1796.59" y2="388.60" stroke="#262626" stroke-width="1.6" stroke-opacity=".16"/>
<line x1="1870.10" y1="42.30" x2="1870.10" y2="388.60" stroke="#262626" stroke-width="1.6" stroke-opacity=".16"/>
<line x1="1135.00" y1="388.60" x2="1870.10" y2="388.60" stroke="#262626" stroke-width="1.6" stroke-opacity=".16"/>
<line x1="1135.00" y1="274.20" x2="1870.10" y2="274.20" stroke="#262626" stroke-width="1.6" stroke-opacity=".16"/>
<line x1="1135.00" y1="158.10" x2="1870.10" y2="158.10" stroke="#262626" stroke-width="1.6" stroke-opacity=".16"/>
<line x1="1135.00" y1="42.30" x2="1870.10" y2="42.30" stroke="#262626" stroke-width="1.6" stroke-opacity=".16"/>
<line x1="1135.00" y1="41.45" x2="1135.00" y2="389.45" stroke="#222" stroke-width="1.7"/>
<line x1="1135.00" y1="388.60" x2="1870.95" y2="388.60" stroke="#222" stroke-width="1.7"/>
<line x1="1135.00" y1="388.60" x2="1142.00" y2="388.60" stroke="#222" stroke-width="1.7"/>
<line x1="1135.00" y1="274.20" x2="1142.00" y2="274.20" stroke="#222" stroke-width="1.7"/>
<line x1="1135.00" y1="158.10" x2="1142.00" y2="158.10" stroke="#222" stroke-width="1.7"/>
<line x1="1135.00" y1="42.30" x2="1142.00" y2="42.30" stroke="#222" stroke-width="1.7"/>
<rect x="1207.50" y="41.40" width="3.50" height="348.60" fill="url(#g176)"/>
<rect x="1210.50" y="41.40" width="3.50" height="348.60" fill="url(#g177)"/>
<rect x="1213.50" y="41.40" width="3.50" height="348.60" fill="url(#g178)"/>
<rect x="1216.50" y="41.40" width="3.50" height="348.60" fill="url(#g179)"/>
<rect x="1219.50" y="41.40" width="3.50" height="348.60" fill="url(#g180)"/>
<rect x="1222.50" y="41.40" width="3.50" height="348.60" fill="url(#g181)"/>
<rect x="1225.50" y="41.40" width="3.50" height="348.60" fill="url(#g182)"/>
<rect x="1228.50" y="41.40" width="3.50" height="348.60" fill="url(#g183)"/>
<rect x="1231.50" y="41.40" width="3.50" height="348.60" fill="url(#g184)"/>
<rect x="1234.50" y="41.40" width="3.50" height="348.60" fill="url(#g185)"/>
<rect x="1237.50" y="41.40" width="3.50" height="348.60" fill="url(#g186)"/>
<rect x="1240.50" y="41.40" width="3.50" height="348.60" fill="url(#g187)"/>
<rect x="1243.50" y="41.40" width="3.50" height="348.60" fill="url(#g188)"/>
<rect x="1246.50" y="41.40" width="3.50" height="348.60" fill="url(#g189)"/>
<rect x="1249.50" y="41.40" width="3.50" height="348.60" fill="url(#g190)"/>
<rect x="1252.50" y="41.40" width="3.50" height="348.60" fill="url(#g191)"/>
<rect x="1255.50" y="41.40" width="3.50" height="348.60" fill="url(#g192)"/>
<rect x="1258.50" y="41.40" width="3.50" height="348.60" fill="url(#g193)"/>
<rect x="1261.50" y="41.40" width="3.50" height="348.60" fill="url(#g194)"/>
<rect x="1264.50" y="41.40" width="3.50" height="348.60" fill="url(#g195)"/>
<rect x="1267.50" y="41.40" width="3.50" height="348.60" fill="url(#g196)"/>
<rect x="1270.50" y="41.40" width="3.50" height="348.60" fill="url(#g197)"/>
<rect x="1273.50" y="41.40" width="3.50" height="348.60" fill="url(#g198)"/>
<rect x="1276.50" y="41.40" width="3.50" height="348.60" fill="url(#g199)"/>
<rect x="1279.50" y="41.40" width="3.50" height="348.60" fill="url(#g200)"/>
<rect x="1282.50" y="41.40" width="3.50" height="348.60" fill="url(#g201)"/>
<rect x="1285.50" y="41.40" width="3.50" height="348.60" fill="url(#g202)"/>
<rect x="1288.50" y="41.40" width="3.50" height="348.60" fill="url(#g203)"/>
<rect x="1291.50" y="41.40" width="3.50" height="348.60" fill="url(#g204)"/>
<rect x="1294.50" y="41.40" width="3.50" height="348.60" fill="url(#g205)"/>
<rect x="1297.50" y="41.40" width="3.50" height="348.60" fill="url(#g206)"/>
<rect x="1300.50" y="41.40" width="3.50" height="348.60" fill="url(#g207)"/>
<rect x="1303.50" y="41.40" width="3.50" height="348.60" fill="url(#g208)"/>
<rect x="1306.50" y="41.40" width="3.50" height="348.60" fill="url(#g209)"/>
<rect x="1309.50" y="41.40" width="3.50" height="348.60" fill="url(#g210)"/>
<rect x="1312.50" y="41.40" width="3.50" height="348.60" fill="url(#g211)"/>
<rect x="1315.50" y="41.40" width="3.50" height="348.60" fill="url(#g212)"/>
<rect x="1318.50" y="41.40" width="3.50" height="348.60" fill="url(#g213)"/>
<rect x="1321.50" y="41.40" width="3.50" height="348.60" fill="url(#g214)"/>
<rect x="1324.50" y="41.40" width="3.50" height="348.60" fill="url(#g215)"/>
<rect x="1327.50" y="41.40" width="3.50" height="348.60" fill="url(#g216)"/>
<rect x="1330.50" y="41.40" width="3.50" height="348.60" fill="url(#g217)"/>
<rect x="1333.50" y="41.40" width="3.50" height="348.60" fill="url(#g218)"/>
<rect x="1336.50" y="41.40" width="3.50" height="348.60" fill="url(#g219)"/>
<rect x="1339.50" y="41.40" width="3.50" height="348.60" fill="url(#g220)"/>
<rect x="1342.50" y="41.40" width="3.50" height="348.60" fill="url(#g221)"/>
<rect x="1345.50" y="41.40" width="3.50" height="348.60" fill="url(#g222)"/>
<rect x="1348.50" y="41.40" width="3.50" height="348.60" fill="url(#g223)"/>
<rect x="1351.50" y="41.40" width="3.50" height="348.60" fill="url(#g224)"/>
<rect x="1354.50" y="41.40" width="3.50" height="348.60" fill="url(#g225)"/>
<rect x="1357.50" y="41.40" width="3.50" height="348.60" fill="url(#g226)"/>
<rect x="1360.50" y="41.40" width="3.50" height="348.60" fill="url(#g227)"/>
<rect x="1363.50" y="41.40" width="3.50" height="348.60" fill="url(#g228)"/>
<rect x="1366.50" y="41.40" width="3.50" height="348.60" fill="url(#g229)"/>
<rect x="1369.50" y="41.40" width="3.50" height="348.60" fill="url(#g230)"/>
<rect x="1372.50" y="41.40" width="3.50" height="348.60" fill="url(#g231)"/>
<rect x="1375.50" y="41.40" width="3.50" height="348.60" fill="url(#g232)"/>
<rect x="1378.50" y="41.40" width="3.50" height="348.60" fill="url(#g233)"/>
<rect x="1381.50" y="41.40" width="3.50" height="348.60" fill="url(#g234)"/>
<rect x="1384.50" y="41.40" width="3.50" height="348.60" fill="url(#g235)"/>
<rect x="1387.50" y="41.40" width="3.50" height="348.60" fill="url(#g236)"/>
<rect x="1390.50" y="41.40" width="3.50" height="348.60" fill="url(#g237)"/>
<rect x="1393.50" y="41.40" width="3.50" height="348.60" fill="url(#g238)"/>
<rect x="1396.50" y="41.40" width="3.50" height="348.60" fill="url(#g239)"/>
<rect x="1399.50" y="41.40" width="3.50" height="348.60" fill="url(#g240)"/>
<rect x="1402.50" y="41.40" width="3.50" height="348.60" fill="url(#g241)"/>
<rect x="1405.50" y="41.40" width="3.50" height="348.60" fill="url(#g242)"/>
<rect x="1408.50" y="41.40" width="3.50" height="348.60" fill="url(#g243)"/>
<rect x="1411.50" y="41.40" width="3.50" height="348.60" fill="url(#g244)"/>
<rect x="1414.50" y="41.40" width="3.50" height="348.60" fill="url(#g245)"/>
<rect x="1417.50" y="41.40" width="3.50" height="348.60" fill="url(#g246)"/>
<rect x="1420.50" y="41.40" width="3.50" height="348.60" fill="url(#g247)"/>
<rect x="1423.50" y="41.40" width="3.50" height="348.60" fill="url(#g248)"/>
<rect x="1426.50" y="41.40" width="3.50" height="348.60" fill="url(#g249)"/>
<rect x="1429.50" y="41.40" width="3.50" height="348.60" fill="url(#g250)"/>
<rect x="1432.50" y="41.40" width="3.50" height="348.60" fill="url(#g251)"/>
<rect x="1435.50" y="41.40" width="3.50" height="348.60" fill="url(#g252)"/>
<rect x="1438.50" y="41.40" width="3.50" height="348.60" fill="url(#g253)"/>
<rect x="1441.50" y="41.40" width="3.50" height="348.60" fill="url(#g254)"/>
<rect x="1444.50" y="41.40" width="3.50" height="348.60" fill="url(#g255)"/>
<rect x="1447.50" y="41.40" width="3.50" height="348.60" fill="url(#g256)"/>
<rect x="1450.50" y="41.40" width="3.50" height="348.60" fill="url(#g257)"/>
<rect x="1453.50" y="41.40" width="3.50" height="348.60" fill="url(#g258)"/>
<rect x="1456.50" y="41.40" width="3.50" height="348.60" fill="url(#g259)"/>
<rect x="1459.50" y="41.40" width="3.50" height="348.60" fill="url(#g260)"/>
<rect x="1462.50" y="41.40" width="3.50" height="348.60" fill="url(#g261)"/>
<rect x="1465.50" y="41.40" width="3.50" height="348.60" fill="url(#g262)"/>
<rect x="1468.50" y="41.40" width="3.50" height="348.60" fill="url(#g263)"/>
<rect x="1471.50" y="41.40" width="3.50" height="348.60" fill="url(#g264)"/>
<rect x="1474.50" y="41.40" width="3.50" height="348.60" fill="url(#g265)"/>
<rect x="1477.50" y="41.40" width="3.50" height="348.60" fill="url(#g266)"/>
<rect x="1480.50" y="41.40" width="3.50" height="348.60" fill="url(#g267)"/>
<rect x="1483.50" y="41.40" width="3.50" height="348.60" fill="url(#g268)"/>
<rect x="1486.50" y="41.40" width="3.50" height="348.60" fill="url(#g269)"/>
<rect x="1489.50" y="41.40" width="3.50" height="348.60" fill="url(#g270)"/>
<rect x="1492.50" y="41.40" width="3.50" height="348.60" fill="url(#g271)"/>
<rect x="1495.50" y="41.40" width="3.50" height="348.60" fill="url(#g272)"/>
<rect x="1498.50" y="41.40" width="3.50" height="348.60" fill="url(#g273)"/>
<rect x="1501.50" y="41.40" width="3.50" height="348.60" fill="url(#g274)"/>
<rect x="1504.50" y="41.40" width="3.50" height="348.60" fill="url(#g275)"/>
<rect x="1507.50" y="41.40" width="3.50" height="348.60" fill="url(#g276)"/>
<rect x="1510.50" y="41.40" width="3.50" height="348.60" fill="url(#g277)"/>
<rect x="1513.50" y="41.40" width="3.50" height="348.60" fill="url(#g278)"/>
<rect x="1516.50" y="41.40" width="3.50" height="348.60" fill="url(#g279)"/>
<rect x="1519.50" y="41.40" width="3.50" height="348.60" fill="url(#g280)"/>
<rect x="1522.50" y="41.40" width="3.50" height="348.60" fill="url(#g281)"/>
<rect x="1525.50" y="41.40" width="3.50" height="348.60" fill="url(#g282)"/>
<rect x="1528.50" y="41.40" width="3.50" height="348.60" fill="url(#g283)"/>
<rect x="1531.50" y="41.40" width="3.50" height="348.60" fill="url(#g284)"/>
<rect x="1534.50" y="41.40" width="3.50" height="348.60" fill="url(#g285)"/>
<rect x="1537.50" y="41.40" width="3.50" height="348.60" fill="url(#g286)"/>
<rect x="1540.50" y="41.40" width="3.50" height="348.60" fill="url(#g287)"/>
<rect x="1543.50" y="41.40" width="3.50" height="348.60" fill="url(#g288)"/>
<rect x="1546.50" y="41.40" width="3.50" height="348.60" fill="url(#g289)"/>
<rect x="1549.50" y="41.40" width="3.50" height="348.60" fill="url(#g290)"/>
<rect x="1552.50" y="41.40" width="3.50" height="348.60" fill="url(#g291)"/>
<rect x="1555.50" y="41.40" width="3.50" height="348.60" fill="url(#g292)"/>
<rect x="1558.50" y="41.40" width="3.50" height="348.60" fill="url(#g293)"/>
<rect x="1561.50" y="41.40" width="3.50" height="348.60" fill="url(#g294)"/>
<rect x="1564.50" y="41.40" width="3.50" height="348.60" fill="url(#g295)"/>
<rect x="1567.50" y="41.40" width="3.50" height="348.60" fill="url(#g296)"/>
<rect x="1570.50" y="41.40" width="3.50" height="348.60" fill="url(#g297)"/>
<rect x="1573.50" y="41.40" width="3.50" height="348.60" fill="url(#g298)"/>
<rect x="1576.50" y="41.40" width="3.50" height="348.60" fill="url(#g299)"/>
<rect x="1579.50" y="41.40" width="3.50" height="348.60" fill="url(#g300)"/>
<rect x="1582.50" y="41.40" width="3.50" height="348.60" fill="url(#g301)"/>
<rect x="1585.50" y="41.40" width="3.50" height="348.60" fill="url(#g302)"/>
<rect x="1588.50" y="41.40" width="3.50" height="348.60" fill="url(#g303)"/>
<rect x="1591.50" y="41.40" width="3.50" height="348.60" fill="url(#g304)"/>
<rect x="1594.50" y="41.40" width="3.50" height="348.60" fill="url(#g305)"/>
<rect x="1597.50" y="41.40" width="3.50" height="348.60" fill="url(#g306)"/>
<rect x="1600.50" y="41.40" width="3.50" height="348.60" fill="url(#g307)"/>
<rect x="1603.50" y="41.40" width="3.50" height="348.60" fill="url(#g308)"/>
<rect x="1606.50" y="41.40" width="3.50" height="348.60" fill="url(#g309)"/>
<rect x="1609.50" y="41.40" width="3.50" height="348.60" fill="url(#g310)"/>
<rect x="1612.50" y="41.40" width="3.50" height="348.60" fill="url(#g311)"/>
<rect x="1615.50" y="41.40" width="3.50" height="348.60" fill="url(#g312)"/>
<rect x="1618.50" y="41.40" width="3.50" height="348.60" fill="url(#g313)"/>
<rect x="1621.50" y="41.40" width="3.50" height="348.60" fill="url(#g314)"/>
<rect x="1624.50" y="41.40" width="3.50" height="348.60" fill="url(#g315)"/>
<rect x="1627.50" y="41.40" width="3.50" height="348.60" fill="url(#g316)"/>
<rect x="1630.50" y="41.40" width="3.50" height="348.60" fill="url(#g317)"/>
<rect x="1633.50" y="41.40" width="3.50" height="348.60" fill="url(#g318)"/>
<rect x="1636.50" y="41.40" width="3.50" height="348.60" fill="url(#g319)"/>
<rect x="1639.50" y="41.40" width="3.50" height="348.60" fill="url(#g320)"/>
<rect x="1642.50" y="41.40" width="3.50" height="348.60" fill="url(#g321)"/>
<rect x="1645.50" y="41.40" width="3.50" height="348.60" fill="url(#g322)"/>
<rect x="1648.50" y="41.40" width="3.50" height="348.60" fill="url(#g323)"/>
<rect x="1651.50" y="41.40" width="3.50" height="348.60" fill="url(#g324)"/>
<rect x="1654.50" y="41.40" width="3.50" height="348.60" fill="url(#g325)"/>
<rect x="1657.50" y="41.40" width="3.50" height="348.60" fill="url(#g326)"/>
<rect x="1660.50" y="41.40" width="3.50" height="348.60" fill="url(#g327)"/>
<rect x="1663.50" y="41.40" width="3.50" height="348.60" fill="url(#g328)"/>
<rect x="1666.50" y="41.40" width="3.50" height="348.60" fill="url(#g329)"/>
<rect x="1669.50" y="41.40" width="3.50" height="348.60" fill="url(#g330)"/>
<rect x="1672.50" y="41.40" width="3.50" height="348.60" fill="url(#g331)"/>
<rect x="1675.50" y="41.40" width="3.50" height="348.60" fill="url(#g332)"/>
<rect x="1678.50" y="41.40" width="3.50" height="348.60" fill="url(#g333)"/>
<rect x="1681.50" y="41.40" width="3.50" height="348.60" fill="url(#g334)"/>
<rect x="1684.50" y="41.40" width="3.50" height="348.60" fill="url(#g335)"/>
<rect x="1687.50" y="41.40" width="3.50" height="348.60" fill="url(#g336)"/>
<rect x="1690.50" y="41.40" width="3.50" height="348.60" fill="url(#g337)"/>
<rect x="1693.50" y="41.40" width="3.50" height="348.60" fill="url(#g338)"/>
<rect x="1696.50" y="41.40" width="3.50" height="348.60" fill="url(#g339)"/>
<rect x="1699.50" y="41.40" width="3.50" height="348.60" fill="url(#g340)"/>
<rect x="1702.50" y="41.40" width="3.50" height="348.60" fill="url(#g341)"/>
<rect x="1705.50" y="41.40" width="3.50" height="348.60" fill="url(#g342)"/>
<rect x="1708.50" y="41.40" width="3.50" height="348.60" fill="url(#g343)"/>
<rect x="1711.50" y="41.40" width="3.50" height="348.60" fill="url(#g344)"/>
<rect x="1714.50" y="41.40" width="3.50" height="348.60" fill="url(#g345)"/>
<rect x="1717.50" y="41.40" width="3.50" height="348.60" fill="url(#g346)"/>
<rect x="1720.50" y="41.40" width="3.50" height="348.60" fill="url(#g347)"/>
<rect x="1723.50" y="41.40" width="3.50" height="348.60" fill="url(#g348)"/>
<rect x="1726.50" y="41.40" width="3.50" height="348.60" fill="url(#g349)"/>
<rect x="1729.50" y="41.40" width="3.50" height="348.60" fill="url(#g350)"/>
<rect x="1732.50" y="41.40" width="3.50" height="348.60" fill="url(#g351)"/>
<rect x="1735.50" y="41.40" width="3.50" height="348.60" fill="url(#g352)"/>
<rect x="1738.50" y="41.40" width="3.50" height="348.60" fill="url(#g353)"/>
<rect x="1741.50" y="41.40" width="3.50" height="348.60" fill="url(#g354)"/>
<rect x="1744.50" y="41.40" width="3.50" height="348.60" fill="url(#g355)"/>
<rect x="1747.50" y="41.40" width="3.50" height="348.60" fill="url(#g356)"/>
<rect x="1750.50" y="41.40" width="3.50" height="348.60" fill="url(#g357)"/>
<rect x="1753.50" y="41.40" width="3.50" height="348.60" fill="url(#g358)"/>
<rect x="1756.50" y="41.40" width="3.50" height="348.60" fill="url(#g359)"/>
<rect x="1759.50" y="41.40" width="3.50" height="348.60" fill="url(#g360)"/>
<rect x="1762.50" y="41.40" width="3.50" height="348.60" fill="url(#g361)"/>
<rect x="1765.50" y="41.40" width="3.50" height="348.60" fill="url(#g362)"/>
<rect x="1768.50" y="41.40" width="3.50" height="348.60" fill="url(#g363)"/>
<rect x="1771.50" y="41.40" width="3.50" height="348.60" fill="url(#g364)"/>
<rect x="1774.50" y="41.40" width="3.50" height="348.60" fill="url(#g365)"/>
<rect x="1777.50" y="41.40" width="3.50" height="348.60" fill="url(#g366)"/>
<rect x="1780.50" y="41.40" width="3.50" height="348.60" fill="url(#g367)"/>
<rect x="1783.50" y="41.40" width="3.50" height="348.60" fill="url(#g368)"/>
<rect x="1786.50" y="41.40" width="3.50" height="348.60" fill="url(#g369)"/>
<rect x="1789.50" y="41.40" width="3.50" height="348.60" fill="url(#g370)"/>
<rect x="1792.50" y="41.40" width="3.50" height="348.60" fill="url(#g371)"/>
<rect x="1795.50" y="41.40" width="3.50" height="348.60" fill="url(#g372)"/>
<rect x="1798.50" y="41.40" width="3.50" height="348.60" fill="url(#g373)"/>
<rect x="1801.50" y="41.40" width="3.50" height="348.60" fill="url(#g374)"/>
<rect x="1804.50" y="41.40" width="3.50" height="348.60" fill="url(#g375)"/>
<rect x="1807.50" y="41.40" width="3.50" height="348.60" fill="url(#g376)"/>
<rect x="1810.50" y="41.40" width="3.50" height="348.60" fill="url(#g377)"/>
<rect x="1813.50" y="41.40" width="3.50" height="348.60" fill="url(#g378)"/>
<rect x="1816.50" y="41.40" width="3.50" height="348.60" fill="url(#g379)"/>
<rect x="1819.50" y="41.40" width="3.50" height="348.60" fill="url(#g380)"/>
<rect x="1822.50" y="41.40" width="3.50" height="348.60" fill="url(#g381)"/>
<rect x="1825.50" y="41.40" width="3.50" height="348.60" fill="url(#g382)"/>
<rect x="1828.50" y="41.40" width="3.50" height="348.60" fill="url(#g383)"/>
<rect x="1831.50" y="41.40" width="3.50" height="348.60" fill="url(#g384)"/>
<rect x="1834.50" y="41.40" width="3.50" height="348.60" fill="url(#g385)"/>
<rect x="1837.50" y="41.40" width="3.50" height="348.60" fill="url(#g386)"/>
<rect x="1840.50" y="41.40" width="3.50" height="348.60" fill="url(#g387)"/>
<rect x="1843.50" y="41.40" width="3.50" height="348.60" fill="url(#g388)"/>
<rect x="1846.50" y="41.40" width="3.50" height="348.60" fill="url(#g389)"/>
<rect x="1849.50" y="41.40" width="3.50" height="348.60" fill="url(#g390)"/>
<rect x="1852.50" y="41.40" width="3.50" height="348.60" fill="url(#g391)"/>
<rect x="1855.50" y="41.40" width="3.50" height="348.60" fill="url(#g392)"/>
<rect x="1858.50" y="41.40" width="3.50" height="348.60" fill="url(#g393)"/>
<rect x="1861.50" y="41.40" width="3.50" height="348.60" fill="url(#g394)"/>
<rect x="1864.50" y="41.40" width="3.50" height="348.60" fill="url(#g395)"/>
<rect x="1867.50" y="41.40" width="3.50" height="348.60" fill="url(#g396)"/>
<rect x="1870.50" y="41.40" width="0.50" height="348.60" fill="url(#g397)"/>
<text transform="translate(1208.51 428.00) scale(1 1.06)" text-anchor="middle" font-size="26.67" font-weight="normal" fill="#262626">1</text>
<text transform="translate(1282.02 428.00) scale(1 1.06)" text-anchor="middle" font-size="26.67" font-weight="normal" fill="#262626">2</text>
<text transform="translate(1355.53 428.00) scale(1 1.06)" text-anchor="middle" font-size="26.67" font-weight="normal" fill="#262626">3</text>
<text transform="translate(1429.04 428.00) scale(1 1.06)" text-anchor="middle" font-size="26.67" font-weight="normal" fill="#262626">4</text>
<text transform="translate(1502.55 428.00) scale(1 1.06)" text-anchor="middle" font-size="26.67" font-weight="normal" fill="#262626">5</text>
<text transform="translate(1576.06 428.00) scale(1 1.06)" text-anchor="middle" font-size="26.67" font-weight="normal" fill="#262626">6</text>
<text transform="translate(1649.57 428.00) scale(1 1.06)" text-anchor="middle" font-size="26.67" font-weight="normal" fill="#262626">7</text>
<text transform="translate(1723.08 428.00) scale(1 1.06)" text-anchor="middle" font-size="26.67" font-weight="normal" fill="#262626">8</text>
<text transform="translate(1796.59 428.00) scale(1 1.06)" text-anchor="middle" font-size="26.67" font-weight="normal" fill="#262626">9</text>
<text transform="translate(1870.10 428.00) scale(1 1.06)" text-anchor="middle" font-size="26.67" font-weight="normal" fill="#262626">10</text>
<text transform="translate(1123.00 400.90) scale(1 1.06)" text-anchor="end" font-size="26.67" font-weight="normal" fill="#262626">0</text>
<text transform="translate(1123.00 284.80) scale(1 1.06)" text-anchor="end" font-size="26.67" font-weight="normal" fill="#262626">5</text>
<text transform="translate(1123.00 168.70) scale(1 1.06)" text-anchor="end" font-size="26.67" font-weight="normal" fill="#262626">10</text>
<text transform="translate(1123.00 52.60) scale(1 1.06)" text-anchor="end" font-size="26.67" font-weight="normal" fill="#262626">15</text>
<text transform="translate(1502.00 29.00) scale(1 1.06)" text-anchor="middle" font-size="29.90" font-weight="bold" fill="#000">DCDC - <tspan class="m">η</tspan></text>
<text transform="translate(1447.00 467.00) scale(1 1.06)" fill="#262626"><tspan x="0.00" y="0.00" font-size="30.00">R</tspan><tspan x="22.60" y="13.02" font-size="24.60">DC </tspan><tspan x="68.20" y="0.00" font-size="30.00">[</tspan><tspan x="77.50" y="0.00" font-size="30.00" class="s">Ω</tspan><tspan x="100.00" y="0.00" font-size="30.00">]</tspan></text>
<g transform="translate(1066.00,259.80) rotate(-90)">
<text transform="translate(0.00 0.00) scale(1 1.06)" fill="#262626"><tspan x="0.00" y="0.00" font-size="30.00">I</tspan><tspan x="7.60" y="13.02" font-size="24.60">set </tspan><tspan x="49.50" y="0.00" font-size="30.00">[A]</tspan></text>
</g>
<rect x="1905.50" y="43.00" width="33.60" height="345.00" fill="url(#g398)" stroke="#262626" stroke-width="1.5"/>
<line x1="1934.60" y1="111.30" x2="1939.10" y2="111.30" stroke="#262626" stroke-width="1.5"/>
<line x1="1934.60" y1="180.50" x2="1939.10" y2="180.50" stroke="#262626" stroke-width="1.5"/>
<line x1="1934.60" y1="249.70" x2="1939.10" y2="249.70" stroke="#262626" stroke-width="1.5"/>
<line x1="1934.60" y1="318.90" x2="1939.10" y2="318.90" stroke="#262626" stroke-width="1.5"/>
<text transform="translate(1949.80 52.20) scale(1 1.06)" text-anchor="start" font-size="24.00" font-weight="normal" fill="#262626">100</text>
<text transform="translate(1949.80 121.80) scale(1 1.06)" text-anchor="start" font-size="24.00" font-weight="normal" fill="#262626">90</text>
<text transform="translate(1949.80 190.60) scale(1 1.06)" text-anchor="start" font-size="24.00" font-weight="normal" fill="#262626">80</text>
<text transform="translate(1949.80 259.40) scale(1 1.06)" text-anchor="start" font-size="24.00" font-weight="normal" fill="#262626">70</text>
<text transform="translate(1949.80 328.20) scale(1 1.06)" text-anchor="start" font-size="24.00" font-weight="normal" fill="#262626">60</text>
<text transform="translate(1949.80 398.00) scale(1 1.06)" text-anchor="start" font-size="24.00" font-weight="normal" fill="#262626">50</text>
<line x1="154.39" y1="527.70" x2="154.39" y2="873.00" stroke="#262626" stroke-width="1.6" stroke-opacity=".16"/>
<line x1="211.09" y1="527.70" x2="211.09" y2="873.00" stroke="#262626" stroke-width="1.6" stroke-opacity=".16"/>
<line x1="267.78" y1="527.70" x2="267.78" y2="873.00" stroke="#262626" stroke-width="1.6" stroke-opacity=".16"/>
<line x1="324.47" y1="527.70" x2="324.47" y2="873.00" stroke="#262626" stroke-width="1.6" stroke-opacity=".16"/>
<line x1="381.17" y1="527.70" x2="381.17" y2="873.00" stroke="#262626" stroke-width="1.6" stroke-opacity=".16"/>
<line x1="437.86" y1="527.70" x2="437.86" y2="873.00" stroke="#262626" stroke-width="1.6" stroke-opacity=".16"/>
<line x1="494.55" y1="527.70" x2="494.55" y2="873.00" stroke="#262626" stroke-width="1.6" stroke-opacity=".16"/>
<line x1="551.25" y1="527.70" x2="551.25" y2="873.00" stroke="#262626" stroke-width="1.6" stroke-opacity=".16"/>
<line x1="607.94" y1="527.70" x2="607.94" y2="873.00" stroke="#262626" stroke-width="1.6" stroke-opacity=".16"/>
<line x1="664.63" y1="527.70" x2="664.63" y2="873.00" stroke="#262626" stroke-width="1.6" stroke-opacity=".16"/>
<line x1="948.10" y1="527.70" x2="948.10" y2="873.00" stroke="#262626" stroke-width="1.6" stroke-opacity=".16"/>
<line x1="97.70" y1="873.00" x2="948.10" y2="873.00" stroke="#262626" stroke-width="1.6" stroke-opacity=".16"/>
<line x1="97.70" y1="801.80" x2="948.10" y2="801.80" stroke="#262626" stroke-width="1.6" stroke-opacity=".16"/>
<line x1="97.70" y1="728.60" x2="948.10" y2="728.60" stroke="#262626" stroke-width="1.6" stroke-opacity=".16"/>
<line x1="97.70" y1="655.40" x2="948.10" y2="655.40" stroke="#262626" stroke-width="1.6" stroke-opacity=".16"/>
<line x1="97.70" y1="582.20" x2="948.10" y2="582.20" stroke="#262626" stroke-width="1.6" stroke-opacity=".16"/>
<rect x="97.70" y="527.70" width="850.40" height="345.30" fill="none" stroke="#222" stroke-width="1.7"/>
<line x1="154.39" y1="873.00" x2="154.39" y2="864.50" stroke="#222" stroke-width="1.7"/>
<line x1="154.39" y1="527.70" x2="154.39" y2="536.20" stroke="#222" stroke-width="1.7"/>
<line x1="211.09" y1="873.00" x2="211.09" y2="864.50" stroke="#222" stroke-width="1.7"/>
<line x1="211.09" y1="527.70" x2="211.09" y2="536.20" stroke="#222" stroke-width="1.7"/>
<line x1="267.78" y1="873.00" x2="267.78" y2="864.50" stroke="#222" stroke-width="1.7"/>
<line x1="267.78" y1="527.70" x2="267.78" y2="536.20" stroke="#222" stroke-width="1.7"/>
<line x1="324.47" y1="873.00" x2="324.47" y2="864.50" stroke="#222" stroke-width="1.7"/>
<line x1="324.47" y1="527.70" x2="324.47" y2="536.20" stroke="#222" stroke-width="1.7"/>
<line x1="381.17" y1="873.00" x2="381.17" y2="864.50" stroke="#222" stroke-width="1.7"/>
<line x1="381.17" y1="527.70" x2="381.17" y2="536.20" stroke="#222" stroke-width="1.7"/>
<line x1="437.86" y1="873.00" x2="437.86" y2="864.50" stroke="#222" stroke-width="1.7"/>
<line x1="437.86" y1="527.70" x2="437.86" y2="536.20" stroke="#222" stroke-width="1.7"/>
<line x1="494.55" y1="873.00" x2="494.55" y2="864.50" stroke="#222" stroke-width="1.7"/>
<line x1="494.55" y1="527.70" x2="494.55" y2="536.20" stroke="#222" stroke-width="1.7"/>
<line x1="551.25" y1="873.00" x2="551.25" y2="864.50" stroke="#222" stroke-width="1.7"/>
<line x1="551.25" y1="527.70" x2="551.25" y2="536.20" stroke="#222" stroke-width="1.7"/>
<line x1="607.94" y1="873.00" x2="607.94" y2="864.50" stroke="#222" stroke-width="1.7"/>
<line x1="607.94" y1="527.70" x2="607.94" y2="536.20" stroke="#222" stroke-width="1.7"/>
<line x1="664.63" y1="873.00" x2="664.63" y2="864.50" stroke="#222" stroke-width="1.7"/>
<line x1="664.63" y1="527.70" x2="664.63" y2="536.20" stroke="#222" stroke-width="1.7"/>
<line x1="948.10" y1="873.00" x2="948.10" y2="864.50" stroke="#222" stroke-width="1.7"/>
<line x1="948.10" y1="527.70" x2="948.10" y2="536.20" stroke="#222" stroke-width="1.7"/>
<line x1="97.70" y1="873.00" x2="106.20" y2="873.00" stroke="#222" stroke-width="1.7"/>
<line x1="948.10" y1="873.00" x2="939.60" y2="873.00" stroke="#222" stroke-width="1.7"/>
<line x1="97.70" y1="801.80" x2="106.20" y2="801.80" stroke="#222" stroke-width="1.7"/>
<line x1="948.10" y1="801.80" x2="939.60" y2="801.80" stroke="#222" stroke-width="1.7"/>
<line x1="97.70" y1="728.60" x2="106.20" y2="728.60" stroke="#222" stroke-width="1.7"/>
<line x1="948.10" y1="728.60" x2="939.60" y2="728.60" stroke="#222" stroke-width="1.7"/>
<line x1="97.70" y1="655.40" x2="106.20" y2="655.40" stroke="#222" stroke-width="1.7"/>
<line x1="948.10" y1="655.40" x2="939.60" y2="655.40" stroke="#222" stroke-width="1.7"/>
<line x1="97.70" y1="582.20" x2="106.20" y2="582.20" stroke="#222" stroke-width="1.7"/>
<line x1="948.10" y1="582.20" x2="939.60" y2="582.20" stroke="#222" stroke-width="1.7"/>
<polyline points="97.70,787.16 154.39,578.54 211.09,545.60 267.78,540.11 324.47,554.75 381.17,572.32 437.86,578.54 494.55,585.86 551.25,592.08 607.94,596.84" fill="none" stroke="#0072bd" stroke-width="4" stroke-linejoin="round"/>
<text transform="translate(155.39 913.10) scale(1 1.06)" text-anchor="middle" font-size="26.67" font-weight="normal" fill="#262626">1</text>
<text transform="translate(212.09 913.10) scale(1 1.06)" text-anchor="middle" font-size="26.67" font-weight="normal" fill="#262626">2</text>
<text transform="translate(268.78 913.10) scale(1 1.06)" text-anchor="middle" font-size="26.67" font-weight="normal" fill="#262626">3</text>
<text transform="translate(325.47 913.10) scale(1 1.06)" text-anchor="middle" font-size="26.67" font-weight="normal" fill="#262626">4</text>
<text transform="translate(382.17 913.10) scale(1 1.06)" text-anchor="middle" font-size="26.67" font-weight="normal" fill="#262626">5</text>
<text transform="translate(438.86 913.10) scale(1 1.06)" text-anchor="middle" font-size="26.67" font-weight="normal" fill="#262626">6</text>
<text transform="translate(495.55 913.10) scale(1 1.06)" text-anchor="middle" font-size="26.67" font-weight="normal" fill="#262626">7</text>
<text transform="translate(552.25 913.10) scale(1 1.06)" text-anchor="middle" font-size="26.67" font-weight="normal" fill="#262626">8</text>
<text transform="translate(608.94 913.10) scale(1 1.06)" text-anchor="middle" font-size="26.67" font-weight="normal" fill="#262626">9</text>
<text transform="translate(665.63 913.10) scale(1 1.06)" text-anchor="middle" font-size="26.67" font-weight="normal" fill="#262626">10</text>
<text transform="translate(949.10 913.10) scale(1 1.06)" text-anchor="middle" font-size="26.67" font-weight="normal" fill="#262626">15</text>
<text transform="translate(85.70 885.60) scale(1 1.06)" text-anchor="end" font-size="26.67" font-weight="normal" fill="#262626">0</text>
<text transform="translate(85.70 812.40) scale(1 1.06)" text-anchor="end" font-size="26.67" font-weight="normal" fill="#262626">20</text>
<text transform="translate(85.70 739.20) scale(1 1.06)" text-anchor="end" font-size="26.67" font-weight="normal" fill="#262626">40</text>
<text transform="translate(85.70 666.00) scale(1 1.06)" text-anchor="end" font-size="26.67" font-weight="normal" fill="#262626">60</text>
<text transform="translate(85.70 592.80) scale(1 1.06)" text-anchor="end" font-size="26.67" font-weight="normal" fill="#262626">80</text>
<text transform="translate(523.00 514.00) scale(1 1.06)" text-anchor="middle" font-size="29.90" font-weight="bold" fill="#000">direct - battery load</text>
<text transform="translate(480.00 952.00) scale(1 1.06)" fill="#262626"><tspan x="0.00" y="0.00" font-size="30.00">I</tspan><tspan x="8.20" y="13.02" font-size="24.60">bat </tspan><tspan x="50.30" y="0.00" font-size="30.00">[A]</tspan></text>
<g transform="translate(42.20,734.00) rotate(-90)">
<text transform="translate(0.00 0.00) scale(1 1.06)" fill="#262626"><tspan x="-0.50" y="0.00" font-size="30.00" class="mi">η </tspan><tspan x="22.50" y="0.00" font-size="30.00">[%]</tspan></text>
</g>
<line x1="1191.68" y1="525.00" x2="1191.68" y2="870.90" stroke="#262626" stroke-width="1.6" stroke-opacity=".16"/>
<line x1="1248.36" y1="525.00" x2="1248.36" y2="870.90" stroke="#262626" stroke-width="1.6" stroke-opacity=".16"/>
<line x1="1305.04" y1="525.00" x2="1305.04" y2="870.90" stroke="#262626" stroke-width="1.6" stroke-opacity=".16"/>
<line x1="1361.72" y1="525.00" x2="1361.72" y2="870.90" stroke="#262626" stroke-width="1.6" stroke-opacity=".16"/>
<line x1="1418.40" y1="525.00" x2="1418.40" y2="870.90" stroke="#262626" stroke-width="1.6" stroke-opacity=".16"/>
<line x1="1475.08" y1="525.00" x2="1475.08" y2="870.90" stroke="#262626" stroke-width="1.6" stroke-opacity=".16"/>
<line x1="1531.76" y1="525.00" x2="1531.76" y2="870.90" stroke="#262626" stroke-width="1.6" stroke-opacity=".16"/>
<line x1="1588.44" y1="525.00" x2="1588.44" y2="870.90" stroke="#262626" stroke-width="1.6" stroke-opacity=".16"/>
<line x1="1645.12" y1="525.00" x2="1645.12" y2="870.90" stroke="#262626" stroke-width="1.6" stroke-opacity=".16"/>
<line x1="1701.80" y1="525.00" x2="1701.80" y2="870.90" stroke="#262626" stroke-width="1.6" stroke-opacity=".16"/>
<line x1="1985.20" y1="525.00" x2="1985.20" y2="870.90" stroke="#262626" stroke-width="1.6" stroke-opacity=".16"/>
<line x1="1135.00" y1="870.90" x2="1985.20" y2="870.90" stroke="#262626" stroke-width="1.6" stroke-opacity=".16"/>
<line x1="1135.00" y1="798.82" x2="1985.20" y2="798.82" stroke="#262626" stroke-width="1.6" stroke-opacity=".16"/>
<line x1="1135.00" y1="725.58" x2="1985.20" y2="725.58" stroke="#262626" stroke-width="1.6" stroke-opacity=".16"/>
<line x1="1135.00" y1="652.34" x2="1985.20" y2="652.34" stroke="#262626" stroke-width="1.6" stroke-opacity=".16"/>
<line x1="1135.00" y1="579.10" x2="1985.20" y2="579.10" stroke="#262626" stroke-width="1.6" stroke-opacity=".16"/>
<rect x="1135.00" y="525.00" width="850.20" height="345.90" fill="none" stroke="#222" stroke-width="1.7"/>
<line x1="1191.68" y1="870.90" x2="1191.68" y2="862.40" stroke="#222" stroke-width="1.7"/>
<line x1="1191.68" y1="525.00" x2="1191.68" y2="533.50" stroke="#222" stroke-width="1.7"/>
<line x1="1248.36" y1="870.90" x2="1248.36" y2="862.40" stroke="#222" stroke-width="1.7"/>
<line x1="1248.36" y1="525.00" x2="1248.36" y2="533.50" stroke="#222" stroke-width="1.7"/>
<line x1="1305.04" y1="870.90" x2="1305.04" y2="862.40" stroke="#222" stroke-width="1.7"/>
<line x1="1305.04" y1="525.00" x2="1305.04" y2="533.50" stroke="#222" stroke-width="1.7"/>
<line x1="1361.72" y1="870.90" x2="1361.72" y2="862.40" stroke="#222" stroke-width="1.7"/>
<line x1="1361.72" y1="525.00" x2="1361.72" y2="533.50" stroke="#222" stroke-width="1.7"/>
<line x1="1418.40" y1="870.90" x2="1418.40" y2="862.40" stroke="#222" stroke-width="1.7"/>
<line x1="1418.40" y1="525.00" x2="1418.40" y2="533.50" stroke="#222" stroke-width="1.7"/>
<line x1="1475.08" y1="870.90" x2="1475.08" y2="862.40" stroke="#222" stroke-width="1.7"/>
<line x1="1475.08" y1="525.00" x2="1475.08" y2="533.50" stroke="#222" stroke-width="1.7"/>
<line x1="1531.76" y1="870.90" x2="1531.76" y2="862.40" stroke="#222" stroke-width="1.7"/>
<line x1="1531.76" y1="525.00" x2="1531.76" y2="533.50" stroke="#222" stroke-width="1.7"/>
<line x1="1588.44" y1="870.90" x2="1588.44" y2="862.40" stroke="#222" stroke-width="1.7"/>
<line x1="1588.44" y1="525.00" x2="1588.44" y2="533.50" stroke="#222" stroke-width="1.7"/>
<line x1="1645.12" y1="870.90" x2="1645.12" y2="862.40" stroke="#222" stroke-width="1.7"/>
<line x1="1645.12" y1="525.00" x2="1645.12" y2="533.50" stroke="#222" stroke-width="1.7"/>
<line x1="1701.80" y1="870.90" x2="1701.80" y2="862.40" stroke="#222" stroke-width="1.7"/>
<line x1="1701.80" y1="525.00" x2="1701.80" y2="533.50" stroke="#222" stroke-width="1.7"/>
<line x1="1985.20" y1="870.90" x2="1985.20" y2="862.40" stroke="#222" stroke-width="1.7"/>
<line x1="1985.20" y1="525.00" x2="1985.20" y2="533.50" stroke="#222" stroke-width="1.7"/>
<line x1="1135.00" y1="870.90" x2="1143.50" y2="870.90" stroke="#222" stroke-width="1.7"/>
<line x1="1985.20" y1="870.90" x2="1976.70" y2="870.90" stroke="#222" stroke-width="1.7"/>
<line x1="1135.00" y1="798.82" x2="1143.50" y2="798.82" stroke="#222" stroke-width="1.7"/>
<line x1="1985.20" y1="798.82" x2="1976.70" y2="798.82" stroke="#222" stroke-width="1.7"/>
<line x1="1135.00" y1="725.58" x2="1143.50" y2="725.58" stroke="#222" stroke-width="1.7"/>
<line x1="1985.20" y1="725.58" x2="1976.70" y2="725.58" stroke="#222" stroke-width="1.7"/>
<line x1="1135.00" y1="652.34" x2="1143.50" y2="652.34" stroke="#222" stroke-width="1.7"/>
<line x1="1985.20" y1="652.34" x2="1976.70" y2="652.34" stroke="#222" stroke-width="1.7"/>
<line x1="1135.00" y1="579.10" x2="1143.50" y2="579.10" stroke="#222" stroke-width="1.7"/>
<line x1="1985.20" y1="579.10" x2="1976.70" y2="579.10" stroke="#222" stroke-width="1.7"/>
<polyline points="1135.00,668.82 1191.68,564.45 1248.36,543.21 1305.04,539.55 1361.72,541.75 1418.40,543.58 1475.08,534.42 1531.76,532.96 1588.44,539.18 1645.12,540.28 1701.80,541.38" fill="none" stroke="#0072bd" stroke-width="4" stroke-linejoin="round"/>
<text transform="translate(1191.98 910.80) scale(1 1.06)" text-anchor="middle" font-size="26.67" font-weight="normal" fill="#262626">1</text>
<text transform="translate(1248.66 910.80) scale(1 1.06)" text-anchor="middle" font-size="26.67" font-weight="normal" fill="#262626">2</text>
<text transform="translate(1305.34 910.80) scale(1 1.06)" text-anchor="middle" font-size="26.67" font-weight="normal" fill="#262626">3</text>
<text transform="translate(1362.02 910.80) scale(1 1.06)" text-anchor="middle" font-size="26.67" font-weight="normal" fill="#262626">4</text>
<text transform="translate(1418.70 910.80) scale(1 1.06)" text-anchor="middle" font-size="26.67" font-weight="normal" fill="#262626">5</text>
<text transform="translate(1475.38 910.80) scale(1 1.06)" text-anchor="middle" font-size="26.67" font-weight="normal" fill="#262626">6</text>
<text transform="translate(1532.06 910.80) scale(1 1.06)" text-anchor="middle" font-size="26.67" font-weight="normal" fill="#262626">7</text>
<text transform="translate(1588.74 910.80) scale(1 1.06)" text-anchor="middle" font-size="26.67" font-weight="normal" fill="#262626">8</text>
<text transform="translate(1645.42 910.80) scale(1 1.06)" text-anchor="middle" font-size="26.67" font-weight="normal" fill="#262626">9</text>
<text transform="translate(1702.10 910.80) scale(1 1.06)" text-anchor="middle" font-size="26.67" font-weight="normal" fill="#262626">10</text>
<text transform="translate(1985.50 910.80) scale(1 1.06)" text-anchor="middle" font-size="26.67" font-weight="normal" fill="#262626">15</text>
<text transform="translate(1123.00 882.66) scale(1 1.06)" text-anchor="end" font-size="26.67" font-weight="normal" fill="#262626">0</text>
<text transform="translate(1123.00 809.42) scale(1 1.06)" text-anchor="end" font-size="26.67" font-weight="normal" fill="#262626">20</text>
<text transform="translate(1123.00 736.18) scale(1 1.06)" text-anchor="end" font-size="26.67" font-weight="normal" fill="#262626">40</text>
<text transform="translate(1123.00 662.94) scale(1 1.06)" text-anchor="end" font-size="26.67" font-weight="normal" fill="#262626">60</text>
<text transform="translate(1123.00 589.70) scale(1 1.06)" text-anchor="end" font-size="26.67" font-weight="normal" fill="#262626">80</text>
<text transform="translate(1560.00 511.00) scale(1 1.06)" text-anchor="middle" font-size="29.90" font-weight="bold" fill="#000">DCDC - battery load</text>
<text transform="translate(1517.00 949.00) scale(1 1.06)" fill="#262626"><tspan x="0.00" y="0.00" font-size="30.00">I</tspan><tspan x="8.20" y="13.02" font-size="24.60">bat </tspan><tspan x="50.30" y="0.00" font-size="30.00">[A]</tspan></text>
<g transform="translate(1079.50,731.00) rotate(-90)">
<text transform="translate(0.00 0.00) scale(1 1.06)" fill="#262626"><tspan x="-0.50" y="0.00" font-size="30.00" class="mi">η </tspan><tspan x="22.50" y="0.00" font-size="30.00">[%]</tspan></text>
</g>
</svg></body></html>
